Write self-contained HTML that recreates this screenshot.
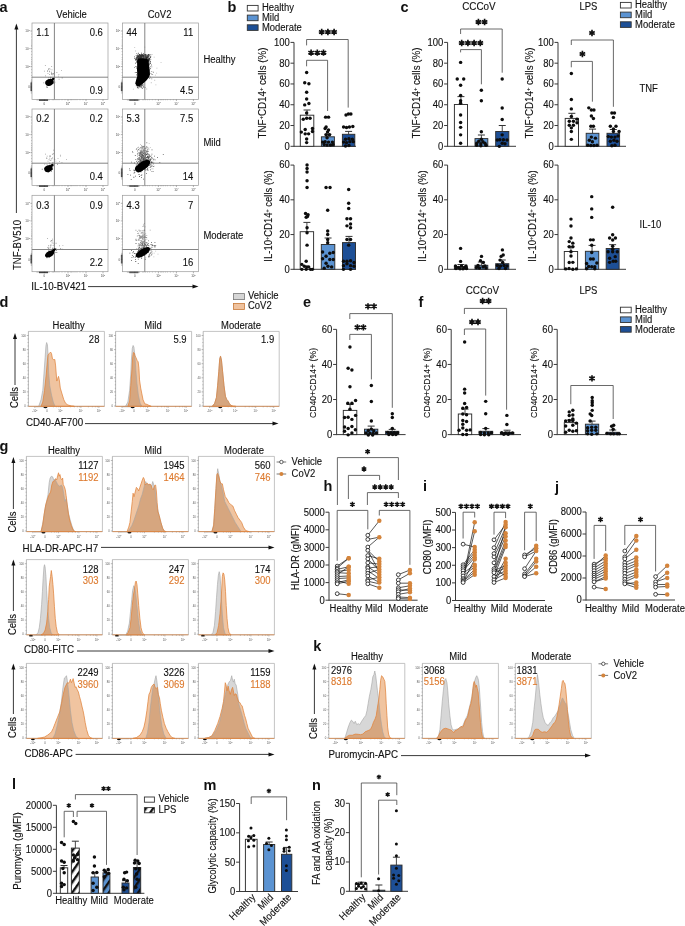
<!DOCTYPE html>
<html><head><meta charset="utf-8"><style>
html,body{margin:0;padding:0;background:#fff;}
svg{display:block;will-change:transform;font-family:"Liberation Sans", sans-serif;}
</style></head><body>
<svg width="685" height="926" viewBox="0 0 685 926">
<defs>
<filter id="soft" x="-20%" y="-20%" width="140%" height="140%"><feGaussianBlur stdDeviation="0.35"/></filter>
<pattern id="hatch" patternUnits="userSpaceOnUse" width="6" height="6" patternTransform="rotate(35)">
<rect width="6" height="6" fill="#fff"/><rect width="2.4" height="6" fill="#111"/></pattern>
<pattern id="hatchM" patternUnits="userSpaceOnUse" width="6" height="6" patternTransform="rotate(35)">
<rect width="6" height="6" fill="#5b93d2"/><rect width="2.4" height="6" fill="#111"/></pattern>
<pattern id="hatchD" patternUnits="userSpaceOnUse" width="6" height="6" patternTransform="rotate(35)">
<rect width="6" height="6" fill="#1d4f96"/><rect width="2.4" height="6" fill="#111"/></pattern>
</defs>
<rect width="685" height="926" fill="#fff"/>
<text x="0" y="0" font-size="14.5" font-weight="bold" fill="#111" transform="translate(-0.5 11.5)">a</text>
<text x="0" y="0" font-size="10.2" text-anchor="middle" fill="#111" stroke="#111" stroke-width="0.12" transform="translate(71.6 17.6) scale(0.93 1)">Vehicle</text>
<text x="0" y="0" font-size="10.2" text-anchor="middle" fill="#111" stroke="#111" stroke-width="0.12" transform="translate(159.6 17.6) scale(0.93 1)">CoV2</text>
<text x="0" y="0" font-size="10.2" fill="#111" stroke="#111" stroke-width="0.12" transform="translate(203.4 62.6) scale(0.93 1)">Healthy</text>
<text x="0" y="0" font-size="10.2" fill="#111" stroke="#111" stroke-width="0.12" transform="translate(203.4 145.8) scale(0.93 1)">Mild</text>
<text x="0" y="0" font-size="10.2" fill="#111" stroke="#111" stroke-width="0.12" transform="translate(203.4 238.8) scale(0.93 1)">Moderate</text>
<line x1="16.4" y1="27.6" x2="16.4" y2="213" stroke="#222" stroke-width="0.9"/>
<path d="M16.4 23.6L14.4 29.6L18.4 29.6Z" fill="#111" stroke="none" stroke-width="1"/>
<text x="0" y="0" font-size="10.2" text-anchor="middle" fill="#111" stroke="#111" stroke-width="0.12" transform="translate(20.6 245) rotate(-90) scale(0.93 1)">TNF-BV510</text>
<text x="0" y="0" font-size="10.2" fill="#111" stroke="#111" stroke-width="0.12" transform="translate(31.3 290) scale(0.96 1)">IL-10-BV421</text>
<line x1="88" y1="286.6" x2="194.5" y2="286.6" stroke="#222" stroke-width="0.9"/>
<path d="M198.5 286.6L192.5 284.6L192.5 288.6Z" fill="#111" stroke="none" stroke-width="1"/>
<rect x="32" y="23" width="76" height="76.4" fill="none" stroke="#9a9a9a" stroke-width="0.7"/>
<text x="0" y="0" font-size="3.2" text-anchor="end" fill="#444" transform="translate(29.8 32.2) scale(0.93 1)">10<tspan dy="-1.3" font-size="2.2">5</tspan></text>
<line x1="30.4" y1="31" x2="32" y2="31" stroke="#666" stroke-width="0.5"/>
<text x="0" y="0" font-size="3.2" text-anchor="end" fill="#444" transform="translate(29.8 49.8) scale(0.93 1)">10<tspan dy="-1.3" font-size="2.2">4</tspan></text>
<line x1="30.4" y1="48.6" x2="32" y2="48.6" stroke="#666" stroke-width="0.5"/>
<text x="0" y="0" font-size="3.2" text-anchor="end" fill="#444" transform="translate(29.8 67.8) scale(0.93 1)">10<tspan dy="-1.3" font-size="2.2">3</tspan></text>
<line x1="30.4" y1="66.6" x2="32" y2="66.6" stroke="#666" stroke-width="0.5"/>
<text x="0" y="0" font-size="3.2" text-anchor="end" fill="#444" transform="translate(29.8 88.2) scale(0.93 1)">0</text>
<line x1="30.4" y1="87" x2="32" y2="87" stroke="#666" stroke-width="0.5"/>
<text x="0" y="0" font-size="3.2" text-anchor="middle" fill="#444" transform="translate(44.4 104.6) scale(0.93 1)">0</text>
<line x1="44.4" y1="99.4" x2="44.4" y2="101" stroke="#666" stroke-width="0.5"/>
<text x="0" y="0" font-size="3.2" text-anchor="middle" fill="#444" transform="translate(68 104.6) scale(0.93 1)">10<tspan dy="-1.3" font-size="2.2">3</tspan></text>
<line x1="68" y1="99.4" x2="68" y2="101" stroke="#666" stroke-width="0.5"/>
<text x="0" y="0" font-size="3.2" text-anchor="middle" fill="#444" transform="translate(86 104.6) scale(0.93 1)">10<tspan dy="-1.3" font-size="2.2">4</tspan></text>
<line x1="86" y1="99.4" x2="86" y2="101" stroke="#666" stroke-width="0.5"/>
<text x="0" y="0" font-size="3.2" text-anchor="middle" fill="#444" transform="translate(103 104.6) scale(0.93 1)">10<tspan dy="-1.3" font-size="2.2">5</tspan></text>
<line x1="103" y1="99.4" x2="103" y2="101" stroke="#666" stroke-width="0.5"/>
<path d="M30.8 81h1.2M37 99.4v1.2M30.8 82.1h1.2M38.1 99.4v1.2M30.8 83.2h1.2M39.2 99.4v1.2M30.8 84.3h1.2M40.3 99.4v1.2M30.8 85.4h1.2M41.4 99.4v1.2M30.8 86.5h1.2M42.5 99.4v1.2M30.8 87.6h1.2M43.6 99.4v1.2M30.8 88.7h1.2M44.7 99.4v1.2M30.8 89.8h1.2M45.8 99.4v1.2M30.8 90.9h1.2M46.9 99.4v1.2M30.8 92h1.2M48 99.4v1.2M30.8 93.1h1.2M49.1 99.4v1.2M31.1 34h0.9M31.1 37h0.9M31.1 40h0.9M31.1 42h0.9M31.1 44h0.9M31.1 45.5h0.9M31.1 46.7h0.9M31.1 51.6h0.9M31.1 54.6h0.9M31.1 57.6h0.9M31.1 59.6h0.9M31.1 61.6h0.9M31.1 63.1h0.9M31.1 64.3h0.9M31.1 69.6h0.9M31.1 72.6h0.9M31.1 75.6h0.9M31.1 77.6h0.9M31.1 79.6h0.9M31.1 81.1h0.9M31.1 82.3h0.9M65 99.4v0.9M62 99.4v0.9M59 99.4v0.9M57 99.4v0.9M55 99.4v0.9M53.5 99.4v0.9M52.3 99.4v0.9M83 99.4v0.9M80 99.4v0.9M77 99.4v0.9M75 99.4v0.9M73 99.4v0.9M71.5 99.4v0.9M70.3 99.4v0.9" stroke="#777" stroke-width="0.4" fill="none"/>
<path d="M30.5 83h1.5M39.5 99.4v1.5M30.5 83.95h1.5M40.5 99.4v1.5M30.5 84.9h1.5M41.5 99.4v1.5M30.5 85.85h1.5M42.5 99.4v1.5M30.5 86.8h1.5M43.5 99.4v1.5M30.5 87.75h1.5M44.5 99.4v1.5M30.5 88.7h1.5M45.5 99.4v1.5M30.5 89.65h1.5M46.5 99.4v1.5M30.5 90.6h1.5M47.5 99.4v1.5" stroke="#1a1a1a" stroke-width="0.8" fill="none"/>
<path d="M49.23 74.05h0.8v0.8h-0.8zM49.32 70.74h0.8v0.8h-0.8zM47.21 71.15h0.8v0.8h-0.8zM53.34 73.7h0.8v0.8h-0.8zM53.11 73h0.8v0.8h-0.8zM51.18 72.74h0.8v0.8h-0.8zM45 75.42h0.8v0.8h-0.8zM51.52 74h0.8v0.8h-0.8zM44.93 65.02h0.8v0.8h-0.8zM47.33 70.13h0.8v0.8h-0.8zM50.92 71.82h0.8v0.8h-0.8zM51.56 69.43h0.8v0.8h-0.8zM50.93 73.58h0.8v0.8h-0.8zM48.02 78.87h0.8v0.8h-0.8zM51.67 76.79h0.8v0.8h-0.8zM48.14 69.04h0.8v0.8h-0.8zM48.97 71.57h0.8v0.8h-0.8zM51.9 72.99h0.8v0.8h-0.8zM48.66 68.17h0.8v0.8h-0.8zM48.44 76.88h0.8v0.8h-0.8zM47.58 72.98h0.8v0.8h-0.8zM51.28 66.04h0.8v0.8h-0.8zM50.15 77.22h0.8v0.8h-0.8zM43.96 70.71h0.8v0.8h-0.8zM49.68 68.73h0.8v0.8h-0.8z" fill="#888"/>
<path d="M57.99 75.81h0.8v0.8h-0.8zM50.14 78.48h0.8v0.8h-0.8zM58.68 78.84h0.8v0.8h-0.8zM61.76 77.09h0.8v0.8h-0.8zM56.48 72.1h0.8v0.8h-0.8zM58.46 74.16h0.8v0.8h-0.8zM54.19 72.21h0.8v0.8h-0.8zM52.13 74.41h0.8v0.8h-0.8zM61.16 69.9h0.8v0.8h-0.8zM50.17 76.72h0.8v0.8h-0.8zM61.77 77.74h0.8v0.8h-0.8zM48.4 68.45h0.8v0.8h-0.8z" fill="#999"/>
<path d="M49.88 79.9h0.8v0.8h-0.8zM47.18 85.45h0.8v0.8h-0.8zM52.74 81.24h0.8v0.8h-0.8zM50.56 82.77h0.8v0.8h-0.8zM54.52 81.82h0.8v0.8h-0.8zM51.43 82.75h0.8v0.8h-0.8zM46.17 86.62h0.8v0.8h-0.8zM52.65 82.26h0.8v0.8h-0.8zM43.39 82.54h0.8v0.8h-0.8zM50.33 76.88h0.8v0.8h-0.8zM49.85 84.58h0.8v0.8h-0.8zM47.18 87.13h0.8v0.8h-0.8zM50.93 81.08h0.8v0.8h-0.8zM50.97 83.19h0.8v0.8h-0.8zM50.82 84.57h0.8v0.8h-0.8zM47.28 81.7h0.8v0.8h-0.8zM52.46 80.99h0.8v0.8h-0.8zM47.83 85.13h0.8v0.8h-0.8zM53.25 79.45h0.8v0.8h-0.8zM45.49 83.1h0.8v0.8h-0.8zM48.83 81.45h0.8v0.8h-0.8zM52.58 78.15h0.8v0.8h-0.8zM51.97 77.73h0.8v0.8h-0.8zM47.82 84.29h0.8v0.8h-0.8zM53.42 82.86h0.8v0.8h-0.8z" fill="#666"/>
<line x1="54.4" y1="23" x2="54.4" y2="99.4" stroke="#777" stroke-width="0.9"/>
<line x1="32" y1="77.2" x2="108" y2="77.2" stroke="#777" stroke-width="0.9"/>
<g fill="#050505" filter="url(#soft)"><ellipse cx="49.4" cy="82.4" rx="4.3" ry="3.3" transform="rotate(-22 49.4 82.4)"/><ellipse cx="52.5" cy="79.6" rx="2.4" ry="1.2" transform="rotate(-40 52.5 79.6)"/></g>
<text x="0" y="0" font-size="10.2" fill="#111" stroke="#111" stroke-width="0.12" transform="translate(36.2 36.4) scale(0.93 1)">1.1</text>
<text x="0" y="0" font-size="10.2" text-anchor="end" fill="#111" stroke="#111" stroke-width="0.12" transform="translate(102.8 36.4) scale(0.93 1)">0.6</text>
<text x="0" y="0" font-size="10.2" text-anchor="end" fill="#111" stroke="#111" stroke-width="0.12" transform="translate(102.8 93.6) scale(0.93 1)">0.9</text>
<rect x="122.4" y="23" width="76" height="76.4" fill="none" stroke="#9a9a9a" stroke-width="0.7"/>
<text x="0" y="0" font-size="3.2" text-anchor="end" fill="#444" transform="translate(120.2 32.2) scale(0.93 1)">10<tspan dy="-1.3" font-size="2.2">5</tspan></text>
<line x1="120.8" y1="31" x2="122.4" y2="31" stroke="#666" stroke-width="0.5"/>
<text x="0" y="0" font-size="3.2" text-anchor="end" fill="#444" transform="translate(120.2 49.8) scale(0.93 1)">10<tspan dy="-1.3" font-size="2.2">4</tspan></text>
<line x1="120.8" y1="48.6" x2="122.4" y2="48.6" stroke="#666" stroke-width="0.5"/>
<text x="0" y="0" font-size="3.2" text-anchor="end" fill="#444" transform="translate(120.2 67.8) scale(0.93 1)">10<tspan dy="-1.3" font-size="2.2">3</tspan></text>
<line x1="120.8" y1="66.6" x2="122.4" y2="66.6" stroke="#666" stroke-width="0.5"/>
<text x="0" y="0" font-size="3.2" text-anchor="end" fill="#444" transform="translate(120.2 88.2) scale(0.93 1)">0</text>
<line x1="120.8" y1="87" x2="122.4" y2="87" stroke="#666" stroke-width="0.5"/>
<text x="0" y="0" font-size="3.2" text-anchor="middle" fill="#444" transform="translate(134.8 104.6) scale(0.93 1)">0</text>
<line x1="134.8" y1="99.4" x2="134.8" y2="101" stroke="#666" stroke-width="0.5"/>
<text x="0" y="0" font-size="3.2" text-anchor="middle" fill="#444" transform="translate(158.4 104.6) scale(0.93 1)">10<tspan dy="-1.3" font-size="2.2">3</tspan></text>
<line x1="158.4" y1="99.4" x2="158.4" y2="101" stroke="#666" stroke-width="0.5"/>
<text x="0" y="0" font-size="3.2" text-anchor="middle" fill="#444" transform="translate(176.4 104.6) scale(0.93 1)">10<tspan dy="-1.3" font-size="2.2">4</tspan></text>
<line x1="176.4" y1="99.4" x2="176.4" y2="101" stroke="#666" stroke-width="0.5"/>
<text x="0" y="0" font-size="3.2" text-anchor="middle" fill="#444" transform="translate(193.4 104.6) scale(0.93 1)">10<tspan dy="-1.3" font-size="2.2">5</tspan></text>
<line x1="193.4" y1="99.4" x2="193.4" y2="101" stroke="#666" stroke-width="0.5"/>
<path d="M121.2 81h1.2M127.4 99.4v1.2M121.2 82.1h1.2M128.5 99.4v1.2M121.2 83.2h1.2M129.6 99.4v1.2M121.2 84.3h1.2M130.7 99.4v1.2M121.2 85.4h1.2M131.8 99.4v1.2M121.2 86.5h1.2M132.9 99.4v1.2M121.2 87.6h1.2M134 99.4v1.2M121.2 88.7h1.2M135.1 99.4v1.2M121.2 89.8h1.2M136.2 99.4v1.2M121.2 90.9h1.2M137.3 99.4v1.2M121.2 92h1.2M138.4 99.4v1.2M121.2 93.1h1.2M139.5 99.4v1.2M121.5 34h0.9M121.5 37h0.9M121.5 40h0.9M121.5 42h0.9M121.5 44h0.9M121.5 45.5h0.9M121.5 46.7h0.9M121.5 51.6h0.9M121.5 54.6h0.9M121.5 57.6h0.9M121.5 59.6h0.9M121.5 61.6h0.9M121.5 63.1h0.9M121.5 64.3h0.9M121.5 69.6h0.9M121.5 72.6h0.9M121.5 75.6h0.9M121.5 77.6h0.9M121.5 79.6h0.9M121.5 81.1h0.9M121.5 82.3h0.9M155.4 99.4v0.9M152.4 99.4v0.9M149.4 99.4v0.9M147.4 99.4v0.9M145.4 99.4v0.9M143.9 99.4v0.9M142.7 99.4v0.9M173.4 99.4v0.9M170.4 99.4v0.9M167.4 99.4v0.9M165.4 99.4v0.9M163.4 99.4v0.9M161.9 99.4v0.9M160.7 99.4v0.9" stroke="#777" stroke-width="0.4" fill="none"/>
<path d="M120.9 83h1.5M129.9 99.4v1.5M120.9 83.95h1.5M130.9 99.4v1.5M120.9 84.9h1.5M131.9 99.4v1.5M120.9 85.85h1.5M132.9 99.4v1.5M120.9 86.8h1.5M133.9 99.4v1.5M120.9 87.75h1.5M134.9 99.4v1.5M120.9 88.7h1.5M135.9 99.4v1.5M120.9 89.65h1.5M136.9 99.4v1.5M120.9 90.6h1.5M137.9 99.4v1.5" stroke="#1a1a1a" stroke-width="0.8" fill="none"/>
<path d="M143.3 59.47h0.8v0.8h-0.8zM142.74 60.29h0.8v0.8h-0.8zM141.79 59.73h0.8v0.8h-0.8zM143.96 59.2h0.8v0.8h-0.8zM144.52 60.28h0.8v0.8h-0.8zM148.13 59.82h0.8v0.8h-0.8zM141.06 58.49h0.8v0.8h-0.8zM142.26 60.96h0.8v0.8h-0.8zM141.32 59.93h0.8v0.8h-0.8zM147.63 54.33h0.8v0.8h-0.8zM139.04 59.66h0.8v0.8h-0.8zM143.46 59.65h0.8v0.8h-0.8zM141.05 60.44h0.8v0.8h-0.8zM143.12 58.21h0.8v0.8h-0.8zM149.35 59.87h0.8v0.8h-0.8zM140.69 59.01h0.8v0.8h-0.8zM141.65 59.08h0.8v0.8h-0.8zM134.39 58.27h0.8v0.8h-0.8zM145.22 56.98h0.8v0.8h-0.8zM142.11 61.01h0.8v0.8h-0.8zM144.78 62.03h0.8v0.8h-0.8zM137.37 58.53h0.8v0.8h-0.8zM141.31 60.38h0.8v0.8h-0.8zM145.47 54.1h0.8v0.8h-0.8zM145.46 56.45h0.8v0.8h-0.8zM144.28 56.36h0.8v0.8h-0.8zM142.81 61.47h0.8v0.8h-0.8zM141.87 59.56h0.8v0.8h-0.8zM144.61 59.47h0.8v0.8h-0.8zM142.04 62.11h0.8v0.8h-0.8zM145.34 58.64h0.8v0.8h-0.8zM150.26 57.02h0.8v0.8h-0.8zM144.95 58.7h0.8v0.8h-0.8zM142.68 60.54h0.8v0.8h-0.8zM142.94 60.41h0.8v0.8h-0.8zM137.87 56.33h0.8v0.8h-0.8zM144.08 57.37h0.8v0.8h-0.8zM139.32 56.41h0.8v0.8h-0.8zM145.97 60.62h0.8v0.8h-0.8zM146.57 57.42h0.8v0.8h-0.8zM142.3 57.03h0.8v0.8h-0.8zM144.52 62.22h0.8v0.8h-0.8zM139.72 62.16h0.8v0.8h-0.8zM145.17 58.86h0.8v0.8h-0.8zM136.58 61.87h0.8v0.8h-0.8zM142.02 58.05h0.8v0.8h-0.8zM143.46 59.98h0.8v0.8h-0.8zM146.64 57.26h0.8v0.8h-0.8zM145.6 62.03h0.8v0.8h-0.8zM146.51 58.86h0.8v0.8h-0.8zM140.14 61.14h0.8v0.8h-0.8zM142.63 59.44h0.8v0.8h-0.8zM146.43 58.7h0.8v0.8h-0.8zM135.64 58.46h0.8v0.8h-0.8zM136.92 60.76h0.8v0.8h-0.8zM143.22 58.04h0.8v0.8h-0.8zM142.27 60.78h0.8v0.8h-0.8zM142.53 61.72h0.8v0.8h-0.8zM142.12 61.18h0.8v0.8h-0.8zM146.63 62.26h0.8v0.8h-0.8zM140.35 60.87h0.8v0.8h-0.8zM136.86 57.14h0.8v0.8h-0.8zM136.61 61.23h0.8v0.8h-0.8zM138.73 59.18h0.8v0.8h-0.8zM141.74 59.15h0.8v0.8h-0.8zM140.58 59.64h0.8v0.8h-0.8zM147.49 59.28h0.8v0.8h-0.8zM143.84 61.1h0.8v0.8h-0.8zM141.73 56.81h0.8v0.8h-0.8zM140.69 61.24h0.8v0.8h-0.8zM137.53 58.06h0.8v0.8h-0.8zM145.22 60.71h0.8v0.8h-0.8zM142.32 60.73h0.8v0.8h-0.8zM142.78 56.96h0.8v0.8h-0.8zM137.76 57.99h0.8v0.8h-0.8zM144.98 58.13h0.8v0.8h-0.8zM139.68 57.74h0.8v0.8h-0.8zM137.86 58.98h0.8v0.8h-0.8zM138.88 59.89h0.8v0.8h-0.8zM135.46 59.82h0.8v0.8h-0.8zM140.44 55.51h0.8v0.8h-0.8zM144.4 58.68h0.8v0.8h-0.8zM135.83 57.54h0.8v0.8h-0.8zM143.14 58.33h0.8v0.8h-0.8zM144.56 60.62h0.8v0.8h-0.8zM144.23 59.82h0.8v0.8h-0.8zM146.17 60.45h0.8v0.8h-0.8zM143.61 55.24h0.8v0.8h-0.8zM144.9 61.69h0.8v0.8h-0.8zM141.44 58.31h0.8v0.8h-0.8zM147.93 55.86h0.8v0.8h-0.8zM143.66 63.81h0.8v0.8h-0.8zM139.61 60.51h0.8v0.8h-0.8zM147.77 58.97h0.8v0.8h-0.8zM143.93 60.91h0.8v0.8h-0.8zM139.67 59.03h0.8v0.8h-0.8zM143.15 60.77h0.8v0.8h-0.8zM142.2 58.83h0.8v0.8h-0.8zM139.35 58.52h0.8v0.8h-0.8zM144.89 59.39h0.8v0.8h-0.8zM139.83 57.6h0.8v0.8h-0.8zM150.03 61.37h0.8v0.8h-0.8zM144.15 54.27h0.8v0.8h-0.8zM144.1 60.11h0.8v0.8h-0.8zM147.18 60.01h0.8v0.8h-0.8zM142.1 60.19h0.8v0.8h-0.8zM136.66 61.16h0.8v0.8h-0.8zM143.24 57.87h0.8v0.8h-0.8zM146.14 62.64h0.8v0.8h-0.8zM138.23 57.93h0.8v0.8h-0.8zM143.14 59.55h0.8v0.8h-0.8zM141.14 57.35h0.8v0.8h-0.8zM148.45 61.17h0.8v0.8h-0.8zM138.84 56.64h0.8v0.8h-0.8zM147.24 61.08h0.8v0.8h-0.8zM147.58 60.74h0.8v0.8h-0.8zM139.77 59.7h0.8v0.8h-0.8zM136.04 57.78h0.8v0.8h-0.8zM142.13 60.19h0.8v0.8h-0.8zM140.19 58.96h0.8v0.8h-0.8zM143.63 59.92h0.8v0.8h-0.8zM144.15 59.6h0.8v0.8h-0.8zM141.36 60.7h0.8v0.8h-0.8zM142.44 57.63h0.8v0.8h-0.8zM140.48 59.2h0.8v0.8h-0.8zM141.98 59.5h0.8v0.8h-0.8zM142.3 59.53h0.8v0.8h-0.8zM141.91 56.81h0.8v0.8h-0.8zM143.52 61.2h0.8v0.8h-0.8zM143.56 58.84h0.8v0.8h-0.8zM143.59 57.37h0.8v0.8h-0.8zM136.8 59.31h0.8v0.8h-0.8zM139.6 60.61h0.8v0.8h-0.8zM139.16 54.21h0.8v0.8h-0.8zM139.29 62.2h0.8v0.8h-0.8zM141.19 56.6h0.8v0.8h-0.8zM140.09 60.19h0.8v0.8h-0.8zM143.74 59.54h0.8v0.8h-0.8zM146.6 60.54h0.8v0.8h-0.8zM142.24 60.33h0.8v0.8h-0.8zM147.1 61.05h0.8v0.8h-0.8zM145.27 57.14h0.8v0.8h-0.8zM141.87 60.59h0.8v0.8h-0.8zM141.44 61.23h0.8v0.8h-0.8zM144.03 60.93h0.8v0.8h-0.8zM141.68 64.04h0.8v0.8h-0.8zM145.9 58.79h0.8v0.8h-0.8zM142.56 64.13h0.8v0.8h-0.8zM141.3 60.86h0.8v0.8h-0.8zM145.14 59.21h0.8v0.8h-0.8zM138.92 59.56h0.8v0.8h-0.8zM143.34 61.35h0.8v0.8h-0.8zM144.57 59.25h0.8v0.8h-0.8zM144.78 60.23h0.8v0.8h-0.8zM142.9 59.3h0.8v0.8h-0.8zM141.59 60.5h0.8v0.8h-0.8zM139.24 58.01h0.8v0.8h-0.8zM142.31 56.42h0.8v0.8h-0.8zM141.04 55.38h0.8v0.8h-0.8zM140.32 60.28h0.8v0.8h-0.8zM143.94 59.1h0.8v0.8h-0.8zM141.63 56.51h0.8v0.8h-0.8zM147.6 60.18h0.8v0.8h-0.8zM145.47 57.52h0.8v0.8h-0.8zM141.76 55.74h0.8v0.8h-0.8zM144.56 60.98h0.8v0.8h-0.8zM136.8 59.1h0.8v0.8h-0.8zM144.13 55.85h0.8v0.8h-0.8zM137.01 57.18h0.8v0.8h-0.8zM140.48 56.53h0.8v0.8h-0.8zM142.39 59.67h0.8v0.8h-0.8zM144.14 60.53h0.8v0.8h-0.8zM146.66 61.41h0.8v0.8h-0.8zM138.5 58.24h0.8v0.8h-0.8zM139.23 57.15h0.8v0.8h-0.8zM142.06 59.21h0.8v0.8h-0.8zM143.72 56.18h0.8v0.8h-0.8zM138.71 59.16h0.8v0.8h-0.8zM141.72 58.61h0.8v0.8h-0.8zM142.12 57.76h0.8v0.8h-0.8zM144.33 59.87h0.8v0.8h-0.8zM142.05 57.92h0.8v0.8h-0.8zM141.79 54.03h0.8v0.8h-0.8zM139.45 59.27h0.8v0.8h-0.8zM137.94 59.58h0.8v0.8h-0.8zM142.73 56.58h0.8v0.8h-0.8zM141.57 58.6h0.8v0.8h-0.8zM143.63 60.36h0.8v0.8h-0.8zM142.19 57.58h0.8v0.8h-0.8zM141.88 59.08h0.8v0.8h-0.8zM144.43 59.76h0.8v0.8h-0.8zM140.2 56.63h0.8v0.8h-0.8zM141.22 57.79h0.8v0.8h-0.8zM139.08 58.98h0.8v0.8h-0.8zM140.88 59.4h0.8v0.8h-0.8zM143.82 58.42h0.8v0.8h-0.8zM149.04 58.59h0.8v0.8h-0.8zM145.49 59.43h0.8v0.8h-0.8zM145.54 54.69h0.8v0.8h-0.8zM140.12 59.67h0.8v0.8h-0.8zM144.05 63.64h0.8v0.8h-0.8zM143.24 61.63h0.8v0.8h-0.8zM144.52 61h0.8v0.8h-0.8zM143.78 58.9h0.8v0.8h-0.8zM143.78 57.15h0.8v0.8h-0.8zM145.73 57.27h0.8v0.8h-0.8zM143.02 63.23h0.8v0.8h-0.8zM141.65 59.24h0.8v0.8h-0.8zM145.67 59.25h0.8v0.8h-0.8zM139.96 59.69h0.8v0.8h-0.8zM143.99 60.55h0.8v0.8h-0.8zM140.06 62.53h0.8v0.8h-0.8zM147.13 59.23h0.8v0.8h-0.8zM143.08 58.39h0.8v0.8h-0.8zM146.4 57.86h0.8v0.8h-0.8zM144.25 58.29h0.8v0.8h-0.8zM140.29 60.57h0.8v0.8h-0.8zM146.17 59.18h0.8v0.8h-0.8zM140.34 60.74h0.8v0.8h-0.8zM142.16 59.79h0.8v0.8h-0.8zM146.72 61.35h0.8v0.8h-0.8zM140.79 63.54h0.8v0.8h-0.8zM142.31 60.69h0.8v0.8h-0.8zM140.42 59.12h0.8v0.8h-0.8zM137.23 62.59h0.8v0.8h-0.8zM146.26 56.89h0.8v0.8h-0.8zM137.93 56.12h0.8v0.8h-0.8zM145.71 58.33h0.8v0.8h-0.8zM142.12 58.61h0.8v0.8h-0.8zM141.95 57.13h0.8v0.8h-0.8zM142.37 56.47h0.8v0.8h-0.8zM142.09 59.79h0.8v0.8h-0.8zM143.66 58.76h0.8v0.8h-0.8zM139.68 59.5h0.8v0.8h-0.8zM140.89 62.18h0.8v0.8h-0.8zM144.53 58.98h0.8v0.8h-0.8zM140.93 57.86h0.8v0.8h-0.8zM139.58 58.53h0.8v0.8h-0.8zM143.15 60.18h0.8v0.8h-0.8zM143.95 63.19h0.8v0.8h-0.8zM140.26 59.22h0.8v0.8h-0.8zM150.4 55.65h0.8v0.8h-0.8zM140.79 59.52h0.8v0.8h-0.8zM142.75 59.97h0.8v0.8h-0.8zM141.61 59.9h0.8v0.8h-0.8zM142.45 60.67h0.8v0.8h-0.8zM136.81 57.52h0.8v0.8h-0.8zM142.29 57.24h0.8v0.8h-0.8zM139.27 60.39h0.8v0.8h-0.8zM140.42 60.41h0.8v0.8h-0.8zM144.46 59.78h0.8v0.8h-0.8zM143.77 59h0.8v0.8h-0.8zM138.21 59.14h0.8v0.8h-0.8zM143.62 58.19h0.8v0.8h-0.8zM142.01 60.62h0.8v0.8h-0.8zM139.75 60.42h0.8v0.8h-0.8zM147.7 58.15h0.8v0.8h-0.8zM142.72 58.91h0.8v0.8h-0.8zM146.77 59.8h0.8v0.8h-0.8zM144.9 57.89h0.8v0.8h-0.8zM142.25 59.18h0.8v0.8h-0.8zM137.15 61.94h0.8v0.8h-0.8zM144.91 55.88h0.8v0.8h-0.8zM144.46 58.95h0.8v0.8h-0.8zM143.6 59.9h0.8v0.8h-0.8zM137.95 58.8h0.8v0.8h-0.8zM146.63 58.11h0.8v0.8h-0.8zM139.33 56.62h0.8v0.8h-0.8zM138.76 59.84h0.8v0.8h-0.8zM147.21 60.02h0.8v0.8h-0.8zM143.01 63.44h0.8v0.8h-0.8zM140.79 57.92h0.8v0.8h-0.8zM143.83 60.24h0.8v0.8h-0.8zM139.36 56.98h0.8v0.8h-0.8zM143.14 59.67h0.8v0.8h-0.8zM138.51 58.82h0.8v0.8h-0.8zM140.73 60.07h0.8v0.8h-0.8zM141.96 59.04h0.8v0.8h-0.8zM141.27 61.2h0.8v0.8h-0.8zM146.33 58.5h0.8v0.8h-0.8zM144.75 57.76h0.8v0.8h-0.8zM142.51 60.62h0.8v0.8h-0.8zM146.69 58.47h0.8v0.8h-0.8zM142.09 59.57h0.8v0.8h-0.8zM137.96 59.23h0.8v0.8h-0.8zM140.34 59.91h0.8v0.8h-0.8zM139.02 55.44h0.8v0.8h-0.8zM142.41 59.7h0.8v0.8h-0.8zM140.71 60.89h0.8v0.8h-0.8zM141.51 58.05h0.8v0.8h-0.8zM143.69 56.22h0.8v0.8h-0.8zM140.34 59.16h0.8v0.8h-0.8zM144.76 58.89h0.8v0.8h-0.8zM143.19 57.95h0.8v0.8h-0.8zM143.17 62.36h0.8v0.8h-0.8zM140.31 63.7h0.8v0.8h-0.8zM140.43 59.23h0.8v0.8h-0.8zM142.8 61.15h0.8v0.8h-0.8zM138.71 55.21h0.8v0.8h-0.8zM144.06 60.71h0.8v0.8h-0.8zM144.11 64.2h0.8v0.8h-0.8zM142.89 59.68h0.8v0.8h-0.8zM144.99 59.9h0.8v0.8h-0.8zM147.12 56.85h0.8v0.8h-0.8zM141.21 52.66h0.8v0.8h-0.8zM144.66 58.49h0.8v0.8h-0.8zM144.98 63.29h0.8v0.8h-0.8zM142.28 58.72h0.8v0.8h-0.8zM140.85 57.61h0.8v0.8h-0.8zM140.47 60.41h0.8v0.8h-0.8zM142.41 59.33h0.8v0.8h-0.8zM141.8 60.94h0.8v0.8h-0.8zM143.73 58.93h0.8v0.8h-0.8zM144.23 58.91h0.8v0.8h-0.8zM138.96 61.97h0.8v0.8h-0.8zM143.65 57.38h0.8v0.8h-0.8zM145.43 59.86h0.8v0.8h-0.8zM137.76 62.26h0.8v0.8h-0.8zM143.27 60.89h0.8v0.8h-0.8zM142.87 58.92h0.8v0.8h-0.8zM137.81 61.05h0.8v0.8h-0.8zM142.39 58.66h0.8v0.8h-0.8zM143.32 59.35h0.8v0.8h-0.8zM144.26 58.5h0.8v0.8h-0.8zM142.19 55.14h0.8v0.8h-0.8zM141.07 60.48h0.8v0.8h-0.8zM146.18 58.51h0.8v0.8h-0.8zM141.95 62.21h0.8v0.8h-0.8zM141.36 60.59h0.8v0.8h-0.8zM147.17 59.28h0.8v0.8h-0.8zM145.86 57.85h0.8v0.8h-0.8zM142.9 59.05h0.8v0.8h-0.8zM142.63 61.35h0.8v0.8h-0.8zM149.23 57.94h0.8v0.8h-0.8zM140.63 60.15h0.8v0.8h-0.8zM139.24 60.14h0.8v0.8h-0.8zM143.96 58.67h0.8v0.8h-0.8zM143.84 56.26h0.8v0.8h-0.8zM144.5 56.26h0.8v0.8h-0.8zM140.28 58.14h0.8v0.8h-0.8zM141.14 60.83h0.8v0.8h-0.8zM142.54 58.44h0.8v0.8h-0.8zM143.88 62.2h0.8v0.8h-0.8zM142.32 59.9h0.8v0.8h-0.8zM145.9 59.71h0.8v0.8h-0.8zM138.58 63.93h0.8v0.8h-0.8zM148.7 55.43h0.8v0.8h-0.8zM142.19 59.99h0.8v0.8h-0.8zM145.1 60.47h0.8v0.8h-0.8zM141.51 57.2h0.8v0.8h-0.8zM142.6 61.16h0.8v0.8h-0.8zM139.14 57.25h0.8v0.8h-0.8zM142.23 55.52h0.8v0.8h-0.8zM141.55 58.37h0.8v0.8h-0.8zM143.61 57.87h0.8v0.8h-0.8zM139.74 58.45h0.8v0.8h-0.8zM142.16 57.94h0.8v0.8h-0.8zM142.34 60.63h0.8v0.8h-0.8zM145.74 62.44h0.8v0.8h-0.8zM140.03 58.4h0.8v0.8h-0.8zM135.1 62.81h0.8v0.8h-0.8zM140.2 59.14h0.8v0.8h-0.8zM143.82 56.62h0.8v0.8h-0.8zM143.65 59.15h0.8v0.8h-0.8zM137 59.75h0.8v0.8h-0.8zM145.76 55.65h0.8v0.8h-0.8zM144.64 59.6h0.8v0.8h-0.8zM143.68 60.04h0.8v0.8h-0.8zM146.08 58.78h0.8v0.8h-0.8zM144.83 58.42h0.8v0.8h-0.8zM144.41 57.65h0.8v0.8h-0.8zM141.99 62.49h0.8v0.8h-0.8zM143.59 58.9h0.8v0.8h-0.8zM138.98 57.7h0.8v0.8h-0.8zM142.86 60.98h0.8v0.8h-0.8zM143.54 60.2h0.8v0.8h-0.8zM142.18 61.77h0.8v0.8h-0.8zM141.17 58.16h0.8v0.8h-0.8zM144.88 59.32h0.8v0.8h-0.8zM141.49 58.11h0.8v0.8h-0.8zM141.56 60.38h0.8v0.8h-0.8zM143.33 56.9h0.8v0.8h-0.8zM143.54 59.54h0.8v0.8h-0.8zM139.4 60.67h0.8v0.8h-0.8zM141.49 58.56h0.8v0.8h-0.8zM144.61 61.71h0.8v0.8h-0.8zM140.3 60.03h0.8v0.8h-0.8zM139.76 63.6h0.8v0.8h-0.8zM140.87 61.47h0.8v0.8h-0.8zM140.42 60.74h0.8v0.8h-0.8zM148.73 54.37h0.8v0.8h-0.8zM141.04 60.15h0.8v0.8h-0.8zM142.03 57.93h0.8v0.8h-0.8zM148.54 59.35h0.8v0.8h-0.8zM137.53 60.82h0.8v0.8h-0.8zM137.31 61.39h0.8v0.8h-0.8zM140.62 59.48h0.8v0.8h-0.8zM145.96 59.42h0.8v0.8h-0.8zM138.27 55.98h0.8v0.8h-0.8zM145.73 60.61h0.8v0.8h-0.8zM139.93 60.83h0.8v0.8h-0.8zM143.74 60.43h0.8v0.8h-0.8zM135.75 58.63h0.8v0.8h-0.8zM144.91 60.59h0.8v0.8h-0.8zM144.86 54.53h0.8v0.8h-0.8zM142.79 60.14h0.8v0.8h-0.8zM149.7 57.39h0.8v0.8h-0.8zM141.35 59.27h0.8v0.8h-0.8zM144.87 58.36h0.8v0.8h-0.8zM145.63 57.7h0.8v0.8h-0.8zM143.07 58.2h0.8v0.8h-0.8zM142.76 57.89h0.8v0.8h-0.8zM137.67 61.28h0.8v0.8h-0.8zM143.18 58.14h0.8v0.8h-0.8zM142.88 61.08h0.8v0.8h-0.8zM139.47 58.99h0.8v0.8h-0.8zM143.86 60.2h0.8v0.8h-0.8zM141.33 55.2h0.8v0.8h-0.8zM145.9 59.82h0.8v0.8h-0.8zM142.34 58.67h0.8v0.8h-0.8zM143.06 58.39h0.8v0.8h-0.8zM139.33 57.79h0.8v0.8h-0.8zM140.57 58.04h0.8v0.8h-0.8zM138.94 60.41h0.8v0.8h-0.8zM138.5 60.45h0.8v0.8h-0.8zM139.36 59.87h0.8v0.8h-0.8zM146.28 59.59h0.8v0.8h-0.8zM140.18 59.29h0.8v0.8h-0.8zM142.73 55.91h0.8v0.8h-0.8zM140.54 59.51h0.8v0.8h-0.8zM140.94 59.35h0.8v0.8h-0.8zM144.43 60.66h0.8v0.8h-0.8zM144.93 60.32h0.8v0.8h-0.8zM141.47 59.17h0.8v0.8h-0.8zM141.51 58.6h0.8v0.8h-0.8zM141.78 55.92h0.8v0.8h-0.8zM141.33 59.15h0.8v0.8h-0.8zM139.48 59.15h0.8v0.8h-0.8zM143.8 58.89h0.8v0.8h-0.8zM148.32 54.25h0.8v0.8h-0.8zM141.7 55.73h0.8v0.8h-0.8zM145.14 64.24h0.8v0.8h-0.8zM135.04 59.44h0.8v0.8h-0.8zM143.81 58.63h0.8v0.8h-0.8zM143.9 54.94h0.8v0.8h-0.8zM144.77 59.91h0.8v0.8h-0.8zM142.37 58.08h0.8v0.8h-0.8zM144.15 58.28h0.8v0.8h-0.8zM142.95 58.23h0.8v0.8h-0.8zM135.78 59.14h0.8v0.8h-0.8zM142.89 60.63h0.8v0.8h-0.8zM139.76 59.14h0.8v0.8h-0.8zM144.09 59.48h0.8v0.8h-0.8zM145.9 62.98h0.8v0.8h-0.8zM139.66 55.55h0.8v0.8h-0.8zM144.78 62.11h0.8v0.8h-0.8zM144.97 60.75h0.8v0.8h-0.8zM140.51 57.84h0.8v0.8h-0.8zM144.88 57.47h0.8v0.8h-0.8zM137.04 57.3h0.8v0.8h-0.8zM149.53 62.85h0.8v0.8h-0.8zM140.31 57.81h0.8v0.8h-0.8zM142.97 57.78h0.8v0.8h-0.8zM146.1 59.05h0.8v0.8h-0.8zM139.15 61.69h0.8v0.8h-0.8zM140.61 59.62h0.8v0.8h-0.8zM142.26 58.6h0.8v0.8h-0.8zM143.24 57.88h0.8v0.8h-0.8zM136.95 55h0.8v0.8h-0.8zM138.63 57.76h0.8v0.8h-0.8zM142.23 59.31h0.8v0.8h-0.8zM143.91 59.43h0.8v0.8h-0.8zM140 57.85h0.8v0.8h-0.8zM136.16 58.88h0.8v0.8h-0.8zM143.71 60.21h0.8v0.8h-0.8zM141.95 58.87h0.8v0.8h-0.8zM145.02 59.23h0.8v0.8h-0.8zM144.44 60.31h0.8v0.8h-0.8zM142.92 61.68h0.8v0.8h-0.8zM140.64 58.52h0.8v0.8h-0.8zM139.96 57.69h0.8v0.8h-0.8zM146.81 62.54h0.8v0.8h-0.8zM142.37 60.28h0.8v0.8h-0.8zM145.71 60.73h0.8v0.8h-0.8zM145.8 56.8h0.8v0.8h-0.8zM140.45 60.06h0.8v0.8h-0.8zM146.46 59.4h0.8v0.8h-0.8zM139.81 58.53h0.8v0.8h-0.8zM140.38 57.57h0.8v0.8h-0.8zM146.65 58.01h0.8v0.8h-0.8zM142.36 63.31h0.8v0.8h-0.8zM145.74 59.84h0.8v0.8h-0.8zM140.53 59.98h0.8v0.8h-0.8zM147 60.38h0.8v0.8h-0.8zM145.96 59.39h0.8v0.8h-0.8zM143.8 58.82h0.8v0.8h-0.8zM143.54 61.67h0.8v0.8h-0.8zM138.15 59.08h0.8v0.8h-0.8zM143 58.11h0.8v0.8h-0.8zM141.41 60.7h0.8v0.8h-0.8zM148.1 60.4h0.8v0.8h-0.8zM143.25 56.25h0.8v0.8h-0.8zM147.89 59.35h0.8v0.8h-0.8zM142.2 57.08h0.8v0.8h-0.8zM142.14 57.12h0.8v0.8h-0.8zM142.51 60.09h0.8v0.8h-0.8zM142.39 59.73h0.8v0.8h-0.8zM139.83 61.92h0.8v0.8h-0.8zM140.41 55.75h0.8v0.8h-0.8zM141.76 57.75h0.8v0.8h-0.8zM139.37 58.53h0.8v0.8h-0.8zM143.14 56.95h0.8v0.8h-0.8zM141.9 61.91h0.8v0.8h-0.8zM144.28 58.91h0.8v0.8h-0.8zM142.67 58.97h0.8v0.8h-0.8zM142.16 60.59h0.8v0.8h-0.8zM142.03 54.63h0.8v0.8h-0.8zM142.24 57.51h0.8v0.8h-0.8zM144.19 58.04h0.8v0.8h-0.8zM142.73 63.34h0.8v0.8h-0.8z" fill="#111"/>
<path d="M139.16 54.96h0.8v0.8h-0.8zM138.07 53.57h0.8v0.8h-0.8zM136.66 56.6h0.8v0.8h-0.8zM140.39 54.15h0.8v0.8h-0.8zM137.85 56.88h0.8v0.8h-0.8zM139.97 55.8h0.8v0.8h-0.8zM143.29 57.69h0.8v0.8h-0.8zM148.12 57.34h0.8v0.8h-0.8zM142.73 56.4h0.8v0.8h-0.8zM147.71 57.77h0.8v0.8h-0.8zM141.37 56.7h0.8v0.8h-0.8zM143.16 56.26h0.8v0.8h-0.8zM140.8 54.74h0.8v0.8h-0.8zM140.7 54.5h0.8v0.8h-0.8zM145.97 56.79h0.8v0.8h-0.8zM138.68 57.74h0.8v0.8h-0.8zM144.98 54.1h0.8v0.8h-0.8zM147.82 57.09h0.8v0.8h-0.8zM148.49 54.85h0.8v0.8h-0.8zM143.89 56.67h0.8v0.8h-0.8zM142.91 56.39h0.8v0.8h-0.8zM145.46 54.56h0.8v0.8h-0.8zM138.57 54.67h0.8v0.8h-0.8zM140.63 55.53h0.8v0.8h-0.8zM143.4 56.49h0.8v0.8h-0.8zM142.39 55.46h0.8v0.8h-0.8zM140.97 57.25h0.8v0.8h-0.8zM144.59 56.31h0.8v0.8h-0.8zM141.33 57.91h0.8v0.8h-0.8zM140.52 56.91h0.8v0.8h-0.8zM145.76 55.91h0.8v0.8h-0.8zM144.78 54.97h0.8v0.8h-0.8zM145.34 56.42h0.8v0.8h-0.8zM137.54 56.94h0.8v0.8h-0.8zM139.62 57.61h0.8v0.8h-0.8zM140.26 56.02h0.8v0.8h-0.8zM143.15 55.83h0.8v0.8h-0.8zM143.08 55.59h0.8v0.8h-0.8zM144.32 56.21h0.8v0.8h-0.8zM142.93 53.17h0.8v0.8h-0.8zM145.78 56.24h0.8v0.8h-0.8zM136.95 56.31h0.8v0.8h-0.8zM143.7 57.38h0.8v0.8h-0.8zM139.05 57.9h0.8v0.8h-0.8zM141.82 58.83h0.8v0.8h-0.8zM141.86 56.95h0.8v0.8h-0.8zM141.2 54.97h0.8v0.8h-0.8zM145.59 57.2h0.8v0.8h-0.8zM146.92 57.14h0.8v0.8h-0.8zM140.58 54.37h0.8v0.8h-0.8zM140.35 55.46h0.8v0.8h-0.8zM139.85 56.84h0.8v0.8h-0.8zM143.28 55.9h0.8v0.8h-0.8zM142.82 56.04h0.8v0.8h-0.8zM142.94 57.03h0.8v0.8h-0.8zM145.18 55.45h0.8v0.8h-0.8zM137.78 57.77h0.8v0.8h-0.8zM142.64 57.42h0.8v0.8h-0.8zM137.37 55.84h0.8v0.8h-0.8zM142.38 54.61h0.8v0.8h-0.8zM140.75 57h0.8v0.8h-0.8zM145.54 57.95h0.8v0.8h-0.8zM139.71 54.66h0.8v0.8h-0.8zM143.86 57.23h0.8v0.8h-0.8zM142.88 54.77h0.8v0.8h-0.8zM144.65 57.07h0.8v0.8h-0.8zM143.96 55.66h0.8v0.8h-0.8zM143.21 57.07h0.8v0.8h-0.8zM140.62 54.17h0.8v0.8h-0.8zM143.29 56.73h0.8v0.8h-0.8zM142.34 57.18h0.8v0.8h-0.8zM140.54 56.11h0.8v0.8h-0.8zM141.38 56.83h0.8v0.8h-0.8zM147.09 55.92h0.8v0.8h-0.8zM148.46 57.88h0.8v0.8h-0.8zM144.67 56.85h0.8v0.8h-0.8zM147.61 56h0.8v0.8h-0.8zM141.96 55.03h0.8v0.8h-0.8zM143.72 57.68h0.8v0.8h-0.8zM143.9 56.67h0.8v0.8h-0.8zM141.7 56.39h0.8v0.8h-0.8zM138.02 57.35h0.8v0.8h-0.8zM141.07 54.98h0.8v0.8h-0.8zM140.05 55.29h0.8v0.8h-0.8zM144.87 57.36h0.8v0.8h-0.8zM138.23 57.22h0.8v0.8h-0.8zM144.96 55.56h0.8v0.8h-0.8zM137.84 55.38h0.8v0.8h-0.8zM140.4 56.58h0.8v0.8h-0.8zM141.23 53.97h0.8v0.8h-0.8zM143 54.51h0.8v0.8h-0.8zM145.02 54.87h0.8v0.8h-0.8zM140.22 55.26h0.8v0.8h-0.8zM140.67 57.63h0.8v0.8h-0.8zM144.86 56.86h0.8v0.8h-0.8zM143.26 54.5h0.8v0.8h-0.8zM140.74 55.59h0.8v0.8h-0.8zM139.37 56.76h0.8v0.8h-0.8zM140.08 55.42h0.8v0.8h-0.8zM139.17 53.94h0.8v0.8h-0.8zM144.09 57.66h0.8v0.8h-0.8zM142.82 55.13h0.8v0.8h-0.8zM134.18 56.39h0.8v0.8h-0.8zM145.95 56.53h0.8v0.8h-0.8zM145.08 57.83h0.8v0.8h-0.8zM145.68 55.71h0.8v0.8h-0.8zM145.46 57.05h0.8v0.8h-0.8zM137.69 55.75h0.8v0.8h-0.8zM138.03 56.08h0.8v0.8h-0.8zM144.03 55.03h0.8v0.8h-0.8zM136.13 57.63h0.8v0.8h-0.8zM143.43 57.82h0.8v0.8h-0.8zM138.33 57.37h0.8v0.8h-0.8zM148.52 58.41h0.8v0.8h-0.8zM141.67 56.5h0.8v0.8h-0.8zM141.84 57.3h0.8v0.8h-0.8zM145.41 56.3h0.8v0.8h-0.8zM138.22 57.02h0.8v0.8h-0.8zM140.89 56.89h0.8v0.8h-0.8zM143.09 57.99h0.8v0.8h-0.8zM145.71 55.7h0.8v0.8h-0.8zM143.35 58.14h0.8v0.8h-0.8zM140.69 56.68h0.8v0.8h-0.8zM145.87 57.58h0.8v0.8h-0.8zM143.86 54.75h0.8v0.8h-0.8zM138.52 56.47h0.8v0.8h-0.8zM143.46 59h0.8v0.8h-0.8zM139.72 57.45h0.8v0.8h-0.8zM144.61 54.36h0.8v0.8h-0.8zM139.85 56.38h0.8v0.8h-0.8zM140.82 56.03h0.8v0.8h-0.8zM143.71 55.31h0.8v0.8h-0.8zM143.7 55.5h0.8v0.8h-0.8zM140.67 56.79h0.8v0.8h-0.8zM140.58 56.52h0.8v0.8h-0.8zM147.1 56.23h0.8v0.8h-0.8zM141.86 57.01h0.8v0.8h-0.8zM141.2 57.39h0.8v0.8h-0.8zM138.45 56.88h0.8v0.8h-0.8zM140.76 55.32h0.8v0.8h-0.8zM147.61 55.26h0.8v0.8h-0.8zM147.57 56.92h0.8v0.8h-0.8zM146.66 55.13h0.8v0.8h-0.8zM145.9 57.8h0.8v0.8h-0.8zM141.95 56.06h0.8v0.8h-0.8zM149.67 56.4h0.8v0.8h-0.8zM141.03 55.51h0.8v0.8h-0.8zM143.64 56.56h0.8v0.8h-0.8zM142.83 58.09h0.8v0.8h-0.8zM141.32 56.72h0.8v0.8h-0.8zM146.68 55.1h0.8v0.8h-0.8zM145.42 58.22h0.8v0.8h-0.8zM138.24 54.99h0.8v0.8h-0.8zM139.18 54.17h0.8v0.8h-0.8zM143.66 54.16h0.8v0.8h-0.8zM143.8 57.8h0.8v0.8h-0.8zM137.45 55.85h0.8v0.8h-0.8zM136.55 57.06h0.8v0.8h-0.8zM140.09 55.91h0.8v0.8h-0.8zM142.46 56.8h0.8v0.8h-0.8zM141.26 56.22h0.8v0.8h-0.8zM140.66 56.33h0.8v0.8h-0.8zM138.78 56.27h0.8v0.8h-0.8zM136.5 55.66h0.8v0.8h-0.8zM148.05 56.29h0.8v0.8h-0.8zM138.52 56.48h0.8v0.8h-0.8zM139.38 54.38h0.8v0.8h-0.8zM140.09 57.01h0.8v0.8h-0.8zM143.45 56.09h0.8v0.8h-0.8zM139.52 55.01h0.8v0.8h-0.8z" fill="#333"/>
<path d="M139.12 69.71h0.8v0.8h-0.8zM136.36 53.22h0.8v0.8h-0.8zM135.86 85.33h0.8v0.8h-0.8zM136.12 67.46h0.8v0.8h-0.8zM137.75 66.9h0.8v0.8h-0.8zM137.17 58.39h0.8v0.8h-0.8zM136.24 79.82h0.8v0.8h-0.8zM136.59 73.92h0.8v0.8h-0.8zM135.47 66.08h0.8v0.8h-0.8zM137.81 75.26h0.8v0.8h-0.8zM136.15 72.17h0.8v0.8h-0.8zM137.96 62.84h0.8v0.8h-0.8zM138.07 61.71h0.8v0.8h-0.8zM136.54 67.87h0.8v0.8h-0.8zM134.24 67.23h0.8v0.8h-0.8zM136.3 57.76h0.8v0.8h-0.8zM136.99 73.34h0.8v0.8h-0.8zM137.01 76.86h0.8v0.8h-0.8zM136.11 58.81h0.8v0.8h-0.8zM139.36 70.79h0.8v0.8h-0.8zM138.63 62.21h0.8v0.8h-0.8zM138.47 69.82h0.8v0.8h-0.8zM138.28 68.18h0.8v0.8h-0.8zM138.95 63.46h0.8v0.8h-0.8zM136.34 57.66h0.8v0.8h-0.8zM138.89 62.83h0.8v0.8h-0.8zM136.25 61.42h0.8v0.8h-0.8zM136.97 59.1h0.8v0.8h-0.8zM137.15 63.61h0.8v0.8h-0.8zM136.84 61.28h0.8v0.8h-0.8zM137.54 64.77h0.8v0.8h-0.8zM137.64 69.75h0.8v0.8h-0.8zM137.91 52.67h0.8v0.8h-0.8zM136.86 62.43h0.8v0.8h-0.8zM138.43 56.96h0.8v0.8h-0.8zM136.64 65.94h0.8v0.8h-0.8zM137.1 74.94h0.8v0.8h-0.8zM136.97 74.75h0.8v0.8h-0.8zM135.74 55.31h0.8v0.8h-0.8zM138.96 71.05h0.8v0.8h-0.8zM138.09 68.86h0.8v0.8h-0.8zM138.08 59.49h0.8v0.8h-0.8zM138.64 64.27h0.8v0.8h-0.8zM138.68 68.61h0.8v0.8h-0.8zM135.13 58.99h0.8v0.8h-0.8zM138.85 67.04h0.8v0.8h-0.8zM137.03 69.7h0.8v0.8h-0.8zM136.99 64.19h0.8v0.8h-0.8zM137.62 69.01h0.8v0.8h-0.8zM139.32 68.32h0.8v0.8h-0.8zM139.76 80.62h0.8v0.8h-0.8zM139.56 75.43h0.8v0.8h-0.8zM137.66 68.96h0.8v0.8h-0.8zM137.33 62.88h0.8v0.8h-0.8zM137.42 63.51h0.8v0.8h-0.8zM139.47 71.74h0.8v0.8h-0.8zM136.96 54.59h0.8v0.8h-0.8zM137.44 65.09h0.8v0.8h-0.8zM136.2 60.05h0.8v0.8h-0.8zM134.8 71.98h0.8v0.8h-0.8zM137.42 86.07h0.8v0.8h-0.8zM137.46 66.96h0.8v0.8h-0.8zM139.23 68.94h0.8v0.8h-0.8zM137.7 65.4h0.8v0.8h-0.8zM136.77 78.5h0.8v0.8h-0.8zM138.7 80.01h0.8v0.8h-0.8zM137.08 68.21h0.8v0.8h-0.8zM136.44 74.77h0.8v0.8h-0.8zM135.83 71.95h0.8v0.8h-0.8zM138.82 77.88h0.8v0.8h-0.8z" fill="#555"/>
<path d="M147.78 74.54h0.8v0.8h-0.8zM148.07 63.46h0.8v0.8h-0.8zM147.28 74.93h0.8v0.8h-0.8zM151.14 64.43h0.8v0.8h-0.8zM148.01 65.97h0.8v0.8h-0.8zM152.26 74.03h0.8v0.8h-0.8zM148.29 57.23h0.8v0.8h-0.8zM148.13 75.12h0.8v0.8h-0.8zM151.43 66.4h0.8v0.8h-0.8zM148.1 64.94h0.8v0.8h-0.8zM146.55 73.45h0.8v0.8h-0.8zM147.59 74.38h0.8v0.8h-0.8zM146.78 60.38h0.8v0.8h-0.8zM149.37 63.42h0.8v0.8h-0.8zM150.02 68.05h0.8v0.8h-0.8zM147.47 71.73h0.8v0.8h-0.8zM150.09 56.52h0.8v0.8h-0.8zM151.37 70.98h0.8v0.8h-0.8zM149.99 56.84h0.8v0.8h-0.8zM148.06 65.9h0.8v0.8h-0.8zM150.4 59.24h0.8v0.8h-0.8zM147.85 55.82h0.8v0.8h-0.8zM148.69 70.08h0.8v0.8h-0.8zM146.81 64.45h0.8v0.8h-0.8zM149.66 77.51h0.8v0.8h-0.8zM149.86 66.18h0.8v0.8h-0.8zM147.47 62.38h0.8v0.8h-0.8zM148.14 68.88h0.8v0.8h-0.8zM148.94 78h0.8v0.8h-0.8zM149.37 61.57h0.8v0.8h-0.8zM151.01 73.69h0.8v0.8h-0.8zM149.13 63.67h0.8v0.8h-0.8zM146.57 61.87h0.8v0.8h-0.8zM150.19 63.18h0.8v0.8h-0.8zM147.28 69.17h0.8v0.8h-0.8zM149.32 71.64h0.8v0.8h-0.8zM149.85 76.45h0.8v0.8h-0.8zM147.91 73.87h0.8v0.8h-0.8zM147.72 72.16h0.8v0.8h-0.8zM149.23 69.46h0.8v0.8h-0.8zM150.26 67.9h0.8v0.8h-0.8zM150.45 73.25h0.8v0.8h-0.8zM149.18 64.6h0.8v0.8h-0.8zM148.02 64.83h0.8v0.8h-0.8zM148.74 67.85h0.8v0.8h-0.8zM152.88 71.83h0.8v0.8h-0.8zM150 62.84h0.8v0.8h-0.8zM148.08 66.09h0.8v0.8h-0.8zM149.25 61.78h0.8v0.8h-0.8zM151.1 64.62h0.8v0.8h-0.8zM150.4 53.98h0.8v0.8h-0.8zM148.99 69.67h0.8v0.8h-0.8zM149.25 71.61h0.8v0.8h-0.8zM149.36 68.97h0.8v0.8h-0.8zM146.54 63.72h0.8v0.8h-0.8zM145.95 71.77h0.8v0.8h-0.8zM149.4 66.83h0.8v0.8h-0.8zM147.93 64.51h0.8v0.8h-0.8zM151.4 78.39h0.8v0.8h-0.8zM148.92 75.73h0.8v0.8h-0.8z" fill="#666"/>
<path d="M135.27 50.58h0.8v0.8h-0.8zM141.34 60.13h0.8v0.8h-0.8zM140.92 69.69h0.8v0.8h-0.8zM160.64 62.05h0.8v0.8h-0.8zM144.27 70.49h0.8v0.8h-0.8zM143.81 76.38h0.8v0.8h-0.8zM153.77 56.81h0.8v0.8h-0.8zM144.89 65.62h0.8v0.8h-0.8zM145.96 54.21h0.8v0.8h-0.8zM134.33 47.15h0.8v0.8h-0.8zM146.89 69.73h0.8v0.8h-0.8zM144.41 46.7h0.8v0.8h-0.8zM141.95 61.2h0.8v0.8h-0.8zM136.22 59.76h0.8v0.8h-0.8zM147.84 72.9h0.8v0.8h-0.8zM143.88 72.63h0.8v0.8h-0.8zM140.68 68.64h0.8v0.8h-0.8zM144.22 72.99h0.8v0.8h-0.8zM143.62 66.71h0.8v0.8h-0.8zM143.26 62.2h0.8v0.8h-0.8zM156.28 72.63h0.8v0.8h-0.8zM146.36 88.62h0.8v0.8h-0.8zM151.72 53.99h0.8v0.8h-0.8zM147.82 75.54h0.8v0.8h-0.8zM154.37 79.84h0.8v0.8h-0.8zM148.24 57.41h0.8v0.8h-0.8zM139.21 70.42h0.8v0.8h-0.8zM146.78 58.81h0.8v0.8h-0.8zM141.88 64.4h0.8v0.8h-0.8zM144.33 71.03h0.8v0.8h-0.8zM142.42 56.87h0.8v0.8h-0.8zM150.83 82.36h0.8v0.8h-0.8zM143.42 77.22h0.8v0.8h-0.8zM146.44 73.94h0.8v0.8h-0.8zM146.65 61.13h0.8v0.8h-0.8zM147.16 77.1h0.8v0.8h-0.8zM139.07 85.7h0.8v0.8h-0.8zM155.49 84.41h0.8v0.8h-0.8zM154.94 74.68h0.8v0.8h-0.8zM142.14 62.6h0.8v0.8h-0.8zM139.53 69.04h0.8v0.8h-0.8zM143.82 74.03h0.8v0.8h-0.8zM132.89 88.81h0.8v0.8h-0.8zM156.52 67.75h0.8v0.8h-0.8zM147.72 72.28h0.8v0.8h-0.8zM145.5 66.12h0.8v0.8h-0.8zM143.32 60.58h0.8v0.8h-0.8zM144.98 67.78h0.8v0.8h-0.8zM145.76 60.3h0.8v0.8h-0.8zM144.22 68.43h0.8v0.8h-0.8z" fill="#aaa"/>
<path d="M141.51 84.72h0.8v0.8h-0.8zM141.05 87.18h0.8v0.8h-0.8zM141.49 85.56h0.8v0.8h-0.8zM138.77 85.72h0.8v0.8h-0.8zM141.82 87.86h0.8v0.8h-0.8zM139.6 85.23h0.8v0.8h-0.8zM140.94 86.25h0.8v0.8h-0.8zM137.73 85.12h0.8v0.8h-0.8zM139.75 86.81h0.8v0.8h-0.8zM137.02 84.78h0.8v0.8h-0.8zM141.25 84.53h0.8v0.8h-0.8zM140.27 86.42h0.8v0.8h-0.8zM139.72 84.78h0.8v0.8h-0.8zM139.85 85.6h0.8v0.8h-0.8zM140.84 84.99h0.8v0.8h-0.8zM142.73 83.99h0.8v0.8h-0.8zM139.56 86.01h0.8v0.8h-0.8zM142.4 85.27h0.8v0.8h-0.8zM141.36 85.32h0.8v0.8h-0.8zM141.85 88.08h0.8v0.8h-0.8zM139 86.53h0.8v0.8h-0.8zM137.68 87.17h0.8v0.8h-0.8zM143.03 86.04h0.8v0.8h-0.8zM137.16 86.48h0.8v0.8h-0.8zM142.87 87.31h0.8v0.8h-0.8zM142.03 83.8h0.8v0.8h-0.8zM138.3 87.71h0.8v0.8h-0.8zM136.93 87.36h0.8v0.8h-0.8zM144.71 86.91h0.8v0.8h-0.8zM142.8 85.6h0.8v0.8h-0.8z" fill="#555"/>
<line x1="144.8" y1="23" x2="144.8" y2="99.4" stroke="#777" stroke-width="0.9"/>
<line x1="122.4" y1="77.2" x2="198.4" y2="77.2" stroke="#777" stroke-width="0.9"/>
<g fill="#050505" filter="url(#soft)"><path d="M137.1 61 C137.5 59 140 58.2 142.5 58.8 C145 58.2 148 58.8 148.6 61 L148.8 62 L149.1 66.7 L149.7 70.9 L150 74.5 L148.8 77.4 L146.4 80.4 L144 82.8 L141 85.2 L138.7 86.6 L136.6 85.8 L135.2 83.4 L136 80.4 L137.4 75.7 L137 69.7 L137.3 63.8 L136.8 57.8 Z"/></g>
<text x="0" y="0" font-size="10.2" fill="#111" stroke="#111" stroke-width="0.12" transform="translate(126.6 36.4) scale(0.93 1)">44</text>
<text x="0" y="0" font-size="10.2" text-anchor="end" fill="#111" stroke="#111" stroke-width="0.12" transform="translate(193.2 36.4) scale(0.93 1)">11</text>
<text x="0" y="0" font-size="10.2" text-anchor="end" fill="#111" stroke="#111" stroke-width="0.12" transform="translate(193.2 93.6) scale(0.93 1)">4.5</text>
<rect x="32" y="109" width="76" height="76.4" fill="none" stroke="#9a9a9a" stroke-width="0.7"/>
<text x="0" y="0" font-size="3.2" text-anchor="end" fill="#444" transform="translate(29.8 118.2) scale(0.93 1)">10<tspan dy="-1.3" font-size="2.2">5</tspan></text>
<line x1="30.4" y1="117" x2="32" y2="117" stroke="#666" stroke-width="0.5"/>
<text x="0" y="0" font-size="3.2" text-anchor="end" fill="#444" transform="translate(29.8 135.8) scale(0.93 1)">10<tspan dy="-1.3" font-size="2.2">4</tspan></text>
<line x1="30.4" y1="134.6" x2="32" y2="134.6" stroke="#666" stroke-width="0.5"/>
<text x="0" y="0" font-size="3.2" text-anchor="end" fill="#444" transform="translate(29.8 153.8) scale(0.93 1)">10<tspan dy="-1.3" font-size="2.2">3</tspan></text>
<line x1="30.4" y1="152.6" x2="32" y2="152.6" stroke="#666" stroke-width="0.5"/>
<text x="0" y="0" font-size="3.2" text-anchor="end" fill="#444" transform="translate(29.8 174.2) scale(0.93 1)">0</text>
<line x1="30.4" y1="173" x2="32" y2="173" stroke="#666" stroke-width="0.5"/>
<text x="0" y="0" font-size="3.2" text-anchor="middle" fill="#444" transform="translate(44.4 190.6) scale(0.93 1)">0</text>
<line x1="44.4" y1="185.4" x2="44.4" y2="187" stroke="#666" stroke-width="0.5"/>
<text x="0" y="0" font-size="3.2" text-anchor="middle" fill="#444" transform="translate(68 190.6) scale(0.93 1)">10<tspan dy="-1.3" font-size="2.2">3</tspan></text>
<line x1="68" y1="185.4" x2="68" y2="187" stroke="#666" stroke-width="0.5"/>
<text x="0" y="0" font-size="3.2" text-anchor="middle" fill="#444" transform="translate(86 190.6) scale(0.93 1)">10<tspan dy="-1.3" font-size="2.2">4</tspan></text>
<line x1="86" y1="185.4" x2="86" y2="187" stroke="#666" stroke-width="0.5"/>
<text x="0" y="0" font-size="3.2" text-anchor="middle" fill="#444" transform="translate(103 190.6) scale(0.93 1)">10<tspan dy="-1.3" font-size="2.2">5</tspan></text>
<line x1="103" y1="185.4" x2="103" y2="187" stroke="#666" stroke-width="0.5"/>
<path d="M30.8 167h1.2M37 185.4v1.2M30.8 168.1h1.2M38.1 185.4v1.2M30.8 169.2h1.2M39.2 185.4v1.2M30.8 170.3h1.2M40.3 185.4v1.2M30.8 171.4h1.2M41.4 185.4v1.2M30.8 172.5h1.2M42.5 185.4v1.2M30.8 173.6h1.2M43.6 185.4v1.2M30.8 174.7h1.2M44.7 185.4v1.2M30.8 175.8h1.2M45.8 185.4v1.2M30.8 176.9h1.2M46.9 185.4v1.2M30.8 178h1.2M48 185.4v1.2M30.8 179.1h1.2M49.1 185.4v1.2M31.1 120h0.9M31.1 123h0.9M31.1 126h0.9M31.1 128h0.9M31.1 130h0.9M31.1 131.5h0.9M31.1 132.7h0.9M31.1 137.6h0.9M31.1 140.6h0.9M31.1 143.6h0.9M31.1 145.6h0.9M31.1 147.6h0.9M31.1 149.1h0.9M31.1 150.3h0.9M31.1 155.6h0.9M31.1 158.6h0.9M31.1 161.6h0.9M31.1 163.6h0.9M31.1 165.6h0.9M31.1 167.1h0.9M31.1 168.3h0.9M65 185.4v0.9M62 185.4v0.9M59 185.4v0.9M57 185.4v0.9M55 185.4v0.9M53.5 185.4v0.9M52.3 185.4v0.9M83 185.4v0.9M80 185.4v0.9M77 185.4v0.9M75 185.4v0.9M73 185.4v0.9M71.5 185.4v0.9M70.3 185.4v0.9" stroke="#777" stroke-width="0.4" fill="none"/>
<path d="M30.5 169h1.5M39.5 185.4v1.5M30.5 169.95h1.5M40.5 185.4v1.5M30.5 170.9h1.5M41.5 185.4v1.5M30.5 171.85h1.5M42.5 185.4v1.5M30.5 172.8h1.5M43.5 185.4v1.5M30.5 173.75h1.5M44.5 185.4v1.5M30.5 174.7h1.5M45.5 185.4v1.5M30.5 175.65h1.5M46.5 185.4v1.5M30.5 176.6h1.5M47.5 185.4v1.5" stroke="#1a1a1a" stroke-width="0.8" fill="none"/>
<path d="M46.32 157.59h0.8v0.8h-0.8zM49.4 157.81h0.8v0.8h-0.8zM52.09 157.42h0.8v0.8h-0.8zM50.58 159.7h0.8v0.8h-0.8zM49.98 165.37h0.8v0.8h-0.8zM51.33 158.34h0.8v0.8h-0.8zM49.38 155.5h0.8v0.8h-0.8zM54.03 158.6h0.8v0.8h-0.8zM46.76 155.75h0.8v0.8h-0.8zM49.59 156.22h0.8v0.8h-0.8zM53.25 153.35h0.8v0.8h-0.8zM51.48 158.57h0.8v0.8h-0.8zM46.47 158.19h0.8v0.8h-0.8zM49.72 160.01h0.8v0.8h-0.8zM48.65 159.21h0.8v0.8h-0.8zM45 153.67h0.8v0.8h-0.8zM52.35 162.17h0.8v0.8h-0.8zM49.96 155.6h0.8v0.8h-0.8zM53.25 149.63h0.8v0.8h-0.8zM47.6 160.69h0.8v0.8h-0.8zM51.96 153.87h0.8v0.8h-0.8zM44.34 163.81h0.8v0.8h-0.8z" fill="#888"/>
<path d="M57.61 158.31h0.8v0.8h-0.8zM57.22 163.71h0.8v0.8h-0.8zM46.63 164.33h0.8v0.8h-0.8zM59.96 154.76h0.8v0.8h-0.8zM60.08 155.66h0.8v0.8h-0.8zM61.56 162.2h0.8v0.8h-0.8zM66.01 159.17h0.8v0.8h-0.8zM57.02 164.14h0.8v0.8h-0.8zM54.44 158.89h0.8v0.8h-0.8zM55.51 160.78h0.8v0.8h-0.8zM52.67 162.45h0.8v0.8h-0.8zM59.17 161.21h0.8v0.8h-0.8z" fill="#999"/>
<path d="M53.01 165.49h0.8v0.8h-0.8zM51.72 165.38h0.8v0.8h-0.8zM48.98 162.68h0.8v0.8h-0.8zM48.91 167.38h0.8v0.8h-0.8zM46.58 167.07h0.8v0.8h-0.8zM46.91 166.67h0.8v0.8h-0.8zM41.81 168.85h0.8v0.8h-0.8zM46.5 167.33h0.8v0.8h-0.8zM45.4 168.77h0.8v0.8h-0.8zM50.5 166.61h0.8v0.8h-0.8zM48.27 171.69h0.8v0.8h-0.8zM52.04 169.16h0.8v0.8h-0.8zM51.48 166.05h0.8v0.8h-0.8zM49.09 170.75h0.8v0.8h-0.8zM46.84 168.29h0.8v0.8h-0.8zM49.88 168.49h0.8v0.8h-0.8zM48.56 170.59h0.8v0.8h-0.8zM48.62 169.89h0.8v0.8h-0.8zM52.08 168.45h0.8v0.8h-0.8zM49.58 164.52h0.8v0.8h-0.8zM44.27 167.89h0.8v0.8h-0.8zM51.12 171.04h0.8v0.8h-0.8zM45.32 169.97h0.8v0.8h-0.8zM45.47 167.16h0.8v0.8h-0.8zM48.31 169.91h0.8v0.8h-0.8z" fill="#666"/>
<line x1="54.4" y1="109" x2="54.4" y2="185.4" stroke="#777" stroke-width="0.9"/>
<line x1="32" y1="163.2" x2="108" y2="163.2" stroke="#777" stroke-width="0.9"/>
<g fill="#050505" filter="url(#soft)"><ellipse cx="48.4" cy="168.6" rx="4.3" ry="3.3" transform="rotate(-22 48.4 168.6)"/><ellipse cx="51.5" cy="165.8" rx="2.6" ry="1.3" transform="rotate(-40 51.5 165.8)"/></g>
<text x="0" y="0" font-size="10.2" fill="#111" stroke="#111" stroke-width="0.12" transform="translate(36.2 122.4) scale(0.93 1)">0.2</text>
<text x="0" y="0" font-size="10.2" text-anchor="end" fill="#111" stroke="#111" stroke-width="0.12" transform="translate(102.8 122.4) scale(0.93 1)">0.2</text>
<text x="0" y="0" font-size="10.2" text-anchor="end" fill="#111" stroke="#111" stroke-width="0.12" transform="translate(102.8 179.6) scale(0.93 1)">0.4</text>
<rect x="122.4" y="109" width="76" height="76.4" fill="none" stroke="#9a9a9a" stroke-width="0.7"/>
<text x="0" y="0" font-size="3.2" text-anchor="end" fill="#444" transform="translate(120.2 118.2) scale(0.93 1)">10<tspan dy="-1.3" font-size="2.2">5</tspan></text>
<line x1="120.8" y1="117" x2="122.4" y2="117" stroke="#666" stroke-width="0.5"/>
<text x="0" y="0" font-size="3.2" text-anchor="end" fill="#444" transform="translate(120.2 135.8) scale(0.93 1)">10<tspan dy="-1.3" font-size="2.2">4</tspan></text>
<line x1="120.8" y1="134.6" x2="122.4" y2="134.6" stroke="#666" stroke-width="0.5"/>
<text x="0" y="0" font-size="3.2" text-anchor="end" fill="#444" transform="translate(120.2 153.8) scale(0.93 1)">10<tspan dy="-1.3" font-size="2.2">3</tspan></text>
<line x1="120.8" y1="152.6" x2="122.4" y2="152.6" stroke="#666" stroke-width="0.5"/>
<text x="0" y="0" font-size="3.2" text-anchor="end" fill="#444" transform="translate(120.2 174.2) scale(0.93 1)">0</text>
<line x1="120.8" y1="173" x2="122.4" y2="173" stroke="#666" stroke-width="0.5"/>
<text x="0" y="0" font-size="3.2" text-anchor="middle" fill="#444" transform="translate(134.8 190.6) scale(0.93 1)">0</text>
<line x1="134.8" y1="185.4" x2="134.8" y2="187" stroke="#666" stroke-width="0.5"/>
<text x="0" y="0" font-size="3.2" text-anchor="middle" fill="#444" transform="translate(158.4 190.6) scale(0.93 1)">10<tspan dy="-1.3" font-size="2.2">3</tspan></text>
<line x1="158.4" y1="185.4" x2="158.4" y2="187" stroke="#666" stroke-width="0.5"/>
<text x="0" y="0" font-size="3.2" text-anchor="middle" fill="#444" transform="translate(176.4 190.6) scale(0.93 1)">10<tspan dy="-1.3" font-size="2.2">4</tspan></text>
<line x1="176.4" y1="185.4" x2="176.4" y2="187" stroke="#666" stroke-width="0.5"/>
<text x="0" y="0" font-size="3.2" text-anchor="middle" fill="#444" transform="translate(193.4 190.6) scale(0.93 1)">10<tspan dy="-1.3" font-size="2.2">5</tspan></text>
<line x1="193.4" y1="185.4" x2="193.4" y2="187" stroke="#666" stroke-width="0.5"/>
<path d="M121.2 167h1.2M127.4 185.4v1.2M121.2 168.1h1.2M128.5 185.4v1.2M121.2 169.2h1.2M129.6 185.4v1.2M121.2 170.3h1.2M130.7 185.4v1.2M121.2 171.4h1.2M131.8 185.4v1.2M121.2 172.5h1.2M132.9 185.4v1.2M121.2 173.6h1.2M134 185.4v1.2M121.2 174.7h1.2M135.1 185.4v1.2M121.2 175.8h1.2M136.2 185.4v1.2M121.2 176.9h1.2M137.3 185.4v1.2M121.2 178h1.2M138.4 185.4v1.2M121.2 179.1h1.2M139.5 185.4v1.2M121.5 120h0.9M121.5 123h0.9M121.5 126h0.9M121.5 128h0.9M121.5 130h0.9M121.5 131.5h0.9M121.5 132.7h0.9M121.5 137.6h0.9M121.5 140.6h0.9M121.5 143.6h0.9M121.5 145.6h0.9M121.5 147.6h0.9M121.5 149.1h0.9M121.5 150.3h0.9M121.5 155.6h0.9M121.5 158.6h0.9M121.5 161.6h0.9M121.5 163.6h0.9M121.5 165.6h0.9M121.5 167.1h0.9M121.5 168.3h0.9M155.4 185.4v0.9M152.4 185.4v0.9M149.4 185.4v0.9M147.4 185.4v0.9M145.4 185.4v0.9M143.9 185.4v0.9M142.7 185.4v0.9M173.4 185.4v0.9M170.4 185.4v0.9M167.4 185.4v0.9M165.4 185.4v0.9M163.4 185.4v0.9M161.9 185.4v0.9M160.7 185.4v0.9" stroke="#777" stroke-width="0.4" fill="none"/>
<path d="M120.9 169h1.5M129.9 185.4v1.5M120.9 169.95h1.5M130.9 185.4v1.5M120.9 170.9h1.5M131.9 185.4v1.5M120.9 171.85h1.5M132.9 185.4v1.5M120.9 172.8h1.5M133.9 185.4v1.5M120.9 173.75h1.5M134.9 185.4v1.5M120.9 174.7h1.5M135.9 185.4v1.5M120.9 175.65h1.5M136.9 185.4v1.5M120.9 176.6h1.5M137.9 185.4v1.5" stroke="#1a1a1a" stroke-width="0.8" fill="none"/>
<path d="M143.14 160.43h0.8v0.8h-0.8zM139.54 159.09h0.8v0.8h-0.8zM145.29 155.32h0.8v0.8h-0.8zM143.93 152.41h0.8v0.8h-0.8zM139.23 153.14h0.8v0.8h-0.8zM140.57 168.29h0.8v0.8h-0.8zM141.04 162.59h0.8v0.8h-0.8zM143.11 156.44h0.8v0.8h-0.8zM144.73 151.42h0.8v0.8h-0.8zM145.25 156.73h0.8v0.8h-0.8zM137.95 157.77h0.8v0.8h-0.8zM144.16 157.08h0.8v0.8h-0.8zM147.25 153.09h0.8v0.8h-0.8zM144.04 158.44h0.8v0.8h-0.8zM139.8 160.52h0.8v0.8h-0.8zM138.15 149.02h0.8v0.8h-0.8zM144.07 149.99h0.8v0.8h-0.8zM142.15 147.43h0.8v0.8h-0.8zM142.71 149.79h0.8v0.8h-0.8zM143.53 147.95h0.8v0.8h-0.8zM143.85 153.77h0.8v0.8h-0.8zM142.69 154.69h0.8v0.8h-0.8zM142.89 148.92h0.8v0.8h-0.8zM134.81 155.16h0.8v0.8h-0.8zM139.69 152.91h0.8v0.8h-0.8zM143.78 145.87h0.8v0.8h-0.8zM140.21 152.19h0.8v0.8h-0.8zM139.33 156.5h0.8v0.8h-0.8zM142.08 151.22h0.8v0.8h-0.8zM139.55 158.71h0.8v0.8h-0.8zM140.52 157.69h0.8v0.8h-0.8zM143.85 146.29h0.8v0.8h-0.8zM139.25 155.01h0.8v0.8h-0.8zM143.53 158.59h0.8v0.8h-0.8zM144.91 159.76h0.8v0.8h-0.8zM141.38 154.03h0.8v0.8h-0.8zM144.83 153.04h0.8v0.8h-0.8zM145.67 147.69h0.8v0.8h-0.8zM144.46 154.2h0.8v0.8h-0.8zM136.6 159.51h0.8v0.8h-0.8zM143.43 155.1h0.8v0.8h-0.8zM139.27 152.86h0.8v0.8h-0.8zM147.04 151.19h0.8v0.8h-0.8zM132.08 151.06h0.8v0.8h-0.8zM138.9 154.39h0.8v0.8h-0.8zM141.32 150.8h0.8v0.8h-0.8zM139.97 159.82h0.8v0.8h-0.8zM138.17 164h0.8v0.8h-0.8zM140.87 149.97h0.8v0.8h-0.8zM144.86 157.6h0.8v0.8h-0.8zM139.37 158.44h0.8v0.8h-0.8zM136.98 150.75h0.8v0.8h-0.8zM145.88 153.82h0.8v0.8h-0.8zM138.59 157.36h0.8v0.8h-0.8zM145.25 154.9h0.8v0.8h-0.8zM137.08 153.41h0.8v0.8h-0.8zM143.75 158.54h0.8v0.8h-0.8zM148.06 153.84h0.8v0.8h-0.8zM141.05 154.82h0.8v0.8h-0.8zM146.12 150.67h0.8v0.8h-0.8zM146.42 142.35h0.8v0.8h-0.8zM144.89 151.89h0.8v0.8h-0.8zM143.88 158.17h0.8v0.8h-0.8zM138.95 154.6h0.8v0.8h-0.8zM143.22 157.7h0.8v0.8h-0.8zM139.71 150.44h0.8v0.8h-0.8zM136.73 166.68h0.8v0.8h-0.8zM141.92 153.98h0.8v0.8h-0.8zM138.02 159.28h0.8v0.8h-0.8zM140.9 161.6h0.8v0.8h-0.8zM145.06 155.1h0.8v0.8h-0.8zM144.68 149.89h0.8v0.8h-0.8zM141.52 152.35h0.8v0.8h-0.8zM138.69 155.08h0.8v0.8h-0.8zM142.07 161.6h0.8v0.8h-0.8zM132.44 151.91h0.8v0.8h-0.8zM139.74 152.87h0.8v0.8h-0.8zM143.77 156.86h0.8v0.8h-0.8zM142.58 152.82h0.8v0.8h-0.8zM143.98 156.65h0.8v0.8h-0.8zM136.97 153.79h0.8v0.8h-0.8zM138.38 149.56h0.8v0.8h-0.8zM142.94 155.28h0.8v0.8h-0.8zM142.84 150.97h0.8v0.8h-0.8zM141.9 150.8h0.8v0.8h-0.8zM143.65 158.17h0.8v0.8h-0.8zM147.77 160.82h0.8v0.8h-0.8zM140.08 152.89h0.8v0.8h-0.8zM139.68 156.41h0.8v0.8h-0.8zM148.44 158.26h0.8v0.8h-0.8zM135.9 149.22h0.8v0.8h-0.8zM138.62 157.37h0.8v0.8h-0.8zM142.5 156.38h0.8v0.8h-0.8zM147.84 151.2h0.8v0.8h-0.8zM139.96 164.04h0.8v0.8h-0.8zM143.53 151.42h0.8v0.8h-0.8zM136.41 147.99h0.8v0.8h-0.8zM135.17 155.31h0.8v0.8h-0.8zM142.63 159.57h0.8v0.8h-0.8zM142.08 151.81h0.8v0.8h-0.8zM140.28 163.75h0.8v0.8h-0.8zM137.2 155.8h0.8v0.8h-0.8zM142.58 157.84h0.8v0.8h-0.8zM141.29 157.3h0.8v0.8h-0.8zM144.95 154.32h0.8v0.8h-0.8zM141.13 154.14h0.8v0.8h-0.8zM139.61 154.04h0.8v0.8h-0.8zM141.59 155.97h0.8v0.8h-0.8zM146.51 161.02h0.8v0.8h-0.8zM141.16 157.77h0.8v0.8h-0.8zM143.38 158.5h0.8v0.8h-0.8zM142.56 156.22h0.8v0.8h-0.8zM141.09 151.39h0.8v0.8h-0.8zM145.12 160.97h0.8v0.8h-0.8zM144.49 157h0.8v0.8h-0.8zM143.3 152.93h0.8v0.8h-0.8zM137.15 158.05h0.8v0.8h-0.8zM143.1 152.45h0.8v0.8h-0.8zM139.61 160.88h0.8v0.8h-0.8zM137.09 163.1h0.8v0.8h-0.8zM144.42 165.91h0.8v0.8h-0.8zM140.35 154.9h0.8v0.8h-0.8zM140.98 155.71h0.8v0.8h-0.8zM141.87 151.56h0.8v0.8h-0.8zM145.72 151.39h0.8v0.8h-0.8zM140.98 157.55h0.8v0.8h-0.8zM140.89 153h0.8v0.8h-0.8zM143.57 153.31h0.8v0.8h-0.8zM138.76 154.53h0.8v0.8h-0.8zM141.84 162.84h0.8v0.8h-0.8zM139.21 159.46h0.8v0.8h-0.8zM140.14 153.36h0.8v0.8h-0.8zM141.52 156.24h0.8v0.8h-0.8zM145.09 163.05h0.8v0.8h-0.8zM140.59 161.12h0.8v0.8h-0.8zM145.49 158.74h0.8v0.8h-0.8zM140.22 159.14h0.8v0.8h-0.8zM142.18 156.63h0.8v0.8h-0.8zM141.69 158.05h0.8v0.8h-0.8zM145.85 160.2h0.8v0.8h-0.8zM141.88 159.58h0.8v0.8h-0.8zM146.86 150.7h0.8v0.8h-0.8zM146.92 148.86h0.8v0.8h-0.8zM144.13 157.73h0.8v0.8h-0.8zM146.95 156.28h0.8v0.8h-0.8zM141.06 151.33h0.8v0.8h-0.8zM138.75 158.52h0.8v0.8h-0.8zM141.79 151.7h0.8v0.8h-0.8zM144.1 151.48h0.8v0.8h-0.8zM141.19 152.89h0.8v0.8h-0.8zM147.46 161.73h0.8v0.8h-0.8zM142.03 147.77h0.8v0.8h-0.8zM143.33 155.33h0.8v0.8h-0.8zM143.55 157.6h0.8v0.8h-0.8zM141.54 159.26h0.8v0.8h-0.8zM145.01 155.97h0.8v0.8h-0.8zM141.28 152.79h0.8v0.8h-0.8zM144.58 149.94h0.8v0.8h-0.8zM142.02 151.55h0.8v0.8h-0.8zM138.32 157.78h0.8v0.8h-0.8zM142.42 155.16h0.8v0.8h-0.8zM145.12 148.13h0.8v0.8h-0.8zM142.3 156.33h0.8v0.8h-0.8zM145 150.01h0.8v0.8h-0.8zM144.65 156.01h0.8v0.8h-0.8zM146.57 160.24h0.8v0.8h-0.8zM144.15 164.88h0.8v0.8h-0.8zM142.5 153.05h0.8v0.8h-0.8zM141.48 150.67h0.8v0.8h-0.8zM142.41 146.36h0.8v0.8h-0.8zM142.25 156.96h0.8v0.8h-0.8zM145.47 153.4h0.8v0.8h-0.8zM146.67 152h0.8v0.8h-0.8zM142.1 146.36h0.8v0.8h-0.8zM140.22 151.36h0.8v0.8h-0.8zM146.88 157.38h0.8v0.8h-0.8zM139.27 157.4h0.8v0.8h-0.8zM143.91 153.95h0.8v0.8h-0.8zM142.57 153.63h0.8v0.8h-0.8zM140.91 147.04h0.8v0.8h-0.8zM142.23 160.77h0.8v0.8h-0.8zM146.7 153.75h0.8v0.8h-0.8zM140.31 154.05h0.8v0.8h-0.8zM145.13 156.58h0.8v0.8h-0.8zM140.79 156.63h0.8v0.8h-0.8zM141.9 157.31h0.8v0.8h-0.8zM141.31 148.4h0.8v0.8h-0.8zM142.67 158.41h0.8v0.8h-0.8zM139.26 154.52h0.8v0.8h-0.8zM145.07 153.32h0.8v0.8h-0.8zM140.6 164.1h0.8v0.8h-0.8zM144.93 159.61h0.8v0.8h-0.8zM139.74 162.32h0.8v0.8h-0.8zM137.66 152.68h0.8v0.8h-0.8zM144.66 160.96h0.8v0.8h-0.8zM139.78 152.03h0.8v0.8h-0.8zM143.07 146.37h0.8v0.8h-0.8zM144.37 157.5h0.8v0.8h-0.8zM141.19 157.4h0.8v0.8h-0.8zM144.76 156.38h0.8v0.8h-0.8zM144.02 161.76h0.8v0.8h-0.8zM141.11 155.72h0.8v0.8h-0.8zM140.98 159.62h0.8v0.8h-0.8zM141.31 157.12h0.8v0.8h-0.8zM142.9 155.3h0.8v0.8h-0.8zM147.49 154.62h0.8v0.8h-0.8zM146.62 158.68h0.8v0.8h-0.8zM146.33 154.27h0.8v0.8h-0.8zM145.19 158.37h0.8v0.8h-0.8zM140.72 156.2h0.8v0.8h-0.8zM142.13 154.84h0.8v0.8h-0.8zM146.28 151.8h0.8v0.8h-0.8zM137.62 147.26h0.8v0.8h-0.8zM141.19 152.13h0.8v0.8h-0.8zM142.54 157.51h0.8v0.8h-0.8zM147.6 156.37h0.8v0.8h-0.8zM143.84 151.74h0.8v0.8h-0.8zM144.18 161.03h0.8v0.8h-0.8zM146.38 146.33h0.8v0.8h-0.8zM145.08 162.03h0.8v0.8h-0.8zM144.89 148.37h0.8v0.8h-0.8zM141.61 157.6h0.8v0.8h-0.8zM143.7 151.4h0.8v0.8h-0.8zM139.93 159.28h0.8v0.8h-0.8zM138.64 161.35h0.8v0.8h-0.8zM142.56 156.33h0.8v0.8h-0.8zM138.65 152.36h0.8v0.8h-0.8zM144.49 148.49h0.8v0.8h-0.8zM148.48 148.79h0.8v0.8h-0.8zM138.97 155.19h0.8v0.8h-0.8zM143.89 158.24h0.8v0.8h-0.8zM141.43 154.08h0.8v0.8h-0.8zM141.82 152.46h0.8v0.8h-0.8zM135.06 159.25h0.8v0.8h-0.8zM143.22 155.7h0.8v0.8h-0.8zM140.69 156.11h0.8v0.8h-0.8zM142.46 154.66h0.8v0.8h-0.8zM145.69 147.39h0.8v0.8h-0.8zM143.23 150.29h0.8v0.8h-0.8zM141.58 161.62h0.8v0.8h-0.8z" fill="#666"/>
<path d="M139.67 147.76h0.8v0.8h-0.8zM141.18 150.28h0.8v0.8h-0.8zM139.99 143.96h0.8v0.8h-0.8zM144.58 147.15h0.8v0.8h-0.8zM142.02 150.59h0.8v0.8h-0.8zM140.27 147.1h0.8v0.8h-0.8zM143.45 148.99h0.8v0.8h-0.8zM141.41 150.48h0.8v0.8h-0.8zM149.89 147.02h0.8v0.8h-0.8zM148.75 142.94h0.8v0.8h-0.8zM147.32 147.17h0.8v0.8h-0.8zM143.42 147.18h0.8v0.8h-0.8zM141.04 144.93h0.8v0.8h-0.8zM141.79 151.11h0.8v0.8h-0.8zM146.5 147.16h0.8v0.8h-0.8zM141.38 146.31h0.8v0.8h-0.8zM139.31 152.33h0.8v0.8h-0.8zM145.04 148.28h0.8v0.8h-0.8zM141.49 145.55h0.8v0.8h-0.8zM147.05 149.87h0.8v0.8h-0.8zM140.07 150.37h0.8v0.8h-0.8zM139.6 149.54h0.8v0.8h-0.8zM140.05 147.01h0.8v0.8h-0.8zM144.52 149.04h0.8v0.8h-0.8zM146.11 145.99h0.8v0.8h-0.8zM147.85 151.23h0.8v0.8h-0.8zM142.97 149.12h0.8v0.8h-0.8zM140.61 147.63h0.8v0.8h-0.8zM138.94 148.21h0.8v0.8h-0.8zM143.61 151.22h0.8v0.8h-0.8zM145.91 149.96h0.8v0.8h-0.8zM141.89 147.46h0.8v0.8h-0.8zM141.95 148.53h0.8v0.8h-0.8zM137.07 149.85h0.8v0.8h-0.8zM138.19 146.76h0.8v0.8h-0.8zM143.07 146.77h0.8v0.8h-0.8zM148.11 147.77h0.8v0.8h-0.8zM147.83 150.82h0.8v0.8h-0.8zM141.47 148.96h0.8v0.8h-0.8zM146.99 147.2h0.8v0.8h-0.8z" fill="#aaa"/>
<path d="M145.63 158.6h0.8v0.8h-0.8zM145.78 159.11h0.8v0.8h-0.8zM147.56 161.99h0.8v0.8h-0.8zM151.38 157.28h0.8v0.8h-0.8zM147.82 161.41h0.8v0.8h-0.8zM143.59 158.34h0.8v0.8h-0.8zM148.99 155.58h0.8v0.8h-0.8zM148.28 155.91h0.8v0.8h-0.8zM151.55 153.79h0.8v0.8h-0.8zM151.05 161.41h0.8v0.8h-0.8zM144.26 165.29h0.8v0.8h-0.8zM140.72 157.96h0.8v0.8h-0.8zM149.58 159.96h0.8v0.8h-0.8zM142.09 154.98h0.8v0.8h-0.8zM145.41 159.46h0.8v0.8h-0.8zM144.22 160.19h0.8v0.8h-0.8zM138.6 162.64h0.8v0.8h-0.8zM154.66 159.46h0.8v0.8h-0.8zM143.76 159.24h0.8v0.8h-0.8zM148.81 161.44h0.8v0.8h-0.8zM147.25 155.91h0.8v0.8h-0.8zM146.78 159.95h0.8v0.8h-0.8zM152.87 159.48h0.8v0.8h-0.8zM149.48 161.5h0.8v0.8h-0.8zM146.44 164.18h0.8v0.8h-0.8zM144.9 161.78h0.8v0.8h-0.8zM148.3 156.04h0.8v0.8h-0.8zM141.18 157.72h0.8v0.8h-0.8zM146.55 159.53h0.8v0.8h-0.8zM145.4 161.78h0.8v0.8h-0.8zM138.05 164.52h0.8v0.8h-0.8zM145.99 159.24h0.8v0.8h-0.8zM151.16 162.07h0.8v0.8h-0.8zM143.16 158.93h0.8v0.8h-0.8zM143.85 161.51h0.8v0.8h-0.8zM147.12 156.87h0.8v0.8h-0.8zM148.46 155.63h0.8v0.8h-0.8zM149.63 159.14h0.8v0.8h-0.8zM150.43 163.66h0.8v0.8h-0.8zM144.81 160.21h0.8v0.8h-0.8zM148.86 160.84h0.8v0.8h-0.8zM141.34 163.49h0.8v0.8h-0.8zM144.01 162.96h0.8v0.8h-0.8zM151.19 157.15h0.8v0.8h-0.8zM145.83 160.63h0.8v0.8h-0.8zM135.91 168.05h0.8v0.8h-0.8zM148.31 159.14h0.8v0.8h-0.8zM143.61 159.28h0.8v0.8h-0.8zM146.84 163.01h0.8v0.8h-0.8zM147.3 163.13h0.8v0.8h-0.8zM135.8 164.56h0.8v0.8h-0.8zM147.01 159.38h0.8v0.8h-0.8zM138.96 162.15h0.8v0.8h-0.8zM149.06 154.51h0.8v0.8h-0.8zM140.92 159.77h0.8v0.8h-0.8zM144.74 162.58h0.8v0.8h-0.8zM145.69 154.33h0.8v0.8h-0.8zM150.72 155.57h0.8v0.8h-0.8zM145.88 164.88h0.8v0.8h-0.8zM144.15 157.5h0.8v0.8h-0.8zM142.7 159.81h0.8v0.8h-0.8zM141.81 161.46h0.8v0.8h-0.8zM149.72 158.86h0.8v0.8h-0.8zM144.31 169.01h0.8v0.8h-0.8zM142.44 162.39h0.8v0.8h-0.8zM147.07 161.58h0.8v0.8h-0.8zM145.34 161.7h0.8v0.8h-0.8zM154 155.66h0.8v0.8h-0.8zM142.36 163.05h0.8v0.8h-0.8zM142.53 160.93h0.8v0.8h-0.8zM147.12 160.32h0.8v0.8h-0.8zM145.99 162.45h0.8v0.8h-0.8zM143.65 157.6h0.8v0.8h-0.8zM148.83 157.32h0.8v0.8h-0.8zM149.72 155.96h0.8v0.8h-0.8zM148.54 159.44h0.8v0.8h-0.8zM134.05 162.6h0.8v0.8h-0.8zM143.57 165.46h0.8v0.8h-0.8zM140.08 166.05h0.8v0.8h-0.8zM150.7 158.71h0.8v0.8h-0.8zM147.9 157.47h0.8v0.8h-0.8zM146.24 160.51h0.8v0.8h-0.8zM148.46 160.62h0.8v0.8h-0.8zM144.35 158.93h0.8v0.8h-0.8zM144.41 162.1h0.8v0.8h-0.8zM138.22 160.88h0.8v0.8h-0.8zM143.77 159.69h0.8v0.8h-0.8zM141.67 154.83h0.8v0.8h-0.8zM144.41 160.19h0.8v0.8h-0.8zM146.43 154.04h0.8v0.8h-0.8zM145.45 161.69h0.8v0.8h-0.8zM149.32 161.53h0.8v0.8h-0.8zM148.64 155.45h0.8v0.8h-0.8zM147.96 157.9h0.8v0.8h-0.8zM144.91 165.05h0.8v0.8h-0.8zM142.58 159.51h0.8v0.8h-0.8zM143.41 159.04h0.8v0.8h-0.8zM150.25 158.65h0.8v0.8h-0.8zM151.76 157.86h0.8v0.8h-0.8zM145 163.6h0.8v0.8h-0.8zM142.97 160.42h0.8v0.8h-0.8zM145.42 160.45h0.8v0.8h-0.8zM149.72 156.1h0.8v0.8h-0.8zM147.28 159.18h0.8v0.8h-0.8zM139.91 160.35h0.8v0.8h-0.8zM145.68 161.35h0.8v0.8h-0.8zM147.8 160.34h0.8v0.8h-0.8zM145.62 158.92h0.8v0.8h-0.8zM146.35 156.9h0.8v0.8h-0.8zM140.54 162.19h0.8v0.8h-0.8z" fill="#444"/>
<path d="M133.37 169.63h0.8v0.8h-0.8zM137.42 166.83h0.8v0.8h-0.8zM141.22 163.35h0.8v0.8h-0.8zM137.21 162.19h0.8v0.8h-0.8zM142.22 162.37h0.8v0.8h-0.8zM140.11 155.68h0.8v0.8h-0.8zM138.6 169.36h0.8v0.8h-0.8zM127.52 174.06h0.8v0.8h-0.8zM143.77 165.43h0.8v0.8h-0.8zM134.36 172.06h0.8v0.8h-0.8zM142.06 162.08h0.8v0.8h-0.8zM147.42 162.42h0.8v0.8h-0.8zM142.26 164.12h0.8v0.8h-0.8zM146.51 163.62h0.8v0.8h-0.8zM150.76 162.33h0.8v0.8h-0.8zM138.83 167.28h0.8v0.8h-0.8zM147.88 160.81h0.8v0.8h-0.8zM146.31 165.51h0.8v0.8h-0.8zM137.5 159.42h0.8v0.8h-0.8zM144.21 165.6h0.8v0.8h-0.8zM142.38 162.75h0.8v0.8h-0.8zM150.09 160.33h0.8v0.8h-0.8zM137.85 165.87h0.8v0.8h-0.8zM143.11 160.9h0.8v0.8h-0.8zM140.71 175.29h0.8v0.8h-0.8zM152.97 163.4h0.8v0.8h-0.8zM152.43 161.85h0.8v0.8h-0.8zM135.01 175.65h0.8v0.8h-0.8zM151.47 162.04h0.8v0.8h-0.8zM133.45 176.86h0.8v0.8h-0.8zM150.38 158.66h0.8v0.8h-0.8zM145.25 167.27h0.8v0.8h-0.8zM144.57 169.05h0.8v0.8h-0.8zM144.81 167.2h0.8v0.8h-0.8zM140.71 160.84h0.8v0.8h-0.8zM142.95 178.7h0.8v0.8h-0.8zM147.19 168.23h0.8v0.8h-0.8zM153.19 166.01h0.8v0.8h-0.8zM145.25 161.56h0.8v0.8h-0.8zM139.47 159.81h0.8v0.8h-0.8zM143.58 168.9h0.8v0.8h-0.8zM130.19 174.64h0.8v0.8h-0.8zM150.55 166.12h0.8v0.8h-0.8zM136.11 167.26h0.8v0.8h-0.8zM129.62 169.95h0.8v0.8h-0.8zM150.2 169.45h0.8v0.8h-0.8zM138.63 174.08h0.8v0.8h-0.8zM144.67 162.36h0.8v0.8h-0.8zM151.6 149.41h0.8v0.8h-0.8zM143 166.41h0.8v0.8h-0.8zM159.43 162.32h0.8v0.8h-0.8zM157.09 156.91h0.8v0.8h-0.8zM151.59 165.61h0.8v0.8h-0.8zM146.81 164.52h0.8v0.8h-0.8zM141.1 165.03h0.8v0.8h-0.8zM139.2 176.1h0.8v0.8h-0.8zM136.31 161.17h0.8v0.8h-0.8zM144.55 164.35h0.8v0.8h-0.8zM147.54 170.13h0.8v0.8h-0.8zM141.85 165.14h0.8v0.8h-0.8zM138.39 168.4h0.8v0.8h-0.8zM140.71 167.84h0.8v0.8h-0.8zM162.86 154.25h0.8v0.8h-0.8zM141.44 174.57h0.8v0.8h-0.8zM149.84 164.46h0.8v0.8h-0.8zM148.94 165.07h0.8v0.8h-0.8zM149.82 166.96h0.8v0.8h-0.8zM151.73 165.46h0.8v0.8h-0.8zM139.92 167.49h0.8v0.8h-0.8zM140.36 171.21h0.8v0.8h-0.8zM147.2 160.83h0.8v0.8h-0.8zM151.59 170.89h0.8v0.8h-0.8zM148.44 157.3h0.8v0.8h-0.8zM143.65 167.73h0.8v0.8h-0.8zM143.52 166.78h0.8v0.8h-0.8zM150.85 161.77h0.8v0.8h-0.8zM137.64 171.97h0.8v0.8h-0.8zM142.62 166.22h0.8v0.8h-0.8zM136.89 163.69h0.8v0.8h-0.8zM134.69 169.42h0.8v0.8h-0.8zM131.27 161.77h0.8v0.8h-0.8zM147.82 157.52h0.8v0.8h-0.8zM139.58 169.95h0.8v0.8h-0.8zM130.8 179.04h0.8v0.8h-0.8zM139.55 170.5h0.8v0.8h-0.8zM140.63 168.32h0.8v0.8h-0.8zM143.64 165.08h0.8v0.8h-0.8zM129 168.45h0.8v0.8h-0.8zM145.44 169.81h0.8v0.8h-0.8zM140.67 169.23h0.8v0.8h-0.8zM144.92 166.28h0.8v0.8h-0.8zM146.22 157.15h0.8v0.8h-0.8zM144.34 163.88h0.8v0.8h-0.8zM139.46 164.23h0.8v0.8h-0.8zM136.22 165.6h0.8v0.8h-0.8zM141.07 177.25h0.8v0.8h-0.8zM153.44 158.76h0.8v0.8h-0.8zM145.68 159.68h0.8v0.8h-0.8zM146.62 169.17h0.8v0.8h-0.8zM140.83 162.72h0.8v0.8h-0.8zM139.61 163.53h0.8v0.8h-0.8zM134.01 170.37h0.8v0.8h-0.8zM139 164.7h0.8v0.8h-0.8zM135.79 166.29h0.8v0.8h-0.8zM147.11 168.66h0.8v0.8h-0.8zM145.98 172.91h0.8v0.8h-0.8zM133.61 172.75h0.8v0.8h-0.8zM135.6 169.63h0.8v0.8h-0.8zM144.69 166.74h0.8v0.8h-0.8z" fill="#333"/>
<path d="M153.85 165.65h0.8v0.8h-0.8zM145.76 166.54h0.8v0.8h-0.8zM151 165.3h0.8v0.8h-0.8zM153.05 171.1h0.8v0.8h-0.8zM145.15 167.88h0.8v0.8h-0.8zM153.47 162.32h0.8v0.8h-0.8zM150.7 166.45h0.8v0.8h-0.8zM145.14 170.21h0.8v0.8h-0.8zM150.74 165.83h0.8v0.8h-0.8zM151.51 168.57h0.8v0.8h-0.8zM152.62 168.41h0.8v0.8h-0.8zM151.39 164.13h0.8v0.8h-0.8zM148.56 167.31h0.8v0.8h-0.8zM140.56 172.19h0.8v0.8h-0.8zM148.71 164.43h0.8v0.8h-0.8zM143.8 167.61h0.8v0.8h-0.8zM150.11 165.58h0.8v0.8h-0.8zM148.58 164.84h0.8v0.8h-0.8zM147.44 166.76h0.8v0.8h-0.8zM147.8 168.65h0.8v0.8h-0.8z" fill="#aaa"/>
<line x1="144.8" y1="109" x2="144.8" y2="185.4" stroke="#777" stroke-width="0.9"/>
<line x1="122.4" y1="163.2" x2="198.4" y2="163.2" stroke="#777" stroke-width="0.9"/>
<g fill="#050505" filter="url(#soft)"><ellipse cx="143.2" cy="165.4" rx="8" ry="4" transform="rotate(-33 143.2 165.4)"/><ellipse cx="139.3" cy="168.6" rx="4.4" ry="3.4" transform="rotate(-15 139.3 168.6)"/></g>
<text x="0" y="0" font-size="10.2" fill="#111" stroke="#111" stroke-width="0.12" transform="translate(126.6 122.4) scale(0.93 1)">5.3</text>
<text x="0" y="0" font-size="10.2" text-anchor="end" fill="#111" stroke="#111" stroke-width="0.12" transform="translate(193.2 122.4) scale(0.93 1)">7.5</text>
<text x="0" y="0" font-size="10.2" text-anchor="end" fill="#111" stroke="#111" stroke-width="0.12" transform="translate(193.2 179.6) scale(0.93 1)">14</text>
<rect x="32" y="195.3" width="76" height="76.4" fill="none" stroke="#9a9a9a" stroke-width="0.7"/>
<text x="0" y="0" font-size="3.2" text-anchor="end" fill="#444" transform="translate(29.8 204.5) scale(0.93 1)">10<tspan dy="-1.3" font-size="2.2">5</tspan></text>
<line x1="30.4" y1="203.3" x2="32" y2="203.3" stroke="#666" stroke-width="0.5"/>
<text x="0" y="0" font-size="3.2" text-anchor="end" fill="#444" transform="translate(29.8 222.1) scale(0.93 1)">10<tspan dy="-1.3" font-size="2.2">4</tspan></text>
<line x1="30.4" y1="220.9" x2="32" y2="220.9" stroke="#666" stroke-width="0.5"/>
<text x="0" y="0" font-size="3.2" text-anchor="end" fill="#444" transform="translate(29.8 240.1) scale(0.93 1)">10<tspan dy="-1.3" font-size="2.2">3</tspan></text>
<line x1="30.4" y1="238.9" x2="32" y2="238.9" stroke="#666" stroke-width="0.5"/>
<text x="0" y="0" font-size="3.2" text-anchor="end" fill="#444" transform="translate(29.8 260.5) scale(0.93 1)">0</text>
<line x1="30.4" y1="259.3" x2="32" y2="259.3" stroke="#666" stroke-width="0.5"/>
<text x="0" y="0" font-size="3.2" text-anchor="middle" fill="#444" transform="translate(44.4 276.9) scale(0.93 1)">0</text>
<line x1="44.4" y1="271.7" x2="44.4" y2="273.3" stroke="#666" stroke-width="0.5"/>
<text x="0" y="0" font-size="3.2" text-anchor="middle" fill="#444" transform="translate(68 276.9) scale(0.93 1)">10<tspan dy="-1.3" font-size="2.2">3</tspan></text>
<line x1="68" y1="271.7" x2="68" y2="273.3" stroke="#666" stroke-width="0.5"/>
<text x="0" y="0" font-size="3.2" text-anchor="middle" fill="#444" transform="translate(86 276.9) scale(0.93 1)">10<tspan dy="-1.3" font-size="2.2">4</tspan></text>
<line x1="86" y1="271.7" x2="86" y2="273.3" stroke="#666" stroke-width="0.5"/>
<text x="0" y="0" font-size="3.2" text-anchor="middle" fill="#444" transform="translate(103 276.9) scale(0.93 1)">10<tspan dy="-1.3" font-size="2.2">5</tspan></text>
<line x1="103" y1="271.7" x2="103" y2="273.3" stroke="#666" stroke-width="0.5"/>
<path d="M30.8 253.3h1.2M37 271.7v1.2M30.8 254.4h1.2M38.1 271.7v1.2M30.8 255.5h1.2M39.2 271.7v1.2M30.8 256.6h1.2M40.3 271.7v1.2M30.8 257.7h1.2M41.4 271.7v1.2M30.8 258.8h1.2M42.5 271.7v1.2M30.8 259.9h1.2M43.6 271.7v1.2M30.8 261h1.2M44.7 271.7v1.2M30.8 262.1h1.2M45.8 271.7v1.2M30.8 263.2h1.2M46.9 271.7v1.2M30.8 264.3h1.2M48 271.7v1.2M30.8 265.4h1.2M49.1 271.7v1.2M31.1 206.3h0.9M31.1 209.3h0.9M31.1 212.3h0.9M31.1 214.3h0.9M31.1 216.3h0.9M31.1 217.8h0.9M31.1 219h0.9M31.1 223.9h0.9M31.1 226.9h0.9M31.1 229.9h0.9M31.1 231.9h0.9M31.1 233.9h0.9M31.1 235.4h0.9M31.1 236.6h0.9M31.1 241.9h0.9M31.1 244.9h0.9M31.1 247.9h0.9M31.1 249.9h0.9M31.1 251.9h0.9M31.1 253.4h0.9M31.1 254.6h0.9M65 271.7v0.9M62 271.7v0.9M59 271.7v0.9M57 271.7v0.9M55 271.7v0.9M53.5 271.7v0.9M52.3 271.7v0.9M83 271.7v0.9M80 271.7v0.9M77 271.7v0.9M75 271.7v0.9M73 271.7v0.9M71.5 271.7v0.9M70.3 271.7v0.9" stroke="#777" stroke-width="0.4" fill="none"/>
<path d="M30.5 255.3h1.5M39.5 271.7v1.5M30.5 256.25h1.5M40.5 271.7v1.5M30.5 257.2h1.5M41.5 271.7v1.5M30.5 258.15h1.5M42.5 271.7v1.5M30.5 259.1h1.5M43.5 271.7v1.5M30.5 260.05h1.5M44.5 271.7v1.5M30.5 261h1.5M45.5 271.7v1.5M30.5 261.95h1.5M46.5 271.7v1.5M30.5 262.9h1.5M47.5 271.7v1.5" stroke="#1a1a1a" stroke-width="0.8" fill="none"/>
<path d="M50.58 244.51h0.8v0.8h-0.8zM52.19 248.95h0.8v0.8h-0.8zM52.76 244.89h0.8v0.8h-0.8zM50.52 240.86h0.8v0.8h-0.8zM50 246.66h0.8v0.8h-0.8zM51.66 242.49h0.8v0.8h-0.8zM47.11 238.02h0.8v0.8h-0.8zM51.94 248h0.8v0.8h-0.8zM52.09 238.65h0.8v0.8h-0.8zM50.38 244.87h0.8v0.8h-0.8zM48.32 245.35h0.8v0.8h-0.8zM50.41 240.75h0.8v0.8h-0.8zM47.37 247.16h0.8v0.8h-0.8zM52.04 240.54h0.8v0.8h-0.8zM48.04 247.47h0.8v0.8h-0.8zM52.74 242.81h0.8v0.8h-0.8zM55.66 242.87h0.8v0.8h-0.8zM47.91 248.26h0.8v0.8h-0.8zM50.45 245.35h0.8v0.8h-0.8zM51.11 240.1h0.8v0.8h-0.8z" fill="#888"/>
<path d="M52.37 247.43h0.8v0.8h-0.8zM62.48 245.07h0.8v0.8h-0.8zM62.29 248.64h0.8v0.8h-0.8zM52.67 248.78h0.8v0.8h-0.8zM59.21 245.37h0.8v0.8h-0.8zM48.7 249.04h0.8v0.8h-0.8zM52.68 249.29h0.8v0.8h-0.8zM49.56 247.59h0.8v0.8h-0.8zM53.85 243.68h0.8v0.8h-0.8zM56.06 248.5h0.8v0.8h-0.8z" fill="#999"/>
<path d="M46.54 252.5h0.8v0.8h-0.8zM48.47 249.85h0.8v0.8h-0.8zM52.18 253.75h0.8v0.8h-0.8zM56.48 252.32h0.8v0.8h-0.8zM51.3 253.64h0.8v0.8h-0.8zM48.35 251.07h0.8v0.8h-0.8zM55.34 252.02h0.8v0.8h-0.8zM47.5 252.04h0.8v0.8h-0.8zM55.42 251.99h0.8v0.8h-0.8zM46.59 257.46h0.8v0.8h-0.8zM56.16 250.07h0.8v0.8h-0.8zM50.66 252.18h0.8v0.8h-0.8zM48.94 257.19h0.8v0.8h-0.8zM60.3 248.05h0.8v0.8h-0.8zM50.31 255.64h0.8v0.8h-0.8zM49.62 255.86h0.8v0.8h-0.8zM51.4 250.14h0.8v0.8h-0.8zM46.11 255.73h0.8v0.8h-0.8zM52.92 252.74h0.8v0.8h-0.8zM52.37 248.61h0.8v0.8h-0.8zM50.73 251.59h0.8v0.8h-0.8zM50.51 254.25h0.8v0.8h-0.8zM46.27 255.22h0.8v0.8h-0.8zM46.2 256.6h0.8v0.8h-0.8zM46.37 254.45h0.8v0.8h-0.8z" fill="#666"/>
<line x1="54.4" y1="195.3" x2="54.4" y2="271.7" stroke="#777" stroke-width="0.9"/>
<line x1="32" y1="249.5" x2="108" y2="249.5" stroke="#777" stroke-width="0.9"/>
<g fill="#050505" filter="url(#soft)"><ellipse cx="49.6" cy="254" rx="5" ry="3" transform="rotate(-30 49.6 254)"/><ellipse cx="53.5" cy="250.5" rx="3" ry="1.3" transform="rotate(-40 53.5 250.5)"/></g>
<text x="0" y="0" font-size="10.2" fill="#111" stroke="#111" stroke-width="0.12" transform="translate(36.2 208.7) scale(0.93 1)">0.3</text>
<text x="0" y="0" font-size="10.2" text-anchor="end" fill="#111" stroke="#111" stroke-width="0.12" transform="translate(102.8 208.7) scale(0.93 1)">0.9</text>
<text x="0" y="0" font-size="10.2" text-anchor="end" fill="#111" stroke="#111" stroke-width="0.12" transform="translate(102.8 265.9) scale(0.93 1)">2.2</text>
<rect x="122.4" y="195.3" width="76" height="76.4" fill="none" stroke="#9a9a9a" stroke-width="0.7"/>
<text x="0" y="0" font-size="3.2" text-anchor="end" fill="#444" transform="translate(120.2 204.5) scale(0.93 1)">10<tspan dy="-1.3" font-size="2.2">5</tspan></text>
<line x1="120.8" y1="203.3" x2="122.4" y2="203.3" stroke="#666" stroke-width="0.5"/>
<text x="0" y="0" font-size="3.2" text-anchor="end" fill="#444" transform="translate(120.2 222.1) scale(0.93 1)">10<tspan dy="-1.3" font-size="2.2">4</tspan></text>
<line x1="120.8" y1="220.9" x2="122.4" y2="220.9" stroke="#666" stroke-width="0.5"/>
<text x="0" y="0" font-size="3.2" text-anchor="end" fill="#444" transform="translate(120.2 240.1) scale(0.93 1)">10<tspan dy="-1.3" font-size="2.2">3</tspan></text>
<line x1="120.8" y1="238.9" x2="122.4" y2="238.9" stroke="#666" stroke-width="0.5"/>
<text x="0" y="0" font-size="3.2" text-anchor="end" fill="#444" transform="translate(120.2 260.5) scale(0.93 1)">0</text>
<line x1="120.8" y1="259.3" x2="122.4" y2="259.3" stroke="#666" stroke-width="0.5"/>
<text x="0" y="0" font-size="3.2" text-anchor="middle" fill="#444" transform="translate(134.8 276.9) scale(0.93 1)">0</text>
<line x1="134.8" y1="271.7" x2="134.8" y2="273.3" stroke="#666" stroke-width="0.5"/>
<text x="0" y="0" font-size="3.2" text-anchor="middle" fill="#444" transform="translate(158.4 276.9) scale(0.93 1)">10<tspan dy="-1.3" font-size="2.2">3</tspan></text>
<line x1="158.4" y1="271.7" x2="158.4" y2="273.3" stroke="#666" stroke-width="0.5"/>
<text x="0" y="0" font-size="3.2" text-anchor="middle" fill="#444" transform="translate(176.4 276.9) scale(0.93 1)">10<tspan dy="-1.3" font-size="2.2">4</tspan></text>
<line x1="176.4" y1="271.7" x2="176.4" y2="273.3" stroke="#666" stroke-width="0.5"/>
<text x="0" y="0" font-size="3.2" text-anchor="middle" fill="#444" transform="translate(193.4 276.9) scale(0.93 1)">10<tspan dy="-1.3" font-size="2.2">5</tspan></text>
<line x1="193.4" y1="271.7" x2="193.4" y2="273.3" stroke="#666" stroke-width="0.5"/>
<path d="M121.2 253.3h1.2M127.4 271.7v1.2M121.2 254.4h1.2M128.5 271.7v1.2M121.2 255.5h1.2M129.6 271.7v1.2M121.2 256.6h1.2M130.7 271.7v1.2M121.2 257.7h1.2M131.8 271.7v1.2M121.2 258.8h1.2M132.9 271.7v1.2M121.2 259.9h1.2M134 271.7v1.2M121.2 261h1.2M135.1 271.7v1.2M121.2 262.1h1.2M136.2 271.7v1.2M121.2 263.2h1.2M137.3 271.7v1.2M121.2 264.3h1.2M138.4 271.7v1.2M121.2 265.4h1.2M139.5 271.7v1.2M121.5 206.3h0.9M121.5 209.3h0.9M121.5 212.3h0.9M121.5 214.3h0.9M121.5 216.3h0.9M121.5 217.8h0.9M121.5 219h0.9M121.5 223.9h0.9M121.5 226.9h0.9M121.5 229.9h0.9M121.5 231.9h0.9M121.5 233.9h0.9M121.5 235.4h0.9M121.5 236.6h0.9M121.5 241.9h0.9M121.5 244.9h0.9M121.5 247.9h0.9M121.5 249.9h0.9M121.5 251.9h0.9M121.5 253.4h0.9M121.5 254.6h0.9M155.4 271.7v0.9M152.4 271.7v0.9M149.4 271.7v0.9M147.4 271.7v0.9M145.4 271.7v0.9M143.9 271.7v0.9M142.7 271.7v0.9M173.4 271.7v0.9M170.4 271.7v0.9M167.4 271.7v0.9M165.4 271.7v0.9M163.4 271.7v0.9M161.9 271.7v0.9M160.7 271.7v0.9" stroke="#777" stroke-width="0.4" fill="none"/>
<path d="M120.9 255.3h1.5M129.9 271.7v1.5M120.9 256.25h1.5M130.9 271.7v1.5M120.9 257.2h1.5M131.9 271.7v1.5M120.9 258.15h1.5M132.9 271.7v1.5M120.9 259.1h1.5M133.9 271.7v1.5M120.9 260.05h1.5M134.9 271.7v1.5M120.9 261h1.5M135.9 271.7v1.5M120.9 261.95h1.5M136.9 271.7v1.5M120.9 262.9h1.5M137.9 271.7v1.5" stroke="#1a1a1a" stroke-width="0.8" fill="none"/>
<path d="M142.09 235.2h0.8v0.8h-0.8zM144.62 235.29h0.8v0.8h-0.8zM143.81 240.65h0.8v0.8h-0.8zM138.69 237.73h0.8v0.8h-0.8zM139.23 236.9h0.8v0.8h-0.8zM140.76 249.58h0.8v0.8h-0.8zM140.36 248.13h0.8v0.8h-0.8zM142.71 231.4h0.8v0.8h-0.8zM135.22 242.94h0.8v0.8h-0.8zM136.1 243.18h0.8v0.8h-0.8zM144.29 241.27h0.8v0.8h-0.8zM140.93 237.54h0.8v0.8h-0.8zM142.2 237.24h0.8v0.8h-0.8zM140.05 236.85h0.8v0.8h-0.8zM144.67 235.39h0.8v0.8h-0.8zM142.53 232.31h0.8v0.8h-0.8zM139.57 231.01h0.8v0.8h-0.8zM140.96 242.97h0.8v0.8h-0.8zM142.33 236.14h0.8v0.8h-0.8zM143.16 236.98h0.8v0.8h-0.8zM142.51 240.59h0.8v0.8h-0.8zM142.97 224.61h0.8v0.8h-0.8zM137.97 243.49h0.8v0.8h-0.8zM141.21 252.03h0.8v0.8h-0.8zM140.86 235.8h0.8v0.8h-0.8zM145.55 242.23h0.8v0.8h-0.8zM146.64 241.96h0.8v0.8h-0.8zM140.95 243.2h0.8v0.8h-0.8zM139.37 236.41h0.8v0.8h-0.8zM140 237.71h0.8v0.8h-0.8zM143.61 236.21h0.8v0.8h-0.8zM142.37 236.11h0.8v0.8h-0.8zM143.89 223.01h0.8v0.8h-0.8zM140.94 239.98h0.8v0.8h-0.8zM138.58 244.88h0.8v0.8h-0.8zM142.09 246.43h0.8v0.8h-0.8zM144.1 242.72h0.8v0.8h-0.8zM141.1 232.7h0.8v0.8h-0.8zM140.9 236.33h0.8v0.8h-0.8zM142.18 236.3h0.8v0.8h-0.8zM149.77 229.73h0.8v0.8h-0.8zM144.68 236.28h0.8v0.8h-0.8zM140.84 244.37h0.8v0.8h-0.8zM141.51 231.97h0.8v0.8h-0.8zM142.62 237.87h0.8v0.8h-0.8zM135.93 240.15h0.8v0.8h-0.8zM138.65 234.69h0.8v0.8h-0.8zM142.81 240.74h0.8v0.8h-0.8zM140.71 251.57h0.8v0.8h-0.8zM142.63 235.44h0.8v0.8h-0.8zM142.14 238.3h0.8v0.8h-0.8zM135.54 229.87h0.8v0.8h-0.8zM137.74 250.97h0.8v0.8h-0.8zM141 237.4h0.8v0.8h-0.8zM139.97 244.68h0.8v0.8h-0.8zM141.58 248.88h0.8v0.8h-0.8zM143.63 248.53h0.8v0.8h-0.8zM141.18 241.17h0.8v0.8h-0.8zM140.33 238.02h0.8v0.8h-0.8zM136.82 235.64h0.8v0.8h-0.8zM138.93 235.23h0.8v0.8h-0.8zM144.79 240.51h0.8v0.8h-0.8zM144.81 243.97h0.8v0.8h-0.8zM143.98 244.81h0.8v0.8h-0.8zM139.87 243.64h0.8v0.8h-0.8zM140.63 235.93h0.8v0.8h-0.8zM144.73 251.52h0.8v0.8h-0.8zM138.86 249.05h0.8v0.8h-0.8zM143.74 234.1h0.8v0.8h-0.8zM142.24 241.15h0.8v0.8h-0.8zM142.51 236.94h0.8v0.8h-0.8zM138.03 239.18h0.8v0.8h-0.8zM143.82 243.54h0.8v0.8h-0.8zM143.28 245.37h0.8v0.8h-0.8zM138.83 238.76h0.8v0.8h-0.8zM142.42 244.78h0.8v0.8h-0.8zM141.92 242h0.8v0.8h-0.8zM141.86 251.13h0.8v0.8h-0.8zM135.61 238.86h0.8v0.8h-0.8zM148.18 240.36h0.8v0.8h-0.8zM136.56 239.77h0.8v0.8h-0.8zM137.63 235.07h0.8v0.8h-0.8zM142.11 248.91h0.8v0.8h-0.8zM142.75 242.86h0.8v0.8h-0.8zM144.25 240.16h0.8v0.8h-0.8zM139.19 238.43h0.8v0.8h-0.8zM142.41 237.4h0.8v0.8h-0.8zM139.7 236.93h0.8v0.8h-0.8zM137.45 233.08h0.8v0.8h-0.8zM141.26 236.92h0.8v0.8h-0.8zM141.6 247.11h0.8v0.8h-0.8zM142.31 238.81h0.8v0.8h-0.8zM138.34 232.77h0.8v0.8h-0.8zM142.51 233.96h0.8v0.8h-0.8zM142.66 232.8h0.8v0.8h-0.8zM141.86 238.58h0.8v0.8h-0.8zM144.18 236.73h0.8v0.8h-0.8zM140.5 240.42h0.8v0.8h-0.8zM141.65 248.76h0.8v0.8h-0.8zM140.81 235.9h0.8v0.8h-0.8zM140.64 241.74h0.8v0.8h-0.8zM142.13 243h0.8v0.8h-0.8zM137.77 253.31h0.8v0.8h-0.8zM146.46 238.82h0.8v0.8h-0.8zM138.24 239.89h0.8v0.8h-0.8zM142.62 226.11h0.8v0.8h-0.8zM141.54 230.47h0.8v0.8h-0.8zM142.73 246.98h0.8v0.8h-0.8zM144.28 230.3h0.8v0.8h-0.8zM145.22 244.23h0.8v0.8h-0.8zM140.53 241.9h0.8v0.8h-0.8zM145.59 237.09h0.8v0.8h-0.8zM141.46 235.77h0.8v0.8h-0.8zM144.62 226.57h0.8v0.8h-0.8zM145.32 233.41h0.8v0.8h-0.8zM144 229.62h0.8v0.8h-0.8zM138.98 235.55h0.8v0.8h-0.8zM143.73 229.64h0.8v0.8h-0.8zM143.12 235.33h0.8v0.8h-0.8zM144.85 237.2h0.8v0.8h-0.8zM142.81 238.01h0.8v0.8h-0.8zM146.33 236.92h0.8v0.8h-0.8zM141.43 250.45h0.8v0.8h-0.8zM141.71 242.96h0.8v0.8h-0.8zM139.51 240.15h0.8v0.8h-0.8zM135.39 239.61h0.8v0.8h-0.8zM139.76 230.32h0.8v0.8h-0.8zM137.68 245.59h0.8v0.8h-0.8zM142.65 230.25h0.8v0.8h-0.8zM146.39 234.98h0.8v0.8h-0.8zM140.51 240.42h0.8v0.8h-0.8zM138.44 229.66h0.8v0.8h-0.8zM139.49 245.82h0.8v0.8h-0.8zM144.06 229.88h0.8v0.8h-0.8zM144.74 239.2h0.8v0.8h-0.8zM142.85 239.3h0.8v0.8h-0.8zM142.61 233.22h0.8v0.8h-0.8zM139.05 234.94h0.8v0.8h-0.8zM140.51 242.58h0.8v0.8h-0.8zM138.22 248.2h0.8v0.8h-0.8zM139.8 235.6h0.8v0.8h-0.8zM143.39 241.5h0.8v0.8h-0.8zM140.59 232.82h0.8v0.8h-0.8zM138.81 229.77h0.8v0.8h-0.8zM144.58 245.26h0.8v0.8h-0.8zM146.53 241.88h0.8v0.8h-0.8zM142.4 243.37h0.8v0.8h-0.8zM144.06 237.51h0.8v0.8h-0.8zM142.45 251.44h0.8v0.8h-0.8zM136.94 230.88h0.8v0.8h-0.8z" fill="#888"/>
<path d="M141.03 248.03h0.8v0.8h-0.8zM147.66 245.09h0.8v0.8h-0.8zM146.07 245.87h0.8v0.8h-0.8zM144.92 244.54h0.8v0.8h-0.8zM143.92 245.99h0.8v0.8h-0.8zM147.48 252.02h0.8v0.8h-0.8zM138.41 247.44h0.8v0.8h-0.8zM143.98 248.61h0.8v0.8h-0.8zM147.27 248.1h0.8v0.8h-0.8zM146.49 243.44h0.8v0.8h-0.8zM138.75 250.5h0.8v0.8h-0.8zM147.72 243.43h0.8v0.8h-0.8zM147.98 247.8h0.8v0.8h-0.8zM136.44 248.42h0.8v0.8h-0.8zM140.96 249.14h0.8v0.8h-0.8zM141.9 244h0.8v0.8h-0.8zM139.24 245.42h0.8v0.8h-0.8zM147.14 244.19h0.8v0.8h-0.8zM138.27 251.78h0.8v0.8h-0.8zM149.69 247.86h0.8v0.8h-0.8zM142.34 242.73h0.8v0.8h-0.8zM138.95 247.51h0.8v0.8h-0.8zM148.01 243.14h0.8v0.8h-0.8zM144 245.25h0.8v0.8h-0.8zM143.21 247.35h0.8v0.8h-0.8zM150.45 244.28h0.8v0.8h-0.8zM146.62 248.94h0.8v0.8h-0.8zM143.12 245.6h0.8v0.8h-0.8zM139.86 248.91h0.8v0.8h-0.8zM142.36 244.23h0.8v0.8h-0.8zM144.21 243.68h0.8v0.8h-0.8zM140.78 245.2h0.8v0.8h-0.8zM148.59 245.45h0.8v0.8h-0.8zM145.63 242.04h0.8v0.8h-0.8zM137.99 250.91h0.8v0.8h-0.8zM142.77 241.85h0.8v0.8h-0.8zM143.67 247.64h0.8v0.8h-0.8zM138.67 243.62h0.8v0.8h-0.8zM144.8 243.51h0.8v0.8h-0.8zM146.46 248.6h0.8v0.8h-0.8zM145.37 244.84h0.8v0.8h-0.8zM143.86 244.29h0.8v0.8h-0.8zM143.6 246.86h0.8v0.8h-0.8zM143.07 248.63h0.8v0.8h-0.8zM152.01 244.52h0.8v0.8h-0.8zM145.06 248.22h0.8v0.8h-0.8zM145.99 245.36h0.8v0.8h-0.8zM142.52 248.71h0.8v0.8h-0.8zM145.93 247.37h0.8v0.8h-0.8zM141.52 247.71h0.8v0.8h-0.8zM146.46 245.5h0.8v0.8h-0.8zM146 251.87h0.8v0.8h-0.8zM138.2 247.64h0.8v0.8h-0.8zM140.38 242.31h0.8v0.8h-0.8zM143.27 247.48h0.8v0.8h-0.8zM144.16 242.85h0.8v0.8h-0.8zM139.55 244.49h0.8v0.8h-0.8zM144.04 243.75h0.8v0.8h-0.8zM139.35 250.75h0.8v0.8h-0.8zM141.41 245.58h0.8v0.8h-0.8z" fill="#555"/>
<path d="M138.75 252.77h0.8v0.8h-0.8zM142.7 251.33h0.8v0.8h-0.8zM144.49 246.68h0.8v0.8h-0.8zM137.81 263.32h0.8v0.8h-0.8zM143.94 254.7h0.8v0.8h-0.8zM150.89 249.35h0.8v0.8h-0.8zM140.43 247.87h0.8v0.8h-0.8zM135.39 261.08h0.8v0.8h-0.8zM147.98 251.3h0.8v0.8h-0.8zM129.48 252.71h0.8v0.8h-0.8zM134.71 253.05h0.8v0.8h-0.8zM142.1 248.87h0.8v0.8h-0.8zM151.14 244.57h0.8v0.8h-0.8zM141.26 256.82h0.8v0.8h-0.8zM143.31 248.57h0.8v0.8h-0.8zM151.26 254.49h0.8v0.8h-0.8zM135.37 256.28h0.8v0.8h-0.8zM133.21 251.03h0.8v0.8h-0.8zM147.92 251.85h0.8v0.8h-0.8zM149.48 249.78h0.8v0.8h-0.8zM131.15 259.89h0.8v0.8h-0.8zM136.97 251.59h0.8v0.8h-0.8zM137.89 258.63h0.8v0.8h-0.8zM144.8 258.87h0.8v0.8h-0.8zM142.33 245.22h0.8v0.8h-0.8zM150.49 252.36h0.8v0.8h-0.8zM141 248.82h0.8v0.8h-0.8zM151.01 241.92h0.8v0.8h-0.8zM139.08 247.34h0.8v0.8h-0.8zM132.58 252.37h0.8v0.8h-0.8zM151.52 251.42h0.8v0.8h-0.8zM138.18 250.08h0.8v0.8h-0.8zM143.33 253.58h0.8v0.8h-0.8zM131.94 254.91h0.8v0.8h-0.8zM143.67 254.64h0.8v0.8h-0.8zM144.25 253.26h0.8v0.8h-0.8zM131.16 250.15h0.8v0.8h-0.8zM143.18 248.56h0.8v0.8h-0.8zM141.59 251.73h0.8v0.8h-0.8zM144.44 248.32h0.8v0.8h-0.8zM151.56 246.86h0.8v0.8h-0.8zM147.25 252.03h0.8v0.8h-0.8zM149.84 249.45h0.8v0.8h-0.8zM131.55 257.25h0.8v0.8h-0.8zM154.82 246.49h0.8v0.8h-0.8zM147.15 251.45h0.8v0.8h-0.8zM137.99 252.87h0.8v0.8h-0.8zM141.28 258.01h0.8v0.8h-0.8zM148.37 255.86h0.8v0.8h-0.8zM149.37 255.66h0.8v0.8h-0.8zM143.56 247.24h0.8v0.8h-0.8zM153.9 246.56h0.8v0.8h-0.8zM150.43 248.32h0.8v0.8h-0.8zM141.37 254.03h0.8v0.8h-0.8zM134.2 253.27h0.8v0.8h-0.8zM136.79 254.25h0.8v0.8h-0.8zM134.79 257.22h0.8v0.8h-0.8zM148.49 256.8h0.8v0.8h-0.8zM153.81 245.08h0.8v0.8h-0.8zM147.84 248.28h0.8v0.8h-0.8zM145.25 250.7h0.8v0.8h-0.8zM139.93 254.59h0.8v0.8h-0.8zM135.03 259.23h0.8v0.8h-0.8zM139.31 250.38h0.8v0.8h-0.8zM141.87 255.24h0.8v0.8h-0.8zM139.83 256.25h0.8v0.8h-0.8zM149.22 254.47h0.8v0.8h-0.8zM136.34 256.18h0.8v0.8h-0.8zM148.77 254.54h0.8v0.8h-0.8zM145.93 253.4h0.8v0.8h-0.8zM133.21 256.33h0.8v0.8h-0.8zM152.36 245.09h0.8v0.8h-0.8zM154.53 241.9h0.8v0.8h-0.8zM138.44 248.89h0.8v0.8h-0.8zM147.27 250.59h0.8v0.8h-0.8zM155.31 244.96h0.8v0.8h-0.8zM138.94 249.31h0.8v0.8h-0.8zM144.24 255.28h0.8v0.8h-0.8zM149.65 252.89h0.8v0.8h-0.8zM148.07 248.82h0.8v0.8h-0.8z" fill="#333"/>
<path d="M152.09 253.43h0.8v0.8h-0.8zM145.4 257.22h0.8v0.8h-0.8zM151.29 250.41h0.8v0.8h-0.8zM151.33 253.71h0.8v0.8h-0.8zM153.45 256.57h0.8v0.8h-0.8zM139.48 254.37h0.8v0.8h-0.8zM155.29 250.66h0.8v0.8h-0.8zM143.57 253.69h0.8v0.8h-0.8zM151.16 253.87h0.8v0.8h-0.8zM146.16 251.84h0.8v0.8h-0.8zM150.67 254.84h0.8v0.8h-0.8zM157.59 253.73h0.8v0.8h-0.8zM147.91 247.16h0.8v0.8h-0.8zM153.72 252.67h0.8v0.8h-0.8zM149.62 250.55h0.8v0.8h-0.8z" fill="#aaa"/>
<line x1="144.8" y1="195.3" x2="144.8" y2="271.7" stroke="#777" stroke-width="0.9"/>
<line x1="122.4" y1="249.5" x2="198.4" y2="249.5" stroke="#777" stroke-width="0.9"/>
<g fill="#050505" filter="url(#soft)"><ellipse cx="143.2" cy="252.2" rx="7.8" ry="3.4" transform="rotate(-33 143.2 252.2)"/><ellipse cx="139.6" cy="254.6" rx="4" ry="2.8" transform="rotate(-20 139.6 254.6)"/></g>
<text x="0" y="0" font-size="10.2" fill="#111" stroke="#111" stroke-width="0.12" transform="translate(126.6 208.7) scale(0.93 1)">4.3</text>
<text x="0" y="0" font-size="10.2" text-anchor="end" fill="#111" stroke="#111" stroke-width="0.12" transform="translate(193.2 208.7) scale(0.93 1)">7</text>
<text x="0" y="0" font-size="10.2" text-anchor="end" fill="#111" stroke="#111" stroke-width="0.12" transform="translate(193.2 265.9) scale(0.93 1)">16</text>
<text x="0" y="0" font-size="14.5" font-weight="bold" fill="#111" transform="translate(227.5 11.5)">b</text>
<rect x="247.3" y="5.4" width="10.8" height="5.6" fill="#fff" stroke="#333" stroke-width="0.9"/>
<text x="0" y="0" font-size="10.2" fill="#111" stroke="#111" stroke-width="0.12" transform="translate(261.9 11.3) scale(0.93 1)">Healthy</text>
<rect x="247.3" y="15.1" width="10.8" height="5.6" fill="#5b93d2" stroke="#333" stroke-width="0.9"/>
<text x="0" y="0" font-size="10.2" fill="#111" stroke="#111" stroke-width="0.12" transform="translate(261.9 21) scale(0.93 1)">Mild</text>
<rect x="247.3" y="24.8" width="10.8" height="5.6" fill="#1d4f96" stroke="#333" stroke-width="0.9"/>
<text x="0" y="0" font-size="10.2" fill="#111" stroke="#111" stroke-width="0.12" transform="translate(261.9 30.7) scale(0.93 1)">Moderate</text>
<line x1="294" y1="42.4" x2="294" y2="146.8" stroke="#3a3a3a" stroke-width="1"/>
<line x1="290.5" y1="146.3" x2="294" y2="146.3" stroke="#3a3a3a" stroke-width="1"/>
<text x="0" y="0" font-size="10.2" text-anchor="end" fill="#111" stroke="#111" stroke-width="0.12" transform="translate(289.7 149.7) scale(0.93 1)">0</text>
<line x1="290.5" y1="125.52" x2="294" y2="125.52" stroke="#3a3a3a" stroke-width="1"/>
<text x="0" y="0" font-size="10.2" text-anchor="end" fill="#111" stroke="#111" stroke-width="0.12" transform="translate(289.7 128.92) scale(0.93 1)">20</text>
<line x1="290.5" y1="104.74" x2="294" y2="104.74" stroke="#3a3a3a" stroke-width="1"/>
<text x="0" y="0" font-size="10.2" text-anchor="end" fill="#111" stroke="#111" stroke-width="0.12" transform="translate(289.7 108.14) scale(0.93 1)">40</text>
<line x1="290.5" y1="83.96" x2="294" y2="83.96" stroke="#3a3a3a" stroke-width="1"/>
<text x="0" y="0" font-size="10.2" text-anchor="end" fill="#111" stroke="#111" stroke-width="0.12" transform="translate(289.7 87.36) scale(0.93 1)">60</text>
<line x1="290.5" y1="63.18" x2="294" y2="63.18" stroke="#3a3a3a" stroke-width="1"/>
<text x="0" y="0" font-size="10.2" text-anchor="end" fill="#111" stroke="#111" stroke-width="0.12" transform="translate(289.7 66.58) scale(0.93 1)">80</text>
<line x1="290.5" y1="42.4" x2="294" y2="42.4" stroke="#3a3a3a" stroke-width="1"/>
<text x="0" y="0" font-size="10.2" text-anchor="end" fill="#111" stroke="#111" stroke-width="0.12" transform="translate(289.7 45.8) scale(0.93 1)">100</text>
<line x1="294" y1="146.3" x2="356" y2="146.3" stroke="#3a3a3a" stroke-width="1"/>
<text x="0" y="0" font-size="10.2" text-anchor="middle" fill="#111" stroke="#111" stroke-width="0.12" transform="translate(265.8 93) rotate(-90) scale(0.96 1)">TNF<tspan dy="-3.2" font-size="6">+</tspan><tspan dy="3.2">CD14<tspan dy="-3.2" font-size="6">+</tspan><tspan dy="3.2"> cells (%)</tspan></tspan></text>
<rect x="300.3" y="115.2" width="13.5" height="31.1" fill="#fff" stroke="#2e2e2e" stroke-width="0.95"/>
<line x1="307.05" y1="115.2" x2="307.05" y2="110" stroke="#333" stroke-width="0.9"/>
<line x1="303.55" y1="110" x2="310.55" y2="110" stroke="#333" stroke-width="1"/>
<rect x="321.4" y="136.8" width="13" height="9.5" fill="#5b93d2" stroke="#2e2e2e" stroke-width="0.95"/>
<line x1="327.9" y1="136.8" x2="327.9" y2="134.3" stroke="#333" stroke-width="0.9"/>
<line x1="324.4" y1="134.3" x2="331.4" y2="134.3" stroke="#333" stroke-width="1"/>
<rect x="342.4" y="134.3" width="12.4" height="12" fill="#1d4f96" stroke="#2e2e2e" stroke-width="0.95"/>
<line x1="348.6" y1="134.3" x2="348.6" y2="131.4" stroke="#333" stroke-width="0.9"/>
<line x1="345.1" y1="131.4" x2="352.1" y2="131.4" stroke="#333" stroke-width="1"/>
<circle cx="306.66" cy="72.44" r="1.72" fill="#0d0d0d" stroke="none" stroke-width="1"/>
<circle cx="304.72" cy="82.84" r="1.72" fill="#0d0d0d" stroke="none" stroke-width="1"/>
<circle cx="308.9" cy="83.81" r="1.72" fill="#0d0d0d" stroke="none" stroke-width="1"/>
<circle cx="306.66" cy="92.26" r="1.72" fill="#0d0d0d" stroke="none" stroke-width="1"/>
<circle cx="306.66" cy="99.07" r="1.72" fill="#0d0d0d" stroke="none" stroke-width="1"/>
<circle cx="304.72" cy="104.9" r="1.72" fill="#0d0d0d" stroke="none" stroke-width="1"/>
<circle cx="308.9" cy="103.54" r="1.72" fill="#0d0d0d" stroke="none" stroke-width="1"/>
<circle cx="306.66" cy="112.96" r="1.72" fill="#0d0d0d" stroke="none" stroke-width="1"/>
<circle cx="303.26" cy="119.28" r="1.72" fill="#0d0d0d" stroke="none" stroke-width="1"/>
<circle cx="306.66" cy="118.31" r="1.72" fill="#0d0d0d" stroke="none" stroke-width="1"/>
<circle cx="310.06" cy="118.31" r="1.72" fill="#0d0d0d" stroke="none" stroke-width="1"/>
<circle cx="305.2" cy="129.48" r="1.72" fill="#0d0d0d" stroke="none" stroke-width="1"/>
<circle cx="312.49" cy="128.51" r="1.72" fill="#0d0d0d" stroke="none" stroke-width="1"/>
<circle cx="301.32" cy="132.11" r="1.72" fill="#0d0d0d" stroke="none" stroke-width="1"/>
<circle cx="305.2" cy="133.86" r="1.72" fill="#0d0d0d" stroke="none" stroke-width="1"/>
<circle cx="308.61" cy="133.86" r="1.72" fill="#0d0d0d" stroke="none" stroke-width="1"/>
<circle cx="312.49" cy="131.43" r="1.72" fill="#0d0d0d" stroke="none" stroke-width="1"/>
<circle cx="306.66" cy="138.91" r="1.72" fill="#0d0d0d" stroke="none" stroke-width="1"/>
<circle cx="306.66" cy="142.6" r="1.72" fill="#0d0d0d" stroke="none" stroke-width="1"/>
<circle cx="325.61" cy="117.14" r="1.72" fill="#0d0d0d" stroke="none" stroke-width="1"/>
<circle cx="328.53" cy="117.14" r="1.72" fill="#0d0d0d" stroke="none" stroke-width="1"/>
<circle cx="326.1" cy="127.06" r="1.72" fill="#0d0d0d" stroke="none" stroke-width="1"/>
<circle cx="325.13" cy="128.51" r="1.72" fill="#0d0d0d" stroke="none" stroke-width="1"/>
<circle cx="328.53" cy="129.97" r="1.72" fill="#0d0d0d" stroke="none" stroke-width="1"/>
<circle cx="327.56" cy="131.91" r="1.72" fill="#0d0d0d" stroke="none" stroke-width="1"/>
<circle cx="326.1" cy="134.83" r="1.72" fill="#0d0d0d" stroke="none" stroke-width="1"/>
<circle cx="329.5" cy="134.83" r="1.72" fill="#0d0d0d" stroke="none" stroke-width="1"/>
<circle cx="327.07" cy="137.75" r="1.72" fill="#0d0d0d" stroke="none" stroke-width="1"/>
<circle cx="322.7" cy="142.12" r="1.72" fill="#0d0d0d" stroke="none" stroke-width="1"/>
<circle cx="325.13" cy="141.63" r="1.72" fill="#0d0d0d" stroke="none" stroke-width="1"/>
<circle cx="328.53" cy="142.12" r="1.72" fill="#0d0d0d" stroke="none" stroke-width="1"/>
<circle cx="332.41" cy="142.12" r="1.72" fill="#0d0d0d" stroke="none" stroke-width="1"/>
<circle cx="324.15" cy="144.55" r="1.72" fill="#0d0d0d" stroke="none" stroke-width="1"/>
<circle cx="327.07" cy="145.03" r="1.72" fill="#0d0d0d" stroke="none" stroke-width="1"/>
<circle cx="330.47" cy="145.03" r="1.72" fill="#0d0d0d" stroke="none" stroke-width="1"/>
<circle cx="332.9" cy="144.55" r="1.72" fill="#0d0d0d" stroke="none" stroke-width="1"/>
<circle cx="346.02" cy="114.91" r="1.72" fill="#0d0d0d" stroke="none" stroke-width="1"/>
<circle cx="348.45" cy="113.94" r="1.72" fill="#0d0d0d" stroke="none" stroke-width="1"/>
<circle cx="350.88" cy="113.94" r="1.72" fill="#0d0d0d" stroke="none" stroke-width="1"/>
<circle cx="343.59" cy="127.06" r="1.72" fill="#0d0d0d" stroke="none" stroke-width="1"/>
<circle cx="346.51" cy="127.54" r="1.72" fill="#0d0d0d" stroke="none" stroke-width="1"/>
<circle cx="349.42" cy="127.06" r="1.72" fill="#0d0d0d" stroke="none" stroke-width="1"/>
<circle cx="352.82" cy="126.57" r="1.72" fill="#0d0d0d" stroke="none" stroke-width="1"/>
<circle cx="345.53" cy="139.2" r="1.72" fill="#0d0d0d" stroke="none" stroke-width="1"/>
<circle cx="348.94" cy="138.72" r="1.72" fill="#0d0d0d" stroke="none" stroke-width="1"/>
<circle cx="352.34" cy="139.2" r="1.72" fill="#0d0d0d" stroke="none" stroke-width="1"/>
<circle cx="343.59" cy="142.12" r="1.72" fill="#0d0d0d" stroke="none" stroke-width="1"/>
<circle cx="346.51" cy="142.6" r="1.72" fill="#0d0d0d" stroke="none" stroke-width="1"/>
<circle cx="349.91" cy="141.63" r="1.72" fill="#0d0d0d" stroke="none" stroke-width="1"/>
<circle cx="353.31" cy="141.63" r="1.72" fill="#0d0d0d" stroke="none" stroke-width="1"/>
<circle cx="345.53" cy="146.01" r="1.72" fill="#0d0d0d" stroke="none" stroke-width="1"/>
<circle cx="348.94" cy="145.52" r="1.72" fill="#0d0d0d" stroke="none" stroke-width="1"/>
<path d="M306.6 45.4V39.5H348.2V107.6" fill="none" stroke="#444" stroke-width="0.8"/>
<path d="M306.6 66.3V60.3H327.6V111" fill="none" stroke="#444" stroke-width="0.8"/>
<path d="M321.7 28.85L321.7 35.15M318.97 30.43L324.43 33.58M324.43 30.43L318.97 33.58M327.9 28.85L327.9 35.15M325.17 30.43L330.63 33.58M330.63 30.43L325.17 33.58M334.1 28.85L334.1 35.15M331.37 30.43L336.83 33.58M336.83 30.43L331.37 33.58" stroke="#111" stroke-width="1.65" fill="none"/>
<path d="M311.1 49.55L311.1 55.85M308.37 51.12L313.83 54.28M313.83 51.12L308.37 54.28M317.3 49.55L317.3 55.85M314.57 51.12L320.03 54.28M320.03 51.12L314.57 54.28M323.5 49.55L323.5 55.85M320.77 51.12L326.23 54.28M326.23 51.12L320.77 54.28" stroke="#111" stroke-width="1.65" fill="none"/>
<line x1="294" y1="165.08" x2="294" y2="269.8" stroke="#3a3a3a" stroke-width="1"/>
<line x1="290.5" y1="269.3" x2="294" y2="269.3" stroke="#3a3a3a" stroke-width="1"/>
<text x="0" y="0" font-size="10.2" text-anchor="end" fill="#111" stroke="#111" stroke-width="0.12" transform="translate(289.7 272.7) scale(0.93 1)">0</text>
<line x1="290.5" y1="234.56" x2="294" y2="234.56" stroke="#3a3a3a" stroke-width="1"/>
<text x="0" y="0" font-size="10.2" text-anchor="end" fill="#111" stroke="#111" stroke-width="0.12" transform="translate(289.7 237.96) scale(0.93 1)">20</text>
<line x1="290.5" y1="199.82" x2="294" y2="199.82" stroke="#3a3a3a" stroke-width="1"/>
<text x="0" y="0" font-size="10.2" text-anchor="end" fill="#111" stroke="#111" stroke-width="0.12" transform="translate(289.7 203.22) scale(0.93 1)">40</text>
<line x1="290.5" y1="165.08" x2="294" y2="165.08" stroke="#3a3a3a" stroke-width="1"/>
<text x="0" y="0" font-size="10.2" text-anchor="end" fill="#111" stroke="#111" stroke-width="0.12" transform="translate(289.7 168.48) scale(0.93 1)">60</text>
<line x1="294" y1="269.3" x2="356" y2="269.3" stroke="#3a3a3a" stroke-width="1"/>
<text x="0" y="0" font-size="10.2" text-anchor="middle" fill="#111" stroke="#111" stroke-width="0.12" transform="translate(272.2 216) rotate(-90) scale(0.93 1)">IL-10<tspan dy="-3.2" font-size="6">+</tspan><tspan dy="3.2">CD14<tspan dy="-3.2" font-size="6">+</tspan><tspan dy="3.2"> cells (%)</tspan></tspan></text>
<rect x="300.2" y="231.7" width="13.4" height="37.6" fill="#fff" stroke="#2e2e2e" stroke-width="0.95"/>
<line x1="306.9" y1="231.7" x2="306.9" y2="222.4" stroke="#333" stroke-width="0.9"/>
<line x1="303.4" y1="222.4" x2="310.4" y2="222.4" stroke="#333" stroke-width="1"/>
<rect x="321.3" y="244.5" width="13.5" height="24.8" fill="#5b93d2" stroke="#2e2e2e" stroke-width="0.95"/>
<line x1="328.05" y1="244.5" x2="328.05" y2="238" stroke="#333" stroke-width="0.9"/>
<line x1="324.55" y1="238" x2="331.55" y2="238" stroke="#333" stroke-width="1"/>
<rect x="342.5" y="242.6" width="13" height="26.7" fill="#1d4f96" stroke="#2e2e2e" stroke-width="0.95"/>
<line x1="349" y1="242.6" x2="349" y2="236.4" stroke="#333" stroke-width="0.9"/>
<line x1="345.5" y1="236.4" x2="352.5" y2="236.4" stroke="#333" stroke-width="1"/>
<circle cx="307.06" cy="164.97" r="1.72" fill="#0d0d0d" stroke="none" stroke-width="1"/>
<circle cx="307.06" cy="168.45" r="1.72" fill="#0d0d0d" stroke="none" stroke-width="1"/>
<circle cx="307.06" cy="172.06" r="1.72" fill="#0d0d0d" stroke="none" stroke-width="1"/>
<circle cx="307.06" cy="180.76" r="1.72" fill="#0d0d0d" stroke="none" stroke-width="1"/>
<circle cx="307.06" cy="187.59" r="1.72" fill="#0d0d0d" stroke="none" stroke-width="1"/>
<circle cx="305.56" cy="213.44" r="1.72" fill="#0d0d0d" stroke="none" stroke-width="1"/>
<circle cx="308.05" cy="214.69" r="1.72" fill="#0d0d0d" stroke="none" stroke-width="1"/>
<circle cx="306.19" cy="217.17" r="1.72" fill="#0d0d0d" stroke="none" stroke-width="1"/>
<circle cx="307.43" cy="216.55" r="1.72" fill="#0d0d0d" stroke="none" stroke-width="1"/>
<circle cx="307.06" cy="227.74" r="1.72" fill="#0d0d0d" stroke="none" stroke-width="1"/>
<circle cx="307.06" cy="232.71" r="1.72" fill="#0d0d0d" stroke="none" stroke-width="1"/>
<circle cx="307.06" cy="245.14" r="1.72" fill="#0d0d0d" stroke="none" stroke-width="1"/>
<circle cx="306.19" cy="261.29" r="1.72" fill="#0d0d0d" stroke="none" stroke-width="1"/>
<circle cx="301.84" cy="264.4" r="1.72" fill="#0d0d0d" stroke="none" stroke-width="1"/>
<circle cx="304.32" cy="266.26" r="1.72" fill="#0d0d0d" stroke="none" stroke-width="1"/>
<circle cx="306.81" cy="266.89" r="1.72" fill="#0d0d0d" stroke="none" stroke-width="1"/>
<circle cx="308.67" cy="266.89" r="1.72" fill="#0d0d0d" stroke="none" stroke-width="1"/>
<circle cx="301.84" cy="269.37" r="1.72" fill="#0d0d0d" stroke="none" stroke-width="1"/>
<circle cx="306.19" cy="269.37" r="1.72" fill="#0d0d0d" stroke="none" stroke-width="1"/>
<circle cx="310.54" cy="269.37" r="1.72" fill="#0d0d0d" stroke="none" stroke-width="1"/>
<circle cx="312.4" cy="269.37" r="1.72" fill="#0d0d0d" stroke="none" stroke-width="1"/>
<circle cx="326.07" cy="187.59" r="1.72" fill="#0d0d0d" stroke="none" stroke-width="1"/>
<circle cx="330.05" cy="187.59" r="1.72" fill="#0d0d0d" stroke="none" stroke-width="1"/>
<circle cx="327.69" cy="210.34" r="1.72" fill="#0d0d0d" stroke="none" stroke-width="1"/>
<circle cx="327.69" cy="231.09" r="1.72" fill="#0d0d0d" stroke="none" stroke-width="1"/>
<circle cx="327.69" cy="234.57" r="1.72" fill="#0d0d0d" stroke="none" stroke-width="1"/>
<circle cx="327.69" cy="239.54" r="1.72" fill="#0d0d0d" stroke="none" stroke-width="1"/>
<circle cx="327.69" cy="242.65" r="1.72" fill="#0d0d0d" stroke="none" stroke-width="1"/>
<circle cx="322.59" cy="251.97" r="1.72" fill="#0d0d0d" stroke="none" stroke-width="1"/>
<circle cx="329.8" cy="253.21" r="1.72" fill="#0d0d0d" stroke="none" stroke-width="1"/>
<circle cx="333.28" cy="252.59" r="1.72" fill="#0d0d0d" stroke="none" stroke-width="1"/>
<circle cx="326.07" cy="256.32" r="1.72" fill="#0d0d0d" stroke="none" stroke-width="1"/>
<circle cx="322.59" cy="258.81" r="1.72" fill="#0d0d0d" stroke="none" stroke-width="1"/>
<circle cx="329.8" cy="259.43" r="1.72" fill="#0d0d0d" stroke="none" stroke-width="1"/>
<circle cx="333.28" cy="259.43" r="1.72" fill="#0d0d0d" stroke="none" stroke-width="1"/>
<circle cx="326.07" cy="263.16" r="1.72" fill="#0d0d0d" stroke="none" stroke-width="1"/>
<circle cx="327.94" cy="266.26" r="1.72" fill="#0d0d0d" stroke="none" stroke-width="1"/>
<circle cx="331.66" cy="266.89" r="1.72" fill="#0d0d0d" stroke="none" stroke-width="1"/>
<circle cx="324.21" cy="268.13" r="1.72" fill="#0d0d0d" stroke="none" stroke-width="1"/>
<circle cx="348.69" cy="189.46" r="1.72" fill="#0d0d0d" stroke="none" stroke-width="1"/>
<circle cx="348.69" cy="203.25" r="1.72" fill="#0d0d0d" stroke="none" stroke-width="1"/>
<circle cx="348.69" cy="208.47" r="1.72" fill="#0d0d0d" stroke="none" stroke-width="1"/>
<circle cx="346.95" cy="218.66" r="1.72" fill="#0d0d0d" stroke="none" stroke-width="1"/>
<circle cx="350.56" cy="218.66" r="1.72" fill="#0d0d0d" stroke="none" stroke-width="1"/>
<circle cx="346.95" cy="225.87" r="1.72" fill="#0d0d0d" stroke="none" stroke-width="1"/>
<circle cx="350.56" cy="224.01" r="1.72" fill="#0d0d0d" stroke="none" stroke-width="1"/>
<circle cx="350.56" cy="227.74" r="1.72" fill="#0d0d0d" stroke="none" stroke-width="1"/>
<circle cx="346.95" cy="239.54" r="1.72" fill="#0d0d0d" stroke="none" stroke-width="1"/>
<circle cx="350.56" cy="239.54" r="1.72" fill="#0d0d0d" stroke="none" stroke-width="1"/>
<circle cx="348.69" cy="245.14" r="1.72" fill="#0d0d0d" stroke="none" stroke-width="1"/>
<circle cx="343.47" cy="261.29" r="1.72" fill="#0d0d0d" stroke="none" stroke-width="1"/>
<circle cx="346.95" cy="261.29" r="1.72" fill="#0d0d0d" stroke="none" stroke-width="1"/>
<circle cx="350.56" cy="260.67" r="1.72" fill="#0d0d0d" stroke="none" stroke-width="1"/>
<circle cx="354.04" cy="262.54" r="1.72" fill="#0d0d0d" stroke="none" stroke-width="1"/>
<circle cx="343.47" cy="265.64" r="1.72" fill="#0d0d0d" stroke="none" stroke-width="1"/>
<circle cx="346.95" cy="263.78" r="1.72" fill="#0d0d0d" stroke="none" stroke-width="1"/>
<circle cx="350.56" cy="265.64" r="1.72" fill="#0d0d0d" stroke="none" stroke-width="1"/>
<circle cx="354.04" cy="266.26" r="1.72" fill="#0d0d0d" stroke="none" stroke-width="1"/>
<circle cx="343.47" cy="269.37" r="1.72" fill="#0d0d0d" stroke="none" stroke-width="1"/>
<circle cx="350.56" cy="269.37" r="1.72" fill="#0d0d0d" stroke="none" stroke-width="1"/>
<text x="0" y="0" font-size="14.5" font-weight="bold" fill="#111" transform="translate(400.5 11.5)">c</text>
<text x="0" y="0" font-size="10.2" text-anchor="middle" fill="#111" stroke="#111" stroke-width="0.12" transform="translate(478.9 9.7) scale(0.97 1)">CCCoV</text>
<text x="0" y="0" font-size="10.2" text-anchor="middle" fill="#111" stroke="#111" stroke-width="0.12" transform="translate(588.4 10) scale(0.93 1)">LPS</text>
<rect x="620.4" y="2.4" width="10.8" height="5.6" fill="#fff" stroke="#333" stroke-width="0.9"/>
<text x="0" y="0" font-size="10.2" fill="#111" stroke="#111" stroke-width="0.12" transform="translate(635 8.3) scale(0.93 1)">Healthy</text>
<rect x="620.4" y="12.1" width="10.8" height="5.6" fill="#5b93d2" stroke="#333" stroke-width="0.9"/>
<text x="0" y="0" font-size="10.2" fill="#111" stroke="#111" stroke-width="0.12" transform="translate(635 18) scale(0.93 1)">Mild</text>
<rect x="620.4" y="21.8" width="10.8" height="5.6" fill="#1d4f96" stroke="#333" stroke-width="0.9"/>
<text x="0" y="0" font-size="10.2" fill="#111" stroke="#111" stroke-width="0.12" transform="translate(635 27.7) scale(0.93 1)">Moderate</text>
<text x="0" y="0" font-size="10.2" fill="#111" stroke="#111" stroke-width="0.12" transform="translate(639.4 92) scale(0.93 1)">TNF</text>
<text x="0" y="0" font-size="10.2" fill="#111" stroke="#111" stroke-width="0.12" transform="translate(639.6 228) scale(0.93 1)">IL-10</text>
<line x1="447.6" y1="42.4" x2="447.6" y2="146.8" stroke="#3a3a3a" stroke-width="1"/>
<line x1="444.1" y1="146.3" x2="447.6" y2="146.3" stroke="#3a3a3a" stroke-width="1"/>
<text x="0" y="0" font-size="10.2" text-anchor="end" fill="#111" stroke="#111" stroke-width="0.12" transform="translate(443.3 149.7) scale(0.93 1)">0</text>
<line x1="444.1" y1="125.52" x2="447.6" y2="125.52" stroke="#3a3a3a" stroke-width="1"/>
<text x="0" y="0" font-size="10.2" text-anchor="end" fill="#111" stroke="#111" stroke-width="0.12" transform="translate(443.3 128.92) scale(0.93 1)">20</text>
<line x1="444.1" y1="104.74" x2="447.6" y2="104.74" stroke="#3a3a3a" stroke-width="1"/>
<text x="0" y="0" font-size="10.2" text-anchor="end" fill="#111" stroke="#111" stroke-width="0.12" transform="translate(443.3 108.14) scale(0.93 1)">40</text>
<line x1="444.1" y1="83.96" x2="447.6" y2="83.96" stroke="#3a3a3a" stroke-width="1"/>
<text x="0" y="0" font-size="10.2" text-anchor="end" fill="#111" stroke="#111" stroke-width="0.12" transform="translate(443.3 87.36) scale(0.93 1)">60</text>
<line x1="444.1" y1="63.18" x2="447.6" y2="63.18" stroke="#3a3a3a" stroke-width="1"/>
<text x="0" y="0" font-size="10.2" text-anchor="end" fill="#111" stroke="#111" stroke-width="0.12" transform="translate(443.3 66.58) scale(0.93 1)">80</text>
<line x1="444.1" y1="42.4" x2="447.6" y2="42.4" stroke="#3a3a3a" stroke-width="1"/>
<text x="0" y="0" font-size="10.2" text-anchor="end" fill="#111" stroke="#111" stroke-width="0.12" transform="translate(443.3 45.8) scale(0.93 1)">100</text>
<line x1="447.6" y1="146.3" x2="516" y2="146.3" stroke="#3a3a3a" stroke-width="1"/>
<text x="0" y="0" font-size="10.2" text-anchor="middle" fill="#111" stroke="#111" stroke-width="0.12" transform="translate(420 93) rotate(-90) scale(0.96 1)">TNF<tspan dy="-3.2" font-size="6">+</tspan><tspan dy="3.2">CD14<tspan dy="-3.2" font-size="6">+</tspan><tspan dy="3.2"> cells (%)</tspan></tspan></text>
<rect x="454.4" y="104.5" width="13.1" height="41.8" fill="#fff" stroke="#2e2e2e" stroke-width="0.95"/>
<line x1="460.95" y1="104.5" x2="460.95" y2="96.6" stroke="#333" stroke-width="0.9"/>
<line x1="457.45" y1="96.6" x2="464.45" y2="96.6" stroke="#333" stroke-width="1"/>
<rect x="475" y="138.6" width="12.8" height="7.7" fill="#5b93d2" stroke="#2e2e2e" stroke-width="0.95"/>
<line x1="481.4" y1="138.6" x2="481.4" y2="135" stroke="#333" stroke-width="0.9"/>
<line x1="477.9" y1="135" x2="484.9" y2="135" stroke="#333" stroke-width="1"/>
<rect x="495.7" y="131.5" width="13.1" height="14.8" fill="#1d4f96" stroke="#2e2e2e" stroke-width="0.95"/>
<line x1="502.25" y1="131.5" x2="502.25" y2="125.5" stroke="#333" stroke-width="0.9"/>
<line x1="498.75" y1="125.5" x2="505.75" y2="125.5" stroke="#333" stroke-width="1"/>
<circle cx="460.62" cy="62.39" r="1.72" fill="#0d0d0d" stroke="none" stroke-width="1"/>
<circle cx="457.24" cy="78.91" r="1.72" fill="#0d0d0d" stroke="none" stroke-width="1"/>
<circle cx="463.7" cy="78.91" r="1.72" fill="#0d0d0d" stroke="none" stroke-width="1"/>
<circle cx="460.62" cy="85.28" r="1.72" fill="#0d0d0d" stroke="none" stroke-width="1"/>
<circle cx="460.62" cy="95.54" r="1.72" fill="#0d0d0d" stroke="none" stroke-width="1"/>
<circle cx="460.62" cy="100.67" r="1.72" fill="#0d0d0d" stroke="none" stroke-width="1"/>
<circle cx="460.62" cy="103.24" r="1.72" fill="#0d0d0d" stroke="none" stroke-width="1"/>
<circle cx="460.62" cy="115.04" r="1.72" fill="#0d0d0d" stroke="none" stroke-width="1"/>
<circle cx="460.62" cy="122.43" r="1.72" fill="#0d0d0d" stroke="none" stroke-width="1"/>
<circle cx="460.62" cy="127.36" r="1.72" fill="#0d0d0d" stroke="none" stroke-width="1"/>
<circle cx="460.62" cy="134.85" r="1.72" fill="#0d0d0d" stroke="none" stroke-width="1"/>
<circle cx="460.62" cy="143.27" r="1.72" fill="#0d0d0d" stroke="none" stroke-width="1"/>
<circle cx="481.36" cy="90.2" r="1.72" fill="#0d0d0d" stroke="none" stroke-width="1"/>
<circle cx="481.36" cy="100.67" r="1.72" fill="#0d0d0d" stroke="none" stroke-width="1"/>
<circle cx="481.36" cy="131.77" r="1.72" fill="#0d0d0d" stroke="none" stroke-width="1"/>
<circle cx="481.36" cy="139.16" r="1.72" fill="#0d0d0d" stroke="none" stroke-width="1"/>
<circle cx="478.79" cy="141.22" r="1.72" fill="#0d0d0d" stroke="none" stroke-width="1"/>
<circle cx="482.9" cy="141.73" r="1.72" fill="#0d0d0d" stroke="none" stroke-width="1"/>
<circle cx="476.74" cy="143.27" r="1.72" fill="#0d0d0d" stroke="none" stroke-width="1"/>
<circle cx="480.84" cy="143.78" r="1.72" fill="#0d0d0d" stroke="none" stroke-width="1"/>
<circle cx="484.95" cy="143.27" r="1.72" fill="#0d0d0d" stroke="none" stroke-width="1"/>
<circle cx="476.74" cy="145.32" r="1.72" fill="#0d0d0d" stroke="none" stroke-width="1"/>
<circle cx="480.84" cy="145.83" r="1.72" fill="#0d0d0d" stroke="none" stroke-width="1"/>
<circle cx="485.98" cy="145.32" r="1.72" fill="#0d0d0d" stroke="none" stroke-width="1"/>
<circle cx="502.19" cy="78.91" r="1.72" fill="#0d0d0d" stroke="none" stroke-width="1"/>
<circle cx="502.19" cy="108.06" r="1.72" fill="#0d0d0d" stroke="none" stroke-width="1"/>
<circle cx="502.19" cy="119.46" r="1.72" fill="#0d0d0d" stroke="none" stroke-width="1"/>
<circle cx="502.19" cy="134.85" r="1.72" fill="#0d0d0d" stroke="none" stroke-width="1"/>
<circle cx="497.27" cy="139.98" r="1.72" fill="#0d0d0d" stroke="none" stroke-width="1"/>
<circle cx="499.83" cy="139.68" r="1.72" fill="#0d0d0d" stroke="none" stroke-width="1"/>
<circle cx="503.42" cy="139.68" r="1.72" fill="#0d0d0d" stroke="none" stroke-width="1"/>
<circle cx="507.02" cy="139.98" r="1.72" fill="#0d0d0d" stroke="none" stroke-width="1"/>
<circle cx="502.19" cy="143.27" r="1.72" fill="#0d0d0d" stroke="none" stroke-width="1"/>
<circle cx="504.96" cy="143.78" r="1.72" fill="#0d0d0d" stroke="none" stroke-width="1"/>
<circle cx="499.32" cy="146.35" r="1.72" fill="#0d0d0d" stroke="none" stroke-width="1"/>
<path d="M460.6 34V29H502.2V72.7" fill="none" stroke="#444" stroke-width="0.8"/>
<path d="M460.6 52.4V49.6H481.4V84.3" fill="none" stroke="#444" stroke-width="0.8"/>
<path d="M478.4 18.85L478.4 25.15M475.67 20.43L481.13 23.57M481.13 20.43L475.67 23.57M484.6 18.85L484.6 25.15M481.87 20.43L487.33 23.57M487.33 20.43L481.87 23.57" stroke="#111" stroke-width="1.65" fill="none"/>
<path d="M461.7 39.85L461.7 46.15M458.97 41.42L464.43 44.58M464.43 41.42L458.97 44.58M467.9 39.85L467.9 46.15M465.17 41.42L470.63 44.58M470.63 41.42L465.17 44.58M474.1 39.85L474.1 46.15M471.37 41.42L476.83 44.58M476.83 41.42L471.37 44.58M480.3 39.85L480.3 46.15M477.57 41.42L483.03 44.58M483.03 41.42L477.57 44.58" stroke="#111" stroke-width="1.65" fill="none"/>
<line x1="558" y1="42.4" x2="558" y2="146.8" stroke="#3a3a3a" stroke-width="1"/>
<line x1="554.5" y1="146.3" x2="558" y2="146.3" stroke="#3a3a3a" stroke-width="1"/>
<text x="0" y="0" font-size="10.2" text-anchor="end" fill="#111" stroke="#111" stroke-width="0.12" transform="translate(553.7 149.7) scale(0.93 1)">0</text>
<line x1="554.5" y1="125.52" x2="558" y2="125.52" stroke="#3a3a3a" stroke-width="1"/>
<text x="0" y="0" font-size="10.2" text-anchor="end" fill="#111" stroke="#111" stroke-width="0.12" transform="translate(553.7 128.92) scale(0.93 1)">20</text>
<line x1="554.5" y1="104.74" x2="558" y2="104.74" stroke="#3a3a3a" stroke-width="1"/>
<text x="0" y="0" font-size="10.2" text-anchor="end" fill="#111" stroke="#111" stroke-width="0.12" transform="translate(553.7 108.14) scale(0.93 1)">40</text>
<line x1="554.5" y1="83.96" x2="558" y2="83.96" stroke="#3a3a3a" stroke-width="1"/>
<text x="0" y="0" font-size="10.2" text-anchor="end" fill="#111" stroke="#111" stroke-width="0.12" transform="translate(553.7 87.36) scale(0.93 1)">60</text>
<line x1="554.5" y1="63.18" x2="558" y2="63.18" stroke="#3a3a3a" stroke-width="1"/>
<text x="0" y="0" font-size="10.2" text-anchor="end" fill="#111" stroke="#111" stroke-width="0.12" transform="translate(553.7 66.58) scale(0.93 1)">80</text>
<line x1="554.5" y1="42.4" x2="558" y2="42.4" stroke="#3a3a3a" stroke-width="1"/>
<text x="0" y="0" font-size="10.2" text-anchor="end" fill="#111" stroke="#111" stroke-width="0.12" transform="translate(553.7 45.8) scale(0.93 1)">100</text>
<line x1="558" y1="146.3" x2="626" y2="146.3" stroke="#3a3a3a" stroke-width="1"/>
<text x="0" y="0" font-size="10.2" text-anchor="middle" fill="#111" stroke="#111" stroke-width="0.12" transform="translate(533 93) rotate(-90) scale(0.96 1)">TNF<tspan dy="-3.2" font-size="6">+</tspan><tspan dy="3.2">CD14<tspan dy="-3.2" font-size="6">+</tspan><tspan dy="3.2"> cells (%)</tspan></tspan></text>
<rect x="565.2" y="118.4" width="13.3" height="27.9" fill="#fff" stroke="#2e2e2e" stroke-width="0.95"/>
<line x1="571.85" y1="118.4" x2="571.85" y2="113.3" stroke="#333" stroke-width="0.9"/>
<line x1="568.35" y1="113.3" x2="575.35" y2="113.3" stroke="#333" stroke-width="1"/>
<rect x="586.2" y="133.3" width="12.7" height="13" fill="#5b93d2" stroke="#2e2e2e" stroke-width="0.95"/>
<line x1="592.55" y1="133.3" x2="592.55" y2="129.1" stroke="#333" stroke-width="0.9"/>
<line x1="589.05" y1="129.1" x2="596.05" y2="129.1" stroke="#333" stroke-width="1"/>
<rect x="607" y="133.3" width="12.6" height="13" fill="#1d4f96" stroke="#2e2e2e" stroke-width="0.95"/>
<line x1="613.3" y1="133.3" x2="613.3" y2="129.5" stroke="#333" stroke-width="0.9"/>
<line x1="609.8" y1="129.5" x2="616.8" y2="129.5" stroke="#333" stroke-width="1"/>
<circle cx="571.34" cy="73.47" r="1.72" fill="#0d0d0d" stroke="none" stroke-width="1"/>
<circle cx="571.34" cy="99.44" r="1.72" fill="#0d0d0d" stroke="none" stroke-width="1"/>
<circle cx="571.34" cy="108.88" r="1.72" fill="#0d0d0d" stroke="none" stroke-width="1"/>
<circle cx="571.34" cy="116.38" r="1.72" fill="#0d0d0d" stroke="none" stroke-width="1"/>
<circle cx="569.29" cy="121.2" r="1.72" fill="#0d0d0d" stroke="none" stroke-width="1"/>
<circle cx="573.4" cy="121.2" r="1.72" fill="#0d0d0d" stroke="none" stroke-width="1"/>
<circle cx="576.99" cy="119.15" r="1.72" fill="#0d0d0d" stroke="none" stroke-width="1"/>
<circle cx="576.99" cy="122.74" r="1.72" fill="#0d0d0d" stroke="none" stroke-width="1"/>
<circle cx="569.29" cy="125.31" r="1.72" fill="#0d0d0d" stroke="none" stroke-width="1"/>
<circle cx="573.4" cy="125.31" r="1.72" fill="#0d0d0d" stroke="none" stroke-width="1"/>
<circle cx="571.34" cy="127.87" r="1.72" fill="#0d0d0d" stroke="none" stroke-width="1"/>
<circle cx="571.34" cy="131.47" r="1.72" fill="#0d0d0d" stroke="none" stroke-width="1"/>
<circle cx="571.34" cy="139.37" r="1.72" fill="#0d0d0d" stroke="none" stroke-width="1"/>
<circle cx="588.79" cy="107.86" r="1.72" fill="#0d0d0d" stroke="none" stroke-width="1"/>
<circle cx="591.36" cy="109.91" r="1.72" fill="#0d0d0d" stroke="none" stroke-width="1"/>
<circle cx="593.92" cy="109.91" r="1.72" fill="#0d0d0d" stroke="none" stroke-width="1"/>
<circle cx="591.36" cy="116.07" r="1.72" fill="#0d0d0d" stroke="none" stroke-width="1"/>
<circle cx="593.41" cy="118.43" r="1.72" fill="#0d0d0d" stroke="none" stroke-width="1"/>
<circle cx="590.84" cy="126.33" r="1.72" fill="#0d0d0d" stroke="none" stroke-width="1"/>
<circle cx="593.41" cy="126.33" r="1.72" fill="#0d0d0d" stroke="none" stroke-width="1"/>
<circle cx="591.36" cy="137.11" r="1.72" fill="#0d0d0d" stroke="none" stroke-width="1"/>
<circle cx="589.3" cy="140.19" r="1.72" fill="#0d0d0d" stroke="none" stroke-width="1"/>
<circle cx="595.46" cy="138.14" r="1.72" fill="#0d0d0d" stroke="none" stroke-width="1"/>
<circle cx="592.38" cy="141.73" r="1.72" fill="#0d0d0d" stroke="none" stroke-width="1"/>
<circle cx="587.76" cy="145.32" r="1.72" fill="#0d0d0d" stroke="none" stroke-width="1"/>
<circle cx="590.84" cy="145.53" r="1.72" fill="#0d0d0d" stroke="none" stroke-width="1"/>
<circle cx="593.92" cy="145.53" r="1.72" fill="#0d0d0d" stroke="none" stroke-width="1"/>
<circle cx="597" cy="145.32" r="1.72" fill="#0d0d0d" stroke="none" stroke-width="1"/>
<circle cx="611.88" cy="112.99" r="1.72" fill="#0d0d0d" stroke="none" stroke-width="1"/>
<circle cx="614.45" cy="112.99" r="1.72" fill="#0d0d0d" stroke="none" stroke-width="1"/>
<circle cx="613.42" cy="117.4" r="1.72" fill="#0d0d0d" stroke="none" stroke-width="1"/>
<circle cx="610.35" cy="126.33" r="1.72" fill="#0d0d0d" stroke="none" stroke-width="1"/>
<circle cx="615.99" cy="126.33" r="1.72" fill="#0d0d0d" stroke="none" stroke-width="1"/>
<circle cx="613.42" cy="128.9" r="1.72" fill="#0d0d0d" stroke="none" stroke-width="1"/>
<circle cx="613.42" cy="131.47" r="1.72" fill="#0d0d0d" stroke="none" stroke-width="1"/>
<circle cx="619.07" cy="131.47" r="1.72" fill="#0d0d0d" stroke="none" stroke-width="1"/>
<circle cx="608.29" cy="136.6" r="1.72" fill="#0d0d0d" stroke="none" stroke-width="1"/>
<circle cx="611.37" cy="137.11" r="1.72" fill="#0d0d0d" stroke="none" stroke-width="1"/>
<circle cx="614.96" cy="137.11" r="1.72" fill="#0d0d0d" stroke="none" stroke-width="1"/>
<circle cx="618.04" cy="136.08" r="1.72" fill="#0d0d0d" stroke="none" stroke-width="1"/>
<circle cx="610.35" cy="141.22" r="1.72" fill="#0d0d0d" stroke="none" stroke-width="1"/>
<circle cx="613.94" cy="140.19" r="1.72" fill="#0d0d0d" stroke="none" stroke-width="1"/>
<circle cx="617.02" cy="141.22" r="1.72" fill="#0d0d0d" stroke="none" stroke-width="1"/>
<circle cx="611.88" cy="145.83" r="1.72" fill="#0d0d0d" stroke="none" stroke-width="1"/>
<circle cx="614.96" cy="145.32" r="1.72" fill="#0d0d0d" stroke="none" stroke-width="1"/>
<path d="M571.3 45V40H613.4V106.8" fill="none" stroke="#444" stroke-width="0.8"/>
<path d="M571.3 67.3V61.4H592.4V101.7" fill="none" stroke="#444" stroke-width="0.8"/>
<path d="M592 29.85L592 36.15M589.27 31.43L594.73 34.58M594.73 31.43L589.27 34.58" stroke="#111" stroke-width="1.65" fill="none"/>
<path d="M582.4 50.85L582.4 57.15M579.67 52.42L585.13 55.58M585.13 52.42L579.67 55.58" stroke="#111" stroke-width="1.65" fill="none"/>
<line x1="447.6" y1="165.08" x2="447.6" y2="269.8" stroke="#3a3a3a" stroke-width="1"/>
<line x1="444.1" y1="269.3" x2="447.6" y2="269.3" stroke="#3a3a3a" stroke-width="1"/>
<text x="0" y="0" font-size="10.2" text-anchor="end" fill="#111" stroke="#111" stroke-width="0.12" transform="translate(443.3 272.7) scale(0.93 1)">0</text>
<line x1="444.1" y1="234.56" x2="447.6" y2="234.56" stroke="#3a3a3a" stroke-width="1"/>
<text x="0" y="0" font-size="10.2" text-anchor="end" fill="#111" stroke="#111" stroke-width="0.12" transform="translate(443.3 237.96) scale(0.93 1)">20</text>
<line x1="444.1" y1="199.82" x2="447.6" y2="199.82" stroke="#3a3a3a" stroke-width="1"/>
<text x="0" y="0" font-size="10.2" text-anchor="end" fill="#111" stroke="#111" stroke-width="0.12" transform="translate(443.3 203.22) scale(0.93 1)">40</text>
<line x1="444.1" y1="165.08" x2="447.6" y2="165.08" stroke="#3a3a3a" stroke-width="1"/>
<text x="0" y="0" font-size="10.2" text-anchor="end" fill="#111" stroke="#111" stroke-width="0.12" transform="translate(443.3 168.48) scale(0.93 1)">60</text>
<line x1="447.6" y1="269.3" x2="516" y2="269.3" stroke="#3a3a3a" stroke-width="1"/>
<text x="0" y="0" font-size="10.2" text-anchor="middle" fill="#111" stroke="#111" stroke-width="0.12" transform="translate(425.5 216) rotate(-90) scale(0.93 1)">IL-10<tspan dy="-3.2" font-size="6">+</tspan><tspan dy="3.2">CD14<tspan dy="-3.2" font-size="6">+</tspan><tspan dy="3.2"> cells (%)</tspan></tspan></text>
<rect x="454.4" y="266.8" width="13.1" height="2.5" fill="#fff" stroke="#2e2e2e" stroke-width="0.95"/>
<line x1="460.95" y1="266.8" x2="460.95" y2="264.5" stroke="#333" stroke-width="0.9"/>
<line x1="457.45" y1="264.5" x2="464.45" y2="264.5" stroke="#333" stroke-width="1"/>
<rect x="475" y="265.3" width="12.8" height="4" fill="#5b93d2" stroke="#2e2e2e" stroke-width="0.95"/>
<line x1="481.4" y1="265.3" x2="481.4" y2="262" stroke="#333" stroke-width="0.9"/>
<line x1="477.9" y1="262" x2="484.9" y2="262" stroke="#333" stroke-width="1"/>
<rect x="495.7" y="263.7" width="13.1" height="5.6" fill="#1d4f96" stroke="#2e2e2e" stroke-width="0.95"/>
<line x1="502.25" y1="263.7" x2="502.25" y2="260" stroke="#333" stroke-width="0.9"/>
<line x1="498.75" y1="260" x2="505.75" y2="260" stroke="#333" stroke-width="1"/>
<circle cx="460.6" cy="248.4" r="1.72" fill="#0d0d0d" stroke="none" stroke-width="1"/>
<circle cx="460.6" cy="261.4" r="1.72" fill="#0d0d0d" stroke="none" stroke-width="1"/>
<circle cx="455.5" cy="266" r="1.72" fill="#0d0d0d" stroke="none" stroke-width="1"/>
<circle cx="458.5" cy="267.5" r="1.72" fill="#0d0d0d" stroke="none" stroke-width="1"/>
<circle cx="461.5" cy="266" r="1.72" fill="#0d0d0d" stroke="none" stroke-width="1"/>
<circle cx="464.5" cy="267.5" r="1.72" fill="#0d0d0d" stroke="none" stroke-width="1"/>
<circle cx="466" cy="266" r="1.72" fill="#0d0d0d" stroke="none" stroke-width="1"/>
<circle cx="456" cy="268.5" r="1.72" fill="#0d0d0d" stroke="none" stroke-width="1"/>
<circle cx="460" cy="268.8" r="1.72" fill="#0d0d0d" stroke="none" stroke-width="1"/>
<circle cx="463" cy="268.8" r="1.72" fill="#0d0d0d" stroke="none" stroke-width="1"/>
<circle cx="466.5" cy="268.6" r="1.72" fill="#0d0d0d" stroke="none" stroke-width="1"/>
<circle cx="481.5" cy="256.4" r="1.72" fill="#0d0d0d" stroke="none" stroke-width="1"/>
<circle cx="480.5" cy="260.7" r="1.72" fill="#0d0d0d" stroke="none" stroke-width="1"/>
<circle cx="483.3" cy="262.5" r="1.72" fill="#0d0d0d" stroke="none" stroke-width="1"/>
<circle cx="476.5" cy="267.5" r="1.72" fill="#0d0d0d" stroke="none" stroke-width="1"/>
<circle cx="479.5" cy="268" r="1.72" fill="#0d0d0d" stroke="none" stroke-width="1"/>
<circle cx="483" cy="267" r="1.72" fill="#0d0d0d" stroke="none" stroke-width="1"/>
<circle cx="486" cy="268" r="1.72" fill="#0d0d0d" stroke="none" stroke-width="1"/>
<circle cx="478" cy="265.5" r="1.72" fill="#0d0d0d" stroke="none" stroke-width="1"/>
<circle cx="485" cy="266" r="1.72" fill="#0d0d0d" stroke="none" stroke-width="1"/>
<circle cx="502.4" cy="249.9" r="1.72" fill="#0d0d0d" stroke="none" stroke-width="1"/>
<circle cx="503.2" cy="255" r="1.72" fill="#0d0d0d" stroke="none" stroke-width="1"/>
<circle cx="501.1" cy="256.4" r="1.72" fill="#0d0d0d" stroke="none" stroke-width="1"/>
<circle cx="500.1" cy="260.1" r="1.72" fill="#0d0d0d" stroke="none" stroke-width="1"/>
<circle cx="502.7" cy="262.5" r="1.72" fill="#0d0d0d" stroke="none" stroke-width="1"/>
<circle cx="497.5" cy="265.5" r="1.72" fill="#0d0d0d" stroke="none" stroke-width="1"/>
<circle cx="500.5" cy="266" r="1.72" fill="#0d0d0d" stroke="none" stroke-width="1"/>
<circle cx="504" cy="265.5" r="1.72" fill="#0d0d0d" stroke="none" stroke-width="1"/>
<circle cx="507" cy="266" r="1.72" fill="#0d0d0d" stroke="none" stroke-width="1"/>
<circle cx="499" cy="268.5" r="1.72" fill="#0d0d0d" stroke="none" stroke-width="1"/>
<circle cx="505.5" cy="268.5" r="1.72" fill="#0d0d0d" stroke="none" stroke-width="1"/>
<line x1="558" y1="165.08" x2="558" y2="269.8" stroke="#3a3a3a" stroke-width="1"/>
<line x1="554.5" y1="269.3" x2="558" y2="269.3" stroke="#3a3a3a" stroke-width="1"/>
<text x="0" y="0" font-size="10.2" text-anchor="end" fill="#111" stroke="#111" stroke-width="0.12" transform="translate(553.7 272.7) scale(0.93 1)">0</text>
<line x1="554.5" y1="234.56" x2="558" y2="234.56" stroke="#3a3a3a" stroke-width="1"/>
<text x="0" y="0" font-size="10.2" text-anchor="end" fill="#111" stroke="#111" stroke-width="0.12" transform="translate(553.7 237.96) scale(0.93 1)">20</text>
<line x1="554.5" y1="199.82" x2="558" y2="199.82" stroke="#3a3a3a" stroke-width="1"/>
<text x="0" y="0" font-size="10.2" text-anchor="end" fill="#111" stroke="#111" stroke-width="0.12" transform="translate(553.7 203.22) scale(0.93 1)">40</text>
<line x1="554.5" y1="165.08" x2="558" y2="165.08" stroke="#3a3a3a" stroke-width="1"/>
<text x="0" y="0" font-size="10.2" text-anchor="end" fill="#111" stroke="#111" stroke-width="0.12" transform="translate(553.7 168.48) scale(0.93 1)">60</text>
<line x1="558" y1="269.3" x2="626" y2="269.3" stroke="#3a3a3a" stroke-width="1"/>
<text x="0" y="0" font-size="10.2" text-anchor="middle" fill="#111" stroke="#111" stroke-width="0.12" transform="translate(535.8 216) rotate(-90) scale(0.93 1)">IL-10<tspan dy="-3.2" font-size="6">+</tspan><tspan dy="3.2">CD14<tspan dy="-3.2" font-size="6">+</tspan><tspan dy="3.2"> cells (%)</tspan></tspan></text>
<rect x="564.3" y="251.5" width="13.3" height="17.8" fill="#fff" stroke="#2e2e2e" stroke-width="0.95"/>
<line x1="570.95" y1="251.5" x2="570.95" y2="246.7" stroke="#333" stroke-width="0.9"/>
<line x1="567.45" y1="246.7" x2="574.45" y2="246.7" stroke="#333" stroke-width="1"/>
<rect x="585.4" y="251.3" width="13.3" height="18" fill="#5b93d2" stroke="#2e2e2e" stroke-width="0.95"/>
<line x1="592.05" y1="251.3" x2="592.05" y2="245.4" stroke="#333" stroke-width="0.9"/>
<line x1="588.55" y1="245.4" x2="595.55" y2="245.4" stroke="#333" stroke-width="1"/>
<rect x="606.2" y="248.5" width="12.9" height="20.8" fill="#1d4f96" stroke="#2e2e2e" stroke-width="0.95"/>
<line x1="612.65" y1="248.5" x2="612.65" y2="244.7" stroke="#333" stroke-width="0.9"/>
<line x1="609.15" y1="244.7" x2="616.15" y2="244.7" stroke="#333" stroke-width="1"/>
<circle cx="570.98" cy="219.12" r="1.72" fill="#0d0d0d" stroke="none" stroke-width="1"/>
<circle cx="570.98" cy="225.97" r="1.72" fill="#0d0d0d" stroke="none" stroke-width="1"/>
<circle cx="570.98" cy="238.03" r="1.72" fill="#0d0d0d" stroke="none" stroke-width="1"/>
<circle cx="569.24" cy="241.6" r="1.72" fill="#0d0d0d" stroke="none" stroke-width="1"/>
<circle cx="572.82" cy="243.14" r="1.72" fill="#0d0d0d" stroke="none" stroke-width="1"/>
<circle cx="569.24" cy="246.71" r="1.72" fill="#0d0d0d" stroke="none" stroke-width="1"/>
<circle cx="572.82" cy="246.71" r="1.72" fill="#0d0d0d" stroke="none" stroke-width="1"/>
<circle cx="570.98" cy="251.82" r="1.72" fill="#0d0d0d" stroke="none" stroke-width="1"/>
<circle cx="570.98" cy="255.91" r="1.72" fill="#0d0d0d" stroke="none" stroke-width="1"/>
<circle cx="569.24" cy="262.55" r="1.72" fill="#0d0d0d" stroke="none" stroke-width="1"/>
<circle cx="572.82" cy="262.35" r="1.72" fill="#0d0d0d" stroke="none" stroke-width="1"/>
<circle cx="565.66" cy="268.89" r="1.72" fill="#0d0d0d" stroke="none" stroke-width="1"/>
<circle cx="569.04" cy="268.48" r="1.72" fill="#0d0d0d" stroke="none" stroke-width="1"/>
<circle cx="572.82" cy="269.19" r="1.72" fill="#0d0d0d" stroke="none" stroke-width="1"/>
<circle cx="576.39" cy="268.89" r="1.72" fill="#0d0d0d" stroke="none" stroke-width="1"/>
<circle cx="591.72" cy="196.64" r="1.72" fill="#0d0d0d" stroke="none" stroke-width="1"/>
<circle cx="591.72" cy="208.9" r="1.72" fill="#0d0d0d" stroke="none" stroke-width="1"/>
<circle cx="591.72" cy="217.39" r="1.72" fill="#0d0d0d" stroke="none" stroke-width="1"/>
<circle cx="590.5" cy="239.87" r="1.72" fill="#0d0d0d" stroke="none" stroke-width="1"/>
<circle cx="593.25" cy="239.87" r="1.72" fill="#0d0d0d" stroke="none" stroke-width="1"/>
<circle cx="591.72" cy="245.18" r="1.72" fill="#0d0d0d" stroke="none" stroke-width="1"/>
<circle cx="591.72" cy="252.54" r="1.72" fill="#0d0d0d" stroke="none" stroke-width="1"/>
<circle cx="590.5" cy="258.98" r="1.72" fill="#0d0d0d" stroke="none" stroke-width="1"/>
<circle cx="593.25" cy="258.98" r="1.72" fill="#0d0d0d" stroke="none" stroke-width="1"/>
<circle cx="586.61" cy="263.57" r="1.72" fill="#0d0d0d" stroke="none" stroke-width="1"/>
<circle cx="596.83" cy="263.06" r="1.72" fill="#0d0d0d" stroke="none" stroke-width="1"/>
<circle cx="588.66" cy="266.44" r="1.72" fill="#0d0d0d" stroke="none" stroke-width="1"/>
<circle cx="591.72" cy="266.84" r="1.72" fill="#0d0d0d" stroke="none" stroke-width="1"/>
<circle cx="594.79" cy="266.64" r="1.72" fill="#0d0d0d" stroke="none" stroke-width="1"/>
<circle cx="586.61" cy="268.68" r="1.72" fill="#0d0d0d" stroke="none" stroke-width="1"/>
<circle cx="594.79" cy="268.68" r="1.72" fill="#0d0d0d" stroke="none" stroke-width="1"/>
<circle cx="612.67" cy="207.17" r="1.72" fill="#0d0d0d" stroke="none" stroke-width="1"/>
<circle cx="612.67" cy="234.66" r="1.72" fill="#0d0d0d" stroke="none" stroke-width="1"/>
<circle cx="609.6" cy="238.03" r="1.72" fill="#0d0d0d" stroke="none" stroke-width="1"/>
<circle cx="612.67" cy="240.07" r="1.72" fill="#0d0d0d" stroke="none" stroke-width="1"/>
<circle cx="615.43" cy="238.03" r="1.72" fill="#0d0d0d" stroke="none" stroke-width="1"/>
<circle cx="612.67" cy="246.2" r="1.72" fill="#0d0d0d" stroke="none" stroke-width="1"/>
<circle cx="612.67" cy="249.27" r="1.72" fill="#0d0d0d" stroke="none" stroke-width="1"/>
<circle cx="608.07" cy="251.82" r="1.72" fill="#0d0d0d" stroke="none" stroke-width="1"/>
<circle cx="612.67" cy="251.82" r="1.72" fill="#0d0d0d" stroke="none" stroke-width="1"/>
<circle cx="617.27" cy="251.82" r="1.72" fill="#0d0d0d" stroke="none" stroke-width="1"/>
<circle cx="609.6" cy="258.26" r="1.72" fill="#0d0d0d" stroke="none" stroke-width="1"/>
<circle cx="615.22" cy="256.63" r="1.72" fill="#0d0d0d" stroke="none" stroke-width="1"/>
<circle cx="609.6" cy="262.35" r="1.72" fill="#0d0d0d" stroke="none" stroke-width="1"/>
<circle cx="613.18" cy="261.33" r="1.72" fill="#0d0d0d" stroke="none" stroke-width="1"/>
<circle cx="615.74" cy="261.33" r="1.72" fill="#0d0d0d" stroke="none" stroke-width="1"/>
<text x="0" y="0" font-size="14.5" font-weight="bold" fill="#111" transform="translate(-0.5 307.2)">d</text>
<rect x="233.4" y="293.6" width="11" height="6" fill="#d6d6d6" stroke="#777" stroke-width="0.8"/>
<rect x="233.4" y="303.4" width="11" height="6" fill="#efc29e" stroke="#c77a3a" stroke-width="0.8"/>
<text x="0" y="0" font-size="10.2" fill="#111" stroke="#111" stroke-width="0.12" transform="translate(248 298.8) scale(0.93 1)">Vehicle</text>
<text x="0" y="0" font-size="10.2" fill="#111" stroke="#111" stroke-width="0.12" transform="translate(248 308.8) scale(0.93 1)">CoV2</text>
<path d="M28.4 331.4H104.4V406.4" fill="none" stroke="#aaa" stroke-width="0.7"/>
<line x1="28.4" y1="331.4" x2="28.4" y2="406.4" stroke="#888" stroke-width="0.6"/>
<line x1="28.4" y1="406.4" x2="104.4" y2="406.4" stroke="#888" stroke-width="0.6"/>
<text x="0" y="0" font-size="3" text-anchor="end" fill="#555" transform="translate(25.8 336.6) scale(0.93 1)">100</text>
<text x="0" y="0" font-size="3" text-anchor="end" fill="#555" transform="translate(25.8 350.7) scale(0.93 1)">80</text>
<text x="0" y="0" font-size="3" text-anchor="end" fill="#555" transform="translate(25.8 364.8) scale(0.93 1)">60</text>
<text x="0" y="0" font-size="3" text-anchor="end" fill="#555" transform="translate(25.8 378.9) scale(0.93 1)">40</text>
<text x="0" y="0" font-size="3" text-anchor="end" fill="#555" transform="translate(25.8 393) scale(0.93 1)">20</text>
<text x="0" y="0" font-size="3" text-anchor="end" fill="#555" transform="translate(25.8 407.1) scale(0.93 1)">0</text>
<text x="0" y="0" font-size="3" text-anchor="middle" fill="#555" transform="translate(34.9 412.4) scale(0.93 1)">-10<tspan dy="-1.2" font-size="2.2">2</tspan></text>
<text x="0" y="0" font-size="3" text-anchor="middle" fill="#555" transform="translate(46.9 412.4) scale(0.93 1)">0</text>
<text x="0" y="0" font-size="3" text-anchor="middle" fill="#555" transform="translate(60.4 412.4) scale(0.93 1)">10<tspan dy="-1.2" font-size="2.2">3</tspan></text>
<text x="0" y="0" font-size="3" text-anchor="middle" fill="#555" transform="translate(80.9 412.4) scale(0.93 1)">10<tspan dy="-1.2" font-size="2.2">4</tspan></text>
<text x="0" y="0" font-size="3" text-anchor="middle" fill="#555" transform="translate(98.9 412.4) scale(0.93 1)">10<tspan dy="-1.2" font-size="2.2">5</tspan></text>
<path d="M26.8 335.5h1.6M27.6 339h0.8M27.6 342.5h0.8M27.6 346h0.8M26.8 349.6h1.6M27.6 353.1h0.8M27.6 356.6h0.8M27.6 360.1h0.8M26.8 363.7h1.6M27.6 367.2h0.8M27.6 370.7h0.8M27.6 374.2h0.8M26.8 377.8h1.6M27.6 381.3h0.8M27.6 384.8h0.8M27.6 388.3h0.8M26.8 391.9h1.6M27.6 395.4h0.8M27.6 398.9h0.8M27.6 402.4h0.8M26.8 406h1.6M34.9 406.4v1.6M46.9 406.4v1.6M60.4 406.4v1.6M80.9 406.4v1.6M98.9 406.4v1.6M36.4 406.4v0.9M37.6 406.4v0.9M38.8 406.4v0.9M40 406.4v0.9M41.2 406.4v0.9M42.4 406.4v0.9M43.6 406.4v0.9M44.8 406.4v0.9M53.4 406.4v0.9M56.4 406.4v0.9M58.4 406.4v0.9M70.4 406.4v0.9M74.4 406.4v0.9M77.4 406.4v0.9M79.4 406.4v0.9M88.4 406.4v0.9M92.4 406.4v0.9M95.4 406.4v0.9M97.4 406.4v0.9" stroke="#666" stroke-width="0.45" fill="none"/>
<ellipse cx="45.4" cy="407.3" rx="1.9" ry="0.9" fill="#111" filter="url(#soft)"/>
<text x="0" y="0" font-size="10.2" text-anchor="middle" fill="#111" stroke="#111" stroke-width="0.12" transform="translate(68.6 328.6) scale(0.93 1)">Healthy</text>
<text x="0" y="0" font-size="10.2" text-anchor="end" fill="#111" stroke="#111" stroke-width="0.12" transform="translate(99.4 343) scale(0.93 1)">28</text>
<path d="M115.6 331.4H191.6V406.4" fill="none" stroke="#aaa" stroke-width="0.7"/>
<line x1="115.6" y1="331.4" x2="115.6" y2="406.4" stroke="#888" stroke-width="0.6"/>
<line x1="115.6" y1="406.4" x2="191.6" y2="406.4" stroke="#888" stroke-width="0.6"/>
<text x="0" y="0" font-size="3" text-anchor="end" fill="#555" transform="translate(113 336.6) scale(0.93 1)">100</text>
<text x="0" y="0" font-size="3" text-anchor="end" fill="#555" transform="translate(113 350.7) scale(0.93 1)">80</text>
<text x="0" y="0" font-size="3" text-anchor="end" fill="#555" transform="translate(113 364.8) scale(0.93 1)">60</text>
<text x="0" y="0" font-size="3" text-anchor="end" fill="#555" transform="translate(113 378.9) scale(0.93 1)">40</text>
<text x="0" y="0" font-size="3" text-anchor="end" fill="#555" transform="translate(113 393) scale(0.93 1)">20</text>
<text x="0" y="0" font-size="3" text-anchor="end" fill="#555" transform="translate(113 407.1) scale(0.93 1)">0</text>
<text x="0" y="0" font-size="3" text-anchor="middle" fill="#555" transform="translate(122.1 412.4) scale(0.93 1)">-10<tspan dy="-1.2" font-size="2.2">2</tspan></text>
<text x="0" y="0" font-size="3" text-anchor="middle" fill="#555" transform="translate(134.1 412.4) scale(0.93 1)">0</text>
<text x="0" y="0" font-size="3" text-anchor="middle" fill="#555" transform="translate(147.6 412.4) scale(0.93 1)">10<tspan dy="-1.2" font-size="2.2">3</tspan></text>
<text x="0" y="0" font-size="3" text-anchor="middle" fill="#555" transform="translate(168.1 412.4) scale(0.93 1)">10<tspan dy="-1.2" font-size="2.2">4</tspan></text>
<text x="0" y="0" font-size="3" text-anchor="middle" fill="#555" transform="translate(186.1 412.4) scale(0.93 1)">10<tspan dy="-1.2" font-size="2.2">5</tspan></text>
<path d="M114 335.5h1.6M114.8 339h0.8M114.8 342.5h0.8M114.8 346h0.8M114 349.6h1.6M114.8 353.1h0.8M114.8 356.6h0.8M114.8 360.1h0.8M114 363.7h1.6M114.8 367.2h0.8M114.8 370.7h0.8M114.8 374.2h0.8M114 377.8h1.6M114.8 381.3h0.8M114.8 384.8h0.8M114.8 388.3h0.8M114 391.9h1.6M114.8 395.4h0.8M114.8 398.9h0.8M114.8 402.4h0.8M114 406h1.6M122.1 406.4v1.6M134.1 406.4v1.6M147.6 406.4v1.6M168.1 406.4v1.6M186.1 406.4v1.6M123.6 406.4v0.9M124.8 406.4v0.9M126 406.4v0.9M127.2 406.4v0.9M128.4 406.4v0.9M129.6 406.4v0.9M130.8 406.4v0.9M132 406.4v0.9M140.6 406.4v0.9M143.6 406.4v0.9M145.6 406.4v0.9M157.6 406.4v0.9M161.6 406.4v0.9M164.6 406.4v0.9M166.6 406.4v0.9M175.6 406.4v0.9M179.6 406.4v0.9M182.6 406.4v0.9M184.6 406.4v0.9" stroke="#666" stroke-width="0.45" fill="none"/>
<ellipse cx="132.6" cy="407.3" rx="1.9" ry="0.9" fill="#111" filter="url(#soft)"/>
<text x="0" y="0" font-size="10.2" text-anchor="middle" fill="#111" stroke="#111" stroke-width="0.12" transform="translate(153 328.6) scale(0.93 1)">Mild</text>
<text x="0" y="0" font-size="10.2" text-anchor="end" fill="#111" stroke="#111" stroke-width="0.12" transform="translate(186.6 343) scale(0.93 1)">5.9</text>
<path d="M203.2 331.4H279.2V406.4" fill="none" stroke="#aaa" stroke-width="0.7"/>
<line x1="203.2" y1="331.4" x2="203.2" y2="406.4" stroke="#888" stroke-width="0.6"/>
<line x1="203.2" y1="406.4" x2="279.2" y2="406.4" stroke="#888" stroke-width="0.6"/>
<text x="0" y="0" font-size="3" text-anchor="end" fill="#555" transform="translate(200.6 336.6) scale(0.93 1)">100</text>
<text x="0" y="0" font-size="3" text-anchor="end" fill="#555" transform="translate(200.6 350.7) scale(0.93 1)">80</text>
<text x="0" y="0" font-size="3" text-anchor="end" fill="#555" transform="translate(200.6 364.8) scale(0.93 1)">60</text>
<text x="0" y="0" font-size="3" text-anchor="end" fill="#555" transform="translate(200.6 378.9) scale(0.93 1)">40</text>
<text x="0" y="0" font-size="3" text-anchor="end" fill="#555" transform="translate(200.6 393) scale(0.93 1)">20</text>
<text x="0" y="0" font-size="3" text-anchor="end" fill="#555" transform="translate(200.6 407.1) scale(0.93 1)">0</text>
<text x="0" y="0" font-size="3" text-anchor="middle" fill="#555" transform="translate(209.7 412.4) scale(0.93 1)">-10<tspan dy="-1.2" font-size="2.2">2</tspan></text>
<text x="0" y="0" font-size="3" text-anchor="middle" fill="#555" transform="translate(221.7 412.4) scale(0.93 1)">0</text>
<text x="0" y="0" font-size="3" text-anchor="middle" fill="#555" transform="translate(235.2 412.4) scale(0.93 1)">10<tspan dy="-1.2" font-size="2.2">3</tspan></text>
<text x="0" y="0" font-size="3" text-anchor="middle" fill="#555" transform="translate(255.7 412.4) scale(0.93 1)">10<tspan dy="-1.2" font-size="2.2">4</tspan></text>
<text x="0" y="0" font-size="3" text-anchor="middle" fill="#555" transform="translate(273.7 412.4) scale(0.93 1)">10<tspan dy="-1.2" font-size="2.2">5</tspan></text>
<path d="M201.6 335.5h1.6M202.4 339h0.8M202.4 342.5h0.8M202.4 346h0.8M201.6 349.6h1.6M202.4 353.1h0.8M202.4 356.6h0.8M202.4 360.1h0.8M201.6 363.7h1.6M202.4 367.2h0.8M202.4 370.7h0.8M202.4 374.2h0.8M201.6 377.8h1.6M202.4 381.3h0.8M202.4 384.8h0.8M202.4 388.3h0.8M201.6 391.9h1.6M202.4 395.4h0.8M202.4 398.9h0.8M202.4 402.4h0.8M201.6 406h1.6M209.7 406.4v1.6M221.7 406.4v1.6M235.2 406.4v1.6M255.7 406.4v1.6M273.7 406.4v1.6M211.2 406.4v0.9M212.4 406.4v0.9M213.6 406.4v0.9M214.8 406.4v0.9M216 406.4v0.9M217.2 406.4v0.9M218.4 406.4v0.9M219.6 406.4v0.9M228.2 406.4v0.9M231.2 406.4v0.9M233.2 406.4v0.9M245.2 406.4v0.9M249.2 406.4v0.9M252.2 406.4v0.9M254.2 406.4v0.9M263.2 406.4v0.9M267.2 406.4v0.9M270.2 406.4v0.9M272.2 406.4v0.9" stroke="#666" stroke-width="0.45" fill="none"/>
<ellipse cx="220.2" cy="407.3" rx="1.9" ry="0.9" fill="#111" filter="url(#soft)"/>
<text x="0" y="0" font-size="10.2" text-anchor="middle" fill="#111" stroke="#111" stroke-width="0.12" transform="translate(241 328.6) scale(0.93 1)">Moderate</text>
<text x="0" y="0" font-size="10.2" text-anchor="end" fill="#111" stroke="#111" stroke-width="0.12" transform="translate(274.2 343) scale(0.93 1)">1.9</text>
<clipPath id="hc1"><path d="M38.69 406.3L38.69 406.3L41.02 399.74L42.77 390.4L43.94 374.05L45.11 357.7L45.93 346.02L46.63 342.52L47.45 344.85L48.03 354.2L48.61 371.72L49.78 385.73L51.53 395.07L53.28 402.08L55.04 406.3L55.04 406.3Z"/></clipPath>
<path d="M38.69 406.3L38.69 406.3L41.02 399.74L42.77 390.4L43.94 374.05L45.11 357.7L45.93 346.02L46.63 342.52L47.45 344.85L48.03 354.2L48.61 371.72L49.78 385.73L51.53 395.07L53.28 402.08L55.04 406.3L55.04 406.3Z" fill="#d7d7d7" stroke="none" stroke-width="1"/>
<path d="M41.02 406.3L41.02 406.3L42.77 402.08L44.53 390.4L46.28 374.05L47.45 360.04L48.03 354.78L49.2 353.61L50.6 352.09L51.53 353.61L52.47 358.87L53.87 359.8L54.8 359.45L55.62 365.88L56.79 381.06L57.61 378.72L58.54 376.39L59.47 381.06L60.29 388.07L62.04 393.91L63.8 399.74L65.55 403.25L67.88 405L71.39 405.93L74.31 406.3L74.31 406.3Z" fill="#f0c4a0" stroke="none" stroke-width="1"/>
<path d="M41.02 406.3L41.02 406.3L42.77 402.08L44.53 390.4L46.28 374.05L47.45 360.04L48.03 354.78L49.2 353.61L50.6 352.09L51.53 353.61L52.47 358.87L53.87 359.8L54.8 359.45L55.62 365.88L56.79 381.06L57.61 378.72L58.54 376.39L59.47 381.06L60.29 388.07L62.04 393.91L63.8 399.74L65.55 403.25L67.88 405L71.39 405.93L74.31 406.3L74.31 406.3Z" fill="#d6a67f" stroke="none" stroke-width="1" clip-path="url(#hc1)"/>
<path d="M38.69 406.3L38.69 406.3L41.02 399.74L42.77 390.4L43.94 374.05L45.11 357.7L45.93 346.02L46.63 342.52L47.45 344.85L48.03 354.2L48.61 371.72L49.78 385.73L51.53 395.07L53.28 402.08L55.04 406.3L55.04 406.3Z" fill="none" stroke="#a3a3a3" stroke-width="0.6"/>
<path d="M41.02 406.3L41.02 406.3L42.77 402.08L44.53 390.4L46.28 374.05L47.45 360.04L48.03 354.78L49.2 353.61L50.6 352.09L51.53 353.61L52.47 358.87L53.87 359.8L54.8 359.45L55.62 365.88L56.79 381.06L57.61 378.72L58.54 376.39L59.47 381.06L60.29 388.07L62.04 393.91L63.8 399.74L65.55 403.25L67.88 405L71.39 405.93L74.31 406.3L74.31 406.3Z" fill="none" stroke="#e0843e" stroke-width="0.75"/>
<clipPath id="hc2"><path d="M125.52 406.3L125.52 406.3L127.85 402.08L129.61 390.4L130.77 374.05L131.36 360.04L132.29 348.36L133.11 345.44L133.93 347.19L134.86 355.36L135.8 369.38L136.96 383.39L138.36 395.07L140.12 403.25L141.87 406.3L141.87 406.3Z"/></clipPath>
<path d="M125.52 406.3L125.52 406.3L127.85 402.08L129.61 390.4L130.77 374.05L131.36 360.04L132.29 348.36L133.11 345.44L133.93 347.19L134.86 355.36L135.8 369.38L136.96 383.39L138.36 395.07L140.12 403.25L141.87 406.3L141.87 406.3Z" fill="#d7d7d7" stroke="none" stroke-width="1"/>
<path d="M127.85 406.3L127.85 406.3L129.61 400.91L130.77 385.73L131.94 369.38L132.76 356.53L133.46 352.45L134.28 353.03L135.09 355.95L136.03 357.7L137.2 360.62L138.13 361.79L138.95 368.21L139.53 379.89L140.7 388.07L141.87 393.91L143.04 399.74L144.79 403.83L147.12 404.42L148.88 405.35L151.21 406.3L151.21 406.3Z" fill="#f0c4a0" stroke="none" stroke-width="1"/>
<path d="M127.85 406.3L127.85 406.3L129.61 400.91L130.77 385.73L131.94 369.38L132.76 356.53L133.46 352.45L134.28 353.03L135.09 355.95L136.03 357.7L137.2 360.62L138.13 361.79L138.95 368.21L139.53 379.89L140.7 388.07L141.87 393.91L143.04 399.74L144.79 403.83L147.12 404.42L148.88 405.35L151.21 406.3L151.21 406.3Z" fill="#d6a67f" stroke="none" stroke-width="1" clip-path="url(#hc2)"/>
<path d="M125.52 406.3L125.52 406.3L127.85 402.08L129.61 390.4L130.77 374.05L131.36 360.04L132.29 348.36L133.11 345.44L133.93 347.19L134.86 355.36L135.8 369.38L136.96 383.39L138.36 395.07L140.12 403.25L141.87 406.3L141.87 406.3Z" fill="none" stroke="#a3a3a3" stroke-width="0.6"/>
<path d="M127.85 406.3L127.85 406.3L129.61 400.91L130.77 385.73L131.94 369.38L132.76 356.53L133.46 352.45L134.28 353.03L135.09 355.95L136.03 357.7L137.2 360.62L138.13 361.79L138.95 368.21L139.53 379.89L140.7 388.07L141.87 393.91L143.04 399.74L144.79 403.83L147.12 404.42L148.88 405.35L151.21 406.3L151.21 406.3Z" fill="none" stroke="#e0843e" stroke-width="0.75"/>
<clipPath id="hc3"><path d="M212.35 406.3L212.35 406.3L214.69 403.25L216.44 397.41L217.61 385.73L218.77 371.72L219.71 358.87L220.53 355.95L221.46 360.04L222.63 371.72L224.03 385.73L225.43 396.24L226.6 399.74L228.12 402.08L229.87 405L232.2 406.3L232.2 406.3Z"/></clipPath>
<path d="M212.35 406.3L212.35 406.3L214.69 403.25L216.44 397.41L217.61 385.73L218.77 371.72L219.71 358.87L220.53 355.95L221.46 360.04L222.63 371.72L224.03 385.73L225.43 396.24L226.6 399.74L228.12 402.08L229.87 405L232.2 406.3L232.2 406.3Z" fill="#d7d7d7" stroke="none" stroke-width="1"/>
<path d="M212.35 406.3L212.35 406.3L214.69 403.25L216.44 397.41L217.61 385.73L218.77 371.72L219.71 358.87L220.53 356.3L221.46 360.04L222.63 371.72L224.03 385.73L225.43 396.24L226.6 399.16L228.12 400.91L229.28 403.25L231.04 405.35L233.37 406.17L235.71 406.3L235.71 406.3Z" fill="#f0c4a0" stroke="none" stroke-width="1"/>
<path d="M212.35 406.3L212.35 406.3L214.69 403.25L216.44 397.41L217.61 385.73L218.77 371.72L219.71 358.87L220.53 356.3L221.46 360.04L222.63 371.72L224.03 385.73L225.43 396.24L226.6 399.16L228.12 400.91L229.28 403.25L231.04 405.35L233.37 406.17L235.71 406.3L235.71 406.3Z" fill="#d6a67f" stroke="none" stroke-width="1" clip-path="url(#hc3)"/>
<path d="M212.35 406.3L212.35 406.3L214.69 403.25L216.44 397.41L217.61 385.73L218.77 371.72L219.71 358.87L220.53 355.95L221.46 360.04L222.63 371.72L224.03 385.73L225.43 396.24L226.6 399.74L228.12 402.08L229.87 405L232.2 406.3L232.2 406.3Z" fill="none" stroke="#a3a3a3" stroke-width="0.6"/>
<path d="M212.35 406.3L212.35 406.3L214.69 403.25L216.44 397.41L217.61 385.73L218.77 371.72L219.71 358.87L220.53 356.3L221.46 360.04L222.63 371.72L224.03 385.73L225.43 396.24L226.6 399.16L228.12 400.91L229.28 403.25L231.04 405.35L233.37 406.17L235.71 406.3L235.71 406.3Z" fill="none" stroke="#e0843e" stroke-width="0.75"/>
<line x1="15" y1="337" x2="15" y2="385" stroke="#222" stroke-width="0.9"/>
<path d="M15 333L13 339L17 339Z" fill="#111" stroke="none" stroke-width="1"/>
<text x="0" y="0" font-size="10.2" text-anchor="middle" fill="#111" stroke="#111" stroke-width="0.12" transform="translate(17.9 397.5) rotate(-90) scale(0.93 1)">Cells</text>
<text x="0" y="0" font-size="10.2" fill="#111" stroke="#111" stroke-width="0.12" transform="translate(26 426) scale(0.96 1)">CD40-AF700</text>
<line x1="85" y1="423.6" x2="274.5" y2="423.6" stroke="#222" stroke-width="0.9"/>
<path d="M278.5 423.6L272.5 421.6L272.5 425.6Z" fill="#111" stroke="none" stroke-width="1"/>
<text x="0" y="0" font-size="14.5" font-weight="bold" fill="#111" transform="translate(-0.5 451.2)">g</text>
<text x="0" y="0" font-size="10.2" text-anchor="middle" fill="#111" stroke="#111" stroke-width="0.12" transform="translate(64 453.6) scale(0.93 1)">Healthy</text>
<text x="0" y="0" font-size="10.2" text-anchor="middle" fill="#111" stroke="#111" stroke-width="0.12" transform="translate(153 453.6) scale(0.93 1)">Mild</text>
<text x="0" y="0" font-size="10.2" text-anchor="middle" fill="#111" stroke="#111" stroke-width="0.12" transform="translate(244 453.6) scale(0.93 1)">Moderate</text>
<path d="M26.4 456.4H102.4V531.6" fill="none" stroke="#aaa" stroke-width="0.7"/>
<line x1="26.4" y1="456.4" x2="26.4" y2="531.6" stroke="#888" stroke-width="0.6"/>
<line x1="26.4" y1="531.6" x2="102.4" y2="531.6" stroke="#888" stroke-width="0.6"/>
<text x="0" y="0" font-size="3" text-anchor="end" fill="#555" transform="translate(23.8 461.6) scale(0.93 1)">100</text>
<text x="0" y="0" font-size="3" text-anchor="end" fill="#555" transform="translate(23.8 475.7) scale(0.93 1)">80</text>
<text x="0" y="0" font-size="3" text-anchor="end" fill="#555" transform="translate(23.8 489.8) scale(0.93 1)">60</text>
<text x="0" y="0" font-size="3" text-anchor="end" fill="#555" transform="translate(23.8 503.9) scale(0.93 1)">40</text>
<text x="0" y="0" font-size="3" text-anchor="end" fill="#555" transform="translate(23.8 518) scale(0.93 1)">20</text>
<text x="0" y="0" font-size="3" text-anchor="end" fill="#555" transform="translate(23.8 532.1) scale(0.93 1)">0</text>
<text x="0" y="0" font-size="3" text-anchor="middle" fill="#555" transform="translate(32.9 537.6) scale(0.93 1)">-10<tspan dy="-1.2" font-size="2.2">2</tspan></text>
<text x="0" y="0" font-size="3" text-anchor="middle" fill="#555" transform="translate(44.9 537.6) scale(0.93 1)">0</text>
<text x="0" y="0" font-size="3" text-anchor="middle" fill="#555" transform="translate(58.4 537.6) scale(0.93 1)">10<tspan dy="-1.2" font-size="2.2">3</tspan></text>
<text x="0" y="0" font-size="3" text-anchor="middle" fill="#555" transform="translate(78.9 537.6) scale(0.93 1)">10<tspan dy="-1.2" font-size="2.2">4</tspan></text>
<text x="0" y="0" font-size="3" text-anchor="middle" fill="#555" transform="translate(96.9 537.6) scale(0.93 1)">10<tspan dy="-1.2" font-size="2.2">5</tspan></text>
<path d="M24.8 460.5h1.6M25.6 464h0.8M25.6 467.5h0.8M25.6 471h0.8M24.8 474.6h1.6M25.6 478.1h0.8M25.6 481.6h0.8M25.6 485.1h0.8M24.8 488.7h1.6M25.6 492.2h0.8M25.6 495.7h0.8M25.6 499.2h0.8M24.8 502.8h1.6M25.6 506.3h0.8M25.6 509.8h0.8M25.6 513.3h0.8M24.8 516.9h1.6M25.6 520.4h0.8M25.6 523.9h0.8M25.6 527.4h0.8M24.8 531h1.6M32.9 531.6v1.6M44.9 531.6v1.6M58.4 531.6v1.6M78.9 531.6v1.6M96.9 531.6v1.6M34.4 531.6v0.9M35.6 531.6v0.9M36.8 531.6v0.9M38 531.6v0.9M39.2 531.6v0.9M40.4 531.6v0.9M41.6 531.6v0.9M42.8 531.6v0.9M51.4 531.6v0.9M54.4 531.6v0.9M56.4 531.6v0.9M68.4 531.6v0.9M72.4 531.6v0.9M75.4 531.6v0.9M77.4 531.6v0.9M86.4 531.6v0.9M90.4 531.6v0.9M93.4 531.6v0.9M95.4 531.6v0.9" stroke="#666" stroke-width="0.45" fill="none"/>
<ellipse cx="43.4" cy="532.5" rx="1.9" ry="0.9" fill="#111" filter="url(#soft)"/>
<path d="M112.4 456.4H188.4V531.6" fill="none" stroke="#aaa" stroke-width="0.7"/>
<line x1="112.4" y1="456.4" x2="112.4" y2="531.6" stroke="#888" stroke-width="0.6"/>
<line x1="112.4" y1="531.6" x2="188.4" y2="531.6" stroke="#888" stroke-width="0.6"/>
<text x="0" y="0" font-size="3" text-anchor="end" fill="#555" transform="translate(109.8 461.6) scale(0.93 1)">100</text>
<text x="0" y="0" font-size="3" text-anchor="end" fill="#555" transform="translate(109.8 475.7) scale(0.93 1)">80</text>
<text x="0" y="0" font-size="3" text-anchor="end" fill="#555" transform="translate(109.8 489.8) scale(0.93 1)">60</text>
<text x="0" y="0" font-size="3" text-anchor="end" fill="#555" transform="translate(109.8 503.9) scale(0.93 1)">40</text>
<text x="0" y="0" font-size="3" text-anchor="end" fill="#555" transform="translate(109.8 518) scale(0.93 1)">20</text>
<text x="0" y="0" font-size="3" text-anchor="end" fill="#555" transform="translate(109.8 532.1) scale(0.93 1)">0</text>
<text x="0" y="0" font-size="3" text-anchor="middle" fill="#555" transform="translate(118.9 537.6) scale(0.93 1)">-10<tspan dy="-1.2" font-size="2.2">2</tspan></text>
<text x="0" y="0" font-size="3" text-anchor="middle" fill="#555" transform="translate(130.9 537.6) scale(0.93 1)">0</text>
<text x="0" y="0" font-size="3" text-anchor="middle" fill="#555" transform="translate(144.4 537.6) scale(0.93 1)">10<tspan dy="-1.2" font-size="2.2">3</tspan></text>
<text x="0" y="0" font-size="3" text-anchor="middle" fill="#555" transform="translate(164.9 537.6) scale(0.93 1)">10<tspan dy="-1.2" font-size="2.2">4</tspan></text>
<text x="0" y="0" font-size="3" text-anchor="middle" fill="#555" transform="translate(182.9 537.6) scale(0.93 1)">10<tspan dy="-1.2" font-size="2.2">5</tspan></text>
<path d="M110.8 460.5h1.6M111.6 464h0.8M111.6 467.5h0.8M111.6 471h0.8M110.8 474.6h1.6M111.6 478.1h0.8M111.6 481.6h0.8M111.6 485.1h0.8M110.8 488.7h1.6M111.6 492.2h0.8M111.6 495.7h0.8M111.6 499.2h0.8M110.8 502.8h1.6M111.6 506.3h0.8M111.6 509.8h0.8M111.6 513.3h0.8M110.8 516.9h1.6M111.6 520.4h0.8M111.6 523.9h0.8M111.6 527.4h0.8M110.8 531h1.6M118.9 531.6v1.6M130.9 531.6v1.6M144.4 531.6v1.6M164.9 531.6v1.6M182.9 531.6v1.6M120.4 531.6v0.9M121.6 531.6v0.9M122.8 531.6v0.9M124 531.6v0.9M125.2 531.6v0.9M126.4 531.6v0.9M127.6 531.6v0.9M128.8 531.6v0.9M137.4 531.6v0.9M140.4 531.6v0.9M142.4 531.6v0.9M154.4 531.6v0.9M158.4 531.6v0.9M161.4 531.6v0.9M163.4 531.6v0.9M172.4 531.6v0.9M176.4 531.6v0.9M179.4 531.6v0.9M181.4 531.6v0.9" stroke="#666" stroke-width="0.45" fill="none"/>
<ellipse cx="129.4" cy="532.5" rx="1.9" ry="0.9" fill="#111" filter="url(#soft)"/>
<path d="M198.4 456.4H274.4V531.6" fill="none" stroke="#aaa" stroke-width="0.7"/>
<line x1="198.4" y1="456.4" x2="198.4" y2="531.6" stroke="#888" stroke-width="0.6"/>
<line x1="198.4" y1="531.6" x2="274.4" y2="531.6" stroke="#888" stroke-width="0.6"/>
<text x="0" y="0" font-size="3" text-anchor="end" fill="#555" transform="translate(195.8 461.6) scale(0.93 1)">100</text>
<text x="0" y="0" font-size="3" text-anchor="end" fill="#555" transform="translate(195.8 475.7) scale(0.93 1)">80</text>
<text x="0" y="0" font-size="3" text-anchor="end" fill="#555" transform="translate(195.8 489.8) scale(0.93 1)">60</text>
<text x="0" y="0" font-size="3" text-anchor="end" fill="#555" transform="translate(195.8 503.9) scale(0.93 1)">40</text>
<text x="0" y="0" font-size="3" text-anchor="end" fill="#555" transform="translate(195.8 518) scale(0.93 1)">20</text>
<text x="0" y="0" font-size="3" text-anchor="end" fill="#555" transform="translate(195.8 532.1) scale(0.93 1)">0</text>
<text x="0" y="0" font-size="3" text-anchor="middle" fill="#555" transform="translate(204.9 537.6) scale(0.93 1)">-10<tspan dy="-1.2" font-size="2.2">2</tspan></text>
<text x="0" y="0" font-size="3" text-anchor="middle" fill="#555" transform="translate(216.9 537.6) scale(0.93 1)">0</text>
<text x="0" y="0" font-size="3" text-anchor="middle" fill="#555" transform="translate(230.4 537.6) scale(0.93 1)">10<tspan dy="-1.2" font-size="2.2">3</tspan></text>
<text x="0" y="0" font-size="3" text-anchor="middle" fill="#555" transform="translate(250.9 537.6) scale(0.93 1)">10<tspan dy="-1.2" font-size="2.2">4</tspan></text>
<text x="0" y="0" font-size="3" text-anchor="middle" fill="#555" transform="translate(268.9 537.6) scale(0.93 1)">10<tspan dy="-1.2" font-size="2.2">5</tspan></text>
<path d="M196.8 460.5h1.6M197.6 464h0.8M197.6 467.5h0.8M197.6 471h0.8M196.8 474.6h1.6M197.6 478.1h0.8M197.6 481.6h0.8M197.6 485.1h0.8M196.8 488.7h1.6M197.6 492.2h0.8M197.6 495.7h0.8M197.6 499.2h0.8M196.8 502.8h1.6M197.6 506.3h0.8M197.6 509.8h0.8M197.6 513.3h0.8M196.8 516.9h1.6M197.6 520.4h0.8M197.6 523.9h0.8M197.6 527.4h0.8M196.8 531h1.6M204.9 531.6v1.6M216.9 531.6v1.6M230.4 531.6v1.6M250.9 531.6v1.6M268.9 531.6v1.6M206.4 531.6v0.9M207.6 531.6v0.9M208.8 531.6v0.9M210 531.6v0.9M211.2 531.6v0.9M212.4 531.6v0.9M213.6 531.6v0.9M214.8 531.6v0.9M223.4 531.6v0.9M226.4 531.6v0.9M228.4 531.6v0.9M240.4 531.6v0.9M244.4 531.6v0.9M247.4 531.6v0.9M249.4 531.6v0.9M258.4 531.6v0.9M262.4 531.6v0.9M265.4 531.6v0.9M267.4 531.6v0.9" stroke="#666" stroke-width="0.45" fill="none"/>
<ellipse cx="215.4" cy="532.5" rx="1.9" ry="0.9" fill="#111" filter="url(#soft)"/>
<path d="M26.4 559.6H102.4V634.8" fill="none" stroke="#aaa" stroke-width="0.7"/>
<line x1="26.4" y1="559.6" x2="26.4" y2="634.8" stroke="#888" stroke-width="0.6"/>
<line x1="26.4" y1="634.8" x2="102.4" y2="634.8" stroke="#888" stroke-width="0.6"/>
<text x="0" y="0" font-size="3" text-anchor="end" fill="#555" transform="translate(23.8 564.8) scale(0.93 1)">100</text>
<text x="0" y="0" font-size="3" text-anchor="end" fill="#555" transform="translate(23.8 578.9) scale(0.93 1)">80</text>
<text x="0" y="0" font-size="3" text-anchor="end" fill="#555" transform="translate(23.8 593) scale(0.93 1)">60</text>
<text x="0" y="0" font-size="3" text-anchor="end" fill="#555" transform="translate(23.8 607.1) scale(0.93 1)">40</text>
<text x="0" y="0" font-size="3" text-anchor="end" fill="#555" transform="translate(23.8 621.2) scale(0.93 1)">20</text>
<text x="0" y="0" font-size="3" text-anchor="end" fill="#555" transform="translate(23.8 635.3) scale(0.93 1)">0</text>
<text x="0" y="0" font-size="3" text-anchor="middle" fill="#555" transform="translate(32.9 640.8) scale(0.93 1)">-10<tspan dy="-1.2" font-size="2.2">2</tspan></text>
<text x="0" y="0" font-size="3" text-anchor="middle" fill="#555" transform="translate(44.9 640.8) scale(0.93 1)">0</text>
<text x="0" y="0" font-size="3" text-anchor="middle" fill="#555" transform="translate(58.4 640.8) scale(0.93 1)">10<tspan dy="-1.2" font-size="2.2">3</tspan></text>
<text x="0" y="0" font-size="3" text-anchor="middle" fill="#555" transform="translate(78.9 640.8) scale(0.93 1)">10<tspan dy="-1.2" font-size="2.2">4</tspan></text>
<text x="0" y="0" font-size="3" text-anchor="middle" fill="#555" transform="translate(96.9 640.8) scale(0.93 1)">10<tspan dy="-1.2" font-size="2.2">5</tspan></text>
<path d="M24.8 563.7h1.6M25.6 567.2h0.8M25.6 570.7h0.8M25.6 574.2h0.8M24.8 577.8h1.6M25.6 581.3h0.8M25.6 584.8h0.8M25.6 588.3h0.8M24.8 591.9h1.6M25.6 595.4h0.8M25.6 598.9h0.8M25.6 602.4h0.8M24.8 606h1.6M25.6 609.5h0.8M25.6 613h0.8M25.6 616.5h0.8M24.8 620.1h1.6M25.6 623.6h0.8M25.6 627.1h0.8M25.6 630.6h0.8M24.8 634.2h1.6M32.9 634.8v1.6M44.9 634.8v1.6M58.4 634.8v1.6M78.9 634.8v1.6M96.9 634.8v1.6M34.4 634.8v0.9M35.6 634.8v0.9M36.8 634.8v0.9M38 634.8v0.9M39.2 634.8v0.9M40.4 634.8v0.9M41.6 634.8v0.9M42.8 634.8v0.9M51.4 634.8v0.9M54.4 634.8v0.9M56.4 634.8v0.9M68.4 634.8v0.9M72.4 634.8v0.9M75.4 634.8v0.9M77.4 634.8v0.9M86.4 634.8v0.9M90.4 634.8v0.9M93.4 634.8v0.9M95.4 634.8v0.9" stroke="#666" stroke-width="0.45" fill="none"/>
<ellipse cx="30.9" cy="635.7" rx="1.9" ry="0.9" fill="#111" filter="url(#soft)"/>
<path d="M112.4 559.6H188.4V634.8" fill="none" stroke="#aaa" stroke-width="0.7"/>
<line x1="112.4" y1="559.6" x2="112.4" y2="634.8" stroke="#888" stroke-width="0.6"/>
<line x1="112.4" y1="634.8" x2="188.4" y2="634.8" stroke="#888" stroke-width="0.6"/>
<text x="0" y="0" font-size="3" text-anchor="end" fill="#555" transform="translate(109.8 564.8) scale(0.93 1)">100</text>
<text x="0" y="0" font-size="3" text-anchor="end" fill="#555" transform="translate(109.8 578.9) scale(0.93 1)">80</text>
<text x="0" y="0" font-size="3" text-anchor="end" fill="#555" transform="translate(109.8 593) scale(0.93 1)">60</text>
<text x="0" y="0" font-size="3" text-anchor="end" fill="#555" transform="translate(109.8 607.1) scale(0.93 1)">40</text>
<text x="0" y="0" font-size="3" text-anchor="end" fill="#555" transform="translate(109.8 621.2) scale(0.93 1)">20</text>
<text x="0" y="0" font-size="3" text-anchor="end" fill="#555" transform="translate(109.8 635.3) scale(0.93 1)">0</text>
<text x="0" y="0" font-size="3" text-anchor="middle" fill="#555" transform="translate(118.9 640.8) scale(0.93 1)">-10<tspan dy="-1.2" font-size="2.2">2</tspan></text>
<text x="0" y="0" font-size="3" text-anchor="middle" fill="#555" transform="translate(130.9 640.8) scale(0.93 1)">0</text>
<text x="0" y="0" font-size="3" text-anchor="middle" fill="#555" transform="translate(144.4 640.8) scale(0.93 1)">10<tspan dy="-1.2" font-size="2.2">3</tspan></text>
<text x="0" y="0" font-size="3" text-anchor="middle" fill="#555" transform="translate(164.9 640.8) scale(0.93 1)">10<tspan dy="-1.2" font-size="2.2">4</tspan></text>
<text x="0" y="0" font-size="3" text-anchor="middle" fill="#555" transform="translate(182.9 640.8) scale(0.93 1)">10<tspan dy="-1.2" font-size="2.2">5</tspan></text>
<path d="M110.8 563.7h1.6M111.6 567.2h0.8M111.6 570.7h0.8M111.6 574.2h0.8M110.8 577.8h1.6M111.6 581.3h0.8M111.6 584.8h0.8M111.6 588.3h0.8M110.8 591.9h1.6M111.6 595.4h0.8M111.6 598.9h0.8M111.6 602.4h0.8M110.8 606h1.6M111.6 609.5h0.8M111.6 613h0.8M111.6 616.5h0.8M110.8 620.1h1.6M111.6 623.6h0.8M111.6 627.1h0.8M111.6 630.6h0.8M110.8 634.2h1.6M118.9 634.8v1.6M130.9 634.8v1.6M144.4 634.8v1.6M164.9 634.8v1.6M182.9 634.8v1.6M120.4 634.8v0.9M121.6 634.8v0.9M122.8 634.8v0.9M124 634.8v0.9M125.2 634.8v0.9M126.4 634.8v0.9M127.6 634.8v0.9M128.8 634.8v0.9M137.4 634.8v0.9M140.4 634.8v0.9M142.4 634.8v0.9M154.4 634.8v0.9M158.4 634.8v0.9M161.4 634.8v0.9M163.4 634.8v0.9M172.4 634.8v0.9M176.4 634.8v0.9M179.4 634.8v0.9M181.4 634.8v0.9" stroke="#666" stroke-width="0.45" fill="none"/>
<ellipse cx="116.9" cy="635.7" rx="1.9" ry="0.9" fill="#111" filter="url(#soft)"/>
<path d="M198.4 559.6H274.4V634.8" fill="none" stroke="#aaa" stroke-width="0.7"/>
<line x1="198.4" y1="559.6" x2="198.4" y2="634.8" stroke="#888" stroke-width="0.6"/>
<line x1="198.4" y1="634.8" x2="274.4" y2="634.8" stroke="#888" stroke-width="0.6"/>
<text x="0" y="0" font-size="3" text-anchor="end" fill="#555" transform="translate(195.8 564.8) scale(0.93 1)">100</text>
<text x="0" y="0" font-size="3" text-anchor="end" fill="#555" transform="translate(195.8 578.9) scale(0.93 1)">80</text>
<text x="0" y="0" font-size="3" text-anchor="end" fill="#555" transform="translate(195.8 593) scale(0.93 1)">60</text>
<text x="0" y="0" font-size="3" text-anchor="end" fill="#555" transform="translate(195.8 607.1) scale(0.93 1)">40</text>
<text x="0" y="0" font-size="3" text-anchor="end" fill="#555" transform="translate(195.8 621.2) scale(0.93 1)">20</text>
<text x="0" y="0" font-size="3" text-anchor="end" fill="#555" transform="translate(195.8 635.3) scale(0.93 1)">0</text>
<text x="0" y="0" font-size="3" text-anchor="middle" fill="#555" transform="translate(204.9 640.8) scale(0.93 1)">-10<tspan dy="-1.2" font-size="2.2">2</tspan></text>
<text x="0" y="0" font-size="3" text-anchor="middle" fill="#555" transform="translate(216.9 640.8) scale(0.93 1)">0</text>
<text x="0" y="0" font-size="3" text-anchor="middle" fill="#555" transform="translate(230.4 640.8) scale(0.93 1)">10<tspan dy="-1.2" font-size="2.2">3</tspan></text>
<text x="0" y="0" font-size="3" text-anchor="middle" fill="#555" transform="translate(250.9 640.8) scale(0.93 1)">10<tspan dy="-1.2" font-size="2.2">4</tspan></text>
<text x="0" y="0" font-size="3" text-anchor="middle" fill="#555" transform="translate(268.9 640.8) scale(0.93 1)">10<tspan dy="-1.2" font-size="2.2">5</tspan></text>
<path d="M196.8 563.7h1.6M197.6 567.2h0.8M197.6 570.7h0.8M197.6 574.2h0.8M196.8 577.8h1.6M197.6 581.3h0.8M197.6 584.8h0.8M197.6 588.3h0.8M196.8 591.9h1.6M197.6 595.4h0.8M197.6 598.9h0.8M197.6 602.4h0.8M196.8 606h1.6M197.6 609.5h0.8M197.6 613h0.8M197.6 616.5h0.8M196.8 620.1h1.6M197.6 623.6h0.8M197.6 627.1h0.8M197.6 630.6h0.8M196.8 634.2h1.6M204.9 634.8v1.6M216.9 634.8v1.6M230.4 634.8v1.6M250.9 634.8v1.6M268.9 634.8v1.6M206.4 634.8v0.9M207.6 634.8v0.9M208.8 634.8v0.9M210 634.8v0.9M211.2 634.8v0.9M212.4 634.8v0.9M213.6 634.8v0.9M214.8 634.8v0.9M223.4 634.8v0.9M226.4 634.8v0.9M228.4 634.8v0.9M240.4 634.8v0.9M244.4 634.8v0.9M247.4 634.8v0.9M249.4 634.8v0.9M258.4 634.8v0.9M262.4 634.8v0.9M265.4 634.8v0.9M267.4 634.8v0.9" stroke="#666" stroke-width="0.45" fill="none"/>
<ellipse cx="202.9" cy="635.7" rx="1.9" ry="0.9" fill="#111" filter="url(#soft)"/>
<path d="M26.4 663.4H102.4V738.4" fill="none" stroke="#aaa" stroke-width="0.7"/>
<line x1="26.4" y1="663.4" x2="26.4" y2="738.4" stroke="#888" stroke-width="0.6"/>
<line x1="26.4" y1="738.4" x2="102.4" y2="738.4" stroke="#888" stroke-width="0.6"/>
<text x="0" y="0" font-size="3" text-anchor="end" fill="#555" transform="translate(23.8 668.6) scale(0.93 1)">100</text>
<text x="0" y="0" font-size="3" text-anchor="end" fill="#555" transform="translate(23.8 682.7) scale(0.93 1)">80</text>
<text x="0" y="0" font-size="3" text-anchor="end" fill="#555" transform="translate(23.8 696.8) scale(0.93 1)">60</text>
<text x="0" y="0" font-size="3" text-anchor="end" fill="#555" transform="translate(23.8 710.9) scale(0.93 1)">40</text>
<text x="0" y="0" font-size="3" text-anchor="end" fill="#555" transform="translate(23.8 725) scale(0.93 1)">20</text>
<text x="0" y="0" font-size="3" text-anchor="end" fill="#555" transform="translate(23.8 739.1) scale(0.93 1)">0</text>
<text x="0" y="0" font-size="3" text-anchor="middle" fill="#555" transform="translate(32.9 744.4) scale(0.93 1)">-10<tspan dy="-1.2" font-size="2.2">2</tspan></text>
<text x="0" y="0" font-size="3" text-anchor="middle" fill="#555" transform="translate(44.9 744.4) scale(0.93 1)">0</text>
<text x="0" y="0" font-size="3" text-anchor="middle" fill="#555" transform="translate(58.4 744.4) scale(0.93 1)">10<tspan dy="-1.2" font-size="2.2">3</tspan></text>
<text x="0" y="0" font-size="3" text-anchor="middle" fill="#555" transform="translate(78.9 744.4) scale(0.93 1)">10<tspan dy="-1.2" font-size="2.2">4</tspan></text>
<text x="0" y="0" font-size="3" text-anchor="middle" fill="#555" transform="translate(96.9 744.4) scale(0.93 1)">10<tspan dy="-1.2" font-size="2.2">5</tspan></text>
<path d="M24.8 667.5h1.6M25.6 671h0.8M25.6 674.5h0.8M25.6 678h0.8M24.8 681.6h1.6M25.6 685.1h0.8M25.6 688.6h0.8M25.6 692.1h0.8M24.8 695.7h1.6M25.6 699.2h0.8M25.6 702.7h0.8M25.6 706.2h0.8M24.8 709.8h1.6M25.6 713.3h0.8M25.6 716.8h0.8M25.6 720.3h0.8M24.8 723.9h1.6M25.6 727.4h0.8M25.6 730.9h0.8M25.6 734.4h0.8M24.8 738h1.6M32.9 738.4v1.6M44.9 738.4v1.6M58.4 738.4v1.6M78.9 738.4v1.6M96.9 738.4v1.6M34.4 738.4v0.9M35.6 738.4v0.9M36.8 738.4v0.9M38 738.4v0.9M39.2 738.4v0.9M40.4 738.4v0.9M41.6 738.4v0.9M42.8 738.4v0.9M51.4 738.4v0.9M54.4 738.4v0.9M56.4 738.4v0.9M68.4 738.4v0.9M72.4 738.4v0.9M75.4 738.4v0.9M77.4 738.4v0.9M86.4 738.4v0.9M90.4 738.4v0.9M93.4 738.4v0.9M95.4 738.4v0.9" stroke="#666" stroke-width="0.45" fill="none"/>
<ellipse cx="32.9" cy="739.3" rx="1.9" ry="0.9" fill="#111" filter="url(#soft)"/>
<path d="M112.4 663.4H188.4V738.4" fill="none" stroke="#aaa" stroke-width="0.7"/>
<line x1="112.4" y1="663.4" x2="112.4" y2="738.4" stroke="#888" stroke-width="0.6"/>
<line x1="112.4" y1="738.4" x2="188.4" y2="738.4" stroke="#888" stroke-width="0.6"/>
<text x="0" y="0" font-size="3" text-anchor="end" fill="#555" transform="translate(109.8 668.6) scale(0.93 1)">100</text>
<text x="0" y="0" font-size="3" text-anchor="end" fill="#555" transform="translate(109.8 682.7) scale(0.93 1)">80</text>
<text x="0" y="0" font-size="3" text-anchor="end" fill="#555" transform="translate(109.8 696.8) scale(0.93 1)">60</text>
<text x="0" y="0" font-size="3" text-anchor="end" fill="#555" transform="translate(109.8 710.9) scale(0.93 1)">40</text>
<text x="0" y="0" font-size="3" text-anchor="end" fill="#555" transform="translate(109.8 725) scale(0.93 1)">20</text>
<text x="0" y="0" font-size="3" text-anchor="end" fill="#555" transform="translate(109.8 739.1) scale(0.93 1)">0</text>
<text x="0" y="0" font-size="3" text-anchor="middle" fill="#555" transform="translate(118.9 744.4) scale(0.93 1)">-10<tspan dy="-1.2" font-size="2.2">2</tspan></text>
<text x="0" y="0" font-size="3" text-anchor="middle" fill="#555" transform="translate(130.9 744.4) scale(0.93 1)">0</text>
<text x="0" y="0" font-size="3" text-anchor="middle" fill="#555" transform="translate(144.4 744.4) scale(0.93 1)">10<tspan dy="-1.2" font-size="2.2">3</tspan></text>
<text x="0" y="0" font-size="3" text-anchor="middle" fill="#555" transform="translate(164.9 744.4) scale(0.93 1)">10<tspan dy="-1.2" font-size="2.2">4</tspan></text>
<text x="0" y="0" font-size="3" text-anchor="middle" fill="#555" transform="translate(182.9 744.4) scale(0.93 1)">10<tspan dy="-1.2" font-size="2.2">5</tspan></text>
<path d="M110.8 667.5h1.6M111.6 671h0.8M111.6 674.5h0.8M111.6 678h0.8M110.8 681.6h1.6M111.6 685.1h0.8M111.6 688.6h0.8M111.6 692.1h0.8M110.8 695.7h1.6M111.6 699.2h0.8M111.6 702.7h0.8M111.6 706.2h0.8M110.8 709.8h1.6M111.6 713.3h0.8M111.6 716.8h0.8M111.6 720.3h0.8M110.8 723.9h1.6M111.6 727.4h0.8M111.6 730.9h0.8M111.6 734.4h0.8M110.8 738h1.6M118.9 738.4v1.6M130.9 738.4v1.6M144.4 738.4v1.6M164.9 738.4v1.6M182.9 738.4v1.6M120.4 738.4v0.9M121.6 738.4v0.9M122.8 738.4v0.9M124 738.4v0.9M125.2 738.4v0.9M126.4 738.4v0.9M127.6 738.4v0.9M128.8 738.4v0.9M137.4 738.4v0.9M140.4 738.4v0.9M142.4 738.4v0.9M154.4 738.4v0.9M158.4 738.4v0.9M161.4 738.4v0.9M163.4 738.4v0.9M172.4 738.4v0.9M176.4 738.4v0.9M179.4 738.4v0.9M181.4 738.4v0.9" stroke="#666" stroke-width="0.45" fill="none"/>
<ellipse cx="118.9" cy="739.3" rx="1.9" ry="0.9" fill="#111" filter="url(#soft)"/>
<path d="M198.4 663.4H274.4V738.4" fill="none" stroke="#aaa" stroke-width="0.7"/>
<line x1="198.4" y1="663.4" x2="198.4" y2="738.4" stroke="#888" stroke-width="0.6"/>
<line x1="198.4" y1="738.4" x2="274.4" y2="738.4" stroke="#888" stroke-width="0.6"/>
<text x="0" y="0" font-size="3" text-anchor="end" fill="#555" transform="translate(195.8 668.6) scale(0.93 1)">100</text>
<text x="0" y="0" font-size="3" text-anchor="end" fill="#555" transform="translate(195.8 682.7) scale(0.93 1)">80</text>
<text x="0" y="0" font-size="3" text-anchor="end" fill="#555" transform="translate(195.8 696.8) scale(0.93 1)">60</text>
<text x="0" y="0" font-size="3" text-anchor="end" fill="#555" transform="translate(195.8 710.9) scale(0.93 1)">40</text>
<text x="0" y="0" font-size="3" text-anchor="end" fill="#555" transform="translate(195.8 725) scale(0.93 1)">20</text>
<text x="0" y="0" font-size="3" text-anchor="end" fill="#555" transform="translate(195.8 739.1) scale(0.93 1)">0</text>
<text x="0" y="0" font-size="3" text-anchor="middle" fill="#555" transform="translate(204.9 744.4) scale(0.93 1)">-10<tspan dy="-1.2" font-size="2.2">2</tspan></text>
<text x="0" y="0" font-size="3" text-anchor="middle" fill="#555" transform="translate(216.9 744.4) scale(0.93 1)">0</text>
<text x="0" y="0" font-size="3" text-anchor="middle" fill="#555" transform="translate(230.4 744.4) scale(0.93 1)">10<tspan dy="-1.2" font-size="2.2">3</tspan></text>
<text x="0" y="0" font-size="3" text-anchor="middle" fill="#555" transform="translate(250.9 744.4) scale(0.93 1)">10<tspan dy="-1.2" font-size="2.2">4</tspan></text>
<text x="0" y="0" font-size="3" text-anchor="middle" fill="#555" transform="translate(268.9 744.4) scale(0.93 1)">10<tspan dy="-1.2" font-size="2.2">5</tspan></text>
<path d="M196.8 667.5h1.6M197.6 671h0.8M197.6 674.5h0.8M197.6 678h0.8M196.8 681.6h1.6M197.6 685.1h0.8M197.6 688.6h0.8M197.6 692.1h0.8M196.8 695.7h1.6M197.6 699.2h0.8M197.6 702.7h0.8M197.6 706.2h0.8M196.8 709.8h1.6M197.6 713.3h0.8M197.6 716.8h0.8M197.6 720.3h0.8M196.8 723.9h1.6M197.6 727.4h0.8M197.6 730.9h0.8M197.6 734.4h0.8M196.8 738h1.6M204.9 738.4v1.6M216.9 738.4v1.6M230.4 738.4v1.6M250.9 738.4v1.6M268.9 738.4v1.6M206.4 738.4v0.9M207.6 738.4v0.9M208.8 738.4v0.9M210 738.4v0.9M211.2 738.4v0.9M212.4 738.4v0.9M213.6 738.4v0.9M214.8 738.4v0.9M223.4 738.4v0.9M226.4 738.4v0.9M228.4 738.4v0.9M240.4 738.4v0.9M244.4 738.4v0.9M247.4 738.4v0.9M249.4 738.4v0.9M258.4 738.4v0.9M262.4 738.4v0.9M265.4 738.4v0.9M267.4 738.4v0.9" stroke="#666" stroke-width="0.45" fill="none"/>
<ellipse cx="204.9" cy="739.3" rx="1.9" ry="0.9" fill="#111" filter="url(#soft)"/>
<clipPath id="hc4"><path d="M41.02 531.6L41.02 531.6L43.36 520.07L45.11 508.39L46.63 501.39L48.03 494.38L49.2 482.7L50.13 478.03L51.3 476.28L52.7 476.86L53.87 480.36L55.04 479.2L56.2 481.53L57.96 485.04L59.71 486.2L61.46 485.04L62.63 487.37L63.8 494.38L64.96 501.39L66.13 499.05L67.3 506.06L68.47 513.07L70.22 520.07L71.97 525.91L73.72 530.58L75.47 531.6L75.47 531.6Z"/></clipPath>
<path d="M41.02 531.6L41.02 531.6L43.36 520.07L45.11 508.39L46.63 501.39L48.03 494.38L49.2 482.7L50.13 478.03L51.3 476.28L52.7 476.86L53.87 480.36L55.04 479.2L56.2 481.53L57.96 485.04L59.71 486.2L61.46 485.04L62.63 487.37L63.8 494.38L64.96 501.39L66.13 499.05L67.3 506.06L68.47 513.07L70.22 520.07L71.97 525.91L73.72 530.58L75.47 531.6L75.47 531.6Z" fill="#d7d7d7" stroke="none" stroke-width="1"/>
<path d="M41.02 531.6L41.02 531.6L42.77 524.74L43.94 515.4L45.69 504.89L47.45 499.05L49.2 494.38L50.6 492.04L51.77 485.04L52.93 481.53L54.45 480.95L55.62 478.61L56.79 479.78L57.61 475.69L58.54 472.77L59.12 476.28L59.94 474.53L60.88 478.61L61.81 479.78L62.63 478.03L63.21 484.45L64.38 486.79L65.31 489.71L66.13 495.55L67.3 504.89L68.47 514.23L69.64 520.07L71.39 525.91L73.14 530L74.89 531.52L76.06 531.6L76.06 531.6Z" fill="#f0c4a0" stroke="none" stroke-width="1"/>
<path d="M41.02 531.6L41.02 531.6L42.77 524.74L43.94 515.4L45.69 504.89L47.45 499.05L49.2 494.38L50.6 492.04L51.77 485.04L52.93 481.53L54.45 480.95L55.62 478.61L56.79 479.78L57.61 475.69L58.54 472.77L59.12 476.28L59.94 474.53L60.88 478.61L61.81 479.78L62.63 478.03L63.21 484.45L64.38 486.79L65.31 489.71L66.13 495.55L67.3 504.89L68.47 514.23L69.64 520.07L71.39 525.91L73.14 530L74.89 531.52L76.06 531.6L76.06 531.6Z" fill="#d6a67f" stroke="none" stroke-width="1" clip-path="url(#hc4)"/>
<path d="M41.02 531.6L41.02 531.6L43.36 520.07L45.11 508.39L46.63 501.39L48.03 494.38L49.2 482.7L50.13 478.03L51.3 476.28L52.7 476.86L53.87 480.36L55.04 479.2L56.2 481.53L57.96 485.04L59.71 486.2L61.46 485.04L62.63 487.37L63.8 494.38L64.96 501.39L66.13 499.05L67.3 506.06L68.47 513.07L70.22 520.07L71.97 525.91L73.72 530.58L75.47 531.6L75.47 531.6Z" fill="none" stroke="#a3a3a3" stroke-width="0.6"/>
<path d="M41.02 531.6L41.02 531.6L42.77 524.74L43.94 515.4L45.69 504.89L47.45 499.05L49.2 494.38L50.6 492.04L51.77 485.04L52.93 481.53L54.45 480.95L55.62 478.61L56.79 479.78L57.61 475.69L58.54 472.77L59.12 476.28L59.94 474.53L60.88 478.61L61.81 479.78L62.63 478.03L63.21 484.45L64.38 486.79L65.31 489.71L66.13 495.55L67.3 504.89L68.47 514.23L69.64 520.07L71.39 525.91L73.14 530L74.89 531.52L76.06 531.6L76.06 531.6Z" fill="none" stroke="#e0843e" stroke-width="0.75"/>
<clipPath id="hc5"><path d="M127.61 531.6L127.61 531.6L129.36 529.42L131.69 525.91L134.03 520.07L136.36 513.07L138.7 506.06L140.45 499.05L142.2 494.38L143.37 489.71L144.54 485.04L145.71 481.53L146.88 483.87L148.04 485.04L149.8 484.45L151.55 486.2L152.72 481.53L153.88 485.04L155.05 488.54L156.22 501.39L157.39 508.39L159.14 515.4L160.89 522.41L162.64 528.25L164.39 531.17L166.15 531.6L166.15 531.6Z"/></clipPath>
<path d="M127.61 531.6L127.61 531.6L129.36 529.42L131.69 525.91L134.03 520.07L136.36 513.07L138.7 506.06L140.45 499.05L142.2 494.38L143.37 489.71L144.54 485.04L145.71 481.53L146.88 483.87L148.04 485.04L149.8 484.45L151.55 486.2L152.72 481.53L153.88 485.04L155.05 488.54L156.22 501.39L157.39 508.39L159.14 515.4L160.89 522.41L162.64 528.25L164.39 531.17L166.15 531.6L166.15 531.6Z" fill="#d7d7d7" stroke="none" stroke-width="1"/>
<path d="M127.02 531.6L127.02 531.6L128.77 527.08L129.94 522.41L131.11 511.9L132.28 501.39L133.09 493.21L134.03 496.72L135.2 492.04L136.36 487.37L137.53 488.54L138.7 490.88L139.87 487.37L141.04 483.87L142.2 480.36L143.37 477.45L144.31 479.2L145.12 485.04L146.29 483.87L147.46 483.28L148.63 485.04L149.8 483.87L150.96 485.04L152.13 488.54L153.3 489.71L154.47 485.62L155.64 485.04L156.45 492.04L157.15 502.55L157.97 511.9L159.14 515.4L160.89 522.41L162.64 528.25L164.39 531.17L166.15 531.6L166.15 531.6Z" fill="#f0c4a0" stroke="none" stroke-width="1"/>
<path d="M127.02 531.6L127.02 531.6L128.77 527.08L129.94 522.41L131.11 511.9L132.28 501.39L133.09 493.21L134.03 496.72L135.2 492.04L136.36 487.37L137.53 488.54L138.7 490.88L139.87 487.37L141.04 483.87L142.2 480.36L143.37 477.45L144.31 479.2L145.12 485.04L146.29 483.87L147.46 483.28L148.63 485.04L149.8 483.87L150.96 485.04L152.13 488.54L153.3 489.71L154.47 485.62L155.64 485.04L156.45 492.04L157.15 502.55L157.97 511.9L159.14 515.4L160.89 522.41L162.64 528.25L164.39 531.17L166.15 531.6L166.15 531.6Z" fill="#d6a67f" stroke="none" stroke-width="1" clip-path="url(#hc5)"/>
<path d="M127.61 531.6L127.61 531.6L129.36 529.42L131.69 525.91L134.03 520.07L136.36 513.07L138.7 506.06L140.45 499.05L142.2 494.38L143.37 489.71L144.54 485.04L145.71 481.53L146.88 483.87L148.04 485.04L149.8 484.45L151.55 486.2L152.72 481.53L153.88 485.04L155.05 488.54L156.22 501.39L157.39 508.39L159.14 515.4L160.89 522.41L162.64 528.25L164.39 531.17L166.15 531.6L166.15 531.6Z" fill="none" stroke="#a3a3a3" stroke-width="0.6"/>
<path d="M127.02 531.6L127.02 531.6L128.77 527.08L129.94 522.41L131.11 511.9L132.28 501.39L133.09 493.21L134.03 496.72L135.2 492.04L136.36 487.37L137.53 488.54L138.7 490.88L139.87 487.37L141.04 483.87L142.2 480.36L143.37 477.45L144.31 479.2L145.12 485.04L146.29 483.87L147.46 483.28L148.63 485.04L149.8 483.87L150.96 485.04L152.13 488.54L153.3 489.71L154.47 485.62L155.64 485.04L156.45 492.04L157.15 502.55L157.97 511.9L159.14 515.4L160.89 522.41L162.64 528.25L164.39 531.17L166.15 531.6L166.15 531.6Z" fill="none" stroke="#e0843e" stroke-width="0.75"/>
<clipPath id="hc6"><path d="M211.85 531.6L211.85 531.6L213.61 524.74L214.77 508.39L215.94 490.88L216.76 476.86L217.69 468.69L218.63 473.36L219.8 480.36L221.2 485.04L222.95 492.04L224.7 501.39L226.45 504.89L228.2 508.39L230.54 513.07L232.88 517.74L235.21 522.41L238.13 527.08L241.05 531.6L241.05 531.6Z"/></clipPath>
<path d="M211.85 531.6L211.85 531.6L213.61 524.74L214.77 508.39L215.94 490.88L216.76 476.86L217.69 468.69L218.63 473.36L219.8 480.36L221.2 485.04L222.95 492.04L224.7 501.39L226.45 504.89L228.2 508.39L230.54 513.07L232.88 517.74L235.21 522.41L238.13 527.08L241.05 531.6L241.05 531.6Z" fill="#d7d7d7" stroke="none" stroke-width="1"/>
<path d="M211.85 531.6L211.85 531.6L213.61 525.91L214.77 508.39L215.94 488.54L216.88 474.53L217.69 473.36L218.86 476.86L220.03 481.53L221.2 483.87L222.36 483.87L223.53 489.71L225.28 496.72L227.04 499.05L228.79 502.55L231.12 504.89L232.88 506.06L234.63 510.73L236.38 514.23L238.13 517.74L239.88 520.07L241.64 522.41L243.39 527.08L245.72 530.58L249.23 531.6L249.23 531.6Z" fill="#f0c4a0" stroke="none" stroke-width="1"/>
<path d="M211.85 531.6L211.85 531.6L213.61 525.91L214.77 508.39L215.94 488.54L216.88 474.53L217.69 473.36L218.86 476.86L220.03 481.53L221.2 483.87L222.36 483.87L223.53 489.71L225.28 496.72L227.04 499.05L228.79 502.55L231.12 504.89L232.88 506.06L234.63 510.73L236.38 514.23L238.13 517.74L239.88 520.07L241.64 522.41L243.39 527.08L245.72 530.58L249.23 531.6L249.23 531.6Z" fill="#d6a67f" stroke="none" stroke-width="1" clip-path="url(#hc6)"/>
<path d="M211.85 531.6L211.85 531.6L213.61 524.74L214.77 508.39L215.94 490.88L216.76 476.86L217.69 468.69L218.63 473.36L219.8 480.36L221.2 485.04L222.95 492.04L224.7 501.39L226.45 504.89L228.2 508.39L230.54 513.07L232.88 517.74L235.21 522.41L238.13 527.08L241.05 531.6L241.05 531.6Z" fill="none" stroke="#a3a3a3" stroke-width="0.6"/>
<path d="M211.85 531.6L211.85 531.6L213.61 525.91L214.77 508.39L215.94 488.54L216.88 474.53L217.69 473.36L218.86 476.86L220.03 481.53L221.2 483.87L222.36 483.87L223.53 489.71L225.28 496.72L227.04 499.05L228.79 502.55L231.12 504.89L232.88 506.06L234.63 510.73L236.38 514.23L238.13 517.74L239.88 520.07L241.64 522.41L243.39 527.08L245.72 530.58L249.23 531.6L249.23 531.6Z" fill="none" stroke="#e0843e" stroke-width="0.75"/>
<clipPath id="hc7"><path d="M36.35 634.8L36.35 634.75L38.1 632.42L39.27 627.74L40.44 618.4L41.61 604.39L42.42 591.54L43.12 578.69L43.94 567.01L44.53 564.68L45.11 567.01L45.93 576.36L46.63 590.37L47.45 604.39L48.61 618.4L49.78 627.74L51.3 633.58L53.28 634.75L53.28 634.8Z"/></clipPath>
<path d="M36.35 634.8L36.35 634.75L38.1 632.42L39.27 627.74L40.44 618.4L41.61 604.39L42.42 591.54L43.12 578.69L43.94 567.01L44.53 564.68L45.11 567.01L45.93 576.36L46.63 590.37L47.45 604.39L48.61 618.4L49.78 627.74L51.3 633.58L53.28 634.75L53.28 634.8Z" fill="#d7d7d7" stroke="none" stroke-width="1"/>
<path d="M41.02 634.8L41.02 634.75L43.36 633.58L45.11 630.08L46.63 623.07L47.8 611.39L48.61 599.72L49.2 586.87L49.78 582.2L50.6 576.36L51.3 570.52L52.12 576.36L52.93 584.53L53.64 593.88L54.45 606.72L55.27 618.4L56.2 626.58L57.37 632.42L59.12 634.75L59.12 634.8Z" fill="#f0c4a0" stroke="none" stroke-width="1"/>
<path d="M41.02 634.8L41.02 634.75L43.36 633.58L45.11 630.08L46.63 623.07L47.8 611.39L48.61 599.72L49.2 586.87L49.78 582.2L50.6 576.36L51.3 570.52L52.12 576.36L52.93 584.53L53.64 593.88L54.45 606.72L55.27 618.4L56.2 626.58L57.37 632.42L59.12 634.75L59.12 634.8Z" fill="#d6a67f" stroke="none" stroke-width="1" clip-path="url(#hc7)"/>
<path d="M36.35 634.8L36.35 634.75L38.1 632.42L39.27 627.74L40.44 618.4L41.61 604.39L42.42 591.54L43.12 578.69L43.94 567.01L44.53 564.68L45.11 567.01L45.93 576.36L46.63 590.37L47.45 604.39L48.61 618.4L49.78 627.74L51.3 633.58L53.28 634.75L53.28 634.8Z" fill="none" stroke="#a3a3a3" stroke-width="0.6"/>
<path d="M41.02 634.8L41.02 634.75L43.36 633.58L45.11 630.08L46.63 623.07L47.8 611.39L48.61 599.72L49.2 586.87L49.78 582.2L50.6 576.36L51.3 570.52L52.12 576.36L52.93 584.53L53.64 593.88L54.45 606.72L55.27 618.4L56.2 626.58L57.37 632.42L59.12 634.75L59.12 634.8Z" fill="none" stroke="#e0843e" stroke-width="0.75"/>
<clipPath id="hc8"><path d="M125.85 634.8L125.85 634.75L127.61 631.25L129.36 623.07L130.53 611.39L131.69 599.72L132.63 590.37L133.8 585.7L134.96 588.04L136.13 597.38L137.3 609.06L138.47 620.74L139.87 630.08L141.62 634.17L143.37 634.75L143.37 634.8Z"/></clipPath>
<path d="M125.85 634.8L125.85 634.75L127.61 631.25L129.36 623.07L130.53 611.39L131.69 599.72L132.63 590.37L133.8 585.7L134.96 588.04L136.13 597.38L137.3 609.06L138.47 620.74L139.87 630.08L141.62 634.17L143.37 634.75L143.37 634.8Z" fill="#d7d7d7" stroke="none" stroke-width="1"/>
<path d="M126.44 634.8L126.44 634.75L128.19 632.42L129.94 627.74L131.11 618.4L132.28 605.55L133.45 595.04L134.61 588.04L135.43 582.2L136.13 581.03L136.95 584.53L137.77 593.88L138.7 605.55L139.87 618.4L141.04 627.74L142.44 633L144.54 634.75L144.54 634.8Z" fill="#f0c4a0" stroke="none" stroke-width="1"/>
<path d="M126.44 634.8L126.44 634.75L128.19 632.42L129.94 627.74L131.11 618.4L132.28 605.55L133.45 595.04L134.61 588.04L135.43 582.2L136.13 581.03L136.95 584.53L137.77 593.88L138.7 605.55L139.87 618.4L141.04 627.74L142.44 633L144.54 634.75L144.54 634.8Z" fill="#d6a67f" stroke="none" stroke-width="1" clip-path="url(#hc8)"/>
<path d="M125.85 634.8L125.85 634.75L127.61 631.25L129.36 623.07L130.53 611.39L131.69 599.72L132.63 590.37L133.8 585.7L134.96 588.04L136.13 597.38L137.3 609.06L138.47 620.74L139.87 630.08L141.62 634.17L143.37 634.75L143.37 634.8Z" fill="none" stroke="#a3a3a3" stroke-width="0.6"/>
<path d="M126.44 634.8L126.44 634.75L128.19 632.42L129.94 627.74L131.11 618.4L132.28 605.55L133.45 595.04L134.61 588.04L135.43 582.2L136.13 581.03L136.95 584.53L137.77 593.88L138.7 605.55L139.87 618.4L141.04 627.74L142.44 633L144.54 634.75L144.54 634.8Z" fill="none" stroke="#e0843e" stroke-width="0.75"/>
<clipPath id="hc9"><path d="M211.27 634.8L211.27 634.75L213.02 632.42L214.42 625.41L215.59 611.39L216.53 597.38L217.46 584.53L218.39 575.19L219.21 571.69L220.03 575.19L220.73 585.7L221.43 599.72L222.36 614.9L223.53 627.74L224.93 633.58L226.45 634.75L226.45 634.8Z"/></clipPath>
<path d="M211.27 634.8L211.27 634.75L213.02 632.42L214.42 625.41L215.59 611.39L216.53 597.38L217.46 584.53L218.39 575.19L219.21 571.69L220.03 575.19L220.73 585.7L221.43 599.72L222.36 614.9L223.53 627.74L224.93 633.58L226.45 634.75L226.45 634.8Z" fill="#d7d7d7" stroke="none" stroke-width="1"/>
<path d="M215.36 634.8L215.36 634.75L217.11 632.42L218.63 625.41L220.03 613.73L220.96 602.05L221.78 588.04L222.36 576.36L223.07 572.85L223.88 574.02L224.7 579.86L225.52 591.54L226.22 605.55L227.04 618.4L227.97 627.74L229.14 633L231.12 634.75L231.12 634.8Z" fill="#f0c4a0" stroke="none" stroke-width="1"/>
<path d="M215.36 634.8L215.36 634.75L217.11 632.42L218.63 625.41L220.03 613.73L220.96 602.05L221.78 588.04L222.36 576.36L223.07 572.85L223.88 574.02L224.7 579.86L225.52 591.54L226.22 605.55L227.04 618.4L227.97 627.74L229.14 633L231.12 634.75L231.12 634.8Z" fill="#d6a67f" stroke="none" stroke-width="1" clip-path="url(#hc9)"/>
<path d="M211.27 634.8L211.27 634.75L213.02 632.42L214.42 625.41L215.59 611.39L216.53 597.38L217.46 584.53L218.39 575.19L219.21 571.69L220.03 575.19L220.73 585.7L221.43 599.72L222.36 614.9L223.53 627.74L224.93 633.58L226.45 634.75L226.45 634.8Z" fill="none" stroke="#a3a3a3" stroke-width="0.6"/>
<path d="M215.36 634.8L215.36 634.75L217.11 632.42L218.63 625.41L220.03 613.73L220.96 602.05L221.78 588.04L222.36 576.36L223.07 572.85L223.88 574.02L224.7 579.86L225.52 591.54L226.22 605.55L227.04 618.4L227.97 627.74L229.14 633L231.12 634.75L231.12 634.8Z" fill="none" stroke="#e0843e" stroke-width="0.75"/>
<clipPath id="hc10"><path d="M52.7 738.4L52.7 738.4L55.04 734.08L57.37 724.74L59.71 713.06L61.46 701.38L62.98 687.36L64.38 678.02L65.78 676.85L66.48 675.69L67.3 680.36L68.12 687.36L69.28 697.88L70.45 710.72L71.97 722.4L73.72 730.58L76.06 736.42L78.39 738.4L78.39 738.4Z"/></clipPath>
<path d="M52.7 738.4L52.7 738.4L55.04 734.08L57.37 724.74L59.71 713.06L61.46 701.38L62.98 687.36L64.38 678.02L65.78 676.85L66.48 675.69L67.3 680.36L68.12 687.36L69.28 697.88L70.45 710.72L71.97 722.4L73.72 730.58L76.06 736.42L78.39 738.4L78.39 738.4Z" fill="#d7d7d7" stroke="none" stroke-width="1"/>
<path d="M37.52 738.4L37.52 738.4L41.02 737.82L44.53 737L47.45 735.25L49.78 733.5L51.53 731.74L53.28 728.24L55.04 723.57L57.37 717.73L59.71 711.89L61.46 703.72L63.21 694.37L64.96 687.36L66.13 685.03L67.3 682.69L68.47 683.28L69.64 681.53L70.45 679.19L71.39 682.69L72.32 680.94L73.14 678.61L74.31 683.86L75.12 687.36L76.06 686.78L77.23 689.7L78.39 692.04L79.56 696.71L80.73 700.8L81.9 706.05L83.07 710.72L84 715.39L85.17 722.4L86.57 729.41L88.32 735.25L90.07 737.58L92.41 738.4L92.41 738.4Z" fill="#f0c4a0" stroke="none" stroke-width="1"/>
<path d="M37.52 738.4L37.52 738.4L41.02 737.82L44.53 737L47.45 735.25L49.78 733.5L51.53 731.74L53.28 728.24L55.04 723.57L57.37 717.73L59.71 711.89L61.46 703.72L63.21 694.37L64.96 687.36L66.13 685.03L67.3 682.69L68.47 683.28L69.64 681.53L70.45 679.19L71.39 682.69L72.32 680.94L73.14 678.61L74.31 683.86L75.12 687.36L76.06 686.78L77.23 689.7L78.39 692.04L79.56 696.71L80.73 700.8L81.9 706.05L83.07 710.72L84 715.39L85.17 722.4L86.57 729.41L88.32 735.25L90.07 737.58L92.41 738.4L92.41 738.4Z" fill="#d6a67f" stroke="none" stroke-width="1" clip-path="url(#hc10)"/>
<path d="M52.7 738.4L52.7 738.4L55.04 734.08L57.37 724.74L59.71 713.06L61.46 701.38L62.98 687.36L64.38 678.02L65.78 676.85L66.48 675.69L67.3 680.36L68.12 687.36L69.28 697.88L70.45 710.72L71.97 722.4L73.72 730.58L76.06 736.42L78.39 738.4L78.39 738.4Z" fill="none" stroke="#a3a3a3" stroke-width="0.6"/>
<path d="M37.52 738.4L37.52 738.4L41.02 737.82L44.53 737L47.45 735.25L49.78 733.5L51.53 731.74L53.28 728.24L55.04 723.57L57.37 717.73L59.71 711.89L61.46 703.72L63.21 694.37L64.96 687.36L66.13 685.03L67.3 682.69L68.47 683.28L69.64 681.53L70.45 679.19L71.39 682.69L72.32 680.94L73.14 678.61L74.31 683.86L75.12 687.36L76.06 686.78L77.23 689.7L78.39 692.04L79.56 696.71L80.73 700.8L81.9 706.05L83.07 710.72L84 715.39L85.17 722.4L86.57 729.41L88.32 735.25L90.07 737.58L92.41 738.4L92.41 738.4Z" fill="none" stroke="#e0843e" stroke-width="0.75"/>
<clipPath id="hc11"><path d="M145.71 738.4L145.71 738.4L147.46 732.91L148.98 722.4L150.15 709.55L151.55 697.88L152.72 688.53L153.88 685.03L155.05 679.19L155.99 675.69L156.8 680.36L157.62 687.36L158.55 696.71L159.49 707.22L160.66 717.73L162.06 727.07L163.81 734.08L166.15 738.4L166.15 738.4Z"/></clipPath>
<path d="M145.71 738.4L145.71 738.4L147.46 732.91L148.98 722.4L150.15 709.55L151.55 697.88L152.72 688.53L153.88 685.03L155.05 679.19L155.99 675.69L156.8 680.36L157.62 687.36L158.55 696.71L159.49 707.22L160.66 717.73L162.06 727.07L163.81 734.08L166.15 738.4L166.15 738.4Z" fill="#d7d7d7" stroke="none" stroke-width="1"/>
<path d="M132.86 738.4L132.86 738.4L136.36 737.58L139.87 735.25L142.2 731.74L143.96 727.07L145.47 720.07L146.88 710.72L148.04 701.38L148.98 694.37L150.15 692.04L151.31 687.36L152.72 685.03L154.12 684.09L155.05 687.36L156.22 688.53L157.39 687.36L158.32 694.37L159.49 697.88L160.31 703.72L161.47 710.72L162.99 717.73L164.39 723.57L166.15 728.24L167.9 731.74L170 735.25L171.99 737.58L174.91 738.4L174.91 738.4Z" fill="#f0c4a0" stroke="none" stroke-width="1"/>
<path d="M132.86 738.4L132.86 738.4L136.36 737.58L139.87 735.25L142.2 731.74L143.96 727.07L145.47 720.07L146.88 710.72L148.04 701.38L148.98 694.37L150.15 692.04L151.31 687.36L152.72 685.03L154.12 684.09L155.05 687.36L156.22 688.53L157.39 687.36L158.32 694.37L159.49 697.88L160.31 703.72L161.47 710.72L162.99 717.73L164.39 723.57L166.15 728.24L167.9 731.74L170 735.25L171.99 737.58L174.91 738.4L174.91 738.4Z" fill="#d6a67f" stroke="none" stroke-width="1" clip-path="url(#hc11)"/>
<path d="M145.71 738.4L145.71 738.4L147.46 732.91L148.98 722.4L150.15 709.55L151.55 697.88L152.72 688.53L153.88 685.03L155.05 679.19L155.99 675.69L156.8 680.36L157.62 687.36L158.55 696.71L159.49 707.22L160.66 717.73L162.06 727.07L163.81 734.08L166.15 738.4L166.15 738.4Z" fill="none" stroke="#a3a3a3" stroke-width="0.6"/>
<path d="M132.86 738.4L132.86 738.4L136.36 737.58L139.87 735.25L142.2 731.74L143.96 727.07L145.47 720.07L146.88 710.72L148.04 701.38L148.98 694.37L150.15 692.04L151.31 687.36L152.72 685.03L154.12 684.09L155.05 687.36L156.22 688.53L157.39 687.36L158.32 694.37L159.49 697.88L160.31 703.72L161.47 710.72L162.99 717.73L164.39 723.57L166.15 728.24L167.9 731.74L170 735.25L171.99 737.58L174.91 738.4L174.91 738.4Z" fill="none" stroke="#e0843e" stroke-width="0.75"/>
<clipPath id="hc12"><path d="M204.85 738.4L204.85 738.4L209.52 737.58L213.02 735.25L216.53 729.41L219.45 722.4L221.78 713.06L223.53 703.72L225.28 694.37L227.04 687.36L228.2 683.86L229.37 681.53L230.54 680.36L231.71 675.69L232.64 680.36L233.46 682.11L234.28 679.19L235.21 683.86L236.15 685.03L236.96 689.7L237.78 694.37L238.72 703.72L240.47 709.55L242.22 715.39L243.97 722.4L245.72 728.24L248.06 732.91L250.39 737.58L252.73 738.4L252.73 738.4Z"/></clipPath>
<path d="M204.85 738.4L204.85 738.4L209.52 737.58L213.02 735.25L216.53 729.41L219.45 722.4L221.78 713.06L223.53 703.72L225.28 694.37L227.04 687.36L228.2 683.86L229.37 681.53L230.54 680.36L231.71 675.69L232.64 680.36L233.46 682.11L234.28 679.19L235.21 683.86L236.15 685.03L236.96 689.7L237.78 694.37L238.72 703.72L240.47 709.55L242.22 715.39L243.97 722.4L245.72 728.24L248.06 732.91L250.39 737.58L252.73 738.4L252.73 738.4Z" fill="#d7d7d7" stroke="none" stroke-width="1"/>
<path d="M204.85 738.4L204.85 738.4L208.35 737.58L211.85 735.83L214.77 730.58L217.69 723.57L220.03 716.56L222.13 708.39L223.53 701.38L224.47 692.04L225.28 682.69L226.1 685.03L227.04 690.87L228.2 686.2L229.14 690.87L230.31 694.37L231.47 689.7L232.64 687.36L233.58 692.04L234.28 695.54L235.21 693.79L236.38 694.37L237.55 699.04L238.72 701.96L239.88 702.55L241.05 704.88L242.22 706.05L243.39 710.72L244.55 715.39L245.72 718.9L246.89 723.57L248.06 728.24L249.23 730.58L250.98 734.08L252.73 737.58L255.07 738.4L255.07 738.4Z" fill="#f0c4a0" stroke="none" stroke-width="1"/>
<path d="M204.85 738.4L204.85 738.4L208.35 737.58L211.85 735.83L214.77 730.58L217.69 723.57L220.03 716.56L222.13 708.39L223.53 701.38L224.47 692.04L225.28 682.69L226.1 685.03L227.04 690.87L228.2 686.2L229.14 690.87L230.31 694.37L231.47 689.7L232.64 687.36L233.58 692.04L234.28 695.54L235.21 693.79L236.38 694.37L237.55 699.04L238.72 701.96L239.88 702.55L241.05 704.88L242.22 706.05L243.39 710.72L244.55 715.39L245.72 718.9L246.89 723.57L248.06 728.24L249.23 730.58L250.98 734.08L252.73 737.58L255.07 738.4L255.07 738.4Z" fill="#d6a67f" stroke="none" stroke-width="1" clip-path="url(#hc12)"/>
<path d="M204.85 738.4L204.85 738.4L209.52 737.58L213.02 735.25L216.53 729.41L219.45 722.4L221.78 713.06L223.53 703.72L225.28 694.37L227.04 687.36L228.2 683.86L229.37 681.53L230.54 680.36L231.71 675.69L232.64 680.36L233.46 682.11L234.28 679.19L235.21 683.86L236.15 685.03L236.96 689.7L237.78 694.37L238.72 703.72L240.47 709.55L242.22 715.39L243.97 722.4L245.72 728.24L248.06 732.91L250.39 737.58L252.73 738.4L252.73 738.4Z" fill="none" stroke="#a3a3a3" stroke-width="0.6"/>
<path d="M204.85 738.4L204.85 738.4L208.35 737.58L211.85 735.83L214.77 730.58L217.69 723.57L220.03 716.56L222.13 708.39L223.53 701.38L224.47 692.04L225.28 682.69L226.1 685.03L227.04 690.87L228.2 686.2L229.14 690.87L230.31 694.37L231.47 689.7L232.64 687.36L233.58 692.04L234.28 695.54L235.21 693.79L236.38 694.37L237.55 699.04L238.72 701.96L239.88 702.55L241.05 704.88L242.22 706.05L243.39 710.72L244.55 715.39L245.72 718.9L246.89 723.57L248.06 728.24L249.23 730.58L250.98 734.08L252.73 737.58L255.07 738.4L255.07 738.4Z" fill="none" stroke="#e0843e" stroke-width="0.75"/>
<text x="0" y="0" font-size="10.2" text-anchor="end" fill="#111" stroke="#111" stroke-width="0.12" transform="translate(98.6 469.4) scale(0.93 1)">1127</text>
<text x="0" y="0" font-size="10.2" text-anchor="end" fill="#dd7a2e" stroke="#dd7a2e" stroke-width="0.12" transform="translate(98.6 481.1) scale(0.93 1)">1192</text>
<text x="0" y="0" font-size="10.2" text-anchor="end" fill="#111" stroke="#111" stroke-width="0.12" transform="translate(184.6 469.4) scale(0.93 1)">1945</text>
<text x="0" y="0" font-size="10.2" text-anchor="end" fill="#dd7a2e" stroke="#dd7a2e" stroke-width="0.12" transform="translate(184.6 481.1) scale(0.93 1)">1464</text>
<text x="0" y="0" font-size="10.2" text-anchor="end" fill="#111" stroke="#111" stroke-width="0.12" transform="translate(270.6 469.4) scale(0.93 1)">560</text>
<text x="0" y="0" font-size="10.2" text-anchor="end" fill="#dd7a2e" stroke="#dd7a2e" stroke-width="0.12" transform="translate(270.6 481.1) scale(0.93 1)">746</text>
<text x="0" y="0" font-size="10.2" text-anchor="end" fill="#111" stroke="#111" stroke-width="0.12" transform="translate(98.6 572.6) scale(0.93 1)">128</text>
<text x="0" y="0" font-size="10.2" text-anchor="end" fill="#dd7a2e" stroke="#dd7a2e" stroke-width="0.12" transform="translate(98.6 584.3) scale(0.93 1)">303</text>
<text x="0" y="0" font-size="10.2" text-anchor="end" fill="#111" stroke="#111" stroke-width="0.12" transform="translate(184.6 572.6) scale(0.93 1)">247</text>
<text x="0" y="0" font-size="10.2" text-anchor="end" fill="#dd7a2e" stroke="#dd7a2e" stroke-width="0.12" transform="translate(184.6 584.3) scale(0.93 1)">292</text>
<text x="0" y="0" font-size="10.2" text-anchor="end" fill="#111" stroke="#111" stroke-width="0.12" transform="translate(270.6 572.6) scale(0.93 1)">174</text>
<text x="0" y="0" font-size="10.2" text-anchor="end" fill="#dd7a2e" stroke="#dd7a2e" stroke-width="0.12" transform="translate(270.6 584.3) scale(0.93 1)">300</text>
<text x="0" y="0" font-size="10.2" text-anchor="end" fill="#111" stroke="#111" stroke-width="0.12" transform="translate(98.6 676.4) scale(0.93 1)">2249</text>
<text x="0" y="0" font-size="10.2" text-anchor="end" fill="#dd7a2e" stroke="#dd7a2e" stroke-width="0.12" transform="translate(98.6 688.1) scale(0.93 1)">3960</text>
<text x="0" y="0" font-size="10.2" text-anchor="end" fill="#111" stroke="#111" stroke-width="0.12" transform="translate(184.6 676.4) scale(0.93 1)">3226</text>
<text x="0" y="0" font-size="10.2" text-anchor="end" fill="#dd7a2e" stroke="#dd7a2e" stroke-width="0.12" transform="translate(184.6 688.1) scale(0.93 1)">3069</text>
<text x="0" y="0" font-size="10.2" text-anchor="end" fill="#111" stroke="#111" stroke-width="0.12" transform="translate(270.6 676.4) scale(0.93 1)">1159</text>
<text x="0" y="0" font-size="10.2" text-anchor="end" fill="#dd7a2e" stroke="#dd7a2e" stroke-width="0.12" transform="translate(270.6 688.1) scale(0.93 1)">1188</text>
<line x1="13.4" y1="461" x2="13.4" y2="509" stroke="#222" stroke-width="0.9"/>
<path d="M13.4 457L11.4 463L15.4 463Z" fill="#111" stroke="none" stroke-width="1"/>
<text x="0" y="0" font-size="10.2" text-anchor="middle" fill="#111" stroke="#111" stroke-width="0.12" transform="translate(16.3 522) rotate(-90) scale(0.93 1)">Cells</text>
<line x1="13.4" y1="563.5" x2="13.4" y2="611" stroke="#222" stroke-width="0.9"/>
<path d="M13.4 559.5L11.4 565.5L15.4 565.5Z" fill="#111" stroke="none" stroke-width="1"/>
<text x="0" y="0" font-size="10.2" text-anchor="middle" fill="#111" stroke="#111" stroke-width="0.12" transform="translate(16.3 624.5) rotate(-90) scale(0.93 1)">Cells</text>
<line x1="13.4" y1="667.5" x2="13.4" y2="714" stroke="#222" stroke-width="0.9"/>
<path d="M13.4 663.5L11.4 669.5L15.4 669.5Z" fill="#111" stroke="none" stroke-width="1"/>
<text x="0" y="0" font-size="10.2" text-anchor="middle" fill="#111" stroke="#111" stroke-width="0.12" transform="translate(16.3 727.5) rotate(-90) scale(0.93 1)">Cells</text>
<text x="0" y="0" font-size="10.2" fill="#111" stroke="#111" stroke-width="0.12" transform="translate(22.6 551.6) scale(0.96 1)">HLA-DR-APC-H7</text>
<line x1="101" y1="547.4" x2="270.5" y2="547.4" stroke="#222" stroke-width="0.9"/>
<path d="M274.5 547.4L268.5 545.4L268.5 549.4Z" fill="#111" stroke="none" stroke-width="1"/>
<text x="0" y="0" font-size="10.2" fill="#111" stroke="#111" stroke-width="0.12" transform="translate(24 653) scale(0.96 1)">CD80-FITC</text>
<line x1="77" y1="651" x2="270.5" y2="651" stroke="#222" stroke-width="0.9"/>
<path d="M274.5 651L268.5 649L268.5 653Z" fill="#111" stroke="none" stroke-width="1"/>
<text x="0" y="0" font-size="10.2" fill="#111" stroke="#111" stroke-width="0.12" transform="translate(24.4 757) scale(0.96 1)">CD86-APC</text>
<line x1="75.6" y1="754.4" x2="270.5" y2="754.4" stroke="#222" stroke-width="0.9"/>
<path d="M274.5 754.4L268.5 752.4L268.5 756.4Z" fill="#111" stroke="none" stroke-width="1"/>
<text x="0" y="0" font-size="14.5" font-weight="bold" fill="#111" transform="translate(313.2 650.5)">k</text>
<path d="M328.8 663.4H404.8V738.4" fill="none" stroke="#aaa" stroke-width="0.7"/>
<line x1="328.8" y1="663.4" x2="328.8" y2="738.4" stroke="#888" stroke-width="0.6"/>
<line x1="328.8" y1="738.4" x2="404.8" y2="738.4" stroke="#888" stroke-width="0.6"/>
<text x="0" y="0" font-size="3" text-anchor="end" fill="#555" transform="translate(326.2 668.6) scale(0.93 1)">100</text>
<text x="0" y="0" font-size="3" text-anchor="end" fill="#555" transform="translate(326.2 682.7) scale(0.93 1)">80</text>
<text x="0" y="0" font-size="3" text-anchor="end" fill="#555" transform="translate(326.2 696.8) scale(0.93 1)">60</text>
<text x="0" y="0" font-size="3" text-anchor="end" fill="#555" transform="translate(326.2 710.9) scale(0.93 1)">40</text>
<text x="0" y="0" font-size="3" text-anchor="end" fill="#555" transform="translate(326.2 725) scale(0.93 1)">20</text>
<text x="0" y="0" font-size="3" text-anchor="end" fill="#555" transform="translate(326.2 739.1) scale(0.93 1)">0</text>
<text x="0" y="0" font-size="3" text-anchor="middle" fill="#555" transform="translate(335.3 744.4) scale(0.93 1)">-10<tspan dy="-1.2" font-size="2.2">2</tspan></text>
<text x="0" y="0" font-size="3" text-anchor="middle" fill="#555" transform="translate(347.3 744.4) scale(0.93 1)">0</text>
<text x="0" y="0" font-size="3" text-anchor="middle" fill="#555" transform="translate(360.8 744.4) scale(0.93 1)">10<tspan dy="-1.2" font-size="2.2">3</tspan></text>
<text x="0" y="0" font-size="3" text-anchor="middle" fill="#555" transform="translate(381.3 744.4) scale(0.93 1)">10<tspan dy="-1.2" font-size="2.2">4</tspan></text>
<text x="0" y="0" font-size="3" text-anchor="middle" fill="#555" transform="translate(399.3 744.4) scale(0.93 1)">10<tspan dy="-1.2" font-size="2.2">5</tspan></text>
<path d="M327.2 667.5h1.6M328 671h0.8M328 674.5h0.8M328 678h0.8M327.2 681.6h1.6M328 685.1h0.8M328 688.6h0.8M328 692.1h0.8M327.2 695.7h1.6M328 699.2h0.8M328 702.7h0.8M328 706.2h0.8M327.2 709.8h1.6M328 713.3h0.8M328 716.8h0.8M328 720.3h0.8M327.2 723.9h1.6M328 727.4h0.8M328 730.9h0.8M328 734.4h0.8M327.2 738h1.6M335.3 738.4v1.6M347.3 738.4v1.6M360.8 738.4v1.6M381.3 738.4v1.6M399.3 738.4v1.6M336.8 738.4v0.9M338 738.4v0.9M339.2 738.4v0.9M340.4 738.4v0.9M341.6 738.4v0.9M342.8 738.4v0.9M344 738.4v0.9M345.2 738.4v0.9M353.8 738.4v0.9M356.8 738.4v0.9M358.8 738.4v0.9M370.8 738.4v0.9M374.8 738.4v0.9M377.8 738.4v0.9M379.8 738.4v0.9M388.8 738.4v0.9M392.8 738.4v0.9M395.8 738.4v0.9M397.8 738.4v0.9" stroke="#666" stroke-width="0.45" fill="none"/>
<ellipse cx="345.8" cy="739.3" rx="1.9" ry="0.9" fill="#111" filter="url(#soft)"/>
<text x="0" y="0" font-size="10.2" text-anchor="middle" fill="#111" stroke="#111" stroke-width="0.12" transform="translate(367 660.4) scale(0.93 1)">Healthy</text>
<path d="M422.4 663.4H498.4V738.4" fill="none" stroke="#aaa" stroke-width="0.7"/>
<line x1="422.4" y1="663.4" x2="422.4" y2="738.4" stroke="#888" stroke-width="0.6"/>
<line x1="422.4" y1="738.4" x2="498.4" y2="738.4" stroke="#888" stroke-width="0.6"/>
<text x="0" y="0" font-size="3" text-anchor="end" fill="#555" transform="translate(419.8 668.6) scale(0.93 1)">100</text>
<text x="0" y="0" font-size="3" text-anchor="end" fill="#555" transform="translate(419.8 682.7) scale(0.93 1)">80</text>
<text x="0" y="0" font-size="3" text-anchor="end" fill="#555" transform="translate(419.8 696.8) scale(0.93 1)">60</text>
<text x="0" y="0" font-size="3" text-anchor="end" fill="#555" transform="translate(419.8 710.9) scale(0.93 1)">40</text>
<text x="0" y="0" font-size="3" text-anchor="end" fill="#555" transform="translate(419.8 725) scale(0.93 1)">20</text>
<text x="0" y="0" font-size="3" text-anchor="end" fill="#555" transform="translate(419.8 739.1) scale(0.93 1)">0</text>
<text x="0" y="0" font-size="3" text-anchor="middle" fill="#555" transform="translate(428.9 744.4) scale(0.93 1)">-10<tspan dy="-1.2" font-size="2.2">2</tspan></text>
<text x="0" y="0" font-size="3" text-anchor="middle" fill="#555" transform="translate(440.9 744.4) scale(0.93 1)">0</text>
<text x="0" y="0" font-size="3" text-anchor="middle" fill="#555" transform="translate(454.4 744.4) scale(0.93 1)">10<tspan dy="-1.2" font-size="2.2">3</tspan></text>
<text x="0" y="0" font-size="3" text-anchor="middle" fill="#555" transform="translate(474.9 744.4) scale(0.93 1)">10<tspan dy="-1.2" font-size="2.2">4</tspan></text>
<text x="0" y="0" font-size="3" text-anchor="middle" fill="#555" transform="translate(492.9 744.4) scale(0.93 1)">10<tspan dy="-1.2" font-size="2.2">5</tspan></text>
<path d="M420.8 667.5h1.6M421.6 671h0.8M421.6 674.5h0.8M421.6 678h0.8M420.8 681.6h1.6M421.6 685.1h0.8M421.6 688.6h0.8M421.6 692.1h0.8M420.8 695.7h1.6M421.6 699.2h0.8M421.6 702.7h0.8M421.6 706.2h0.8M420.8 709.8h1.6M421.6 713.3h0.8M421.6 716.8h0.8M421.6 720.3h0.8M420.8 723.9h1.6M421.6 727.4h0.8M421.6 730.9h0.8M421.6 734.4h0.8M420.8 738h1.6M428.9 738.4v1.6M440.9 738.4v1.6M454.4 738.4v1.6M474.9 738.4v1.6M492.9 738.4v1.6M430.4 738.4v0.9M431.6 738.4v0.9M432.8 738.4v0.9M434 738.4v0.9M435.2 738.4v0.9M436.4 738.4v0.9M437.6 738.4v0.9M438.8 738.4v0.9M447.4 738.4v0.9M450.4 738.4v0.9M452.4 738.4v0.9M464.4 738.4v0.9M468.4 738.4v0.9M471.4 738.4v0.9M473.4 738.4v0.9M482.4 738.4v0.9M486.4 738.4v0.9M489.4 738.4v0.9M491.4 738.4v0.9" stroke="#666" stroke-width="0.45" fill="none"/>
<ellipse cx="439.4" cy="739.3" rx="1.9" ry="0.9" fill="#111" filter="url(#soft)"/>
<text x="0" y="0" font-size="10.2" text-anchor="middle" fill="#111" stroke="#111" stroke-width="0.12" transform="translate(458 660.4) scale(0.93 1)">Mild</text>
<path d="M515.3 663.4H591.3V738.4" fill="none" stroke="#aaa" stroke-width="0.7"/>
<line x1="515.3" y1="663.4" x2="515.3" y2="738.4" stroke="#888" stroke-width="0.6"/>
<line x1="515.3" y1="738.4" x2="591.3" y2="738.4" stroke="#888" stroke-width="0.6"/>
<text x="0" y="0" font-size="3" text-anchor="end" fill="#555" transform="translate(512.7 668.6) scale(0.93 1)">100</text>
<text x="0" y="0" font-size="3" text-anchor="end" fill="#555" transform="translate(512.7 682.7) scale(0.93 1)">80</text>
<text x="0" y="0" font-size="3" text-anchor="end" fill="#555" transform="translate(512.7 696.8) scale(0.93 1)">60</text>
<text x="0" y="0" font-size="3" text-anchor="end" fill="#555" transform="translate(512.7 710.9) scale(0.93 1)">40</text>
<text x="0" y="0" font-size="3" text-anchor="end" fill="#555" transform="translate(512.7 725) scale(0.93 1)">20</text>
<text x="0" y="0" font-size="3" text-anchor="end" fill="#555" transform="translate(512.7 739.1) scale(0.93 1)">0</text>
<text x="0" y="0" font-size="3" text-anchor="middle" fill="#555" transform="translate(521.8 744.4) scale(0.93 1)">-10<tspan dy="-1.2" font-size="2.2">2</tspan></text>
<text x="0" y="0" font-size="3" text-anchor="middle" fill="#555" transform="translate(533.8 744.4) scale(0.93 1)">0</text>
<text x="0" y="0" font-size="3" text-anchor="middle" fill="#555" transform="translate(547.3 744.4) scale(0.93 1)">10<tspan dy="-1.2" font-size="2.2">3</tspan></text>
<text x="0" y="0" font-size="3" text-anchor="middle" fill="#555" transform="translate(567.8 744.4) scale(0.93 1)">10<tspan dy="-1.2" font-size="2.2">4</tspan></text>
<text x="0" y="0" font-size="3" text-anchor="middle" fill="#555" transform="translate(585.8 744.4) scale(0.93 1)">10<tspan dy="-1.2" font-size="2.2">5</tspan></text>
<path d="M513.7 667.5h1.6M514.5 671h0.8M514.5 674.5h0.8M514.5 678h0.8M513.7 681.6h1.6M514.5 685.1h0.8M514.5 688.6h0.8M514.5 692.1h0.8M513.7 695.7h1.6M514.5 699.2h0.8M514.5 702.7h0.8M514.5 706.2h0.8M513.7 709.8h1.6M514.5 713.3h0.8M514.5 716.8h0.8M514.5 720.3h0.8M513.7 723.9h1.6M514.5 727.4h0.8M514.5 730.9h0.8M514.5 734.4h0.8M513.7 738h1.6M521.8 738.4v1.6M533.8 738.4v1.6M547.3 738.4v1.6M567.8 738.4v1.6M585.8 738.4v1.6M523.3 738.4v0.9M524.5 738.4v0.9M525.7 738.4v0.9M526.9 738.4v0.9M528.1 738.4v0.9M529.3 738.4v0.9M530.5 738.4v0.9M531.7 738.4v0.9M540.3 738.4v0.9M543.3 738.4v0.9M545.3 738.4v0.9M557.3 738.4v0.9M561.3 738.4v0.9M564.3 738.4v0.9M566.3 738.4v0.9M575.3 738.4v0.9M579.3 738.4v0.9M582.3 738.4v0.9M584.3 738.4v0.9" stroke="#666" stroke-width="0.45" fill="none"/>
<ellipse cx="532.3" cy="739.3" rx="1.9" ry="0.9" fill="#111" filter="url(#soft)"/>
<text x="0" y="0" font-size="10.2" text-anchor="middle" fill="#111" stroke="#111" stroke-width="0.12" transform="translate(551.3 660.4) scale(0.93 1)">Moderate</text>
<clipPath id="hc13"><path d="M344.77 738.4L344.77 738.4L346.53 732.91L348.28 727.07L350.03 722.4L351.43 720.07L352.6 721.23L354.12 723.57L355.28 721.23L356.8 724.74L358.2 723.57L359.61 724.74L361.71 721.23L364.04 717.73L365.8 715.39L366.96 710.72L368.13 703.72L369.3 696.71L370.82 689.7L371.99 682.69L372.8 676.85L373.97 674.52L374.79 671.01L375.72 675.69L376.66 683.86L377.47 690.87L378.64 699.04L379.46 707.22L380.39 716.56L381.56 724.74L382.73 731.74L384.13 736.42L385.65 738.4L385.65 738.4Z"/></clipPath>
<path d="M344.77 738.4L344.77 738.4L346.53 732.91L348.28 727.07L350.03 722.4L351.43 720.07L352.6 721.23L354.12 723.57L355.28 721.23L356.8 724.74L358.2 723.57L359.61 724.74L361.71 721.23L364.04 717.73L365.8 715.39L366.96 710.72L368.13 703.72L369.3 696.71L370.82 689.7L371.99 682.69L372.8 676.85L373.97 674.52L374.79 671.01L375.72 675.69L376.66 683.86L377.47 690.87L378.64 699.04L379.46 707.22L380.39 716.56L381.56 724.74L382.73 731.74L384.13 736.42L385.65 738.4L385.65 738.4Z" fill="#d7d7d7" stroke="none" stroke-width="1"/>
<path d="M344.77 738.4L344.77 738.4L347.11 736.42L349.45 735.25L352.36 735.25L355.28 734.08L358.2 734.31L360.54 734.66L362.88 734.08L365.21 731.74L368.13 730.58L370.47 729.41L372.22 725.91L373.39 722.4L375.14 718.9L376.31 715.39L377.12 709.55L378.06 703.72L378.99 697.88L379.81 689.7L380.63 680.36L381.56 675.69L382.73 676.85L383.9 679.19L384.83 681.53L385.65 692.04L386.23 703.72L386.93 715.39L387.64 727.07L388.57 734.08L389.74 737.58L391.49 738.4L391.49 738.4Z" fill="#f0c4a0" stroke="none" stroke-width="1"/>
<path d="M344.77 738.4L344.77 738.4L347.11 736.42L349.45 735.25L352.36 735.25L355.28 734.08L358.2 734.31L360.54 734.66L362.88 734.08L365.21 731.74L368.13 730.58L370.47 729.41L372.22 725.91L373.39 722.4L375.14 718.9L376.31 715.39L377.12 709.55L378.06 703.72L378.99 697.88L379.81 689.7L380.63 680.36L381.56 675.69L382.73 676.85L383.9 679.19L384.83 681.53L385.65 692.04L386.23 703.72L386.93 715.39L387.64 727.07L388.57 734.08L389.74 737.58L391.49 738.4L391.49 738.4Z" fill="#d6a67f" stroke="none" stroke-width="1" clip-path="url(#hc13)"/>
<path d="M344.77 738.4L344.77 738.4L346.53 732.91L348.28 727.07L350.03 722.4L351.43 720.07L352.6 721.23L354.12 723.57L355.28 721.23L356.8 724.74L358.2 723.57L359.61 724.74L361.71 721.23L364.04 717.73L365.8 715.39L366.96 710.72L368.13 703.72L369.3 696.71L370.82 689.7L371.99 682.69L372.8 676.85L373.97 674.52L374.79 671.01L375.72 675.69L376.66 683.86L377.47 690.87L378.64 699.04L379.46 707.22L380.39 716.56L381.56 724.74L382.73 731.74L384.13 736.42L385.65 738.4L385.65 738.4Z" fill="none" stroke="#a3a3a3" stroke-width="0.6"/>
<path d="M344.77 738.4L344.77 738.4L347.11 736.42L349.45 735.25L352.36 735.25L355.28 734.08L358.2 734.31L360.54 734.66L362.88 734.08L365.21 731.74L368.13 730.58L370.47 729.41L372.22 725.91L373.39 722.4L375.14 718.9L376.31 715.39L377.12 709.55L378.06 703.72L378.99 697.88L379.81 689.7L380.63 680.36L381.56 675.69L382.73 676.85L383.9 679.19L384.83 681.53L385.65 692.04L386.23 703.72L386.93 715.39L387.64 727.07L388.57 734.08L389.74 737.58L391.49 738.4L391.49 738.4Z" fill="none" stroke="#e0843e" stroke-width="0.75"/>
<clipPath id="hc14"><path d="M437.02 738.4L437.02 738.4L438.77 735.25L439.94 729.41L441.11 715.39L442.28 701.38L443.45 689.7L444.61 680.36L445.78 678.61L446.95 682.69L447.77 690.87L448.7 703.72L449.87 715.39L451.04 724.74L452.44 729.41L453.96 729.99L455.71 729.41L458.04 728.82L460.38 727.07L462.72 725.91L465.05 720.07L467.39 715.39L469.14 708.39L470.31 703.72L471.82 696.71L472.99 688.53L474.16 682.69L475.56 678.02L476.73 675.69L477.66 677.44L478.48 680.36L479.3 687.36L480 697.88L480.82 709.55L481.64 722.4L482.57 731.74L483.74 737.58L484.91 738.4L484.91 738.4Z"/></clipPath>
<path d="M437.02 738.4L437.02 738.4L438.77 735.25L439.94 729.41L441.11 715.39L442.28 701.38L443.45 689.7L444.61 680.36L445.78 678.61L446.95 682.69L447.77 690.87L448.7 703.72L449.87 715.39L451.04 724.74L452.44 729.41L453.96 729.99L455.71 729.41L458.04 728.82L460.38 727.07L462.72 725.91L465.05 720.07L467.39 715.39L469.14 708.39L470.31 703.72L471.82 696.71L472.99 688.53L474.16 682.69L475.56 678.02L476.73 675.69L477.66 677.44L478.48 680.36L479.3 687.36L480 697.88L480.82 709.55L481.64 722.4L482.57 731.74L483.74 737.58L484.91 738.4L484.91 738.4Z" fill="#d7d7d7" stroke="none" stroke-width="1"/>
<path d="M436.44 738.4L436.44 738.4L438.19 736.42L439.94 732.91L441.69 730.58L443.45 728.82L445.78 728.24L447.53 728.82L449.28 729.41L451.04 729.99L452.79 731.74L453.96 732.68L455.12 730.58L456.88 729.99L459.21 728.24L460.96 726.49L462.72 727.07L463.88 724.74L465.05 721.23L466.22 718.9L467.39 717.73L468.55 713.06L469.72 707.22L470.89 703.72L471.82 699.04L472.64 692.04L473.46 683.86L474.16 681.53L474.98 683.86L475.8 687.36L476.5 685.03L477.31 688.53L478.13 692.04L478.83 701.38L479.65 711.89L480.47 722.4L481.4 731.74L482.57 737.58L484.32 738.4L484.32 738.4Z" fill="#f0c4a0" stroke="none" stroke-width="1"/>
<path d="M436.44 738.4L436.44 738.4L438.19 736.42L439.94 732.91L441.69 730.58L443.45 728.82L445.78 728.24L447.53 728.82L449.28 729.41L451.04 729.99L452.79 731.74L453.96 732.68L455.12 730.58L456.88 729.99L459.21 728.24L460.96 726.49L462.72 727.07L463.88 724.74L465.05 721.23L466.22 718.9L467.39 717.73L468.55 713.06L469.72 707.22L470.89 703.72L471.82 699.04L472.64 692.04L473.46 683.86L474.16 681.53L474.98 683.86L475.8 687.36L476.5 685.03L477.31 688.53L478.13 692.04L478.83 701.38L479.65 711.89L480.47 722.4L481.4 731.74L482.57 737.58L484.32 738.4L484.32 738.4Z" fill="#d6a67f" stroke="none" stroke-width="1" clip-path="url(#hc14)"/>
<path d="M437.02 738.4L437.02 738.4L438.77 735.25L439.94 729.41L441.11 715.39L442.28 701.38L443.45 689.7L444.61 680.36L445.78 678.61L446.95 682.69L447.77 690.87L448.7 703.72L449.87 715.39L451.04 724.74L452.44 729.41L453.96 729.99L455.71 729.41L458.04 728.82L460.38 727.07L462.72 725.91L465.05 720.07L467.39 715.39L469.14 708.39L470.31 703.72L471.82 696.71L472.99 688.53L474.16 682.69L475.56 678.02L476.73 675.69L477.66 677.44L478.48 680.36L479.3 687.36L480 697.88L480.82 709.55L481.64 722.4L482.57 731.74L483.74 737.58L484.91 738.4L484.91 738.4Z" fill="none" stroke="#a3a3a3" stroke-width="0.6"/>
<path d="M436.44 738.4L436.44 738.4L438.19 736.42L439.94 732.91L441.69 730.58L443.45 728.82L445.78 728.24L447.53 728.82L449.28 729.41L451.04 729.99L452.79 731.74L453.96 732.68L455.12 730.58L456.88 729.99L459.21 728.24L460.96 726.49L462.72 727.07L463.88 724.74L465.05 721.23L466.22 718.9L467.39 717.73L468.55 713.06L469.72 707.22L470.89 703.72L471.82 699.04L472.64 692.04L473.46 683.86L474.16 681.53L474.98 683.86L475.8 687.36L476.5 685.03L477.31 688.53L478.13 692.04L478.83 701.38L479.65 711.89L480.47 722.4L481.4 731.74L482.57 737.58L484.32 738.4L484.32 738.4Z" fill="none" stroke="#e0843e" stroke-width="0.75"/>
<clipPath id="hc15"><path d="M527.52 738.4L527.52 738.4L529.27 736.42L531.02 731.74L532.77 722.4L533.94 709.55L535.11 699.04L536.28 686.2L537.45 674.52L538.61 682.69L539.78 694.37L540.95 703.72L542.12 711.89L543.28 717.73L545.04 722.4L546.79 724.74L548.31 725.32L549.71 722.99L551.46 721.23L553.21 717.73L554.96 715.98L556.72 713.06L558.12 710.72L559.64 706.05L561.39 700.21L562.55 697.88L563.72 700.21L564.89 702.55L566.06 703.72L567.23 710.72L568.39 715.39L569.56 722.4L570.73 729.41L572.48 735.25L574.23 738.4L574.23 738.4Z"/></clipPath>
<path d="M527.52 738.4L527.52 738.4L529.27 736.42L531.02 731.74L532.77 722.4L533.94 709.55L535.11 699.04L536.28 686.2L537.45 674.52L538.61 682.69L539.78 694.37L540.95 703.72L542.12 711.89L543.28 717.73L545.04 722.4L546.79 724.74L548.31 725.32L549.71 722.99L551.46 721.23L553.21 717.73L554.96 715.98L556.72 713.06L558.12 710.72L559.64 706.05L561.39 700.21L562.55 697.88L563.72 700.21L564.89 702.55L566.06 703.72L567.23 710.72L568.39 715.39L569.56 722.4L570.73 729.41L572.48 735.25L574.23 738.4L574.23 738.4Z" fill="#d7d7d7" stroke="none" stroke-width="1"/>
<path d="M528.69 738.4L528.69 738.4L531.02 737.58L532.77 735.25L533.94 731.74L535.11 729.41L536.86 729.18L538.61 729.41L540.13 731.16L542.12 732.33L544.45 731.74L546.79 732.33L548.54 730.58L550.29 728.24L552.04 725.91L553.45 723.57L554.96 722.4L556.48 718.9L557.65 713.06L559.05 704.88L560.22 696.71L561.39 688.53L562.32 681.53L563.14 680.36L563.96 682.69L564.89 683.28L565.82 689.7L566.64 699.04L567.46 709.55L568.39 721.23L569.33 729.41L570.5 735.25L571.9 737.58L573.65 738.4L573.65 738.4Z" fill="#f0c4a0" stroke="none" stroke-width="1"/>
<path d="M528.69 738.4L528.69 738.4L531.02 737.58L532.77 735.25L533.94 731.74L535.11 729.41L536.86 729.18L538.61 729.41L540.13 731.16L542.12 732.33L544.45 731.74L546.79 732.33L548.54 730.58L550.29 728.24L552.04 725.91L553.45 723.57L554.96 722.4L556.48 718.9L557.65 713.06L559.05 704.88L560.22 696.71L561.39 688.53L562.32 681.53L563.14 680.36L563.96 682.69L564.89 683.28L565.82 689.7L566.64 699.04L567.46 709.55L568.39 721.23L569.33 729.41L570.5 735.25L571.9 737.58L573.65 738.4L573.65 738.4Z" fill="#d6a67f" stroke="none" stroke-width="1" clip-path="url(#hc15)"/>
<path d="M527.52 738.4L527.52 738.4L529.27 736.42L531.02 731.74L532.77 722.4L533.94 709.55L535.11 699.04L536.28 686.2L537.45 674.52L538.61 682.69L539.78 694.37L540.95 703.72L542.12 711.89L543.28 717.73L545.04 722.4L546.79 724.74L548.31 725.32L549.71 722.99L551.46 721.23L553.21 717.73L554.96 715.98L556.72 713.06L558.12 710.72L559.64 706.05L561.39 700.21L562.55 697.88L563.72 700.21L564.89 702.55L566.06 703.72L567.23 710.72L568.39 715.39L569.56 722.4L570.73 729.41L572.48 735.25L574.23 738.4L574.23 738.4Z" fill="none" stroke="#a3a3a3" stroke-width="0.6"/>
<path d="M528.69 738.4L528.69 738.4L531.02 737.58L532.77 735.25L533.94 731.74L535.11 729.41L536.86 729.18L538.61 729.41L540.13 731.16L542.12 732.33L544.45 731.74L546.79 732.33L548.54 730.58L550.29 728.24L552.04 725.91L553.45 723.57L554.96 722.4L556.48 718.9L557.65 713.06L559.05 704.88L560.22 696.71L561.39 688.53L562.32 681.53L563.14 680.36L563.96 682.69L564.89 683.28L565.82 689.7L566.64 699.04L567.46 709.55L568.39 721.23L569.33 729.41L570.5 735.25L571.9 737.58L573.65 738.4L573.65 738.4Z" fill="none" stroke="#e0843e" stroke-width="0.75"/>
<text x="0" y="0" font-size="10.2" fill="#111" stroke="#111" stroke-width="0.12" transform="translate(331 673.6) scale(0.93 1)">2976</text>
<text x="0" y="0" font-size="10.2" fill="#dd7a2e" stroke="#dd7a2e" stroke-width="0.12" transform="translate(331 685.4) scale(0.93 1)">8318</text>
<text x="0" y="0" font-size="10.2" fill="#111" stroke="#111" stroke-width="0.12" transform="translate(423.8 673.6) scale(0.93 1)">3068</text>
<text x="0" y="0" font-size="10.2" fill="#dd7a2e" stroke="#dd7a2e" stroke-width="0.12" transform="translate(423.8 685.4) scale(0.93 1)">5156</text>
<text x="0" y="0" font-size="10.2" fill="#111" stroke="#111" stroke-width="0.12" transform="translate(516.4 673.6) scale(0.93 1)">1831</text>
<text x="0" y="0" font-size="10.2" fill="#dd7a2e" stroke="#dd7a2e" stroke-width="0.12" transform="translate(516.4 685.4) scale(0.93 1)">3871</text>
<line x1="314.4" y1="667.5" x2="314.4" y2="714" stroke="#222" stroke-width="0.9"/>
<path d="M314.4 663.5L312.4 669.5L316.4 669.5Z" fill="#111" stroke="none" stroke-width="1"/>
<text x="0" y="0" font-size="10.2" text-anchor="middle" fill="#111" stroke="#111" stroke-width="0.12" transform="translate(317.3 728.5) rotate(-90) scale(0.93 1)">Cells</text>
<text x="0" y="0" font-size="10.2" fill="#111" stroke="#111" stroke-width="0.12" transform="translate(328.6 758) scale(0.96 1)">Puromycin-APC</text>
<line x1="401" y1="755.6" x2="587" y2="755.6" stroke="#222" stroke-width="0.9"/>
<path d="M591 755.6L585 753.6L585 757.6Z" fill="#111" stroke="none" stroke-width="1"/>
<text x="0" y="0" font-size="14.5" font-weight="bold" fill="#111" transform="translate(303 307.2)">e</text>
<line x1="336.6" y1="329.36" x2="336.6" y2="435.1" stroke="#3a3a3a" stroke-width="1"/>
<line x1="333.1" y1="434.6" x2="336.6" y2="434.6" stroke="#3a3a3a" stroke-width="1"/>
<text x="0" y="0" font-size="10.2" text-anchor="end" fill="#111" stroke="#111" stroke-width="0.12" transform="translate(332.3 438) scale(0.93 1)">0</text>
<line x1="333.1" y1="399.52" x2="336.6" y2="399.52" stroke="#3a3a3a" stroke-width="1"/>
<text x="0" y="0" font-size="10.2" text-anchor="end" fill="#111" stroke="#111" stroke-width="0.12" transform="translate(332.3 402.92) scale(0.93 1)">20</text>
<line x1="333.1" y1="364.44" x2="336.6" y2="364.44" stroke="#3a3a3a" stroke-width="1"/>
<text x="0" y="0" font-size="10.2" text-anchor="end" fill="#111" stroke="#111" stroke-width="0.12" transform="translate(332.3 367.84) scale(0.93 1)">40</text>
<line x1="333.1" y1="329.36" x2="336.6" y2="329.36" stroke="#3a3a3a" stroke-width="1"/>
<text x="0" y="0" font-size="10.2" text-anchor="end" fill="#111" stroke="#111" stroke-width="0.12" transform="translate(332.3 332.76) scale(0.93 1)">60</text>
<line x1="336.6" y1="434.6" x2="405.6" y2="434.6" stroke="#3a3a3a" stroke-width="1"/>
<text x="0" y="0" font-size="9.3" text-anchor="middle" fill="#111" stroke="#111" stroke-width="0.12" transform="translate(316 383) rotate(-90) scale(0.93 1)">CD40+CD14+ (%)</text>
<rect x="343.3" y="410.4" width="13.5" height="24.2" fill="#fff" stroke="#2e2e2e" stroke-width="0.95"/>
<line x1="350.05" y1="410.4" x2="350.05" y2="404.5" stroke="#333" stroke-width="0.9"/>
<line x1="346.55" y1="404.5" x2="353.55" y2="404.5" stroke="#333" stroke-width="1"/>
<rect x="364.5" y="429.2" width="13.3" height="5.4" fill="#5b93d2" stroke="#2e2e2e" stroke-width="0.95"/>
<line x1="371.15" y1="429.2" x2="371.15" y2="426.1" stroke="#333" stroke-width="0.9"/>
<line x1="367.65" y1="426.1" x2="374.65" y2="426.1" stroke="#333" stroke-width="1"/>
<rect x="385.6" y="431.3" width="13.2" height="3.3" fill="#1d4f96" stroke="#2e2e2e" stroke-width="0.95"/>
<line x1="392.2" y1="431.3" x2="392.2" y2="429.4" stroke="#333" stroke-width="0.9"/>
<line x1="388.7" y1="429.4" x2="395.7" y2="429.4" stroke="#333" stroke-width="1"/>
<circle cx="349.96" cy="347.02" r="1.72" fill="#0d0d0d" stroke="none" stroke-width="1"/>
<circle cx="348.13" cy="368.3" r="1.72" fill="#0d0d0d" stroke="none" stroke-width="1"/>
<circle cx="351.91" cy="369.92" r="1.72" fill="#0d0d0d" stroke="none" stroke-width="1"/>
<circle cx="349.96" cy="386.78" r="1.72" fill="#0d0d0d" stroke="none" stroke-width="1"/>
<circle cx="355.58" cy="400.49" r="1.72" fill="#0d0d0d" stroke="none" stroke-width="1"/>
<circle cx="347.8" cy="403.2" r="1.72" fill="#0d0d0d" stroke="none" stroke-width="1"/>
<circle cx="351.91" cy="403.2" r="1.72" fill="#0d0d0d" stroke="none" stroke-width="1"/>
<circle cx="349.96" cy="409.14" r="1.72" fill="#0d0d0d" stroke="none" stroke-width="1"/>
<circle cx="344.56" cy="417.56" r="1.72" fill="#0d0d0d" stroke="none" stroke-width="1"/>
<circle cx="348.13" cy="417.24" r="1.72" fill="#0d0d0d" stroke="none" stroke-width="1"/>
<circle cx="351.91" cy="419.4" r="1.72" fill="#0d0d0d" stroke="none" stroke-width="1"/>
<circle cx="355.58" cy="415.4" r="1.72" fill="#0d0d0d" stroke="none" stroke-width="1"/>
<circle cx="344.56" cy="426.96" r="1.72" fill="#0d0d0d" stroke="none" stroke-width="1"/>
<circle cx="348.13" cy="428.58" r="1.72" fill="#0d0d0d" stroke="none" stroke-width="1"/>
<circle cx="351.91" cy="426.42" r="1.72" fill="#0d0d0d" stroke="none" stroke-width="1"/>
<circle cx="344.56" cy="431.28" r="1.72" fill="#0d0d0d" stroke="none" stroke-width="1"/>
<circle cx="351.91" cy="432.9" r="1.72" fill="#0d0d0d" stroke="none" stroke-width="1"/>
<circle cx="355.36" cy="429.66" r="1.72" fill="#0d0d0d" stroke="none" stroke-width="1"/>
<circle cx="348.13" cy="434.85" r="1.72" fill="#0d0d0d" stroke="none" stroke-width="1"/>
<circle cx="371.35" cy="385.59" r="1.72" fill="#0d0d0d" stroke="none" stroke-width="1"/>
<circle cx="371.35" cy="401.58" r="1.72" fill="#0d0d0d" stroke="none" stroke-width="1"/>
<circle cx="371.35" cy="421.02" r="1.72" fill="#0d0d0d" stroke="none" stroke-width="1"/>
<circle cx="371.35" cy="429.12" r="1.72" fill="#0d0d0d" stroke="none" stroke-width="1"/>
<circle cx="368.33" cy="430.53" r="1.72" fill="#0d0d0d" stroke="none" stroke-width="1"/>
<circle cx="373.73" cy="430.74" r="1.72" fill="#0d0d0d" stroke="none" stroke-width="1"/>
<circle cx="366.17" cy="432.9" r="1.72" fill="#0d0d0d" stroke="none" stroke-width="1"/>
<circle cx="369.95" cy="433.12" r="1.72" fill="#0d0d0d" stroke="none" stroke-width="1"/>
<circle cx="373.19" cy="433.44" r="1.72" fill="#0d0d0d" stroke="none" stroke-width="1"/>
<circle cx="376.43" cy="432.9" r="1.72" fill="#0d0d0d" stroke="none" stroke-width="1"/>
<circle cx="368.33" cy="435.06" r="1.72" fill="#0d0d0d" stroke="none" stroke-width="1"/>
<circle cx="372.65" cy="435.06" r="1.72" fill="#0d0d0d" stroke="none" stroke-width="1"/>
<circle cx="392.31" cy="413.67" r="1.72" fill="#0d0d0d" stroke="none" stroke-width="1"/>
<circle cx="392.31" cy="417.56" r="1.72" fill="#0d0d0d" stroke="none" stroke-width="1"/>
<circle cx="392.31" cy="428.37" r="1.72" fill="#0d0d0d" stroke="none" stroke-width="1"/>
<circle cx="387.77" cy="432.36" r="1.72" fill="#0d0d0d" stroke="none" stroke-width="1"/>
<circle cx="391.01" cy="432.69" r="1.72" fill="#0d0d0d" stroke="none" stroke-width="1"/>
<circle cx="394.25" cy="432.36" r="1.72" fill="#0d0d0d" stroke="none" stroke-width="1"/>
<circle cx="397.49" cy="432.69" r="1.72" fill="#0d0d0d" stroke="none" stroke-width="1"/>
<circle cx="388.85" cy="434.52" r="1.72" fill="#0d0d0d" stroke="none" stroke-width="1"/>
<circle cx="392.63" cy="434.52" r="1.72" fill="#0d0d0d" stroke="none" stroke-width="1"/>
<circle cx="395.87" cy="434.52" r="1.72" fill="#0d0d0d" stroke="none" stroke-width="1"/>
<path d="M349.8 319V313.6H392.3V407.8" fill="none" stroke="#444" stroke-width="0.8"/>
<path d="M349.8 340V334.4H371.4V379.4" fill="none" stroke="#444" stroke-width="0.8"/>
<path d="M368 303.15L368 309.45M365.27 304.73L370.73 307.88M370.73 304.73L365.27 307.88M374 303.15L374 309.45M371.27 304.73L376.73 307.88M376.73 304.73L371.27 307.88" stroke="#111" stroke-width="1.65" fill="none"/>
<path d="M357.4 324.25L357.4 330.55M354.67 325.82L360.13 328.97M360.13 325.82L354.67 328.97M363.4 324.25L363.4 330.55M360.67 325.82L366.13 328.97M366.13 325.82L360.67 328.97" stroke="#111" stroke-width="1.65" fill="none"/>
<text x="0" y="0" font-size="14.5" font-weight="bold" fill="#111" transform="translate(418.5 307.2)">f</text>
<text x="0" y="0" font-size="10.2" text-anchor="middle" fill="#111" stroke="#111" stroke-width="0.12" transform="translate(482.4 293.5) scale(0.97 1)">CCCoV</text>
<text x="0" y="0" font-size="10.2" text-anchor="middle" fill="#111" stroke="#111" stroke-width="0.12" transform="translate(588.4 293.6) scale(0.93 1)">LPS</text>
<rect x="620.4" y="307.2" width="10.8" height="5.6" fill="#fff" stroke="#333" stroke-width="0.9"/>
<text x="0" y="0" font-size="10.2" fill="#111" stroke="#111" stroke-width="0.12" transform="translate(635 313.1) scale(0.93 1)">Healthy</text>
<rect x="620.4" y="316.9" width="10.8" height="5.6" fill="#5b93d2" stroke="#333" stroke-width="0.9"/>
<text x="0" y="0" font-size="10.2" fill="#111" stroke="#111" stroke-width="0.12" transform="translate(635 322.8) scale(0.93 1)">Mild</text>
<rect x="620.4" y="326.6" width="10.8" height="5.6" fill="#1d4f96" stroke="#333" stroke-width="0.9"/>
<text x="0" y="0" font-size="10.2" fill="#111" stroke="#111" stroke-width="0.12" transform="translate(635 332.5) scale(0.93 1)">Moderate</text>
<line x1="451.2" y1="329.36" x2="451.2" y2="435.1" stroke="#3a3a3a" stroke-width="1"/>
<line x1="447.7" y1="434.6" x2="451.2" y2="434.6" stroke="#3a3a3a" stroke-width="1"/>
<text x="0" y="0" font-size="10.2" text-anchor="end" fill="#111" stroke="#111" stroke-width="0.12" transform="translate(446.9 438) scale(0.93 1)">0</text>
<line x1="447.7" y1="399.52" x2="451.2" y2="399.52" stroke="#3a3a3a" stroke-width="1"/>
<text x="0" y="0" font-size="10.2" text-anchor="end" fill="#111" stroke="#111" stroke-width="0.12" transform="translate(446.9 402.92) scale(0.93 1)">20</text>
<line x1="447.7" y1="364.44" x2="451.2" y2="364.44" stroke="#3a3a3a" stroke-width="1"/>
<text x="0" y="0" font-size="10.2" text-anchor="end" fill="#111" stroke="#111" stroke-width="0.12" transform="translate(446.9 367.84) scale(0.93 1)">40</text>
<line x1="447.7" y1="329.36" x2="451.2" y2="329.36" stroke="#3a3a3a" stroke-width="1"/>
<text x="0" y="0" font-size="10.2" text-anchor="end" fill="#111" stroke="#111" stroke-width="0.12" transform="translate(446.9 332.76) scale(0.93 1)">60</text>
<line x1="451.2" y1="434.6" x2="521" y2="434.6" stroke="#3a3a3a" stroke-width="1"/>
<text x="0" y="0" font-size="9.3" text-anchor="middle" fill="#111" stroke="#111" stroke-width="0.12" transform="translate(430.4 383) rotate(-90) scale(0.93 1)">CD40+CD14+ (%)</text>
<rect x="458.3" y="414" width="13.4" height="20.6" fill="#fff" stroke="#2e2e2e" stroke-width="0.95"/>
<line x1="465" y1="414" x2="465" y2="409.1" stroke="#333" stroke-width="0.9"/>
<line x1="461.5" y1="409.1" x2="468.5" y2="409.1" stroke="#333" stroke-width="1"/>
<rect x="479" y="431.3" width="13.7" height="3.3" fill="#5b93d2" stroke="#2e2e2e" stroke-width="0.95"/>
<line x1="485.85" y1="431.3" x2="485.85" y2="428.6" stroke="#333" stroke-width="0.9"/>
<line x1="482.35" y1="428.6" x2="489.35" y2="428.6" stroke="#333" stroke-width="1"/>
<rect x="500.4" y="432.4" width="13.4" height="2.2" fill="#1d4f96" stroke="#2e2e2e" stroke-width="0.95"/>
<line x1="507.1" y1="432.4" x2="507.1" y2="430.2" stroke="#333" stroke-width="0.9"/>
<line x1="503.6" y1="430.2" x2="510.6" y2="430.2" stroke="#333" stroke-width="1"/>
<circle cx="464.64" cy="341.94" r="1.72" fill="#0d0d0d" stroke="none" stroke-width="1"/>
<circle cx="464.64" cy="389.15" r="1.72" fill="#0d0d0d" stroke="none" stroke-width="1"/>
<circle cx="464.64" cy="392.93" r="1.72" fill="#0d0d0d" stroke="none" stroke-width="1"/>
<circle cx="464.64" cy="403.52" r="1.72" fill="#0d0d0d" stroke="none" stroke-width="1"/>
<circle cx="462.8" cy="408.27" r="1.72" fill="#0d0d0d" stroke="none" stroke-width="1"/>
<circle cx="466.58" cy="407.52" r="1.72" fill="#0d0d0d" stroke="none" stroke-width="1"/>
<circle cx="462.8" cy="414" r="1.72" fill="#0d0d0d" stroke="none" stroke-width="1"/>
<circle cx="466.58" cy="414.75" r="1.72" fill="#0d0d0d" stroke="none" stroke-width="1"/>
<circle cx="462.8" cy="420.48" r="1.72" fill="#0d0d0d" stroke="none" stroke-width="1"/>
<circle cx="466.58" cy="421.56" r="1.72" fill="#0d0d0d" stroke="none" stroke-width="1"/>
<circle cx="462.8" cy="424.26" r="1.72" fill="#0d0d0d" stroke="none" stroke-width="1"/>
<circle cx="462.8" cy="428.04" r="1.72" fill="#0d0d0d" stroke="none" stroke-width="1"/>
<circle cx="459.02" cy="430.2" r="1.72" fill="#0d0d0d" stroke="none" stroke-width="1"/>
<circle cx="466.58" cy="430.2" r="1.72" fill="#0d0d0d" stroke="none" stroke-width="1"/>
<circle cx="470.15" cy="429.88" r="1.72" fill="#0d0d0d" stroke="none" stroke-width="1"/>
<circle cx="462.8" cy="434.52" r="1.72" fill="#0d0d0d" stroke="none" stroke-width="1"/>
<circle cx="466.58" cy="434.52" r="1.72" fill="#0d0d0d" stroke="none" stroke-width="1"/>
<circle cx="485.7" cy="401.36" r="1.72" fill="#0d0d0d" stroke="none" stroke-width="1"/>
<circle cx="485.7" cy="413.78" r="1.72" fill="#0d0d0d" stroke="none" stroke-width="1"/>
<circle cx="485.7" cy="428.37" r="1.72" fill="#0d0d0d" stroke="none" stroke-width="1"/>
<circle cx="480.63" cy="432.36" r="1.72" fill="#0d0d0d" stroke="none" stroke-width="1"/>
<circle cx="484.41" cy="432.9" r="1.72" fill="#0d0d0d" stroke="none" stroke-width="1"/>
<circle cx="488.19" cy="432.9" r="1.72" fill="#0d0d0d" stroke="none" stroke-width="1"/>
<circle cx="491.43" cy="432.69" r="1.72" fill="#0d0d0d" stroke="none" stroke-width="1"/>
<circle cx="480.63" cy="434.52" r="1.72" fill="#0d0d0d" stroke="none" stroke-width="1"/>
<circle cx="484.41" cy="434.85" r="1.72" fill="#0d0d0d" stroke="none" stroke-width="1"/>
<circle cx="488.73" cy="434.85" r="1.72" fill="#0d0d0d" stroke="none" stroke-width="1"/>
<circle cx="506.88" cy="415.4" r="1.72" fill="#0d0d0d" stroke="none" stroke-width="1"/>
<circle cx="506.88" cy="424.48" r="1.72" fill="#0d0d0d" stroke="none" stroke-width="1"/>
<circle cx="501.69" cy="432.69" r="1.72" fill="#0d0d0d" stroke="none" stroke-width="1"/>
<circle cx="505.47" cy="432.9" r="1.72" fill="#0d0d0d" stroke="none" stroke-width="1"/>
<circle cx="509.25" cy="432.9" r="1.72" fill="#0d0d0d" stroke="none" stroke-width="1"/>
<circle cx="512.49" cy="432.9" r="1.72" fill="#0d0d0d" stroke="none" stroke-width="1"/>
<circle cx="503.85" cy="434.2" r="1.72" fill="#0d0d0d" stroke="none" stroke-width="1"/>
<circle cx="508.17" cy="434.2" r="1.72" fill="#0d0d0d" stroke="none" stroke-width="1"/>
<path d="M464.4 314V308.4H506.6V409.7" fill="none" stroke="#444" stroke-width="0.8"/>
<path d="M464.4 335V329H485.7V395.6" fill="none" stroke="#444" stroke-width="0.8"/>
<path d="M482.6 297.85L482.6 304.15M479.87 299.43L485.33 302.57M485.33 299.43L479.87 302.57M488.6 297.85L488.6 304.15M485.87 299.43L491.33 302.57M491.33 299.43L485.87 302.57" stroke="#111" stroke-width="1.65" fill="none"/>
<path d="M472 318.85L472 325.15M469.27 320.43L474.73 323.57M474.73 320.43L469.27 323.57M478 318.85L478 325.15M475.27 320.43L480.73 323.57M480.73 320.43L475.27 323.57" stroke="#111" stroke-width="1.65" fill="none"/>
<line x1="557.2" y1="329.36" x2="557.2" y2="435.1" stroke="#3a3a3a" stroke-width="1"/>
<line x1="553.7" y1="434.6" x2="557.2" y2="434.6" stroke="#3a3a3a" stroke-width="1"/>
<text x="0" y="0" font-size="10.2" text-anchor="end" fill="#111" stroke="#111" stroke-width="0.12" transform="translate(552.9 438) scale(0.93 1)">0</text>
<line x1="553.7" y1="399.52" x2="557.2" y2="399.52" stroke="#3a3a3a" stroke-width="1"/>
<text x="0" y="0" font-size="10.2" text-anchor="end" fill="#111" stroke="#111" stroke-width="0.12" transform="translate(552.9 402.92) scale(0.93 1)">20</text>
<line x1="553.7" y1="364.44" x2="557.2" y2="364.44" stroke="#3a3a3a" stroke-width="1"/>
<text x="0" y="0" font-size="10.2" text-anchor="end" fill="#111" stroke="#111" stroke-width="0.12" transform="translate(552.9 367.84) scale(0.93 1)">40</text>
<line x1="553.7" y1="329.36" x2="557.2" y2="329.36" stroke="#3a3a3a" stroke-width="1"/>
<text x="0" y="0" font-size="10.2" text-anchor="end" fill="#111" stroke="#111" stroke-width="0.12" transform="translate(552.9 332.76) scale(0.93 1)">60</text>
<line x1="557.2" y1="434.6" x2="627" y2="434.6" stroke="#3a3a3a" stroke-width="1"/>
<text x="0" y="0" font-size="9.3" text-anchor="middle" fill="#111" stroke="#111" stroke-width="0.12" transform="translate(537 383) rotate(-90) scale(0.93 1)">CD40+CD14+ (%)</text>
<rect x="564.3" y="422.6" width="13.3" height="12" fill="#fff" stroke="#2e2e2e" stroke-width="0.95"/>
<line x1="570.95" y1="422.6" x2="570.95" y2="419.8" stroke="#333" stroke-width="0.9"/>
<line x1="567.45" y1="419.8" x2="574.45" y2="419.8" stroke="#333" stroke-width="1"/>
<rect x="585.4" y="424.2" width="13.3" height="10.4" fill="#5b93d2" stroke="#2e2e2e" stroke-width="0.95"/>
<line x1="592.05" y1="424.2" x2="592.05" y2="421.1" stroke="#333" stroke-width="0.9"/>
<line x1="588.55" y1="421.1" x2="595.55" y2="421.1" stroke="#333" stroke-width="1"/>
<rect x="606.2" y="432.3" width="13.1" height="2.3" fill="#1d4f96" stroke="#2e2e2e" stroke-width="0.95"/>
<line x1="612.75" y1="432.3" x2="612.75" y2="430" stroke="#333" stroke-width="0.9"/>
<line x1="609.25" y1="430" x2="616.25" y2="430" stroke="#333" stroke-width="1"/>
<circle cx="572.82" cy="410.16" r="1.72" fill="#0d0d0d" stroke="none" stroke-width="1"/>
<circle cx="569.24" cy="411.9" r="1.72" fill="#0d0d0d" stroke="none" stroke-width="1"/>
<circle cx="569.24" cy="415.47" r="1.72" fill="#0d0d0d" stroke="none" stroke-width="1"/>
<circle cx="572.82" cy="414.96" r="1.72" fill="#0d0d0d" stroke="none" stroke-width="1"/>
<circle cx="572.82" cy="418.85" r="1.72" fill="#0d0d0d" stroke="none" stroke-width="1"/>
<circle cx="565.66" cy="420.89" r="1.72" fill="#0d0d0d" stroke="none" stroke-width="1"/>
<circle cx="569.24" cy="420.58" r="1.72" fill="#0d0d0d" stroke="none" stroke-width="1"/>
<circle cx="572.82" cy="420.58" r="1.72" fill="#0d0d0d" stroke="none" stroke-width="1"/>
<circle cx="576.39" cy="423.14" r="1.72" fill="#0d0d0d" stroke="none" stroke-width="1"/>
<circle cx="565.66" cy="426" r="1.72" fill="#0d0d0d" stroke="none" stroke-width="1"/>
<circle cx="572.82" cy="425.18" r="1.72" fill="#0d0d0d" stroke="none" stroke-width="1"/>
<circle cx="569.24" cy="430.29" r="1.72" fill="#0d0d0d" stroke="none" stroke-width="1"/>
<circle cx="572.82" cy="431.31" r="1.72" fill="#0d0d0d" stroke="none" stroke-width="1"/>
<circle cx="576.39" cy="430.8" r="1.72" fill="#0d0d0d" stroke="none" stroke-width="1"/>
<circle cx="565.66" cy="432.33" r="1.72" fill="#0d0d0d" stroke="none" stroke-width="1"/>
<circle cx="592.23" cy="397.59" r="1.72" fill="#0d0d0d" stroke="none" stroke-width="1"/>
<circle cx="592.23" cy="400.66" r="1.72" fill="#0d0d0d" stroke="none" stroke-width="1"/>
<circle cx="592.23" cy="402.7" r="1.72" fill="#0d0d0d" stroke="none" stroke-width="1"/>
<circle cx="592.23" cy="405.25" r="1.72" fill="#0d0d0d" stroke="none" stroke-width="1"/>
<circle cx="592.23" cy="410.36" r="1.72" fill="#0d0d0d" stroke="none" stroke-width="1"/>
<circle cx="590.19" cy="413.94" r="1.72" fill="#0d0d0d" stroke="none" stroke-width="1"/>
<circle cx="591.72" cy="415.47" r="1.72" fill="#0d0d0d" stroke="none" stroke-width="1"/>
<circle cx="590.19" cy="421.09" r="1.72" fill="#0d0d0d" stroke="none" stroke-width="1"/>
<circle cx="587.63" cy="427.74" r="1.72" fill="#0d0d0d" stroke="none" stroke-width="1"/>
<circle cx="591.72" cy="427.22" r="1.72" fill="#0d0d0d" stroke="none" stroke-width="1"/>
<circle cx="595.81" cy="427.22" r="1.72" fill="#0d0d0d" stroke="none" stroke-width="1"/>
<circle cx="587.63" cy="430.8" r="1.72" fill="#0d0d0d" stroke="none" stroke-width="1"/>
<circle cx="591.72" cy="430.29" r="1.72" fill="#0d0d0d" stroke="none" stroke-width="1"/>
<circle cx="595.81" cy="430.29" r="1.72" fill="#0d0d0d" stroke="none" stroke-width="1"/>
<circle cx="587.63" cy="433.87" r="1.72" fill="#0d0d0d" stroke="none" stroke-width="1"/>
<circle cx="591.72" cy="434.17" r="1.72" fill="#0d0d0d" stroke="none" stroke-width="1"/>
<circle cx="596.83" cy="433.87" r="1.72" fill="#0d0d0d" stroke="none" stroke-width="1"/>
<circle cx="613.69" cy="425.18" r="1.72" fill="#0d0d0d" stroke="none" stroke-width="1"/>
<circle cx="611.65" cy="426.2" r="1.72" fill="#0d0d0d" stroke="none" stroke-width="1"/>
<circle cx="613.18" cy="429.27" r="1.72" fill="#0d0d0d" stroke="none" stroke-width="1"/>
<circle cx="607.05" cy="433.36" r="1.72" fill="#0d0d0d" stroke="none" stroke-width="1"/>
<circle cx="610.63" cy="433.87" r="1.72" fill="#0d0d0d" stroke="none" stroke-width="1"/>
<circle cx="613.69" cy="433.87" r="1.72" fill="#0d0d0d" stroke="none" stroke-width="1"/>
<circle cx="617.27" cy="433.87" r="1.72" fill="#0d0d0d" stroke="none" stroke-width="1"/>
<circle cx="619.31" cy="433.87" r="1.72" fill="#0d0d0d" stroke="none" stroke-width="1"/>
<path d="M570.8 404.2V385.5H613.2V419" fill="none" stroke="#444" stroke-width="0.8"/>
<path d="M592 375.25L592 381.55M589.27 376.82L594.73 379.97M594.73 376.82L589.27 379.97" stroke="#111" stroke-width="1.65" fill="none"/>
<line x1="276.6" y1="462" x2="286.2" y2="462" stroke="#555" stroke-width="0.8"/>
<circle cx="281.4" cy="462" r="1.7" fill="#fff" stroke="#222" stroke-width="0.7"/>
<line x1="276.6" y1="474" x2="286.2" y2="474" stroke="#555" stroke-width="0.8"/>
<circle cx="281.4" cy="474" r="2" fill="#d4843c" stroke="none" stroke-width="1"/>
<text x="0" y="0" font-size="10.2" fill="#111" stroke="#111" stroke-width="0.12" transform="translate(291.6 465.1) scale(0.93 1)">Vehicle</text>
<text x="0" y="0" font-size="10.2" fill="#111" stroke="#111" stroke-width="0.12" transform="translate(291.6 477.1) scale(0.93 1)">CoV2</text>
<text x="0" y="0" font-size="14.5" font-weight="bold" fill="#111" transform="translate(323.5 491.2)">h</text>
<line x1="329" y1="512.2" x2="329" y2="600.7" stroke="#3a3a3a" stroke-width="1"/>
<line x1="325.5" y1="600.2" x2="329" y2="600.2" stroke="#3a3a3a" stroke-width="1"/>
<text x="0" y="0" font-size="10.2" text-anchor="end" fill="#111" stroke="#111" stroke-width="0.12" transform="translate(324.7 603.6) scale(0.93 1)">0</text>
<line x1="325.5" y1="582.6" x2="329" y2="582.6" stroke="#3a3a3a" stroke-width="1"/>
<text x="0" y="0" font-size="10.2" text-anchor="end" fill="#111" stroke="#111" stroke-width="0.12" transform="translate(324.7 586) scale(0.93 1)">1000</text>
<line x1="325.5" y1="565" x2="329" y2="565" stroke="#3a3a3a" stroke-width="1"/>
<text x="0" y="0" font-size="10.2" text-anchor="end" fill="#111" stroke="#111" stroke-width="0.12" transform="translate(324.7 568.4) scale(0.93 1)">2000</text>
<line x1="325.5" y1="547.4" x2="329" y2="547.4" stroke="#3a3a3a" stroke-width="1"/>
<text x="0" y="0" font-size="10.2" text-anchor="end" fill="#111" stroke="#111" stroke-width="0.12" transform="translate(324.7 550.8) scale(0.93 1)">3000</text>
<line x1="325.5" y1="529.8" x2="329" y2="529.8" stroke="#3a3a3a" stroke-width="1"/>
<text x="0" y="0" font-size="10.2" text-anchor="end" fill="#111" stroke="#111" stroke-width="0.12" transform="translate(324.7 533.2) scale(0.93 1)">4000</text>
<line x1="325.5" y1="512.2" x2="329" y2="512.2" stroke="#3a3a3a" stroke-width="1"/>
<text x="0" y="0" font-size="10.2" text-anchor="end" fill="#111" stroke="#111" stroke-width="0.12" transform="translate(324.7 515.6) scale(0.93 1)">5000</text>
<line x1="329" y1="600.2" x2="417.6" y2="600.2" stroke="#3a3a3a" stroke-width="1"/>
<text x="0" y="0" font-size="10.2" text-anchor="middle" fill="#111" stroke="#111" stroke-width="0.12" transform="translate(298.5 557.5) rotate(-90) scale(0.93 1)">HLA-DR (gMFI)</text>
<text x="0" y="0" font-size="10.2" text-anchor="middle" fill="#111" stroke="#111" stroke-width="0.12" transform="translate(345.6 612) scale(0.93 1)">Healthy</text>
<text x="0" y="0" font-size="10.2" text-anchor="middle" fill="#111" stroke="#111" stroke-width="0.12" transform="translate(373.8 612) scale(0.93 1)">Mild</text>
<text x="0" y="0" font-size="10.2" text-anchor="middle" fill="#111" stroke="#111" stroke-width="0.12" transform="translate(408.3 612) scale(0.93 1)">Moderate</text>
<path d="M337.2 566.1L348.7 558.21M337.2 568.07L348.7 558.21M337.2 569.38L348.7 566.75M337.2 571.35L348.7 570.04M337.2 572.67L348.7 573.32M337.2 574.64L348.7 566.75M337.2 576.61L348.7 575.95M337.2 578.58L348.7 577.92M337.2 580.55L348.7 583.83M337.2 582.52L348.7 579.89M337.2 583.83L348.7 581.21M337.2 593.69L348.7 595" stroke="#111" stroke-width="0.7" fill="none"/>
<circle cx="337.2" cy="566.1" r="1.9" fill="#fff" stroke="#111" stroke-width="0.8"/>
<circle cx="337.2" cy="568.07" r="1.9" fill="#fff" stroke="#111" stroke-width="0.8"/>
<circle cx="337.2" cy="569.38" r="1.9" fill="#fff" stroke="#111" stroke-width="0.8"/>
<circle cx="337.2" cy="571.35" r="1.9" fill="#fff" stroke="#111" stroke-width="0.8"/>
<circle cx="337.2" cy="572.67" r="1.9" fill="#fff" stroke="#111" stroke-width="0.8"/>
<circle cx="337.2" cy="574.64" r="1.9" fill="#fff" stroke="#111" stroke-width="0.8"/>
<circle cx="337.2" cy="576.61" r="1.9" fill="#fff" stroke="#111" stroke-width="0.8"/>
<circle cx="337.2" cy="578.58" r="1.9" fill="#fff" stroke="#111" stroke-width="0.8"/>
<circle cx="337.2" cy="580.55" r="1.9" fill="#fff" stroke="#111" stroke-width="0.8"/>
<circle cx="337.2" cy="582.52" r="1.9" fill="#fff" stroke="#111" stroke-width="0.8"/>
<circle cx="337.2" cy="583.83" r="1.9" fill="#fff" stroke="#111" stroke-width="0.8"/>
<circle cx="337.2" cy="593.69" r="1.9" fill="#fff" stroke="#111" stroke-width="0.8"/>
<circle cx="348.7" cy="558.21" r="2.25" fill="#d4843c" stroke="none" stroke-width="1"/>
<circle cx="348.7" cy="558.21" r="2.25" fill="#d4843c" stroke="none" stroke-width="1"/>
<circle cx="348.7" cy="566.75" r="2.25" fill="#d4843c" stroke="none" stroke-width="1"/>
<circle cx="348.7" cy="570.04" r="2.25" fill="#d4843c" stroke="none" stroke-width="1"/>
<circle cx="348.7" cy="573.32" r="2.25" fill="#d4843c" stroke="none" stroke-width="1"/>
<circle cx="348.7" cy="566.75" r="2.25" fill="#d4843c" stroke="none" stroke-width="1"/>
<circle cx="348.7" cy="575.95" r="2.25" fill="#d4843c" stroke="none" stroke-width="1"/>
<circle cx="348.7" cy="577.92" r="2.25" fill="#d4843c" stroke="none" stroke-width="1"/>
<circle cx="348.7" cy="583.83" r="2.25" fill="#d4843c" stroke="none" stroke-width="1"/>
<circle cx="348.7" cy="579.89" r="2.25" fill="#d4843c" stroke="none" stroke-width="1"/>
<circle cx="348.7" cy="581.21" r="2.25" fill="#d4843c" stroke="none" stroke-width="1"/>
<circle cx="348.7" cy="595" r="2.25" fill="#d4843c" stroke="none" stroke-width="1"/>
<path d="M367.8 535.22L379.3 520.77M367.8 539.42L379.3 537.19M367.8 547.04L379.3 537.19M367.8 550.33L379.3 561.5M367.8 555.58L379.3 558.87M367.8 558.87L379.3 570.69M367.8 562.81L379.3 564.12M367.8 566.75L379.3 574.64M367.8 568.07L379.3 566.75M367.8 570.69L379.3 578.58M367.8 573.32L379.3 569.38M367.8 575.95L379.3 582.52M367.8 579.89L379.3 577.26M367.8 581.21L379.3 583.83M367.8 583.83L379.3 587.77M367.8 550.33L379.3 572.01" stroke="#111" stroke-width="0.7" fill="none"/>
<circle cx="367.8" cy="535.22" r="1.9" fill="#fff" stroke="#111" stroke-width="0.8"/>
<circle cx="367.8" cy="539.42" r="1.9" fill="#fff" stroke="#111" stroke-width="0.8"/>
<circle cx="367.8" cy="547.04" r="1.9" fill="#fff" stroke="#111" stroke-width="0.8"/>
<circle cx="367.8" cy="550.33" r="1.9" fill="#fff" stroke="#111" stroke-width="0.8"/>
<circle cx="367.8" cy="555.58" r="1.9" fill="#fff" stroke="#111" stroke-width="0.8"/>
<circle cx="367.8" cy="558.87" r="1.9" fill="#fff" stroke="#111" stroke-width="0.8"/>
<circle cx="367.8" cy="562.81" r="1.9" fill="#fff" stroke="#111" stroke-width="0.8"/>
<circle cx="367.8" cy="566.75" r="1.9" fill="#fff" stroke="#111" stroke-width="0.8"/>
<circle cx="367.8" cy="568.07" r="1.9" fill="#fff" stroke="#111" stroke-width="0.8"/>
<circle cx="367.8" cy="570.69" r="1.9" fill="#fff" stroke="#111" stroke-width="0.8"/>
<circle cx="367.8" cy="573.32" r="1.9" fill="#fff" stroke="#111" stroke-width="0.8"/>
<circle cx="367.8" cy="575.95" r="1.9" fill="#fff" stroke="#111" stroke-width="0.8"/>
<circle cx="367.8" cy="579.89" r="1.9" fill="#fff" stroke="#111" stroke-width="0.8"/>
<circle cx="367.8" cy="581.21" r="1.9" fill="#fff" stroke="#111" stroke-width="0.8"/>
<circle cx="367.8" cy="583.83" r="1.9" fill="#fff" stroke="#111" stroke-width="0.8"/>
<circle cx="379.3" cy="520.77" r="2.25" fill="#d4843c" stroke="none" stroke-width="1"/>
<circle cx="379.3" cy="537.19" r="2.25" fill="#d4843c" stroke="none" stroke-width="1"/>
<circle cx="379.3" cy="558.87" r="2.25" fill="#d4843c" stroke="none" stroke-width="1"/>
<circle cx="379.3" cy="561.5" r="2.25" fill="#d4843c" stroke="none" stroke-width="1"/>
<circle cx="379.3" cy="564.12" r="2.25" fill="#d4843c" stroke="none" stroke-width="1"/>
<circle cx="379.3" cy="566.75" r="2.25" fill="#d4843c" stroke="none" stroke-width="1"/>
<circle cx="379.3" cy="569.38" r="2.25" fill="#d4843c" stroke="none" stroke-width="1"/>
<circle cx="379.3" cy="572.01" r="2.25" fill="#d4843c" stroke="none" stroke-width="1"/>
<circle cx="379.3" cy="574.64" r="2.25" fill="#d4843c" stroke="none" stroke-width="1"/>
<circle cx="379.3" cy="577.26" r="2.25" fill="#d4843c" stroke="none" stroke-width="1"/>
<circle cx="379.3" cy="579.89" r="2.25" fill="#d4843c" stroke="none" stroke-width="1"/>
<circle cx="379.3" cy="582.52" r="2.25" fill="#d4843c" stroke="none" stroke-width="1"/>
<circle cx="379.3" cy="587.77" r="2.25" fill="#d4843c" stroke="none" stroke-width="1"/>
<path d="M398.3 574.64L409.9 570.04M398.3 579.89L409.9 573.32M398.3 583.18L409.9 583.18M398.3 587.77L409.9 585.8M398.3 589.75L409.9 590.4M398.3 591.72L409.9 588.43M398.3 594.34L409.9 592.37M398.3 596.97L409.9 597.63M398.3 598.55L409.9 598.94" stroke="#111" stroke-width="0.7" fill="none"/>
<circle cx="398.3" cy="574.64" r="1.9" fill="#fff" stroke="#111" stroke-width="0.8"/>
<circle cx="398.3" cy="579.89" r="1.9" fill="#fff" stroke="#111" stroke-width="0.8"/>
<circle cx="398.3" cy="583.18" r="1.9" fill="#fff" stroke="#111" stroke-width="0.8"/>
<circle cx="398.3" cy="587.77" r="1.9" fill="#fff" stroke="#111" stroke-width="0.8"/>
<circle cx="398.3" cy="589.75" r="1.9" fill="#fff" stroke="#111" stroke-width="0.8"/>
<circle cx="398.3" cy="591.72" r="1.9" fill="#fff" stroke="#111" stroke-width="0.8"/>
<circle cx="398.3" cy="594.34" r="1.9" fill="#fff" stroke="#111" stroke-width="0.8"/>
<circle cx="398.3" cy="596.97" r="1.9" fill="#fff" stroke="#111" stroke-width="0.8"/>
<circle cx="398.3" cy="598.55" r="1.9" fill="#fff" stroke="#111" stroke-width="0.8"/>
<circle cx="409.9" cy="570.04" r="2.25" fill="#d4843c" stroke="none" stroke-width="1"/>
<circle cx="409.9" cy="573.32" r="2.25" fill="#d4843c" stroke="none" stroke-width="1"/>
<circle cx="409.9" cy="583.18" r="2.25" fill="#d4843c" stroke="none" stroke-width="1"/>
<circle cx="409.9" cy="585.8" r="2.25" fill="#d4843c" stroke="none" stroke-width="1"/>
<circle cx="409.9" cy="588.43" r="2.25" fill="#d4843c" stroke="none" stroke-width="1"/>
<circle cx="409.9" cy="590.4" r="2.25" fill="#d4843c" stroke="none" stroke-width="1"/>
<circle cx="409.9" cy="592.37" r="2.25" fill="#d4843c" stroke="none" stroke-width="1"/>
<circle cx="409.9" cy="597.63" r="2.25" fill="#d4843c" stroke="none" stroke-width="1"/>
<circle cx="409.9" cy="598.94" r="2.25" fill="#d4843c" stroke="none" stroke-width="1"/>
<path d="M337.4 505V457.6H398.4V480" fill="none" stroke="#444" stroke-width="0.8"/>
<path d="M348.4 499V475.4H379.6V480" fill="none" stroke="#444" stroke-width="0.8"/>
<path d="M367.4 505V492.6H398.4V498" fill="none" stroke="#444" stroke-width="0.8"/>
<path d="M337.2 560.8V510.4H367.8V529.3" fill="none" stroke="#444" stroke-width="0.8"/>
<path d="M379.3 515.5V510.4H409.9V564.8" fill="none" stroke="#444" stroke-width="0.8"/>
<path d="M367.6 448.95L367.6 454.25M365.31 450.28L369.89 452.93M369.89 450.28L365.31 452.93" stroke="#111" stroke-width="1.5" fill="none"/>
<path d="M364 466.35L364 471.65M361.71 467.68L366.29 470.32M366.29 467.68L361.71 470.32" stroke="#111" stroke-width="1.5" fill="none"/>
<path d="M374.75 484.35L374.75 489.65M372.46 485.68L377.04 488.32M377.04 485.68L372.46 488.32M380.25 484.35L380.25 489.65M377.96 485.68L382.54 488.32M382.54 485.68L377.96 488.32M385.75 484.35L385.75 489.65M383.46 485.68L388.04 488.32M388.04 485.68L383.46 488.32M391.25 484.35L391.25 489.65M388.96 485.68L393.54 488.32M393.54 485.68L388.96 488.32" stroke="#111" stroke-width="1.5" fill="none"/>
<path d="M352.4 501.75L352.4 507.05M350.11 503.07L354.69 505.72M354.69 503.07L350.11 505.72" stroke="#111" stroke-width="1.5" fill="none"/>
<path d="M386.15 501.75L386.15 507.05M383.86 503.07L388.44 505.72M388.44 503.07L383.86 505.72M391.65 501.75L391.65 507.05M389.36 503.07L393.94 505.72M393.94 503.07L389.36 505.72M397.15 501.75L397.15 507.05M394.86 503.07L399.44 505.72M399.44 503.07L394.86 505.72M402.65 501.75L402.65 507.05M400.36 503.07L404.94 505.72M404.94 503.07L400.36 505.72" stroke="#111" stroke-width="1.5" fill="none"/>
<text x="0" y="0" font-size="14.5" font-weight="bold" fill="#111" transform="translate(423 491.2)">i</text>
<line x1="455.5" y1="512.4" x2="455.5" y2="601" stroke="#3a3a3a" stroke-width="1"/>
<line x1="452" y1="600.5" x2="455.5" y2="600.5" stroke="#3a3a3a" stroke-width="1"/>
<text x="0" y="0" font-size="10.2" text-anchor="end" fill="#111" stroke="#111" stroke-width="0.12" transform="translate(451.2 603.9) scale(0.93 1)">0</text>
<line x1="452" y1="582.88" x2="455.5" y2="582.88" stroke="#3a3a3a" stroke-width="1"/>
<text x="0" y="0" font-size="10.2" text-anchor="end" fill="#111" stroke="#111" stroke-width="0.12" transform="translate(451.2 586.28) scale(0.93 1)">100</text>
<line x1="452" y1="565.26" x2="455.5" y2="565.26" stroke="#3a3a3a" stroke-width="1"/>
<text x="0" y="0" font-size="10.2" text-anchor="end" fill="#111" stroke="#111" stroke-width="0.12" transform="translate(451.2 568.66) scale(0.93 1)">200</text>
<line x1="452" y1="547.64" x2="455.5" y2="547.64" stroke="#3a3a3a" stroke-width="1"/>
<text x="0" y="0" font-size="10.2" text-anchor="end" fill="#111" stroke="#111" stroke-width="0.12" transform="translate(451.2 551.04) scale(0.93 1)">300</text>
<line x1="452" y1="530.02" x2="455.5" y2="530.02" stroke="#3a3a3a" stroke-width="1"/>
<text x="0" y="0" font-size="10.2" text-anchor="end" fill="#111" stroke="#111" stroke-width="0.12" transform="translate(451.2 533.42) scale(0.93 1)">400</text>
<line x1="452" y1="512.4" x2="455.5" y2="512.4" stroke="#3a3a3a" stroke-width="1"/>
<text x="0" y="0" font-size="10.2" text-anchor="end" fill="#111" stroke="#111" stroke-width="0.12" transform="translate(451.2 515.8) scale(0.93 1)">500</text>
<line x1="455.5" y1="600.5" x2="545" y2="600.5" stroke="#3a3a3a" stroke-width="1"/>
<text x="0" y="0" font-size="10.2" text-anchor="middle" fill="#111" stroke="#111" stroke-width="0.12" transform="translate(431 547) rotate(-90) scale(0.93 1)">CD80 (gMFI)</text>
<text x="0" y="0" font-size="10.2" text-anchor="middle" fill="#111" stroke="#111" stroke-width="0.12" transform="translate(469.8 612) scale(0.93 1)">Healthy</text>
<text x="0" y="0" font-size="10.2" text-anchor="middle" fill="#111" stroke="#111" stroke-width="0.12" transform="translate(499.5 612) scale(0.93 1)">Mild</text>
<text x="0" y="0" font-size="10.2" text-anchor="middle" fill="#111" stroke="#111" stroke-width="0.12" transform="translate(532.5 612) scale(0.93 1)">Moderate</text>
<path d="M463.1 544.15L474.7 547.04M463.1 564.78L474.7 549.67M463.1 566.75L474.7 552.3M463.1 568.72L474.7 554.93M463.1 570.69L474.7 557.56M463.1 573.32L474.7 564.78M463.1 575.95L474.7 566.75M463.1 578.58L474.7 522.34M463.1 579.89L474.7 531.28M463.1 580.55L474.7 569.38M463.1 581.21L474.7 572.01M463.1 582.52L474.7 574.64M463.1 581.86L474.7 559.53" stroke="#111" stroke-width="0.7" fill="none"/>
<circle cx="463.1" cy="544.15" r="1.9" fill="#fff" stroke="#111" stroke-width="0.8"/>
<circle cx="463.1" cy="564.78" r="1.9" fill="#fff" stroke="#111" stroke-width="0.8"/>
<circle cx="463.1" cy="566.75" r="1.9" fill="#fff" stroke="#111" stroke-width="0.8"/>
<circle cx="463.1" cy="568.72" r="1.9" fill="#fff" stroke="#111" stroke-width="0.8"/>
<circle cx="463.1" cy="570.69" r="1.9" fill="#fff" stroke="#111" stroke-width="0.8"/>
<circle cx="463.1" cy="573.32" r="1.9" fill="#fff" stroke="#111" stroke-width="0.8"/>
<circle cx="463.1" cy="575.95" r="1.9" fill="#fff" stroke="#111" stroke-width="0.8"/>
<circle cx="463.1" cy="578.58" r="1.9" fill="#fff" stroke="#111" stroke-width="0.8"/>
<circle cx="463.1" cy="579.89" r="1.9" fill="#fff" stroke="#111" stroke-width="0.8"/>
<circle cx="463.1" cy="581.21" r="1.9" fill="#fff" stroke="#111" stroke-width="0.8"/>
<circle cx="463.1" cy="582.52" r="1.9" fill="#fff" stroke="#111" stroke-width="0.8"/>
<circle cx="474.7" cy="522.34" r="2.25" fill="#d4843c" stroke="none" stroke-width="1"/>
<circle cx="474.7" cy="531.28" r="2.25" fill="#d4843c" stroke="none" stroke-width="1"/>
<circle cx="474.7" cy="547.04" r="2.25" fill="#d4843c" stroke="none" stroke-width="1"/>
<circle cx="474.7" cy="549.67" r="2.25" fill="#d4843c" stroke="none" stroke-width="1"/>
<circle cx="474.7" cy="552.3" r="2.25" fill="#d4843c" stroke="none" stroke-width="1"/>
<circle cx="474.7" cy="554.93" r="2.25" fill="#d4843c" stroke="none" stroke-width="1"/>
<circle cx="474.7" cy="557.56" r="2.25" fill="#d4843c" stroke="none" stroke-width="1"/>
<circle cx="474.7" cy="559.53" r="2.25" fill="#d4843c" stroke="none" stroke-width="1"/>
<circle cx="474.7" cy="564.78" r="2.25" fill="#d4843c" stroke="none" stroke-width="1"/>
<circle cx="474.7" cy="566.75" r="2.25" fill="#d4843c" stroke="none" stroke-width="1"/>
<circle cx="474.7" cy="569.38" r="2.25" fill="#d4843c" stroke="none" stroke-width="1"/>
<circle cx="474.7" cy="572.01" r="2.25" fill="#d4843c" stroke="none" stroke-width="1"/>
<circle cx="474.7" cy="574.64" r="2.25" fill="#d4843c" stroke="none" stroke-width="1"/>
<path d="M494 539.82L505.6 524.71M494 547.7L505.6 522.08M494 553.61L505.6 527.34M494 556.9L505.6 533.25M494 562.81L505.6 536.53M494 568.72L505.6 527.34M494 570.69L505.6 540.47M494 572.67L505.6 544.42M494 576.61L505.6 547.04M494 579.89L505.6 558.87M494 582.52L505.6 562.81M494 570.69L505.6 565.44M494 572.67L505.6 568.07M494 576.61L505.6 570.69M494 579.89L505.6 573.32M494 582.52L505.6 577.92M494 568.72L505.6 575.95" stroke="#111" stroke-width="0.7" fill="none"/>
<circle cx="494" cy="539.82" r="1.9" fill="#fff" stroke="#111" stroke-width="0.8"/>
<circle cx="494" cy="547.7" r="1.9" fill="#fff" stroke="#111" stroke-width="0.8"/>
<circle cx="494" cy="553.61" r="1.9" fill="#fff" stroke="#111" stroke-width="0.8"/>
<circle cx="494" cy="556.9" r="1.9" fill="#fff" stroke="#111" stroke-width="0.8"/>
<circle cx="494" cy="562.81" r="1.9" fill="#fff" stroke="#111" stroke-width="0.8"/>
<circle cx="494" cy="568.72" r="1.9" fill="#fff" stroke="#111" stroke-width="0.8"/>
<circle cx="494" cy="570.69" r="1.9" fill="#fff" stroke="#111" stroke-width="0.8"/>
<circle cx="494" cy="572.67" r="1.9" fill="#fff" stroke="#111" stroke-width="0.8"/>
<circle cx="494" cy="576.61" r="1.9" fill="#fff" stroke="#111" stroke-width="0.8"/>
<circle cx="494" cy="579.89" r="1.9" fill="#fff" stroke="#111" stroke-width="0.8"/>
<circle cx="494" cy="582.52" r="1.9" fill="#fff" stroke="#111" stroke-width="0.8"/>
<circle cx="505.6" cy="522.08" r="2.25" fill="#d4843c" stroke="none" stroke-width="1"/>
<circle cx="505.6" cy="524.71" r="2.25" fill="#d4843c" stroke="none" stroke-width="1"/>
<circle cx="505.6" cy="527.34" r="2.25" fill="#d4843c" stroke="none" stroke-width="1"/>
<circle cx="505.6" cy="533.25" r="2.25" fill="#d4843c" stroke="none" stroke-width="1"/>
<circle cx="505.6" cy="536.53" r="2.25" fill="#d4843c" stroke="none" stroke-width="1"/>
<circle cx="505.6" cy="540.47" r="2.25" fill="#d4843c" stroke="none" stroke-width="1"/>
<circle cx="505.6" cy="544.42" r="2.25" fill="#d4843c" stroke="none" stroke-width="1"/>
<circle cx="505.6" cy="547.04" r="2.25" fill="#d4843c" stroke="none" stroke-width="1"/>
<circle cx="505.6" cy="558.87" r="2.25" fill="#d4843c" stroke="none" stroke-width="1"/>
<circle cx="505.6" cy="562.81" r="2.25" fill="#d4843c" stroke="none" stroke-width="1"/>
<circle cx="505.6" cy="565.44" r="2.25" fill="#d4843c" stroke="none" stroke-width="1"/>
<circle cx="505.6" cy="568.07" r="2.25" fill="#d4843c" stroke="none" stroke-width="1"/>
<circle cx="505.6" cy="570.69" r="2.25" fill="#d4843c" stroke="none" stroke-width="1"/>
<circle cx="505.6" cy="573.32" r="2.25" fill="#d4843c" stroke="none" stroke-width="1"/>
<circle cx="505.6" cy="575.95" r="2.25" fill="#d4843c" stroke="none" stroke-width="1"/>
<circle cx="505.6" cy="577.92" r="2.25" fill="#d4843c" stroke="none" stroke-width="1"/>
<path d="M524.6 554.93L536.2 548.36M524.6 556.9L536.2 545.73M524.6 568.72L536.2 550.99M524.6 573.98L536.2 558.87M524.6 575.95L536.2 561.5M524.6 576.61L536.2 566.75M524.6 576.61L536.2 573.32M524.6 556.9L536.2 550.99" stroke="#111" stroke-width="0.7" fill="none"/>
<circle cx="524.6" cy="554.93" r="1.9" fill="#fff" stroke="#111" stroke-width="0.8"/>
<circle cx="524.6" cy="556.9" r="1.9" fill="#fff" stroke="#111" stroke-width="0.8"/>
<circle cx="524.6" cy="568.72" r="1.9" fill="#fff" stroke="#111" stroke-width="0.8"/>
<circle cx="524.6" cy="573.98" r="1.9" fill="#fff" stroke="#111" stroke-width="0.8"/>
<circle cx="524.6" cy="575.95" r="1.9" fill="#fff" stroke="#111" stroke-width="0.8"/>
<circle cx="524.6" cy="576.61" r="1.9" fill="#fff" stroke="#111" stroke-width="0.8"/>
<circle cx="536.2" cy="545.73" r="2.25" fill="#d4843c" stroke="none" stroke-width="1"/>
<circle cx="536.2" cy="548.36" r="2.25" fill="#d4843c" stroke="none" stroke-width="1"/>
<circle cx="536.2" cy="550.99" r="2.25" fill="#d4843c" stroke="none" stroke-width="1"/>
<circle cx="536.2" cy="558.87" r="2.25" fill="#d4843c" stroke="none" stroke-width="1"/>
<circle cx="536.2" cy="561.5" r="2.25" fill="#d4843c" stroke="none" stroke-width="1"/>
<circle cx="536.2" cy="566.75" r="2.25" fill="#d4843c" stroke="none" stroke-width="1"/>
<circle cx="536.2" cy="573.32" r="2.25" fill="#d4843c" stroke="none" stroke-width="1"/>
<path d="M463.1 538.5V512.2H474.7V517.5" fill="none" stroke="#444" stroke-width="0.8"/>
<path d="M494 534.6V512.2H505.6V518.1" fill="none" stroke="#444" stroke-width="0.8"/>
<path d="M524.6 550.3V512.2H536.2V541.1" fill="none" stroke="#444" stroke-width="0.8"/>
<path d="M460.95 503.65L460.95 508.95M458.66 504.98L463.24 507.62M463.24 504.98L458.66 507.62M466.45 503.65L466.45 508.95M464.16 504.98L468.74 507.62M468.74 504.98L464.16 507.62M471.95 503.65L471.95 508.95M469.66 504.98L474.24 507.62M474.24 504.98L469.66 507.62M477.45 503.65L477.45 508.95M475.16 504.98L479.74 507.62M479.74 504.98L475.16 507.62" stroke="#111" stroke-width="1.5" fill="none"/>
<path d="M491.45 503.65L491.45 508.95M489.16 504.98L493.74 507.62M493.74 504.98L489.16 507.62M496.95 503.65L496.95 508.95M494.66 504.98L499.24 507.62M499.24 504.98L494.66 507.62M502.45 503.65L502.45 508.95M500.16 504.98L504.74 507.62M504.74 504.98L500.16 507.62M507.95 503.65L507.95 508.95M505.66 504.98L510.24 507.62M510.24 504.98L505.66 507.62" stroke="#111" stroke-width="1.5" fill="none"/>
<path d="M530.3 503.65L530.3 508.95M528.01 504.98L532.59 507.62M532.59 504.98L528.01 507.62" stroke="#111" stroke-width="1.5" fill="none"/>
<text x="0" y="0" font-size="14.5" font-weight="bold" fill="#111" transform="translate(555 491.7)">j</text>
<line x1="586" y1="512" x2="586" y2="600.5" stroke="#3a3a3a" stroke-width="1"/>
<line x1="582.5" y1="600" x2="586" y2="600" stroke="#3a3a3a" stroke-width="1"/>
<text x="0" y="0" font-size="10.2" text-anchor="end" fill="#111" stroke="#111" stroke-width="0.12" transform="translate(581.7 603.4) scale(0.93 1)">0</text>
<line x1="582.5" y1="578" x2="586" y2="578" stroke="#3a3a3a" stroke-width="1"/>
<text x="0" y="0" font-size="10.2" text-anchor="end" fill="#111" stroke="#111" stroke-width="0.12" transform="translate(581.7 581.4) scale(0.93 1)">2000</text>
<line x1="582.5" y1="556" x2="586" y2="556" stroke="#3a3a3a" stroke-width="1"/>
<text x="0" y="0" font-size="10.2" text-anchor="end" fill="#111" stroke="#111" stroke-width="0.12" transform="translate(581.7 559.4) scale(0.93 1)">4000</text>
<line x1="582.5" y1="534" x2="586" y2="534" stroke="#3a3a3a" stroke-width="1"/>
<text x="0" y="0" font-size="10.2" text-anchor="end" fill="#111" stroke="#111" stroke-width="0.12" transform="translate(581.7 537.4) scale(0.93 1)">6000</text>
<line x1="582.5" y1="512" x2="586" y2="512" stroke="#3a3a3a" stroke-width="1"/>
<text x="0" y="0" font-size="10.2" text-anchor="end" fill="#111" stroke="#111" stroke-width="0.12" transform="translate(581.7 515.4) scale(0.93 1)">8000</text>
<line x1="586" y1="600" x2="675" y2="600" stroke="#3a3a3a" stroke-width="1"/>
<text x="0" y="0" font-size="10.2" text-anchor="middle" fill="#111" stroke="#111" stroke-width="0.12" transform="translate(557 546.5) rotate(-90) scale(0.93 1)">CD86 (gMFI)</text>
<text x="0" y="0" font-size="10.2" text-anchor="middle" fill="#111" stroke="#111" stroke-width="0.12" transform="translate(601 612) scale(0.93 1)">Healthy</text>
<text x="0" y="0" font-size="10.2" text-anchor="middle" fill="#111" stroke="#111" stroke-width="0.12" transform="translate(630.5 612) scale(0.93 1)">Mild</text>
<text x="0" y="0" font-size="10.2" text-anchor="middle" fill="#111" stroke="#111" stroke-width="0.12" transform="translate(665 612) scale(0.93 1)">Moderate</text>
<path d="M594.1 564.12L605.7 558.21M594.1 566.1L605.7 555.58M594.1 568.07L605.7 560.84M594.1 570.69L605.7 563.47M594.1 573.32L605.7 566.1M594.1 575.29L605.7 568.72M594.1 577.26L605.7 571.35M594.1 579.23L605.7 573.98M594.1 581.86L605.7 576.61M594.1 581.86L605.7 578.58M594.1 587.12L605.7 589.09" stroke="#111" stroke-width="0.7" fill="none"/>
<circle cx="594.1" cy="564.12" r="1.9" fill="#fff" stroke="#111" stroke-width="0.8"/>
<circle cx="594.1" cy="566.1" r="1.9" fill="#fff" stroke="#111" stroke-width="0.8"/>
<circle cx="594.1" cy="568.07" r="1.9" fill="#fff" stroke="#111" stroke-width="0.8"/>
<circle cx="594.1" cy="570.69" r="1.9" fill="#fff" stroke="#111" stroke-width="0.8"/>
<circle cx="594.1" cy="573.32" r="1.9" fill="#fff" stroke="#111" stroke-width="0.8"/>
<circle cx="594.1" cy="575.29" r="1.9" fill="#fff" stroke="#111" stroke-width="0.8"/>
<circle cx="594.1" cy="577.26" r="1.9" fill="#fff" stroke="#111" stroke-width="0.8"/>
<circle cx="594.1" cy="579.23" r="1.9" fill="#fff" stroke="#111" stroke-width="0.8"/>
<circle cx="594.1" cy="581.86" r="1.9" fill="#fff" stroke="#111" stroke-width="0.8"/>
<circle cx="594.1" cy="587.12" r="1.9" fill="#fff" stroke="#111" stroke-width="0.8"/>
<circle cx="605.7" cy="555.58" r="2.25" fill="#d4843c" stroke="none" stroke-width="1"/>
<circle cx="605.7" cy="558.21" r="2.25" fill="#d4843c" stroke="none" stroke-width="1"/>
<circle cx="605.7" cy="560.84" r="2.25" fill="#d4843c" stroke="none" stroke-width="1"/>
<circle cx="605.7" cy="563.47" r="2.25" fill="#d4843c" stroke="none" stroke-width="1"/>
<circle cx="605.7" cy="566.1" r="2.25" fill="#d4843c" stroke="none" stroke-width="1"/>
<circle cx="605.7" cy="568.72" r="2.25" fill="#d4843c" stroke="none" stroke-width="1"/>
<circle cx="605.7" cy="571.35" r="2.25" fill="#d4843c" stroke="none" stroke-width="1"/>
<circle cx="605.7" cy="573.98" r="2.25" fill="#d4843c" stroke="none" stroke-width="1"/>
<circle cx="605.7" cy="576.61" r="2.25" fill="#d4843c" stroke="none" stroke-width="1"/>
<circle cx="605.7" cy="578.58" r="2.25" fill="#d4843c" stroke="none" stroke-width="1"/>
<circle cx="605.7" cy="589.09" r="2.25" fill="#d4843c" stroke="none" stroke-width="1"/>
<path d="M624.8 550.99L636.3 535.88M624.8 556.9L636.3 540.47M624.8 558.87L636.3 549.67M624.8 562.81L636.3 557.56M624.8 565.44L636.3 560.84M624.8 568.07L636.3 563.47M624.8 570.69L636.3 565.44M624.8 573.32L636.3 569.38M624.8 576.61L636.3 572.01M624.8 579.23L636.3 574.64M624.8 581.86L636.3 576.61M624.8 583.83L636.3 582.52M624.8 581.86L636.3 585.15M624.8 583.83L636.3 587.77" stroke="#111" stroke-width="0.7" fill="none"/>
<circle cx="624.8" cy="550.99" r="1.9" fill="#fff" stroke="#111" stroke-width="0.8"/>
<circle cx="624.8" cy="556.9" r="1.9" fill="#fff" stroke="#111" stroke-width="0.8"/>
<circle cx="624.8" cy="558.87" r="1.9" fill="#fff" stroke="#111" stroke-width="0.8"/>
<circle cx="624.8" cy="562.81" r="1.9" fill="#fff" stroke="#111" stroke-width="0.8"/>
<circle cx="624.8" cy="565.44" r="1.9" fill="#fff" stroke="#111" stroke-width="0.8"/>
<circle cx="624.8" cy="568.07" r="1.9" fill="#fff" stroke="#111" stroke-width="0.8"/>
<circle cx="624.8" cy="570.69" r="1.9" fill="#fff" stroke="#111" stroke-width="0.8"/>
<circle cx="624.8" cy="573.32" r="1.9" fill="#fff" stroke="#111" stroke-width="0.8"/>
<circle cx="624.8" cy="576.61" r="1.9" fill="#fff" stroke="#111" stroke-width="0.8"/>
<circle cx="624.8" cy="579.23" r="1.9" fill="#fff" stroke="#111" stroke-width="0.8"/>
<circle cx="624.8" cy="581.86" r="1.9" fill="#fff" stroke="#111" stroke-width="0.8"/>
<circle cx="624.8" cy="583.83" r="1.9" fill="#fff" stroke="#111" stroke-width="0.8"/>
<circle cx="636.3" cy="535.88" r="2.25" fill="#d4843c" stroke="none" stroke-width="1"/>
<circle cx="636.3" cy="540.47" r="2.25" fill="#d4843c" stroke="none" stroke-width="1"/>
<circle cx="636.3" cy="549.67" r="2.25" fill="#d4843c" stroke="none" stroke-width="1"/>
<circle cx="636.3" cy="557.56" r="2.25" fill="#d4843c" stroke="none" stroke-width="1"/>
<circle cx="636.3" cy="560.84" r="2.25" fill="#d4843c" stroke="none" stroke-width="1"/>
<circle cx="636.3" cy="563.47" r="2.25" fill="#d4843c" stroke="none" stroke-width="1"/>
<circle cx="636.3" cy="565.44" r="2.25" fill="#d4843c" stroke="none" stroke-width="1"/>
<circle cx="636.3" cy="569.38" r="2.25" fill="#d4843c" stroke="none" stroke-width="1"/>
<circle cx="636.3" cy="572.01" r="2.25" fill="#d4843c" stroke="none" stroke-width="1"/>
<circle cx="636.3" cy="574.64" r="2.25" fill="#d4843c" stroke="none" stroke-width="1"/>
<circle cx="636.3" cy="576.61" r="2.25" fill="#d4843c" stroke="none" stroke-width="1"/>
<circle cx="636.3" cy="582.52" r="2.25" fill="#d4843c" stroke="none" stroke-width="1"/>
<circle cx="636.3" cy="585.15" r="2.25" fill="#d4843c" stroke="none" stroke-width="1"/>
<circle cx="636.3" cy="587.77" r="2.25" fill="#d4843c" stroke="none" stroke-width="1"/>
<path d="M655.6 576.61L667.2 565.7M655.6 581.86L667.2 572.67M655.6 581.86L667.2 577.92M655.6 584.49L667.2 584.49M655.6 587.12L667.2 586.46M655.6 594.34L667.2 594.61" stroke="#111" stroke-width="0.7" fill="none"/>
<circle cx="655.6" cy="576.61" r="1.9" fill="#fff" stroke="#111" stroke-width="0.8"/>
<circle cx="655.6" cy="581.86" r="1.9" fill="#fff" stroke="#111" stroke-width="0.8"/>
<circle cx="655.6" cy="584.49" r="1.9" fill="#fff" stroke="#111" stroke-width="0.8"/>
<circle cx="655.6" cy="587.12" r="1.9" fill="#fff" stroke="#111" stroke-width="0.8"/>
<circle cx="655.6" cy="594.34" r="1.9" fill="#fff" stroke="#111" stroke-width="0.8"/>
<circle cx="667.2" cy="565.7" r="2.25" fill="#d4843c" stroke="none" stroke-width="1"/>
<circle cx="667.2" cy="572.67" r="2.25" fill="#d4843c" stroke="none" stroke-width="1"/>
<circle cx="667.2" cy="577.92" r="2.25" fill="#d4843c" stroke="none" stroke-width="1"/>
<circle cx="667.2" cy="584.49" r="2.25" fill="#d4843c" stroke="none" stroke-width="1"/>
<circle cx="667.2" cy="586.46" r="2.25" fill="#d4843c" stroke="none" stroke-width="1"/>
<circle cx="667.2" cy="594.61" r="2.25" fill="#d4843c" stroke="none" stroke-width="1"/>
<path d="M594.1 558.9V525.4H605.7V551" fill="none" stroke="#444" stroke-width="0.8"/>
<path d="M624.8 545V525.4H655.6V571.4" fill="none" stroke="#444" stroke-width="0.8"/>
<path d="M600.5 516.85L600.5 522.15M598.21 518.17L602.79 520.83M602.79 518.17L598.21 520.83" stroke="#111" stroke-width="1.5" fill="none"/>
<path d="M640.5 516.85L640.5 522.15M638.21 518.17L642.79 520.83M642.79 518.17L638.21 520.83" stroke="#111" stroke-width="1.5" fill="none"/>
<text x="0" y="0" font-size="14.5" font-weight="bold" fill="#111" transform="translate(12 788.7)">l</text>
<line x1="56.4" y1="805.3" x2="56.4" y2="893.8" stroke="#3a3a3a" stroke-width="1"/>
<line x1="52.9" y1="893.3" x2="56.4" y2="893.3" stroke="#3a3a3a" stroke-width="1"/>
<text x="0" y="0" font-size="10.2" text-anchor="end" fill="#111" stroke="#111" stroke-width="0.12" transform="translate(52.1 896.7) scale(0.93 1)">0</text>
<line x1="52.9" y1="871.3" x2="56.4" y2="871.3" stroke="#3a3a3a" stroke-width="1"/>
<text x="0" y="0" font-size="10.2" text-anchor="end" fill="#111" stroke="#111" stroke-width="0.12" transform="translate(52.1 874.7) scale(0.93 1)">5000</text>
<line x1="52.9" y1="849.3" x2="56.4" y2="849.3" stroke="#3a3a3a" stroke-width="1"/>
<text x="0" y="0" font-size="10.2" text-anchor="end" fill="#111" stroke="#111" stroke-width="0.12" transform="translate(52.1 852.7) scale(0.93 1)">10000</text>
<line x1="52.9" y1="827.3" x2="56.4" y2="827.3" stroke="#3a3a3a" stroke-width="1"/>
<text x="0" y="0" font-size="10.2" text-anchor="end" fill="#111" stroke="#111" stroke-width="0.12" transform="translate(52.1 830.7) scale(0.93 1)">15000</text>
<line x1="52.9" y1="805.3" x2="56.4" y2="805.3" stroke="#3a3a3a" stroke-width="1"/>
<text x="0" y="0" font-size="10.2" text-anchor="end" fill="#111" stroke="#111" stroke-width="0.12" transform="translate(52.1 808.7) scale(0.93 1)">20000</text>
<line x1="56.4" y1="893.3" x2="144.4" y2="893.3" stroke="#3a3a3a" stroke-width="1"/>
<text x="0" y="0" font-size="10.2" text-anchor="middle" fill="#111" stroke="#111" stroke-width="0.12" transform="translate(20.5 851) rotate(-90) scale(0.96 1)">Puromycin (gMFI)</text>
<text x="0" y="0" font-size="10.2" text-anchor="middle" fill="#111" stroke="#111" stroke-width="0.12" transform="translate(71.2 903.5) scale(0.93 1)">Healthy</text>
<text x="0" y="0" font-size="10.2" text-anchor="middle" fill="#111" stroke="#111" stroke-width="0.12" transform="translate(99.3 903.5) scale(0.93 1)">Mild</text>
<text x="0" y="0" font-size="10.2" text-anchor="middle" fill="#111" stroke="#111" stroke-width="0.12" transform="translate(133.8 903.5) scale(0.93 1)">Moderate</text>
<rect x="60.3" y="867.8" width="7.4" height="25.5" fill="#fff" stroke="#2e2e2e" stroke-width="0.95"/>
<line x1="64" y1="867.8" x2="64" y2="865.5" stroke="#333" stroke-width="0.9"/>
<line x1="60.5" y1="865.5" x2="67.5" y2="865.5" stroke="#333" stroke-width="1"/>
<rect x="71.4" y="848.1" width="7.9" height="45.2" fill="url(#hatch)" stroke="#2e2e2e" stroke-width="0.95"/>
<line x1="75.35" y1="848.1" x2="75.35" y2="841.2" stroke="#333" stroke-width="0.9"/>
<line x1="71.85" y1="841.2" x2="78.85" y2="841.2" stroke="#333" stroke-width="1"/>
<rect x="91.1" y="877" width="7.3" height="16.3" fill="#5b93d2" stroke="#2e2e2e" stroke-width="0.95"/>
<line x1="94.75" y1="877" x2="94.75" y2="872.8" stroke="#333" stroke-width="0.9"/>
<line x1="91.25" y1="872.8" x2="98.25" y2="872.8" stroke="#333" stroke-width="1"/>
<rect x="103" y="872.8" width="6.9" height="20.5" fill="url(#hatchM)" stroke="#2e2e2e" stroke-width="0.95"/>
<line x1="106.45" y1="872.8" x2="106.45" y2="870.8" stroke="#333" stroke-width="0.9"/>
<line x1="102.95" y1="870.8" x2="109.95" y2="870.8" stroke="#333" stroke-width="1"/>
<rect x="122" y="883" width="7" height="10.3" fill="#1d4f96" stroke="#2e2e2e" stroke-width="0.95"/>
<line x1="125.5" y1="883" x2="125.5" y2="880.7" stroke="#333" stroke-width="0.9"/>
<line x1="122" y1="880.7" x2="129" y2="880.7" stroke="#333" stroke-width="1"/>
<rect x="133.4" y="867.5" width="7.3" height="25.8" fill="url(#hatchD)" stroke="#2e2e2e" stroke-width="0.95"/>
<line x1="137.05" y1="867.5" x2="137.05" y2="862.9" stroke="#333" stroke-width="0.9"/>
<line x1="133.55" y1="862.9" x2="140.55" y2="862.9" stroke="#333" stroke-width="1"/>
<circle cx="61.57" cy="842.56" r="1.72" fill="#0d0d0d" stroke="none" stroke-width="1"/>
<circle cx="64.2" cy="844.53" r="1.72" fill="#0d0d0d" stroke="none" stroke-width="1"/>
<circle cx="61.57" cy="860.95" r="1.72" fill="#0d0d0d" stroke="none" stroke-width="1"/>
<circle cx="64.2" cy="862.26" r="1.72" fill="#0d0d0d" stroke="none" stroke-width="1"/>
<circle cx="62.88" cy="868.57" r="1.72" fill="#0d0d0d" stroke="none" stroke-width="1"/>
<circle cx="64.2" cy="872.77" r="1.72" fill="#0d0d0d" stroke="none" stroke-width="1"/>
<circle cx="61.57" cy="883.29" r="1.72" fill="#0d0d0d" stroke="none" stroke-width="1"/>
<circle cx="64.2" cy="884.6" r="1.72" fill="#0d0d0d" stroke="none" stroke-width="1"/>
<circle cx="61.57" cy="886.57" r="1.72" fill="#0d0d0d" stroke="none" stroke-width="1"/>
<circle cx="73.39" cy="821.53" r="1.72" fill="#0d0d0d" stroke="none" stroke-width="1"/>
<circle cx="75.76" cy="823.5" r="1.72" fill="#0d0d0d" stroke="none" stroke-width="1"/>
<circle cx="73.39" cy="855.04" r="1.72" fill="#0d0d0d" stroke="none" stroke-width="1"/>
<circle cx="77.6" cy="854.38" r="1.72" fill="#0d0d0d" stroke="none" stroke-width="1"/>
<circle cx="74.71" cy="857.67" r="1.72" fill="#0d0d0d" stroke="none" stroke-width="1"/>
<circle cx="77.6" cy="859.64" r="1.72" fill="#0d0d0d" stroke="none" stroke-width="1"/>
<circle cx="73.39" cy="860.95" r="1.72" fill="#0d0d0d" stroke="none" stroke-width="1"/>
<circle cx="94.42" cy="857.01" r="1.72" fill="#0d0d0d" stroke="none" stroke-width="1"/>
<circle cx="94.42" cy="865.94" r="1.72" fill="#0d0d0d" stroke="none" stroke-width="1"/>
<circle cx="93.1" cy="872.77" r="1.72" fill="#0d0d0d" stroke="none" stroke-width="1"/>
<circle cx="96.78" cy="872.51" r="1.72" fill="#0d0d0d" stroke="none" stroke-width="1"/>
<circle cx="93.1" cy="883.29" r="1.72" fill="#0d0d0d" stroke="none" stroke-width="1"/>
<circle cx="96.78" cy="887.23" r="1.72" fill="#0d0d0d" stroke="none" stroke-width="1"/>
<circle cx="93.1" cy="890.51" r="1.72" fill="#0d0d0d" stroke="none" stroke-width="1"/>
<circle cx="104.27" cy="870.15" r="1.72" fill="#0d0d0d" stroke="none" stroke-width="1"/>
<circle cx="108.21" cy="869.49" r="1.72" fill="#0d0d0d" stroke="none" stroke-width="1"/>
<circle cx="105.58" cy="872.12" r="1.72" fill="#0d0d0d" stroke="none" stroke-width="1"/>
<circle cx="108.61" cy="873.43" r="1.72" fill="#0d0d0d" stroke="none" stroke-width="1"/>
<circle cx="104.27" cy="876.72" r="1.72" fill="#0d0d0d" stroke="none" stroke-width="1"/>
<circle cx="124.64" cy="872.77" r="1.72" fill="#0d0d0d" stroke="none" stroke-width="1"/>
<circle cx="126.61" cy="872.12" r="1.72" fill="#0d0d0d" stroke="none" stroke-width="1"/>
<circle cx="123.98" cy="879.34" r="1.72" fill="#0d0d0d" stroke="none" stroke-width="1"/>
<circle cx="127.26" cy="880.66" r="1.72" fill="#0d0d0d" stroke="none" stroke-width="1"/>
<circle cx="123.32" cy="887.23" r="1.72" fill="#0d0d0d" stroke="none" stroke-width="1"/>
<circle cx="126.61" cy="887.88" r="1.72" fill="#0d0d0d" stroke="none" stroke-width="1"/>
<circle cx="123.98" cy="889.86" r="1.72" fill="#0d0d0d" stroke="none" stroke-width="1"/>
<circle cx="135.15" cy="860.29" r="1.72" fill="#0d0d0d" stroke="none" stroke-width="1"/>
<circle cx="137.77" cy="860.95" r="1.72" fill="#0d0d0d" stroke="none" stroke-width="1"/>
<circle cx="134.49" cy="862.92" r="1.72" fill="#0d0d0d" stroke="none" stroke-width="1"/>
<circle cx="139.09" cy="863.58" r="1.72" fill="#0d0d0d" stroke="none" stroke-width="1"/>
<circle cx="135.8" cy="868.83" r="1.72" fill="#0d0d0d" stroke="none" stroke-width="1"/>
<circle cx="139.09" cy="868.83" r="1.72" fill="#0d0d0d" stroke="none" stroke-width="1"/>
<circle cx="136.46" cy="874.09" r="1.72" fill="#0d0d0d" stroke="none" stroke-width="1"/>
<circle cx="137.12" cy="879.34" r="1.72" fill="#0d0d0d" stroke="none" stroke-width="1"/>
<circle cx="135.8" cy="887.23" r="1.72" fill="#0d0d0d" stroke="none" stroke-width="1"/>
<path d="M64.2 837.3V811.3H73.4V817" fill="none" stroke="#444" stroke-width="0.8"/>
<path d="M77.1 817V811.3H106.5V864.9" fill="none" stroke="#444" stroke-width="0.8"/>
<path d="M75.4 799.5V794.6H137.1V855" fill="none" stroke="#444" stroke-width="0.8"/>
<path d="M68.8 803.15L68.8 807.85M66.76 804.33L70.84 806.67M70.84 804.33L66.76 806.67" stroke="#111" stroke-width="1.4" fill="none"/>
<path d="M92 803.15L92 807.85M89.96 804.33L94.04 806.67M94.04 804.33L89.96 806.67" stroke="#111" stroke-width="1.4" fill="none"/>
<path d="M103.6 786.25L103.6 790.95M101.56 787.43L105.64 789.77M105.64 787.43L101.56 789.77M108.4 786.25L108.4 790.95M106.36 787.43L110.44 789.77M110.44 787.43L106.36 789.77" stroke="#111" stroke-width="1.4" fill="none"/>
<rect x="144.4" y="797" width="10" height="5.2" fill="#fff" stroke="#333" stroke-width="0.9"/>
<rect x="144.4" y="807.6" width="10" height="5.2" fill="url(#hatch)" stroke="#333" stroke-width="0.9"/>
<text x="0" y="0" font-size="10.2" fill="#111" stroke="#111" stroke-width="0.12" transform="translate(158.4 802.4) scale(0.93 1)">Vehicle</text>
<text x="0" y="0" font-size="10.2" fill="#111" stroke="#111" stroke-width="0.12" transform="translate(158.4 813.2) scale(0.93 1)">LPS</text>
<text x="0" y="0" font-size="14.5" font-weight="bold" fill="#111" transform="translate(203.5 789.7)">m</text>
<line x1="239.6" y1="803.5" x2="239.6" y2="892" stroke="#3a3a3a" stroke-width="1"/>
<line x1="236.1" y1="891.5" x2="239.6" y2="891.5" stroke="#3a3a3a" stroke-width="1"/>
<text x="0" y="0" font-size="10.2" text-anchor="end" fill="#111" stroke="#111" stroke-width="0.12" transform="translate(235.3 894.9) scale(0.93 1)">0</text>
<line x1="236.1" y1="862.16" x2="239.6" y2="862.16" stroke="#3a3a3a" stroke-width="1"/>
<text x="0" y="0" font-size="10.2" text-anchor="end" fill="#111" stroke="#111" stroke-width="0.12" transform="translate(235.3 865.56) scale(0.93 1)">50</text>
<line x1="236.1" y1="832.83" x2="239.6" y2="832.83" stroke="#3a3a3a" stroke-width="1"/>
<text x="0" y="0" font-size="10.2" text-anchor="end" fill="#111" stroke="#111" stroke-width="0.12" transform="translate(235.3 836.23) scale(0.93 1)">100</text>
<line x1="236.1" y1="803.5" x2="239.6" y2="803.5" stroke="#3a3a3a" stroke-width="1"/>
<text x="0" y="0" font-size="10.2" text-anchor="end" fill="#111" stroke="#111" stroke-width="0.12" transform="translate(235.3 806.89) scale(0.93 1)">150</text>
<line x1="239.6" y1="891.5" x2="298" y2="891.5" stroke="#3a3a3a" stroke-width="1"/>
<text x="0" y="0" font-size="10.2" text-anchor="middle" fill="#111" stroke="#111" stroke-width="0.12" transform="translate(215.5 846) rotate(-90) scale(0.93 1)">Glycolytic capacity (%)</text>
<rect x="245.4" y="839.3" width="11.7" height="52.2" fill="#fff" stroke="#2e2e2e" stroke-width="0.95"/>
<line x1="251.25" y1="839.3" x2="251.25" y2="836" stroke="#333" stroke-width="0.9"/>
<line x1="247.75" y1="836" x2="254.75" y2="836" stroke="#333" stroke-width="1"/>
<rect x="263.6" y="844.5" width="11.1" height="47" fill="#5b93d2" stroke="#2e2e2e" stroke-width="0.95"/>
<line x1="269.15" y1="844.5" x2="269.15" y2="842" stroke="#333" stroke-width="0.9"/>
<line x1="265.65" y1="842" x2="272.65" y2="842" stroke="#333" stroke-width="1"/>
<rect x="281.5" y="854.3" width="10.3" height="37.2" fill="#1d4f96" stroke="#2e2e2e" stroke-width="0.95"/>
<line x1="286.65" y1="854.3" x2="286.65" y2="847.4" stroke="#333" stroke-width="0.9"/>
<line x1="283.15" y1="847.4" x2="290.15" y2="847.4" stroke="#333" stroke-width="1"/>
<circle cx="250.97" cy="827.99" r="1.5" fill="#0d0d0d" stroke="none" stroke-width="1"/>
<circle cx="248.64" cy="836.16" r="1.5" fill="#0d0d0d" stroke="none" stroke-width="1"/>
<circle cx="253.82" cy="835.51" r="1.5" fill="#0d0d0d" stroke="none" stroke-width="1"/>
<circle cx="250.97" cy="837.72" r="1.5" fill="#0d0d0d" stroke="none" stroke-width="1"/>
<circle cx="248.38" cy="840.7" r="1.5" fill="#0d0d0d" stroke="none" stroke-width="1"/>
<circle cx="253.82" cy="840.31" r="1.5" fill="#0d0d0d" stroke="none" stroke-width="1"/>
<circle cx="248.64" cy="846.8" r="1.5" fill="#0d0d0d" stroke="none" stroke-width="1"/>
<circle cx="253.82" cy="845.89" r="1.5" fill="#0d0d0d" stroke="none" stroke-width="1"/>
<circle cx="268.87" cy="838.37" r="1.5" fill="#0d0d0d" stroke="none" stroke-width="1"/>
<circle cx="266.53" cy="843.55" r="1.5" fill="#0d0d0d" stroke="none" stroke-width="1"/>
<circle cx="271.46" cy="845.5" r="1.5" fill="#0d0d0d" stroke="none" stroke-width="1"/>
<circle cx="268.87" cy="849.65" r="1.5" fill="#0d0d0d" stroke="none" stroke-width="1"/>
<circle cx="286.38" cy="829.94" r="1.5" fill="#0d0d0d" stroke="none" stroke-width="1"/>
<circle cx="286.38" cy="836.03" r="1.5" fill="#0d0d0d" stroke="none" stroke-width="1"/>
<circle cx="286.38" cy="839.66" r="1.5" fill="#0d0d0d" stroke="none" stroke-width="1"/>
<circle cx="284.04" cy="848.74" r="1.5" fill="#0d0d0d" stroke="none" stroke-width="1"/>
<circle cx="289.23" cy="847.19" r="1.5" fill="#0d0d0d" stroke="none" stroke-width="1"/>
<circle cx="284.04" cy="851.34" r="1.5" fill="#0d0d0d" stroke="none" stroke-width="1"/>
<circle cx="289.23" cy="850.69" r="1.5" fill="#0d0d0d" stroke="none" stroke-width="1"/>
<circle cx="286.38" cy="865.86" r="1.5" fill="#0d0d0d" stroke="none" stroke-width="1"/>
<circle cx="286.38" cy="870.4" r="1.5" fill="#0d0d0d" stroke="none" stroke-width="1"/>
<path d="M251.2 804V796.9H286.6V820.2" fill="none" stroke="#444" stroke-width="0.8"/>
<path d="M268.9 788.65L268.9 793.35M266.86 789.83L270.94 792.17M270.94 789.83L266.86 792.17" stroke="#111" stroke-width="1.4" fill="none"/>
<text x="0" y="0" font-size="10.2" text-anchor="end" fill="#111" stroke="#111" stroke-width="0.12" transform="translate(256 898) rotate(-45) scale(0.93 1)">Healthy</text>
<text x="0" y="0" font-size="10.2" text-anchor="end" fill="#111" stroke="#111" stroke-width="0.12" transform="translate(274 898) rotate(-45) scale(0.93 1)">Mild</text>
<text x="0" y="0" font-size="10.2" text-anchor="end" fill="#111" stroke="#111" stroke-width="0.12" transform="translate(292 898) rotate(-45) scale(0.93 1)">Moderate</text>
<text x="0" y="0" font-size="14.5" font-weight="bold" fill="#111" transform="translate(312 789.7)">n</text>
<line x1="349.4" y1="803.31" x2="349.4" y2="891.8" stroke="#3a3a3a" stroke-width="1"/>
<line x1="345.9" y1="891.3" x2="349.4" y2="891.3" stroke="#3a3a3a" stroke-width="1"/>
<text x="0" y="0" font-size="10.2" text-anchor="end" fill="#111" stroke="#111" stroke-width="0.12" transform="translate(345.1 894.7) scale(0.93 1)">0</text>
<line x1="345.9" y1="861.97" x2="349.4" y2="861.97" stroke="#3a3a3a" stroke-width="1"/>
<text x="0" y="0" font-size="10.2" text-anchor="end" fill="#111" stroke="#111" stroke-width="0.12" transform="translate(345.1 865.37) scale(0.93 1)">10</text>
<line x1="345.9" y1="832.64" x2="349.4" y2="832.64" stroke="#3a3a3a" stroke-width="1"/>
<text x="0" y="0" font-size="10.2" text-anchor="end" fill="#111" stroke="#111" stroke-width="0.12" transform="translate(345.1 836.04) scale(0.93 1)">20</text>
<line x1="345.9" y1="803.31" x2="349.4" y2="803.31" stroke="#3a3a3a" stroke-width="1"/>
<text x="0" y="0" font-size="10.2" text-anchor="end" fill="#111" stroke="#111" stroke-width="0.12" transform="translate(345.1 806.71) scale(0.93 1)">30</text>
<line x1="349.4" y1="891.3" x2="408" y2="891.3" stroke="#3a3a3a" stroke-width="1"/>
<text x="0" y="0" font-size="10.2" text-anchor="middle" fill="#111" stroke="#111" stroke-width="0.12" transform="translate(319.5 843) rotate(-90) scale(0.93 1)">FA and AA oxidation</text>
<text x="0" y="0" font-size="10.2" text-anchor="middle" fill="#111" stroke="#111" stroke-width="0.12" transform="translate(331.5 844.5) rotate(-90) scale(0.93 1)">capacity (%)</text>
<rect x="355.3" y="884.3" width="11.6" height="7" fill="#fff" stroke="#2e2e2e" stroke-width="0.95"/>
<line x1="361.1" y1="884.3" x2="361.1" y2="882.2" stroke="#333" stroke-width="0.9"/>
<line x1="357.6" y1="882.2" x2="364.6" y2="882.2" stroke="#333" stroke-width="1"/>
<rect x="373" y="890.2" width="11.8" height="1.1" fill="#5b93d2" stroke="#2e2e2e" stroke-width="0.95"/>
<line x1="378.9" y1="890.2" x2="378.9" y2="885" stroke="#333" stroke-width="0.9"/>
<line x1="375.4" y1="885" x2="382.4" y2="885" stroke="#333" stroke-width="1"/>
<rect x="390.8" y="865.1" width="11.2" height="26.2" fill="#1d4f96" stroke="#2e2e2e" stroke-width="0.95"/>
<line x1="396.4" y1="865.1" x2="396.4" y2="857.2" stroke="#333" stroke-width="0.9"/>
<line x1="392.9" y1="857.2" x2="399.9" y2="857.2" stroke="#333" stroke-width="1"/>
<circle cx="356.42" cy="883.62" r="1.5" fill="#0d0d0d" stroke="none" stroke-width="1"/>
<circle cx="358.52" cy="886.15" r="1.5" fill="#0d0d0d" stroke="none" stroke-width="1"/>
<circle cx="361.33" cy="882.92" r="1.5" fill="#0d0d0d" stroke="none" stroke-width="1"/>
<circle cx="363.43" cy="886.43" r="1.5" fill="#0d0d0d" stroke="none" stroke-width="1"/>
<circle cx="365.53" cy="883.34" r="1.5" fill="#0d0d0d" stroke="none" stroke-width="1"/>
<circle cx="356.42" cy="888.53" r="1.5" fill="#0d0d0d" stroke="none" stroke-width="1"/>
<circle cx="361.33" cy="887.83" r="1.5" fill="#0d0d0d" stroke="none" stroke-width="1"/>
<circle cx="365.53" cy="888.95" r="1.5" fill="#0d0d0d" stroke="none" stroke-width="1"/>
<circle cx="358.52" cy="884.32" r="1.5" fill="#0d0d0d" stroke="none" stroke-width="1"/>
<circle cx="378.58" cy="878.71" r="1.5" fill="#0d0d0d" stroke="none" stroke-width="1"/>
<circle cx="378.58" cy="890.63" r="1.5" fill="#0d0d0d" stroke="none" stroke-width="1"/>
<circle cx="396.39" cy="810.68" r="1.5" fill="#0d0d0d" stroke="none" stroke-width="1"/>
<circle cx="396.39" cy="844.06" r="1.5" fill="#0d0d0d" stroke="none" stroke-width="1"/>
<circle cx="396.39" cy="855.85" r="1.5" fill="#0d0d0d" stroke="none" stroke-width="1"/>
<circle cx="396.39" cy="868.19" r="1.5" fill="#0d0d0d" stroke="none" stroke-width="1"/>
<circle cx="393.59" cy="874.92" r="1.5" fill="#0d0d0d" stroke="none" stroke-width="1"/>
<circle cx="398.78" cy="875.48" r="1.5" fill="#0d0d0d" stroke="none" stroke-width="1"/>
<circle cx="393.59" cy="878.29" r="1.5" fill="#0d0d0d" stroke="none" stroke-width="1"/>
<circle cx="398.78" cy="880.81" r="1.5" fill="#0d0d0d" stroke="none" stroke-width="1"/>
<circle cx="396.39" cy="884.32" r="1.5" fill="#0d0d0d" stroke="none" stroke-width="1"/>
<path d="M361.3 877.3V783H396.8V795.2" fill="none" stroke="#444" stroke-width="0.8"/>
<path d="M378.6 874.5V800.2H396.8V805" fill="none" stroke="#444" stroke-width="0.8"/>
<path d="M378.9 774.65L378.9 779.35M376.86 775.83L380.94 778.17M380.94 775.83L376.86 778.17" stroke="#111" stroke-width="1.4" fill="none"/>
<path d="M387.7 792.15L387.7 796.85M385.66 793.33L389.74 795.67M389.74 793.33L385.66 795.67" stroke="#111" stroke-width="1.4" fill="none"/>
<text x="0" y="0" font-size="10.2" text-anchor="end" fill="#111" stroke="#111" stroke-width="0.12" transform="translate(366 898) rotate(-45) scale(0.93 1)">Healthy</text>
<text x="0" y="0" font-size="10.2" text-anchor="end" fill="#111" stroke="#111" stroke-width="0.12" transform="translate(384 898) rotate(-45) scale(0.93 1)">Mild</text>
<text x="0" y="0" font-size="10.2" text-anchor="end" fill="#111" stroke="#111" stroke-width="0.12" transform="translate(401.5 898) rotate(-45) scale(0.93 1)">Moderate</text>
<line x1="598.5" y1="663.8" x2="608.1" y2="663.8" stroke="#555" stroke-width="0.8"/>
<circle cx="603.3" cy="663.8" r="1.7" fill="#fff" stroke="#222" stroke-width="0.7"/>
<line x1="598.5" y1="675.4" x2="608.1" y2="675.4" stroke="#555" stroke-width="0.8"/>
<circle cx="603.3" cy="675.4" r="2" fill="#d4843c" stroke="none" stroke-width="1"/>
<text x="0" y="0" font-size="10.2" fill="#111" stroke="#111" stroke-width="0.12" transform="translate(613.4 666.9) scale(0.93 1)">Vehicle</text>
<text x="0" y="0" font-size="10.2" fill="#111" stroke="#111" stroke-width="0.12" transform="translate(613.4 678.5) scale(0.93 1)">CoV2</text>
<line x1="28.4" y1="406.3" x2="104.4" y2="406.3" stroke="#e0843e" stroke-width="0.7"/>
<line x1="115.6" y1="406.3" x2="191.6" y2="406.3" stroke="#e0843e" stroke-width="0.7"/>
<line x1="203.2" y1="406.3" x2="279.2" y2="406.3" stroke="#e0843e" stroke-width="0.7"/>
<line x1="26.4" y1="531.6" x2="102.4" y2="531.6" stroke="#e0843e" stroke-width="0.7"/>
<line x1="112.4" y1="531.6" x2="188.4" y2="531.6" stroke="#e0843e" stroke-width="0.7"/>
<line x1="198.4" y1="531.6" x2="274.4" y2="531.6" stroke="#e0843e" stroke-width="0.7"/>
<line x1="26.4" y1="634.8" x2="102.4" y2="634.8" stroke="#e0843e" stroke-width="0.7"/>
<line x1="112.4" y1="634.8" x2="188.4" y2="634.8" stroke="#e0843e" stroke-width="0.7"/>
<line x1="198.4" y1="634.8" x2="274.4" y2="634.8" stroke="#e0843e" stroke-width="0.7"/>
<line x1="26.4" y1="738.4" x2="102.4" y2="738.4" stroke="#e0843e" stroke-width="0.7"/>
<line x1="112.4" y1="738.4" x2="188.4" y2="738.4" stroke="#e0843e" stroke-width="0.7"/>
<line x1="198.4" y1="738.4" x2="274.4" y2="738.4" stroke="#e0843e" stroke-width="0.7"/>
<line x1="328.8" y1="738.4" x2="404.8" y2="738.4" stroke="#e0843e" stroke-width="0.7"/>
<line x1="422.4" y1="738.4" x2="498.4" y2="738.4" stroke="#e0843e" stroke-width="0.7"/>
<line x1="515.3" y1="738.4" x2="591.3" y2="738.4" stroke="#e0843e" stroke-width="0.7"/>
</svg></body></html>
